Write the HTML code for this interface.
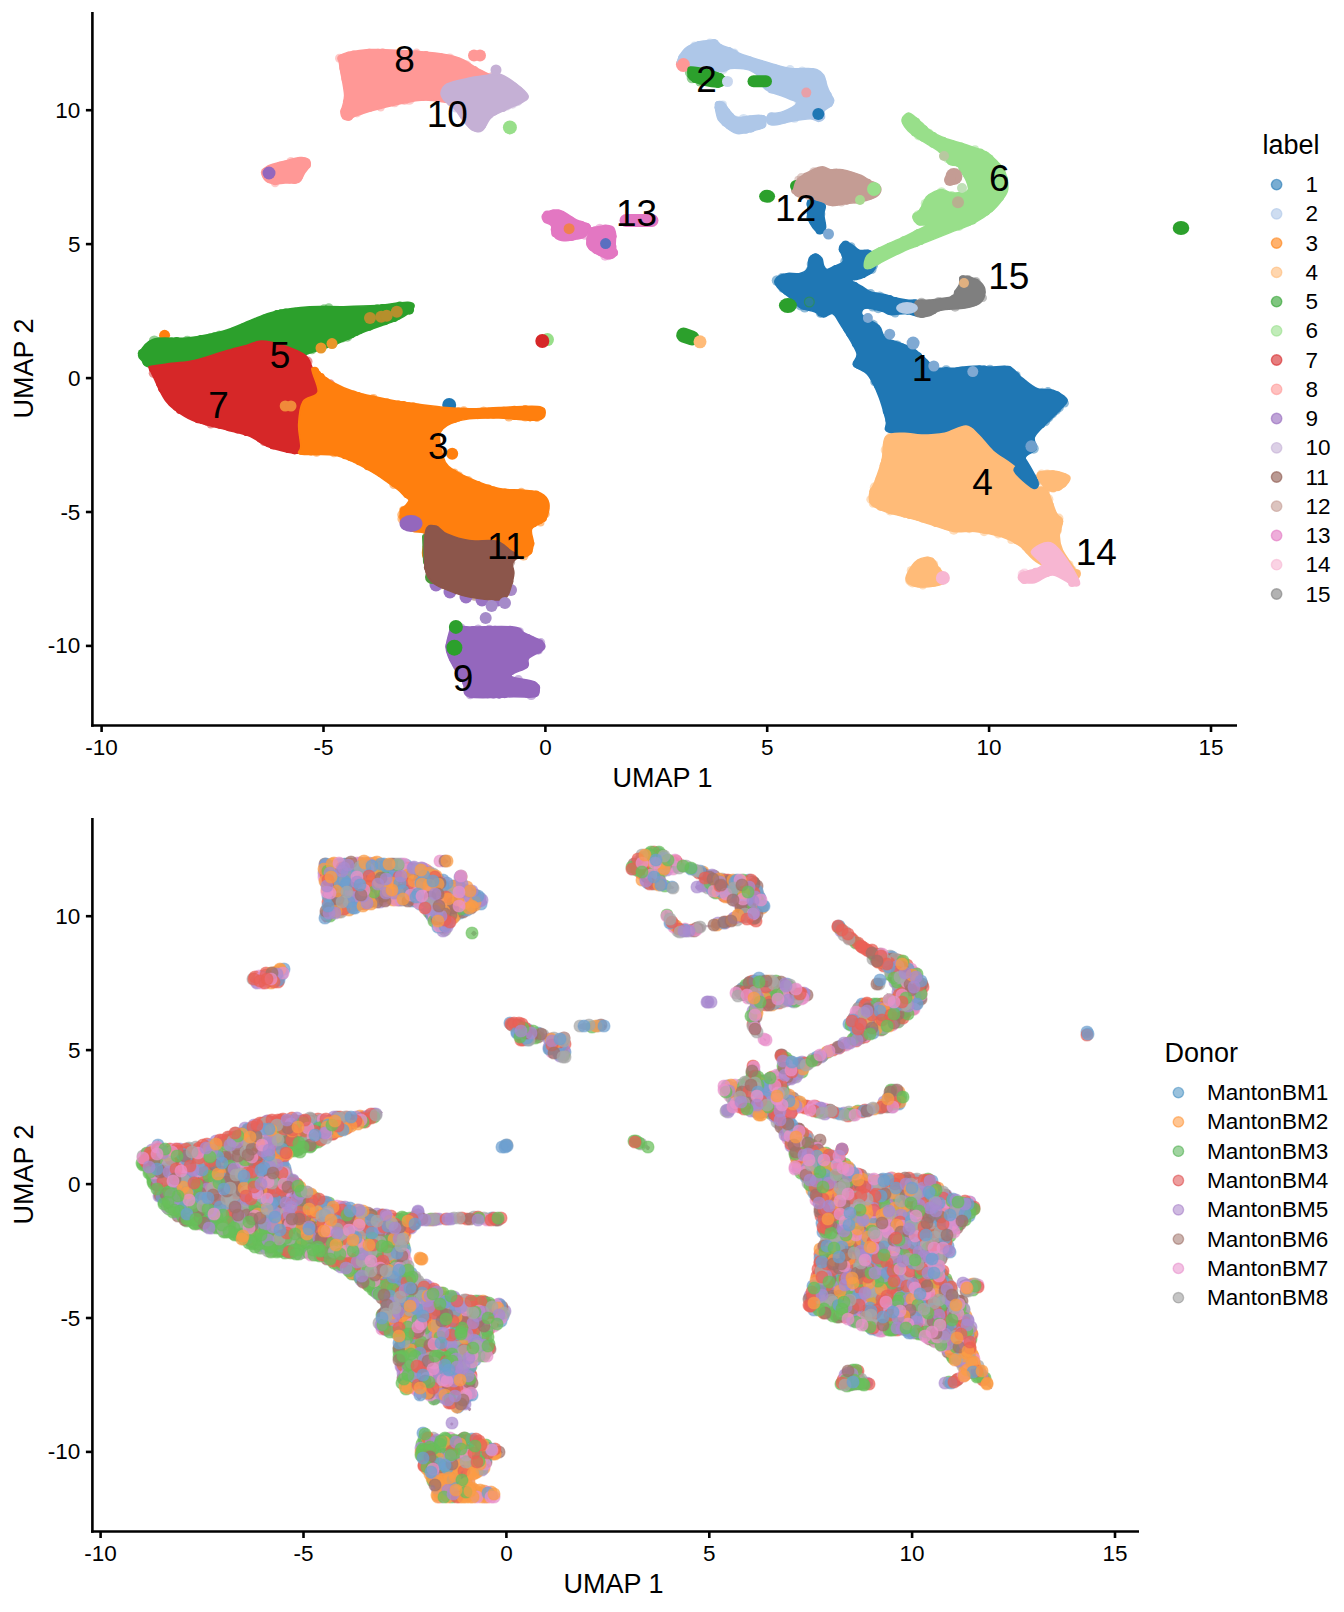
<!DOCTYPE html><html><head><meta charset="utf-8"><style>html,body{margin:0;padding:0;background:#fff;}svg{display:block;}text{font-family:"Liberation Sans", sans-serif;}</style></head><body>
<svg width="1344" height="1612" viewBox="0 0 1344 1612">
<rect width="1344" height="1612" fill="#fff"/>
<g>
<g fill="#2ca02c" fill-opacity=".5"><circle cx="154.3" cy="341.0" r="5.5"/><circle cx="161.7" cy="340.3" r="4.3"/><circle cx="187.3" cy="340.8" r="5.1"/><circle cx="219.3" cy="335.7" r="5.2"/><circle cx="324.0" cy="308.5" r="4.3"/><circle cx="328.8" cy="307.8" r="4.5"/><circle cx="347.3" cy="336.6" r="5.1"/><circle cx="342.8" cy="337.8" r="4.7"/><circle cx="312.1" cy="349.9" r="4.4"/><circle cx="297.8" cy="357.1" r="5.4"/><circle cx="245.4" cy="348.5" r="5.2"/><circle cx="241.2" cy="350.4" r="4.8"/><circle cx="226.6" cy="353.3" r="4.3"/><circle cx="200.0" cy="360.0" r="5.5"/><circle cx="190.9" cy="362.7" r="4.8"/><circle cx="166.3" cy="363.9" r="5.2"/></g>
<g fill="#2ca02c"><circle cx="142.1" cy="353.2" r="4.3"/><circle cx="144.4" cy="352.4" r="4.4"/><circle cx="150.4" cy="345.1" r="4.0"/><circle cx="161.7" cy="340.8" r="3.5"/><circle cx="166.3" cy="341.6" r="4.2"/><circle cx="171.4" cy="342.0" r="4.5"/><circle cx="176.7" cy="341.0" r="3.9"/><circle cx="187.3" cy="341.5" r="3.8"/><circle cx="200.9" cy="338.7" r="3.8"/><circle cx="210.2" cy="337.8" r="4.4"/><circle cx="214.6" cy="336.2" r="4.0"/><circle cx="219.4" cy="336.1" r="3.9"/><circle cx="228.9" cy="334.0" r="4.6"/><circle cx="233.6" cy="331.7" r="4.1"/><circle cx="243.2" cy="328.4" r="4.8"/><circle cx="251.7" cy="324.9" r="5.0"/><circle cx="260.1" cy="320.3" r="3.6"/><circle cx="264.4" cy="319.0" r="4.4"/><circle cx="276.9" cy="313.7" r="3.7"/><circle cx="281.0" cy="313.1" r="3.8"/><circle cx="285.7" cy="313.3" r="4.9"/><circle cx="290.4" cy="312.4" r="3.7"/><circle cx="295.3" cy="312.3" r="4.6"/><circle cx="305.2" cy="311.6" r="4.6"/><circle cx="324.0" cy="309.8" r="3.9"/><circle cx="343.2" cy="310.2" r="3.6"/><circle cx="352.9" cy="310.4" r="4.5"/><circle cx="357.8" cy="311.3" r="5.0"/><circle cx="377.0" cy="308.9" r="4.5"/><circle cx="382.7" cy="308.6" r="4.7"/><circle cx="399.9" cy="306.0" r="4.5"/><circle cx="409.3" cy="309.9" r="4.8"/><circle cx="409.0" cy="307.7" r="4.4"/><circle cx="397.6" cy="316.2" r="3.5"/><circle cx="394.2" cy="318.3" r="3.8"/><circle cx="389.3" cy="318.2" r="4.8"/><circle cx="385.0" cy="321.1" r="4.1"/><circle cx="369.4" cy="326.5" r="4.2"/><circle cx="360.0" cy="330.1" r="3.8"/><circle cx="355.6" cy="331.9" r="4.1"/><circle cx="351.2" cy="333.6" r="4.8"/><circle cx="347.3" cy="336.6" r="3.5"/><circle cx="342.2" cy="336.4" r="4.7"/><circle cx="334.8" cy="341.7" r="3.6"/><circle cx="316.2" cy="347.1" r="3.8"/><circle cx="297.2" cy="356.2" r="4.7"/><circle cx="293.0" cy="358.8" r="4.2"/><circle cx="290.6" cy="358.7" r="4.4"/><circle cx="267.0" cy="351.9" r="4.8"/><circle cx="261.6" cy="349.7" r="4.7"/><circle cx="250.3" cy="348.6" r="4.2"/><circle cx="245.4" cy="349.4" r="3.5"/><circle cx="240.9" cy="347.7" r="4.7"/><circle cx="222.3" cy="352.3" r="4.6"/><circle cx="213.9" cy="355.6" r="4.1"/><circle cx="209.2" cy="356.5" r="4.8"/><circle cx="199.8" cy="359.4" r="4.3"/><circle cx="195.0" cy="360.2" r="4.7"/><circle cx="181.6" cy="362.6" r="4.2"/><circle cx="171.4" cy="363.7" r="4.0"/><circle cx="161.5" cy="364.6" r="3.8"/><circle cx="157.1" cy="363.2" r="4.4"/><circle cx="153.3" cy="363.3" r="4.3"/><circle cx="150.9" cy="363.5" r="4.2"/><circle cx="146.1" cy="361.8" r="3.7"/></g>
<g fill="#d62728" fill-opacity=".5"><circle cx="176.4" cy="364.2" r="4.4"/><circle cx="185.0" cy="363.7" r="4.6"/><circle cx="194.8" cy="362.1" r="4.8"/><circle cx="199.7" cy="361.7" r="4.2"/><circle cx="210.0" cy="358.3" r="4.3"/><circle cx="219.8" cy="353.5" r="4.1"/><circle cx="229.7" cy="351.8" r="5.1"/><circle cx="239.0" cy="349.8" r="5.3"/><circle cx="283.0" cy="347.5" r="4.5"/><circle cx="307.6" cy="361.4" r="4.9"/><circle cx="330.1" cy="384.1" r="4.9"/><circle cx="323.7" cy="389.2" r="5.4"/><circle cx="310.3" cy="394.9" r="4.4"/><circle cx="301.4" cy="400.2" r="5.5"/><circle cx="296.1" cy="424.0" r="4.9"/><circle cx="297.0" cy="430.1" r="4.7"/><circle cx="264.3" cy="441.3" r="4.8"/><circle cx="210.8" cy="424.3" r="4.3"/><circle cx="153.5" cy="373.2" r="4.8"/></g>
<g fill="#d62728"><circle cx="172.6" cy="367.9" r="4.9"/><circle cx="180.7" cy="365.0" r="3.6"/><circle cx="189.9" cy="364.2" r="3.8"/><circle cx="200.2" cy="363.3" r="4.5"/><circle cx="225.4" cy="355.5" r="4.6"/><circle cx="230.1" cy="353.2" r="4.1"/><circle cx="234.8" cy="351.9" r="4.2"/><circle cx="239.2" cy="350.6" r="3.7"/><circle cx="261.6" cy="344.9" r="4.9"/><circle cx="287.3" cy="350.1" r="4.0"/><circle cx="291.8" cy="352.8" r="4.9"/><circle cx="301.0" cy="355.9" r="4.1"/><circle cx="307.5" cy="367.2" r="4.1"/><circle cx="311.5" cy="372.6" r="3.6"/><circle cx="326.8" cy="384.9" r="4.9"/><circle cx="323.5" cy="388.8" r="4.2"/><circle cx="318.2" cy="391.5" r="4.4"/><circle cx="310.0" cy="393.5" r="4.6"/><circle cx="304.6" cy="395.3" r="4.6"/><circle cx="297.2" cy="403.5" r="4.9"/><circle cx="295.3" cy="413.8" r="4.9"/><circle cx="295.9" cy="430.2" r="3.6"/><circle cx="296.5" cy="436.6" r="3.9"/><circle cx="294.7" cy="449.6" r="4.8"/><circle cx="288.6" cy="449.2" r="3.9"/><circle cx="273.6" cy="444.6" r="5.0"/><circle cx="268.5" cy="443.3" r="3.6"/><circle cx="260.7" cy="438.2" r="4.5"/><circle cx="256.5" cy="435.3" r="4.2"/><circle cx="246.7" cy="432.4" r="3.7"/><circle cx="237.6" cy="429.6" r="3.9"/><circle cx="229.0" cy="427.0" r="4.3"/><circle cx="224.4" cy="425.2" r="4.1"/><circle cx="219.7" cy="425.1" r="3.6"/><circle cx="206.7" cy="421.6" r="4.0"/><circle cx="202.3" cy="420.3" r="3.7"/><circle cx="197.9" cy="419.5" r="3.7"/><circle cx="180.0" cy="409.9" r="4.1"/><circle cx="176.8" cy="406.8" r="4.0"/><circle cx="172.1" cy="402.4" r="4.1"/><circle cx="162.6" cy="388.4" r="4.6"/><circle cx="160.4" cy="383.7" r="4.3"/><circle cx="152.3" cy="368.4" r="3.6"/></g>
<g fill="#ff7f0e" fill-opacity=".5"><circle cx="373.4" cy="398.2" r="4.1"/><circle cx="463.8" cy="411.0" r="4.7"/><circle cx="483.6" cy="411.6" r="5.2"/><circle cx="536.9" cy="417.8" r="4.2"/><circle cx="525.3" cy="417.0" r="4.6"/><circle cx="508.9" cy="416.9" r="4.6"/><circle cx="454.4" cy="472.7" r="4.3"/><circle cx="458.3" cy="476.0" r="4.8"/><circle cx="468.0" cy="481.1" r="5.0"/><circle cx="521.3" cy="491.9" r="4.2"/><circle cx="545.4" cy="514.0" r="4.4"/><circle cx="540.5" cy="522.4" r="4.0"/><circle cx="523.6" cy="555.6" r="5.0"/><circle cx="490.7" cy="557.5" r="4.9"/><circle cx="470.0" cy="558.3" r="4.7"/><circle cx="465.4" cy="558.1" r="4.8"/><circle cx="448.8" cy="557.9" r="5.2"/><circle cx="402.1" cy="518.9" r="4.7"/><circle cx="401.9" cy="514.8" r="4.7"/><circle cx="403.6" cy="510.3" r="4.6"/><circle cx="393.8" cy="484.6" r="4.5"/><circle cx="334.0" cy="452.8" r="4.5"/><circle cx="316.5" cy="452.3" r="4.5"/><circle cx="301.7" cy="441.7" r="4.0"/><circle cx="302.5" cy="410.1" r="4.6"/><circle cx="309.0" cy="399.9" r="4.5"/><circle cx="320.2" cy="392.9" r="4.6"/></g>
<g fill="#ff7f0e"><circle cx="314.8" cy="371.2" r="4.5"/><circle cx="315.6" cy="374.2" r="4.6"/><circle cx="320.8" cy="377.0" r="4.0"/><circle cx="325.4" cy="381.6" r="4.3"/><circle cx="353.3" cy="395.1" r="4.6"/><circle cx="358.0" cy="395.6" r="3.7"/><circle cx="362.7" cy="397.6" r="3.8"/><circle cx="367.5" cy="400.2" r="5.0"/><circle cx="373.0" cy="399.9" r="4.5"/><circle cx="382.9" cy="402.0" r="3.7"/><circle cx="387.2" cy="403.2" r="4.6"/><circle cx="393.3" cy="404.3" r="3.9"/><circle cx="398.4" cy="404.7" r="4.3"/><circle cx="403.3" cy="405.8" r="4.8"/><circle cx="409.2" cy="407.3" r="4.9"/><circle cx="413.4" cy="407.4" r="4.9"/><circle cx="418.0" cy="408.1" r="4.3"/><circle cx="427.8" cy="409.3" r="4.2"/><circle cx="437.7" cy="410.1" r="3.7"/><circle cx="453.2" cy="412.3" r="4.3"/><circle cx="458.5" cy="412.2" r="4.7"/><circle cx="463.8" cy="411.7" r="3.9"/><circle cx="488.6" cy="412.1" r="4.3"/><circle cx="493.7" cy="411.6" r="4.0"/><circle cx="499.2" cy="411.6" r="4.6"/><circle cx="503.8" cy="410.8" r="4.1"/><circle cx="514.4" cy="409.9" r="4.1"/><circle cx="525.2" cy="410.3" r="5.0"/><circle cx="534.2" cy="410.2" r="4.3"/><circle cx="536.6" cy="410.5" r="4.5"/><circle cx="530.1" cy="417.3" r="4.1"/><circle cx="525.3" cy="416.3" r="3.8"/><circle cx="514.5" cy="415.6" r="4.5"/><circle cx="509.0" cy="415.1" r="4.0"/><circle cx="493.4" cy="414.4" r="4.0"/><circle cx="488.0" cy="414.5" r="4.1"/><circle cx="477.8" cy="414.6" r="4.6"/><circle cx="473.2" cy="414.3" r="4.3"/><circle cx="458.0" cy="416.7" r="4.9"/><circle cx="454.0" cy="418.9" r="3.9"/><circle cx="449.6" cy="419.2" r="4.9"/><circle cx="443.4" cy="422.0" r="5.0"/><circle cx="439.4" cy="427.2" r="4.3"/><circle cx="436.1" cy="445.9" r="4.7"/><circle cx="438.2" cy="450.8" r="4.4"/><circle cx="439.1" cy="455.4" r="3.6"/><circle cx="453.6" cy="474.0" r="4.4"/><circle cx="458.1" cy="476.5" r="4.1"/><circle cx="477.6" cy="485.2" r="4.1"/><circle cx="488.1" cy="489.6" r="5.0"/><circle cx="493.4" cy="490.7" r="4.2"/><circle cx="498.3" cy="492.3" r="4.3"/><circle cx="504.9" cy="492.2" r="3.6"/><circle cx="526.3" cy="494.6" r="4.1"/><circle cx="531.5" cy="494.5" r="3.9"/><circle cx="536.2" cy="494.1" r="3.6"/><circle cx="542.8" cy="500.2" r="4.7"/><circle cx="544.4" cy="508.2" r="4.7"/><circle cx="543.3" cy="518.3" r="3.6"/><circle cx="539.2" cy="520.3" r="4.0"/><circle cx="533.9" cy="523.0" r="4.2"/><circle cx="528.8" cy="527.1" r="3.8"/><circle cx="530.7" cy="543.6" r="3.8"/><circle cx="528.6" cy="547.3" r="4.4"/><circle cx="528.9" cy="551.0" r="3.7"/><circle cx="519.3" cy="554.8" r="3.6"/><circle cx="509.8" cy="556.3" r="3.9"/><circle cx="504.7" cy="556.3" r="4.5"/><circle cx="499.8" cy="557.3" r="4.0"/><circle cx="495.2" cy="555.9" r="4.5"/><circle cx="490.7" cy="556.7" r="4.3"/><circle cx="486.1" cy="555.7" r="4.7"/><circle cx="475.9" cy="556.0" r="4.3"/><circle cx="465.3" cy="555.9" r="4.9"/><circle cx="460.1" cy="557.0" r="4.5"/><circle cx="454.5" cy="557.0" r="4.8"/><circle cx="438.0" cy="558.1" r="4.7"/><circle cx="433.4" cy="557.6" r="4.2"/><circle cx="429.7" cy="558.3" r="3.6"/><circle cx="426.5" cy="555.2" r="3.7"/><circle cx="426.5" cy="551.7" r="4.2"/><circle cx="427.6" cy="546.8" r="4.9"/><circle cx="429.0" cy="536.2" r="4.0"/><circle cx="418.6" cy="527.7" r="4.4"/><circle cx="413.2" cy="527.5" r="3.9"/><circle cx="405.0" cy="521.9" r="4.1"/><circle cx="403.8" cy="510.4" r="3.9"/><circle cx="408.7" cy="507.3" r="3.6"/><circle cx="407.2" cy="494.2" r="3.9"/><circle cx="405.0" cy="490.1" r="4.9"/><circle cx="394.8" cy="483.2" r="4.1"/><circle cx="381.1" cy="472.5" r="4.8"/><circle cx="375.7" cy="469.7" r="4.0"/><circle cx="371.9" cy="467.7" r="3.8"/><circle cx="367.6" cy="466.0" r="4.2"/><circle cx="359.0" cy="461.6" r="3.6"/><circle cx="355.1" cy="459.1" r="3.5"/><circle cx="350.4" cy="456.3" r="4.9"/><circle cx="345.0" cy="455.6" r="3.7"/><circle cx="328.6" cy="450.1" r="4.8"/><circle cx="322.5" cy="451.3" r="3.6"/><circle cx="316.5" cy="451.5" r="3.7"/><circle cx="311.1" cy="451.8" r="3.7"/><circle cx="301.4" cy="451.0" r="3.8"/><circle cx="303.7" cy="446.8" r="4.1"/><circle cx="304.1" cy="441.4" r="4.0"/><circle cx="302.5" cy="419.6" r="4.5"/><circle cx="304.8" cy="406.5" r="4.1"/><circle cx="305.4" cy="403.8" r="3.7"/><circle cx="309.9" cy="401.7" r="4.5"/><circle cx="315.9" cy="398.8" r="4.4"/><circle cx="321.7" cy="386.7" r="4.1"/><circle cx="317.2" cy="374.2" r="3.9"/></g>
<g fill="#8c564b" fill-opacity=".5"><circle cx="450.1" cy="537.1" r="4.2"/><circle cx="454.2" cy="539.2" r="4.3"/><circle cx="508.3" cy="552.5" r="4.8"/><circle cx="510.7" cy="562.3" r="4.4"/><circle cx="491.7" cy="597.2" r="5.0"/><circle cx="474.4" cy="596.4" r="4.4"/><circle cx="469.9" cy="594.2" r="4.5"/><circle cx="441.5" cy="584.9" r="4.3"/><circle cx="433.3" cy="579.0" r="4.8"/><circle cx="427.4" cy="534.1" r="4.0"/></g>
<g fill="#8c564b"><circle cx="429.6" cy="532.3" r="4.5"/><circle cx="435.2" cy="529.0" r="4.4"/><circle cx="440.1" cy="533.9" r="4.1"/><circle cx="454.0" cy="539.7" r="4.0"/><circle cx="463.6" cy="543.4" r="4.3"/><circle cx="468.8" cy="544.3" r="4.5"/><circle cx="486.2" cy="544.9" r="4.8"/><circle cx="499.9" cy="546.8" r="4.4"/><circle cx="504.4" cy="549.2" r="3.9"/><circle cx="508.0" cy="552.8" r="3.9"/><circle cx="513.1" cy="555.9" r="3.6"/><circle cx="514.9" cy="555.1" r="4.2"/><circle cx="509.0" cy="561.6" r="4.8"/><circle cx="508.8" cy="581.5" r="4.6"/><circle cx="501.8" cy="596.4" r="4.1"/><circle cx="495.9" cy="597.3" r="3.5"/><circle cx="474.8" cy="593.5" r="4.6"/><circle cx="464.5" cy="592.2" r="4.2"/><circle cx="455.5" cy="589.6" r="4.1"/><circle cx="433.4" cy="578.9" r="3.7"/><circle cx="429.6" cy="571.3" r="4.2"/><circle cx="427.5" cy="567.5" r="3.6"/><circle cx="427.7" cy="561.2" r="3.8"/><circle cx="428.6" cy="556.7" r="4.8"/><circle cx="428.0" cy="545.1" r="4.3"/><circle cx="428.5" cy="539.3" r="4.9"/><circle cx="429.0" cy="534.4" r="4.8"/></g>
<g fill="#9467bd" fill-opacity=".5"><circle cx="460.6" cy="628.0" r="4.8"/><circle cx="478.1" cy="630.0" r="5.4"/><circle cx="489.2" cy="629.6" r="4.9"/><circle cx="519.6" cy="631.4" r="4.2"/><circle cx="540.8" cy="642.5" r="4.4"/><circle cx="538.1" cy="649.7" r="5.0"/><circle cx="518.3" cy="679.7" r="4.7"/><circle cx="531.2" cy="694.8" r="5.3"/><circle cx="499.2" cy="694.4" r="4.5"/><circle cx="470.3" cy="694.7" r="4.5"/></g>
<g fill="#9467bd"><circle cx="453.4" cy="627.8" r="3.6"/><circle cx="454.8" cy="629.7" r="4.3"/><circle cx="473.3" cy="630.6" r="4.7"/><circle cx="495.0" cy="629.8" r="4.1"/><circle cx="500.6" cy="630.5" r="4.5"/><circle cx="510.2" cy="629.7" r="4.0"/><circle cx="521.9" cy="636.3" r="4.1"/><circle cx="527.3" cy="637.9" r="4.0"/><circle cx="532.0" cy="641.3" r="4.8"/><circle cx="536.6" cy="643.5" r="5.0"/><circle cx="539.4" cy="643.3" r="4.1"/><circle cx="538.1" cy="649.7" r="4.0"/><circle cx="523.9" cy="664.7" r="4.4"/><circle cx="510.9" cy="671.4" r="3.8"/><circle cx="508.4" cy="676.7" r="3.5"/><circle cx="532.1" cy="685.8" r="4.8"/><circle cx="536.3" cy="687.7" r="3.9"/><circle cx="527.0" cy="693.0" r="4.7"/><circle cx="513.9" cy="692.4" r="4.5"/><circle cx="504.7" cy="693.5" r="4.7"/><circle cx="499.2" cy="693.5" r="4.9"/><circle cx="493.5" cy="694.6" r="4.0"/><circle cx="487.7" cy="694.4" r="3.8"/><circle cx="477.3" cy="693.0" r="5.0"/><circle cx="471.0" cy="693.2" r="4.5"/><circle cx="465.9" cy="682.6" r="3.7"/><circle cx="463.0" cy="677.9" r="3.7"/><circle cx="460.2" cy="673.0" r="3.8"/><circle cx="456.3" cy="663.7" r="4.1"/><circle cx="454.0" cy="658.8" r="4.7"/><circle cx="452.7" cy="655.1" r="4.9"/><circle cx="450.7" cy="651.1" r="4.4"/><circle cx="450.1" cy="646.4" r="4.8"/><circle cx="452.9" cy="630.8" r="3.6"/></g>
<g fill="#ff9896" fill-opacity=".5"><circle cx="416.5" cy="52.8" r="4.3"/><circle cx="449.7" cy="58.2" r="4.8"/><circle cx="466.2" cy="65.5" r="5.3"/><circle cx="491.6" cy="76.7" r="4.5"/><circle cx="464.7" cy="102.4" r="4.9"/><circle cx="409.2" cy="99.4" r="5.4"/><circle cx="404.4" cy="99.9" r="5.1"/><circle cx="394.6" cy="102.1" r="5.2"/><circle cx="380.7" cy="107.3" r="4.2"/><circle cx="357.0" cy="112.8" r="4.6"/><circle cx="339.5" cy="58.3" r="4.5"/></g>
<g fill="#ff9896"><circle cx="343.7" cy="58.7" r="4.9"/><circle cx="348.8" cy="55.1" r="3.7"/><circle cx="353.6" cy="54.6" r="4.0"/><circle cx="364.3" cy="54.8" r="4.8"/><circle cx="369.3" cy="53.3" r="4.6"/><circle cx="378.0" cy="53.2" r="4.4"/><circle cx="382.7" cy="52.6" r="4.0"/><circle cx="406.6" cy="54.4" r="4.2"/><circle cx="411.4" cy="55.7" r="5.0"/><circle cx="416.4" cy="54.4" r="4.1"/><circle cx="425.9" cy="55.8" r="4.7"/><circle cx="430.3" cy="56.7" r="4.2"/><circle cx="440.0" cy="57.1" r="4.0"/><circle cx="444.8" cy="58.8" r="4.7"/><circle cx="449.4" cy="59.6" r="4.4"/><circle cx="457.8" cy="61.1" r="3.6"/><circle cx="474.4" cy="70.5" r="4.4"/><circle cx="480.0" cy="73.5" r="3.5"/><circle cx="490.4" cy="79.7" r="4.3"/><circle cx="500.8" cy="82.6" r="4.1"/><circle cx="500.6" cy="82.9" r="4.9"/><circle cx="495.2" cy="90.3" r="4.9"/><circle cx="488.4" cy="96.9" r="4.1"/><circle cx="484.7" cy="97.6" r="4.2"/><circle cx="480.2" cy="99.1" r="4.3"/><circle cx="475.2" cy="100.2" r="3.6"/><circle cx="469.9" cy="100.8" r="3.8"/><circle cx="464.7" cy="101.0" r="4.1"/><circle cx="460.0" cy="100.1" r="4.4"/><circle cx="450.7" cy="99.7" r="4.2"/><circle cx="446.2" cy="99.1" r="3.6"/><circle cx="432.7" cy="96.1" r="4.5"/><circle cx="423.5" cy="96.3" r="4.7"/><circle cx="417.5" cy="95.8" r="4.6"/><circle cx="385.0" cy="103.1" r="4.2"/><circle cx="369.8" cy="108.0" r="3.7"/><circle cx="360.6" cy="110.6" r="4.1"/><circle cx="356.3" cy="111.2" r="4.8"/><circle cx="348.8" cy="116.4" r="4.5"/><circle cx="344.8" cy="111.3" r="4.6"/><circle cx="345.1" cy="111.0" r="4.0"/><circle cx="347.3" cy="101.8" r="4.4"/><circle cx="346.0" cy="78.7" r="4.6"/><circle cx="345.3" cy="72.9" r="4.7"/><circle cx="343.8" cy="67.9" r="4.4"/><circle cx="341.1" cy="58.5" r="3.8"/></g>
<g fill="#c5b0d5" fill-opacity=".5"><circle cx="448.9" cy="86.7" r="5.2"/><circle cx="451.9" cy="84.7" r="5.1"/><circle cx="494.7" cy="75.9" r="5.3"/><circle cx="517.3" cy="100.8" r="5.4"/><circle cx="512.3" cy="103.2" r="5.5"/><circle cx="506.9" cy="105.5" r="5.0"/><circle cx="455.2" cy="107.6" r="4.8"/></g>
<g fill="#c5b0d5"><circle cx="444.8" cy="92.4" r="4.5"/><circle cx="444.6" cy="89.8" r="3.7"/><circle cx="452.3" cy="85.6" r="4.3"/><circle cx="473.7" cy="81.1" r="4.8"/><circle cx="478.8" cy="79.3" r="3.5"/><circle cx="484.3" cy="79.5" r="3.9"/><circle cx="489.8" cy="78.3" r="3.9"/><circle cx="513.7" cy="87.5" r="4.9"/><circle cx="518.8" cy="90.7" r="4.2"/><circle cx="519.7" cy="98.5" r="4.9"/><circle cx="502.9" cy="107.6" r="4.4"/><circle cx="494.1" cy="111.8" r="3.6"/><circle cx="489.5" cy="114.4" r="4.0"/><circle cx="482.6" cy="125.3" r="3.6"/><circle cx="477.2" cy="128.2" r="4.0"/><circle cx="463.7" cy="115.5" r="4.2"/><circle cx="450.5" cy="102.2" r="3.7"/><circle cx="446.4" cy="99.0" r="3.5"/></g>
<g fill="#ff9896" fill-opacity=".5"><circle cx="290.9" cy="161.4" r="4.4"/><circle cx="275.1" cy="183.0" r="4.3"/></g>
<g fill="#ff9896"><circle cx="265.3" cy="172.3" r="4.4"/><circle cx="265.6" cy="171.0" r="3.6"/><circle cx="274.1" cy="167.9" r="4.0"/><circle cx="280.0" cy="166.1" r="4.4"/><circle cx="291.6" cy="164.0" r="4.8"/><circle cx="299.7" cy="161.6" r="4.5"/><circle cx="305.3" cy="162.7" r="4.8"/><circle cx="307.0" cy="164.8" r="4.0"/><circle cx="300.3" cy="171.8" r="4.6"/><circle cx="298.2" cy="176.1" r="5.0"/><circle cx="294.6" cy="180.2" r="3.7"/><circle cx="289.6" cy="178.7" r="4.7"/><circle cx="279.2" cy="179.1" r="4.7"/><circle cx="275.2" cy="181.6" r="3.6"/><circle cx="269.7" cy="178.0" r="4.9"/></g>
<g fill="#aec7e8" fill-opacity=".5"><circle cx="694.5" cy="46.1" r="4.5"/><circle cx="709.9" cy="42.9" r="4.3"/><circle cx="733.9" cy="53.6" r="5.1"/><circle cx="790.0" cy="69.8" r="4.8"/><circle cx="802.1" cy="72.0" r="5.4"/><circle cx="794.5" cy="117.5" r="5.2"/><circle cx="773.0" cy="117.3" r="5.1"/><circle cx="799.7" cy="101.7" r="5.2"/><circle cx="723.1" cy="69.5" r="4.6"/><circle cx="700.1" cy="66.9" r="4.2"/></g>
<g fill="#aec7e8"><circle cx="682.5" cy="57.9" r="4.5"/><circle cx="690.0" cy="49.3" r="3.7"/><circle cx="694.8" cy="46.7" r="3.8"/><circle cx="699.3" cy="45.4" r="4.3"/><circle cx="714.1" cy="43.6" r="4.6"/><circle cx="719.2" cy="47.7" r="4.0"/><circle cx="728.9" cy="51.4" r="4.4"/><circle cx="733.5" cy="54.3" r="4.9"/><circle cx="738.8" cy="57.0" r="3.7"/><circle cx="743.7" cy="58.5" r="3.5"/><circle cx="749.3" cy="60.8" r="4.5"/><circle cx="753.5" cy="62.2" r="4.0"/><circle cx="763.8" cy="65.4" r="4.4"/><circle cx="774.1" cy="68.2" r="4.3"/><circle cx="796.2" cy="71.7" r="3.8"/><circle cx="806.8" cy="72.6" r="4.5"/><circle cx="812.0" cy="73.0" r="4.9"/><circle cx="815.1" cy="73.2" r="4.2"/><circle cx="822.1" cy="81.5" r="4.2"/><circle cx="828.1" cy="95.0" r="3.6"/><circle cx="828.3" cy="102.8" r="4.9"/><circle cx="820.7" cy="109.4" r="4.2"/><circle cx="821.0" cy="116.2" r="4.0"/><circle cx="789.2" cy="116.7" r="4.9"/><circle cx="784.0" cy="118.9" r="4.7"/><circle cx="777.0" cy="120.4" r="4.5"/><circle cx="771.4" cy="116.8" r="4.5"/><circle cx="800.4" cy="101.3" r="4.0"/><circle cx="781.3" cy="91.8" r="3.9"/><circle cx="771.9" cy="88.7" r="4.9"/><circle cx="760.7" cy="74.1" r="3.9"/><circle cx="756.9" cy="69.4" r="4.8"/><circle cx="746.3" cy="65.2" r="4.4"/><circle cx="740.6" cy="65.4" r="3.6"/><circle cx="729.3" cy="64.8" r="4.1"/><circle cx="706.2" cy="65.8" r="5.0"/><circle cx="695.2" cy="63.5" r="4.6"/></g>
<g fill="#aec7e8" fill-opacity=".5"><circle cx="722.8" cy="104.5" r="4.1"/><circle cx="736.2" cy="120.5" r="4.7"/><circle cx="743.6" cy="119.4" r="5.4"/></g>
<g fill="#aec7e8"><circle cx="718.4" cy="104.6" r="3.7"/><circle cx="726.3" cy="112.0" r="4.1"/><circle cx="730.1" cy="116.9" r="4.5"/><circle cx="735.8" cy="121.6" r="4.6"/><circle cx="743.7" cy="120.7" r="4.1"/><circle cx="750.5" cy="119.9" r="4.4"/><circle cx="755.7" cy="119.2" r="4.0"/><circle cx="759.4" cy="119.0" r="4.1"/><circle cx="762.3" cy="119.6" r="4.7"/><circle cx="762.3" cy="121.6" r="4.2"/><circle cx="758.4" cy="125.1" r="4.7"/><circle cx="750.8" cy="127.9" r="4.8"/><circle cx="745.8" cy="129.2" r="4.5"/><circle cx="734.0" cy="127.9" r="4.5"/><circle cx="730.1" cy="124.9" r="5.0"/><circle cx="725.4" cy="122.6" r="4.1"/><circle cx="721.4" cy="114.0" r="5.0"/><circle cx="718.8" cy="107.3" r="4.4"/></g>
<g fill="#2ca02c" fill-opacity=".5"><circle cx="706.8" cy="72.7" r="5.2"/><circle cx="723.1" cy="80.8" r="4.9"/><circle cx="700.0" cy="81.9" r="4.6"/><circle cx="691.9" cy="78.0" r="5.2"/><circle cx="690.1" cy="72.5" r="5.2"/></g>
<g fill="#2ca02c"><circle cx="692.2" cy="69.8" r="4.4"/><circle cx="700.6" cy="72.2" r="4.6"/><circle cx="716.8" cy="76.6" r="4.4"/><circle cx="719.8" cy="77.4" r="4.4"/><circle cx="721.5" cy="80.5" r="4.7"/><circle cx="718.1" cy="82.9" r="5.0"/><circle cx="715.9" cy="82.3" r="4.6"/><circle cx="700.5" cy="80.4" r="4.0"/><circle cx="695.2" cy="78.9" r="4.0"/><circle cx="693.1" cy="77.2" r="3.8"/><circle cx="691.4" cy="72.5" r="4.2"/></g>
<g fill="#e377c2" fill-opacity=".5"><circle cx="584.8" cy="235.3" r="4.5"/></g>
<g fill="#e377c2"><circle cx="547.2" cy="215.1" r="4.6"/><circle cx="553.5" cy="213.6" r="4.0"/><circle cx="565.5" cy="218.0" r="4.4"/><circle cx="570.4" cy="220.4" r="4.2"/><circle cx="580.9" cy="224.8" r="4.0"/><circle cx="586.4" cy="226.7" r="4.0"/><circle cx="585.1" cy="229.3" r="4.5"/><circle cx="582.6" cy="233.0" r="4.4"/><circle cx="575.8" cy="235.5" r="3.7"/><circle cx="571.3" cy="237.0" r="3.9"/><circle cx="566.2" cy="236.9" r="4.2"/><circle cx="562.6" cy="237.0" r="4.0"/><circle cx="558.1" cy="235.7" r="3.5"/><circle cx="555.0" cy="233.4" r="3.7"/><circle cx="554.7" cy="229.6" r="4.0"/></g>
<g fill="#e377c2" fill-opacity=".5"><circle cx="599.8" cy="229.0" r="5.2"/><circle cx="608.2" cy="254.7" r="5.5"/><circle cx="605.1" cy="255.9" r="4.8"/></g>
<g fill="#e377c2"><circle cx="592.5" cy="231.1" r="4.1"/><circle cx="594.6" cy="230.8" r="4.3"/><circle cx="599.9" cy="229.6" r="3.5"/><circle cx="605.2" cy="228.4" r="3.8"/><circle cx="612.4" cy="236.3" r="4.3"/><circle cx="612.6" cy="246.8" r="3.9"/><circle cx="614.1" cy="252.7" r="4.0"/><circle cx="605.7" cy="254.3" r="4.1"/><circle cx="600.7" cy="251.5" r="4.6"/><circle cx="596.0" cy="249.9" r="4.2"/><circle cx="592.1" cy="246.7" r="4.2"/><circle cx="590.1" cy="239.3" r="3.8"/><circle cx="592.6" cy="234.3" r="4.6"/></g>
<g fill="#c49c94" fill-opacity=".5"><circle cx="796.5" cy="189.8" r="5.0"/><circle cx="798.4" cy="179.9" r="4.1"/><circle cx="801.5" cy="177.8" r="4.7"/><circle cx="814.1" cy="172.0" r="4.8"/><circle cx="856.2" cy="200.0" r="4.1"/><circle cx="841.5" cy="202.3" r="4.2"/><circle cx="813.4" cy="197.1" r="4.6"/><circle cx="808.5" cy="195.7" r="4.4"/></g>
<g fill="#c49c94"><circle cx="803.0" cy="179.8" r="3.8"/><circle cx="806.4" cy="176.5" r="3.9"/><circle cx="829.6" cy="174.3" r="5.0"/><circle cx="841.1" cy="173.0" r="3.8"/><circle cx="863.6" cy="181.1" r="4.2"/><circle cx="868.0" cy="182.3" r="3.5"/><circle cx="873.0" cy="185.3" r="3.7"/><circle cx="875.9" cy="187.3" r="4.3"/><circle cx="873.0" cy="193.4" r="4.6"/><circle cx="870.7" cy="195.6" r="3.8"/><circle cx="855.9" cy="197.9" r="4.7"/><circle cx="846.6" cy="201.1" r="3.6"/><circle cx="836.5" cy="201.8" r="3.7"/><circle cx="832.6" cy="202.5" r="3.8"/><circle cx="828.3" cy="200.9" r="4.4"/><circle cx="823.8" cy="200.1" r="3.6"/><circle cx="819.0" cy="198.4" r="3.5"/><circle cx="813.8" cy="195.7" r="4.3"/><circle cx="808.6" cy="194.7" r="4.6"/><circle cx="795.2" cy="190.3" r="4.1"/></g>
<g fill="#1f77b4" fill-opacity=".5"><circle cx="820.2" cy="214.0" r="5.2"/><circle cx="811.2" cy="217.3" r="5.1"/></g>
<g fill="#1f77b4"><circle cx="811.3" cy="204.0" r="5.0"/><circle cx="813.3" cy="204.2" r="4.4"/><circle cx="820.3" cy="214.0" r="4.1"/><circle cx="821.2" cy="224.2" r="4.4"/><circle cx="819.5" cy="230.6" r="4.0"/><circle cx="813.2" cy="221.8" r="3.5"/><circle cx="812.2" cy="217.1" r="5.0"/><circle cx="811.3" cy="213.3" r="4.6"/><circle cx="811.4" cy="208.6" r="4.0"/></g>
<g fill="#1f77b4" fill-opacity=".5"><circle cx="776.9" cy="280.5" r="5.2"/><circle cx="781.9" cy="277.7" r="4.6"/><circle cx="810.5" cy="270.5" r="5.0"/><circle cx="811.5" cy="264.0" r="4.8"/><circle cx="845.1" cy="261.7" r="4.9"/><circle cx="845.6" cy="245.0" r="4.6"/><circle cx="851.2" cy="246.4" r="4.2"/><circle cx="872.8" cy="264.9" r="5.4"/><circle cx="871.6" cy="269.1" r="5.0"/><circle cx="870.4" cy="294.2" r="5.1"/><circle cx="879.7" cy="296.6" r="5.2"/><circle cx="895.2" cy="313.1" r="4.4"/><circle cx="878.2" cy="308.2" r="5.0"/><circle cx="872.8" cy="306.2" r="5.2"/><circle cx="872.6" cy="325.1" r="5.5"/><circle cx="882.7" cy="338.6" r="4.8"/><circle cx="896.9" cy="345.6" r="5.4"/><circle cx="929.3" cy="366.2" r="4.2"/><circle cx="946.2" cy="370.3" r="5.1"/><circle cx="989.9" cy="368.9" r="4.1"/><circle cx="1016.4" cy="375.4" r="4.3"/><circle cx="1042.5" cy="393.3" r="5.5"/><circle cx="1047.9" cy="391.6" r="4.5"/><circle cx="1064.5" cy="403.2" r="4.4"/><circle cx="1059.3" cy="407.6" r="4.6"/><circle cx="1055.8" cy="410.2" r="5.0"/><circle cx="1052.6" cy="414.0" r="4.4"/><circle cx="1048.3" cy="417.1" r="5.3"/><circle cx="1045.1" cy="421.1" r="5.2"/><circle cx="1033.7" cy="448.6" r="5.1"/><circle cx="1033.3" cy="479.4" r="5.4"/><circle cx="1035.7" cy="481.2" r="5.3"/><circle cx="1004.2" cy="458.8" r="4.4"/><circle cx="962.1" cy="428.0" r="5.1"/><circle cx="957.6" cy="429.2" r="4.1"/><circle cx="936.6" cy="431.6" r="5.4"/><circle cx="895.8" cy="431.9" r="5.0"/><circle cx="874.7" cy="381.7" r="4.5"/><circle cx="820.8" cy="312.8" r="5.1"/><circle cx="804.8" cy="307.8" r="4.8"/><circle cx="800.6" cy="305.4" r="5.1"/><circle cx="782.6" cy="288.5" r="4.2"/></g>
<g fill="#1f77b4"><circle cx="782.6" cy="279.0" r="4.4"/><circle cx="800.1" cy="277.0" r="3.6"/><circle cx="811.3" cy="270.9" r="4.8"/><circle cx="811.8" cy="264.1" r="3.5"/><circle cx="815.5" cy="257.0" r="3.7"/><circle cx="835.8" cy="269.8" r="4.7"/><circle cx="841.4" cy="267.6" r="4.2"/><circle cx="847.1" cy="262.5" r="4.3"/><circle cx="844.0" cy="250.6" r="4.2"/><circle cx="843.5" cy="249.3" r="4.9"/><circle cx="845.6" cy="244.8" r="4.0"/><circle cx="867.6" cy="253.6" r="3.9"/><circle cx="872.4" cy="254.9" r="3.5"/><circle cx="875.7" cy="257.2" r="3.7"/><circle cx="873.3" cy="259.4" r="4.5"/><circle cx="870.1" cy="267.9" r="4.7"/><circle cx="862.8" cy="274.4" r="3.6"/><circle cx="854.5" cy="275.2" r="4.9"/><circle cx="847.7" cy="280.8" r="4.9"/><circle cx="854.3" cy="286.3" r="4.6"/><circle cx="860.2" cy="290.2" r="4.3"/><circle cx="869.7" cy="295.9" r="4.3"/><circle cx="874.9" cy="296.4" r="4.1"/><circle cx="879.6" cy="297.4" r="3.7"/><circle cx="889.6" cy="298.7" r="3.8"/><circle cx="894.9" cy="301.6" r="4.6"/><circle cx="912.7" cy="304.3" r="4.5"/><circle cx="915.0" cy="303.8" r="4.5"/><circle cx="914.3" cy="311.0" r="4.5"/><circle cx="907.4" cy="310.0" r="4.7"/><circle cx="901.2" cy="310.3" r="3.7"/><circle cx="891.2" cy="310.4" r="4.8"/><circle cx="883.6" cy="308.1" r="3.9"/><circle cx="873.1" cy="305.1" r="3.8"/><circle cx="867.4" cy="304.5" r="4.2"/><circle cx="859.0" cy="308.6" r="4.1"/><circle cx="860.2" cy="318.8" r="4.9"/><circle cx="865.7" cy="323.7" r="4.7"/><circle cx="872.5" cy="325.3" r="3.6"/><circle cx="881.7" cy="339.5" r="4.7"/><circle cx="886.9" cy="342.6" r="4.6"/><circle cx="896.8" cy="346.0" r="3.7"/><circle cx="901.7" cy="347.5" r="4.2"/><circle cx="913.9" cy="354.1" r="4.3"/><circle cx="918.2" cy="356.1" r="3.9"/><circle cx="924.9" cy="362.9" r="3.8"/><circle cx="933.3" cy="371.2" r="4.4"/><circle cx="946.2" cy="371.8" r="4.7"/><circle cx="957.5" cy="371.2" r="3.7"/><circle cx="968.5" cy="370.4" r="4.0"/><circle cx="979.4" cy="369.6" r="4.2"/><circle cx="984.2" cy="370.1" r="4.5"/><circle cx="994.7" cy="370.3" r="3.5"/><circle cx="1004.8" cy="369.8" r="4.0"/><circle cx="1008.4" cy="370.1" r="4.4"/><circle cx="1011.8" cy="372.6" r="3.7"/><circle cx="1015.3" cy="376.3" r="4.6"/><circle cx="1023.4" cy="383.8" r="4.2"/><circle cx="1056.7" cy="396.1" r="4.8"/><circle cx="1061.7" cy="399.0" r="3.9"/><circle cx="1058.1" cy="406.4" r="3.8"/><circle cx="1055.0" cy="409.4" r="4.3"/><circle cx="1051.7" cy="413.0" r="4.1"/><circle cx="1048.4" cy="417.2" r="3.5"/><circle cx="1043.9" cy="419.9" r="4.3"/><circle cx="1041.2" cy="424.3" r="4.0"/><circle cx="1031.5" cy="443.8" r="4.4"/><circle cx="1025.0" cy="451.8" r="4.2"/><circle cx="1021.0" cy="458.0" r="4.3"/><circle cx="1022.6" cy="464.4" r="4.6"/><circle cx="1026.8" cy="469.2" r="3.8"/><circle cx="1032.7" cy="479.8" r="4.6"/><circle cx="1034.0" cy="480.7" r="4.2"/><circle cx="1031.0" cy="484.7" r="4.2"/><circle cx="1032.2" cy="483.3" r="4.0"/><circle cx="1028.5" cy="480.4" r="4.4"/><circle cx="1020.3" cy="472.2" r="3.9"/><circle cx="1008.6" cy="461.4" r="3.6"/><circle cx="996.7" cy="451.5" r="3.7"/><circle cx="985.5" cy="439.1" r="3.9"/><circle cx="982.6" cy="434.9" r="4.5"/><circle cx="977.8" cy="432.5" r="3.8"/><circle cx="952.2" cy="427.5" r="4.8"/><circle cx="926.6" cy="431.7" r="4.2"/><circle cx="921.6" cy="432.1" r="3.5"/><circle cx="916.3" cy="431.7" r="3.8"/><circle cx="905.6" cy="430.5" r="4.8"/><circle cx="896.0" cy="430.8" r="3.6"/><circle cx="888.9" cy="420.4" r="3.5"/><circle cx="886.2" cy="411.1" r="3.5"/><circle cx="878.2" cy="385.8" r="4.0"/><circle cx="875.4" cy="381.3" r="3.9"/><circle cx="873.7" cy="376.4" r="4.4"/><circle cx="871.2" cy="371.6" r="5.0"/><circle cx="864.3" cy="368.1" r="3.5"/><circle cx="858.9" cy="365.0" r="4.2"/><circle cx="856.5" cy="364.2" r="3.6"/><circle cx="855.5" cy="343.7" r="3.7"/><circle cx="850.6" cy="333.7" r="4.4"/><circle cx="848.3" cy="328.7" r="5.0"/><circle cx="843.6" cy="321.4" r="4.5"/><circle cx="839.0" cy="314.2" r="4.4"/><circle cx="823.7" cy="312.5" r="4.7"/><circle cx="820.7" cy="312.9" r="3.6"/><circle cx="816.6" cy="307.6" r="4.7"/><circle cx="805.1" cy="306.6" r="3.5"/><circle cx="798.5" cy="301.5" r="4.7"/><circle cx="795.3" cy="298.4" r="3.9"/><circle cx="792.4" cy="294.4" r="4.7"/><circle cx="787.3" cy="290.6" r="4.9"/></g>
<g fill="#7f7f7f" fill-opacity=".5"><circle cx="921.5" cy="302.4" r="4.7"/><circle cx="938.9" cy="302.1" r="5.1"/><circle cx="968.0" cy="279.9" r="4.8"/><circle cx="975.9" cy="281.9" r="4.8"/><circle cx="982.8" cy="297.9" r="4.2"/><circle cx="955.1" cy="306.8" r="4.9"/></g>
<g fill="#7f7f7f"><circle cx="921.6" cy="303.6" r="3.8"/><circle cx="929.4" cy="304.6" r="4.9"/><circle cx="933.9" cy="303.2" r="3.7"/><circle cx="954.2" cy="299.5" r="5.0"/><circle cx="957.6" cy="292.9" r="3.6"/><circle cx="963.0" cy="285.9" r="3.9"/><circle cx="962.6" cy="279.1" r="3.6"/><circle cx="967.9" cy="280.2" r="4.4"/><circle cx="970.8" cy="282.1" r="4.7"/><circle cx="975.5" cy="282.6" r="4.1"/><circle cx="981.2" cy="292.1" r="4.2"/><circle cx="979.9" cy="296.5" r="4.5"/><circle cx="973.9" cy="301.2" r="5.0"/><circle cx="964.5" cy="304.5" r="3.7"/><circle cx="955.0" cy="304.6" r="4.5"/><circle cx="944.2" cy="305.8" r="4.0"/><circle cx="939.1" cy="306.5" r="4.8"/><circle cx="932.4" cy="309.8" r="4.9"/><circle cx="922.0" cy="314.5" r="3.6"/><circle cx="918.0" cy="311.0" r="4.8"/></g>
<g fill="#98df8a" fill-opacity=".5"><circle cx="929.2" cy="132.9" r="4.2"/><circle cx="975.0" cy="149.2" r="4.0"/><circle cx="959.0" cy="226.2" r="4.8"/><circle cx="870.4" cy="264.8" r="5.3"/><circle cx="865.4" cy="266.2" r="4.8"/><circle cx="918.6" cy="215.3" r="5.2"/><circle cx="925.2" cy="203.5" r="4.5"/><circle cx="941.6" cy="192.7" r="5.4"/><circle cx="951.7" cy="195.5" r="4.4"/><circle cx="947.3" cy="158.9" r="4.2"/><circle cx="919.0" cy="135.4" r="5.1"/></g>
<g fill="#98df8a"><circle cx="906.0" cy="121.1" r="4.4"/><circle cx="912.2" cy="120.1" r="4.4"/><circle cx="916.0" cy="121.8" r="4.1"/><circle cx="924.2" cy="128.8" r="3.6"/><circle cx="928.8" cy="133.4" r="3.7"/><circle cx="933.3" cy="135.7" r="3.7"/><circle cx="943.1" cy="140.6" r="3.9"/><circle cx="952.2" cy="144.0" r="3.8"/><circle cx="961.2" cy="146.1" r="3.6"/><circle cx="970.1" cy="149.7" r="3.5"/><circle cx="980.3" cy="152.9" r="4.4"/><circle cx="984.9" cy="155.7" r="4.4"/><circle cx="989.0" cy="159.0" r="4.8"/><circle cx="993.0" cy="163.4" r="4.9"/><circle cx="1001.5" cy="170.7" r="3.6"/><circle cx="1001.3" cy="174.9" r="4.7"/><circle cx="1004.0" cy="179.0" r="4.0"/><circle cx="999.9" cy="197.3" r="4.1"/><circle cx="989.6" cy="208.6" r="4.1"/><circle cx="986.0" cy="211.4" r="4.3"/><circle cx="972.6" cy="220.4" r="4.2"/><circle cx="968.1" cy="221.8" r="4.4"/><circle cx="963.2" cy="222.8" r="4.7"/><circle cx="958.8" cy="225.6" r="3.8"/><circle cx="939.1" cy="232.4" r="4.5"/><circle cx="920.5" cy="241.0" r="4.1"/><circle cx="915.6" cy="242.4" r="4.9"/><circle cx="906.0" cy="246.3" r="3.6"/><circle cx="877.0" cy="260.5" r="4.5"/><circle cx="870.4" cy="264.5" r="4.3"/><circle cx="869.3" cy="263.0" r="4.8"/><circle cx="875.3" cy="253.8" r="4.0"/><circle cx="880.5" cy="251.4" r="4.3"/><circle cx="889.6" cy="247.7" r="4.9"/><circle cx="895.1" cy="245.9" r="4.8"/><circle cx="899.8" cy="242.8" r="3.9"/><circle cx="904.0" cy="240.4" r="4.1"/><circle cx="918.7" cy="234.1" r="5.0"/><circle cx="924.8" cy="231.1" r="4.6"/><circle cx="928.8" cy="221.8" r="4.8"/><circle cx="919.9" cy="221.5" r="4.1"/><circle cx="916.4" cy="216.6" r="4.3"/><circle cx="920.0" cy="216.5" r="5.0"/><circle cx="923.1" cy="210.6" r="3.8"/><circle cx="926.8" cy="204.3" r="3.7"/><circle cx="941.6" cy="193.2" r="4.1"/><circle cx="945.6" cy="194.4" r="4.2"/><circle cx="957.7" cy="197.1" r="4.5"/><circle cx="969.7" cy="179.4" r="3.8"/><circle cx="966.2" cy="173.4" r="3.6"/><circle cx="962.5" cy="168.5" r="3.9"/><circle cx="959.4" cy="163.1" r="4.5"/><circle cx="953.9" cy="161.8" r="4.3"/><circle cx="946.4" cy="152.6" r="4.3"/><circle cx="942.1" cy="149.3" r="4.7"/><circle cx="932.7" cy="143.9" r="3.7"/><circle cx="923.3" cy="137.7" r="4.0"/><circle cx="919.3" cy="135.1" r="4.2"/><circle cx="914.8" cy="132.5" r="3.9"/><circle cx="906.8" cy="122.4" r="4.2"/></g>
<g fill="#ffbb78" fill-opacity=".5"><circle cx="890.4" cy="437.4" r="4.9"/><circle cx="903.5" cy="436.7" r="5.1"/><circle cx="1005.1" cy="462.0" r="5.4"/><circle cx="1045.7" cy="491.0" r="4.4"/><circle cx="1048.0" cy="499.2" r="5.4"/><circle cx="1058.7" cy="518.4" r="4.8"/><circle cx="1057.0" cy="530.0" r="5.1"/><circle cx="1069.0" cy="564.7" r="4.5"/><circle cx="1071.5" cy="570.2" r="5.1"/><circle cx="1073.0" cy="576.2" r="4.5"/><circle cx="1069.0" cy="574.4" r="4.1"/><circle cx="1063.9" cy="573.3" r="4.0"/><circle cx="1058.6" cy="571.5" r="4.1"/><circle cx="1011.4" cy="539.9" r="4.1"/><circle cx="998.3" cy="533.8" r="4.7"/><circle cx="984.1" cy="531.5" r="4.7"/><circle cx="969.3" cy="528.5" r="4.7"/><circle cx="953.8" cy="529.8" r="5.0"/><circle cx="890.0" cy="511.3" r="4.1"/><circle cx="873.1" cy="503.4" r="4.3"/><circle cx="870.5" cy="499.4" r="4.2"/><circle cx="874.9" cy="487.3" r="5.1"/><circle cx="885.7" cy="450.1" r="5.0"/></g>
<g fill="#ffbb78"><circle cx="894.2" cy="437.1" r="3.7"/><circle cx="903.5" cy="436.9" r="4.6"/><circle cx="908.9" cy="437.2" r="4.7"/><circle cx="914.6" cy="438.4" r="4.7"/><circle cx="921.2" cy="438.4" r="3.6"/><circle cx="959.2" cy="430.6" r="3.7"/><circle cx="969.3" cy="430.2" r="4.0"/><circle cx="972.3" cy="433.3" r="4.0"/><circle cx="986.6" cy="449.3" r="4.2"/><circle cx="999.8" cy="460.0" r="3.5"/><circle cx="1011.5" cy="470.2" r="4.8"/><circle cx="1023.0" cy="478.5" r="4.3"/><circle cx="1025.6" cy="481.0" r="4.7"/><circle cx="1030.9" cy="485.8" r="3.9"/><circle cx="1041.0" cy="491.1" r="4.9"/><circle cx="1049.1" cy="505.0" r="4.6"/><circle cx="1053.1" cy="515.0" r="4.2"/><circle cx="1057.2" cy="519.6" r="3.9"/><circle cx="1058.4" cy="521.5" r="4.9"/><circle cx="1057.5" cy="524.3" r="4.8"/><circle cx="1056.3" cy="529.8" r="4.9"/><circle cx="1055.7" cy="535.8" r="4.1"/><circle cx="1055.5" cy="540.8" r="4.1"/><circle cx="1056.4" cy="545.6" r="4.6"/><circle cx="1074.3" cy="574.1" r="4.2"/><circle cx="1074.3" cy="576.8" r="4.5"/><circle cx="1075.1" cy="574.7" r="4.9"/><circle cx="1076.1" cy="573.8" r="4.9"/><circle cx="1073.4" cy="574.5" r="4.5"/><circle cx="1069.5" cy="573.0" r="4.5"/><circle cx="1064.6" cy="571.5" r="3.8"/><circle cx="1054.0" cy="567.4" r="3.7"/><circle cx="1044.9" cy="562.0" r="4.1"/><circle cx="1041.7" cy="559.7" r="4.7"/><circle cx="1036.4" cy="557.2" r="3.7"/><circle cx="1029.3" cy="549.8" r="4.6"/><circle cx="1025.8" cy="546.0" r="4.5"/><circle cx="1021.9" cy="542.7" r="3.9"/><circle cx="1016.8" cy="540.3" r="3.9"/><circle cx="1013.0" cy="536.8" r="4.1"/><circle cx="994.2" cy="530.6" r="4.5"/><circle cx="989.3" cy="529.9" r="4.2"/><circle cx="984.4" cy="529.8" r="3.9"/><circle cx="969.3" cy="528.1" r="4.1"/><circle cx="945.4" cy="525.3" r="4.1"/><circle cx="935.8" cy="522.6" r="4.4"/><circle cx="931.8" cy="519.8" r="4.9"/><circle cx="926.8" cy="519.6" r="3.7"/><circle cx="922.5" cy="519.0" r="3.6"/><circle cx="918.7" cy="516.1" r="4.9"/><circle cx="909.3" cy="514.3" r="4.6"/><circle cx="904.6" cy="513.1" r="4.6"/><circle cx="899.9" cy="511.2" r="4.6"/><circle cx="890.4" cy="510.0" r="4.0"/><circle cx="880.5" cy="507.2" r="3.6"/><circle cx="874.0" cy="491.6" r="4.8"/><circle cx="880.5" cy="479.2" r="5.0"/><circle cx="884.4" cy="465.6" r="4.8"/><circle cx="885.6" cy="460.7" r="4.4"/><circle cx="886.8" cy="445.1" r="3.9"/></g>
<g fill="#ffbb78" fill-opacity=".5"><circle cx="1041.5" cy="473.8" r="4.4"/><circle cx="1047.2" cy="474.1" r="4.7"/><circle cx="1053.1" cy="488.5" r="4.3"/><circle cx="1041.3" cy="481.6" r="4.2"/></g>
<g fill="#ffbb78"><circle cx="1040.9" cy="475.7" r="4.7"/><circle cx="1047.3" cy="475.5" r="4.7"/><circle cx="1052.7" cy="474.6" r="4.4"/><circle cx="1057.9" cy="475.5" r="4.3"/><circle cx="1063.5" cy="476.6" r="3.7"/><circle cx="1064.8" cy="480.4" r="4.4"/><circle cx="1062.5" cy="483.5" r="4.4"/><circle cx="1057.9" cy="486.3" r="4.9"/><circle cx="1053.1" cy="488.0" r="3.9"/><circle cx="1043.6" cy="480.1" r="4.0"/><circle cx="1040.2" cy="476.7" r="3.5"/></g>
<g fill="#ffbb78" fill-opacity=".5"><circle cx="911.4" cy="570.6" r="4.7"/><circle cx="933.9" cy="564.3" r="4.2"/><circle cx="936.7" cy="571.0" r="5.1"/><circle cx="922.8" cy="585.3" r="4.2"/><circle cx="912.4" cy="582.1" r="5.3"/><circle cx="910.3" cy="580.1" r="5.4"/></g>
<g fill="#ffbb78"><circle cx="917.0" cy="567.0" r="4.9"/><circle cx="919.9" cy="562.9" r="3.6"/><circle cx="927.7" cy="560.0" r="3.6"/><circle cx="937.2" cy="570.6" r="3.9"/><circle cx="941.5" cy="576.9" r="4.9"/><circle cx="943.9" cy="579.7" r="3.7"/><circle cx="934.0" cy="582.4" r="4.1"/><circle cx="922.8" cy="584.1" r="3.5"/><circle cx="918.5" cy="583.8" r="3.8"/><circle cx="910.0" cy="580.3" r="3.9"/></g>
<g fill="#f7b6d2" fill-opacity=".5"><circle cx="1074.0" cy="576.5" r="5.4"/><circle cx="1022.0" cy="574.0" r="4.3"/><circle cx="1024.5" cy="573.5" r="5.0"/><circle cx="1044.6" cy="565.7" r="4.3"/><circle cx="1035.8" cy="551.5" r="5.4"/><circle cx="1047.9" cy="544.6" r="4.9"/></g>
<g fill="#f7b6d2"><circle cx="1051.8" cy="546.7" r="3.6"/><circle cx="1053.7" cy="548.3" r="3.8"/><circle cx="1056.6" cy="551.2" r="3.8"/><circle cx="1059.4" cy="555.2" r="4.5"/><circle cx="1065.6" cy="564.3" r="4.4"/><circle cx="1071.1" cy="573.2" r="3.6"/><circle cx="1073.2" cy="576.9" r="4.8"/><circle cx="1074.3" cy="577.5" r="4.1"/><circle cx="1072.0" cy="583.1" r="3.9"/><circle cx="1072.8" cy="582.2" r="3.8"/><circle cx="1069.5" cy="578.3" r="4.7"/><circle cx="1053.2" cy="570.9" r="4.1"/><circle cx="1047.0" cy="572.7" r="4.2"/><circle cx="1024.7" cy="579.4" r="4.3"/><circle cx="1024.1" cy="579.7" r="4.3"/><circle cx="1025.2" cy="575.7" r="4.5"/><circle cx="1030.1" cy="574.1" r="4.4"/><circle cx="1035.6" cy="572.0" r="4.3"/><circle cx="1041.3" cy="571.0" r="4.7"/><circle cx="1036.1" cy="554.0" r="4.2"/><circle cx="1043.4" cy="546.3" r="4.0"/></g>
<circle cx="164.6" cy="335.3" r="5.5" fill="#ff7f0e"/>
<path d="M139.0,353.6 C140.9,350.0 145.5,341.7 153.5,339.1 C161.5,336.5 175.5,339.3 187.0,338.0 C198.5,336.7 211.5,334.5 222.7,331.3 C233.8,328.1 245.0,322.4 253.9,319.0 C262.8,315.6 267.0,313.2 276.3,311.2 C285.6,309.1 298.6,307.4 309.7,306.7 C320.8,305.9 332.0,306.9 343.2,306.7 C354.4,306.5 365.9,306.3 376.7,305.6 C387.5,304.9 401.9,301.9 408.0,302.3 C414.1,302.7 415.0,305.1 413.5,307.9 C412.0,310.7 407.0,315.1 399.0,319.0 C391.0,322.9 376.7,326.8 365.5,331.3 C354.3,335.8 342.0,341.9 332.0,345.8 C322.0,349.7 311.6,352.0 305.3,354.7 C299.0,357.4 298.9,361.4 294.0,362.0 C289.1,362.6 283.3,359.7 276.0,358.0 C268.7,356.3 258.2,352.5 250.0,352.0 C241.8,351.5 237.5,352.7 227.0,355.0 C216.5,357.3 199.9,364.0 187.0,366.0 C174.1,368.0 157.2,367.8 149.8,367.0 C142.4,366.2 144.1,363.2 142.3,361.0 C140.5,358.8 137.1,357.2 139.0,353.6Z" fill="#2ca02c" stroke="#2ca02c" stroke-width="1.5" stroke-linejoin="round"/>
<circle cx="370.0" cy="317.9" r="6.0" fill="#b58f2c"/>
<circle cx="381.2" cy="316.8" r="6.0" fill="#b58f2c"/>
<circle cx="386.7" cy="315.7" r="6.0" fill="#b58f2c"/>
<circle cx="396.8" cy="311.7" r="6.0" fill="#b58f2c"/>
<circle cx="321.0" cy="348.0" r="5.5" fill="#e8962a"/>
<circle cx="332.0" cy="343.6" r="5.5" fill="#e8962a"/>
<path d="M151.3,366.3 C155.0,365.4 164.8,364.3 172.0,363.3 C179.2,362.3 185.7,362.4 194.4,360.4 C203.1,358.4 215.5,353.9 224.2,351.4 C232.9,348.9 240.3,347.2 246.5,345.5 C252.7,343.8 255.2,341.0 261.4,341.0 C267.6,341.0 276.3,343.0 283.7,345.5 C291.1,348.0 300.9,351.8 306.0,355.9 C311.1,360.0 309.7,365.8 314.0,370.4 C318.3,375.0 331.0,379.7 332.0,383.8 C333.0,387.9 324.8,392.0 320.0,395.0 C315.2,398.0 306.6,396.8 303.0,401.6 C299.4,406.4 299.0,416.6 298.6,424.0 C298.2,431.4 300.8,441.5 300.8,446.3 C300.8,451.1 300.7,452.0 298.6,453.0 C296.5,454.0 293.2,453.3 288.0,452.2 C282.8,451.1 273.5,448.9 267.2,446.3 C260.9,443.7 256.5,439.1 250.0,436.4 C243.5,433.7 234.8,432.0 228.2,430.2 C221.6,428.4 216.3,427.3 210.4,425.7 C204.5,424.1 198.5,423.1 192.5,420.4 C186.5,417.7 179.1,412.9 174.6,409.6 C170.1,406.3 168.2,404.0 165.7,400.7 C163.2,397.4 161.3,393.4 159.5,390.0 C157.7,386.6 156.7,383.8 155.0,380.2 C153.3,376.6 150.2,370.9 149.6,368.6 C149.0,366.3 147.6,367.2 151.3,366.3Z" fill="#d62728" stroke="#d62728" stroke-width="1.5" stroke-linejoin="round"/>
<circle cx="449.2" cy="405.0" r="7.0" fill="#1f77b4"/>
<path d="M312.0,368.0 C314.3,366.3 324.9,378.1 332.0,382.0 C339.1,385.9 345.1,388.8 354.4,391.7 C363.7,394.6 378.7,397.6 387.9,399.5 C397.1,401.4 400.7,401.7 409.8,403.0 C418.9,404.3 432.6,406.3 442.5,407.3 C452.4,408.3 459.9,408.8 469.3,408.8 C478.7,408.8 487.6,407.9 499.0,407.5 C510.4,407.1 530.0,405.7 537.7,406.5 C545.4,407.3 545.2,410.2 545.2,412.5 C545.2,414.8 545.4,419.3 537.7,420.2 C530.0,421.1 510.4,418.2 499.0,418.0 C487.6,417.8 477.2,417.8 469.3,418.7 C461.4,419.6 455.9,421.5 451.4,423.2 C446.9,424.9 444.5,426.9 442.5,429.1 C440.5,431.3 439.5,432.3 439.5,436.5 C439.5,440.7 441.0,449.4 442.5,454.4 C444.0,459.4 444.0,462.3 448.5,466.3 C453.0,470.3 460.9,474.5 469.3,478.2 C477.7,481.9 490.3,486.6 499.0,488.6 C507.7,490.6 514.4,489.4 521.4,490.1 C528.4,490.9 536.1,490.9 540.7,493.1 C545.3,495.3 548.1,499.1 548.9,503.5 C549.6,507.9 548.1,515.6 545.2,519.8 C542.4,524.0 533.8,524.7 531.8,528.7 C529.8,532.7 534.0,539.1 533.3,543.6 C532.5,548.1 532.8,553.3 527.3,556.0 C521.8,558.7 509.6,559.3 500.0,560.0 C490.4,560.7 482.3,560.0 470.0,560.0 C457.7,560.0 433.5,563.8 426.0,560.0 C418.5,556.2 425.7,541.6 425.2,537.0 C424.7,532.4 425.2,533.5 423.0,532.5 C420.8,531.5 415.5,532.4 412.0,531.0 C408.5,529.6 404.0,526.7 402.0,524.0 C400.0,521.3 400.3,517.1 400.2,514.6 C400.1,512.1 400.5,510.6 401.5,509.0 C402.5,507.4 404.8,506.5 406.0,505.0 C407.2,503.5 409.2,501.4 409.0,500.0 C408.8,498.6 406.9,498.2 405.0,496.5 C403.1,494.8 400.9,492.0 397.9,489.6 C394.9,487.2 391.1,484.7 387.1,481.9 C383.1,479.1 379.3,476.2 373.7,472.9 C368.1,469.6 360.4,465.1 353.7,462.1 C347.0,459.1 341.4,456.3 333.6,455.0 C325.8,453.7 312.6,454.8 306.8,454.5 C301.0,454.2 299.6,454.4 298.6,453.0 C297.6,451.6 300.8,451.1 300.8,446.3 C300.8,441.5 298.2,431.4 298.6,424.0 C299.0,416.6 299.8,406.9 303.0,401.6 C306.2,396.3 316.5,397.6 318.0,392.0 C319.5,386.4 309.7,369.7 312.0,368.0Z" fill="#ff7f0e" stroke="#ff7f0e" stroke-width="1.5" stroke-linejoin="round"/>
<circle cx="452.2" cy="453.7" r="6.0" fill="#ff7f0e"/>
<circle cx="285.2" cy="406.0" r="5.5" fill="#f08a3a"/>
<circle cx="291.0" cy="406.0" r="5.5" fill="#f08a3a"/>
<ellipse cx="411.0" cy="523.5" rx="11.5" ry="8.5" fill="#9467bd"/>
<circle cx="436.0" cy="585.0" r="6.5" fill="#9a74c4"/>
<circle cx="450.0" cy="592.0" r="6.5" fill="#9a74c4"/>
<circle cx="466.0" cy="597.0" r="6.5" fill="#9a74c4"/>
<circle cx="482.0" cy="600.0" r="6.5" fill="#9a74c4"/>
<circle cx="498.0" cy="600.0" r="6.5" fill="#9a74c4"/>
<circle cx="511.0" cy="590.0" r="6.0" fill="#a88ac8"/>
<line x1="425.0" y1="537.0" x2="426.0" y2="562.0" stroke="#4a9a3a" stroke-width="6.0" stroke-linecap="round"/>
<circle cx="432.0" cy="577.0" r="7.0" fill="#4a9a3a"/>
<path d="M426.0,530.0 C427.9,524.1 432.5,525.3 436.0,526.0 C439.5,526.7 441.4,531.6 447.0,534.0 C452.6,536.4 461.1,539.4 469.3,540.6 C477.5,541.8 489.2,539.4 496.0,541.0 C502.8,542.6 506.3,547.5 510.0,550.0 C513.7,552.5 517.6,553.8 518.0,556.0 C518.4,558.2 513.1,560.1 512.4,563.0 C511.7,565.9 514.1,569.3 513.9,573.3 C513.7,577.2 512.2,582.7 511.0,586.7 C509.8,590.7 509.0,594.9 506.5,597.1 C504.0,599.3 502.2,600.1 496.0,600.1 C489.8,600.1 476.2,598.3 469.3,597.1 C462.4,595.9 459.9,594.7 454.4,592.7 C448.9,590.7 441.0,587.9 436.5,585.2 C432.0,582.5 429.6,580.3 427.6,576.3 C425.6,572.3 424.9,569.1 424.6,561.4 C424.3,553.7 424.1,535.9 426.0,530.0Z" fill="#8c564b" stroke="#8c564b" stroke-width="1.5" stroke-linejoin="round"/>
<circle cx="491.6" cy="606.0" r="6.0" fill="#a58bc9"/>
<circle cx="505.0" cy="603.1" r="6.0" fill="#a58bc9"/>
<circle cx="485.7" cy="618.0" r="6.0" fill="#a58bc9"/>
<path d="M451.4,625.4 C454.6,624.9 458.9,626.6 469.3,626.9 C479.7,627.1 504.7,625.9 513.9,626.9 C523.1,627.9 519.6,630.4 524.3,632.9 C529.0,635.4 539.0,639.1 542.2,641.8 C545.4,644.5 545.9,646.5 543.7,649.2 C541.5,651.9 531.5,655.2 528.8,658.2 C526.1,661.2 530.3,664.1 527.3,667.1 C524.3,670.1 509.8,673.5 511.0,676.0 C512.2,678.5 530.1,679.5 534.8,682.0 C539.5,684.5 539.2,688.4 539.2,690.9 C539.2,693.4 539.0,695.8 534.8,696.8 C530.6,697.8 524.8,696.8 513.9,696.8 C503.0,696.8 477.7,699.0 469.3,696.8 C460.9,694.6 466.0,688.7 463.3,683.5 C460.6,678.3 455.4,670.1 452.9,665.6 C450.4,661.1 449.6,659.9 448.5,656.7 C447.4,653.5 445.9,650.8 446.2,646.3 C446.4,641.8 449.1,633.4 450.0,629.9 C450.9,626.4 448.2,625.9 451.4,625.4Z" fill="#9467bd" stroke="#9467bd" stroke-width="1.5" stroke-linejoin="round"/>
<circle cx="455.9" cy="626.9" r="7.0" fill="#2ca02c"/>
<circle cx="454.4" cy="647.7" r="8.0" fill="#2ca02c"/>
<path d="M341.0,55.0 C345.9,52.5 358.8,50.4 369.0,49.6 C379.2,48.9 391.0,49.9 402.0,50.5 C413.0,51.1 425.5,51.8 435.0,53.0 C444.5,54.2 452.2,55.6 459.0,58.0 C465.8,60.4 470.5,64.6 476.0,67.6 C481.5,70.6 487.2,73.4 492.0,75.8 C496.8,78.2 505.3,78.0 505.0,82.0 C504.7,86.0 497.5,96.3 490.0,100.0 C482.5,103.7 468.8,103.8 460.0,104.0 C451.2,104.2 444.0,101.6 437.0,101.0 C430.0,100.4 426.5,99.4 418.0,100.4 C409.5,101.4 396.0,104.6 386.0,107.0 C376.0,109.4 364.5,112.8 358.0,115.0 C351.5,117.2 349.8,120.2 347.0,120.0 C344.2,119.8 341.4,117.6 341.0,113.5 C340.6,109.4 344.8,103.7 344.6,95.5 C344.4,87.3 340.2,71.2 339.6,64.4 C339.0,57.7 336.1,57.5 341.0,55.0Z" fill="#ff9896" stroke="#ff9896" stroke-width="1.5" stroke-linejoin="round"/>
<path d="M441.0,93.0 C441.4,90.3 442.6,86.4 447.0,84.0 C451.4,81.6 461.2,79.9 467.3,78.5 C473.4,77.1 478.2,76.5 483.7,75.8 C489.1,75.1 494.6,72.8 500.0,74.2 C505.4,75.6 511.7,80.5 516.4,84.0 C521.1,87.5 526.9,92.5 528.0,95.5 C529.1,98.5 526.3,99.8 523.0,102.0 C519.7,104.2 513.4,106.1 508.2,108.6 C503.0,111.1 496.3,113.1 491.9,116.8 C487.5,120.5 485.3,128.5 482.0,130.7 C478.7,132.9 475.2,131.5 472.2,130.0 C469.2,128.5 467.0,125.3 464.0,121.7 C461.0,118.1 457.5,112.1 454.2,108.6 C450.9,105.0 446.6,103.0 444.4,100.4 C442.2,97.8 440.6,95.7 441.0,93.0Z" fill="#c5b0d5" stroke="#c5b0d5" stroke-width="1.5" stroke-linejoin="round"/>
<circle cx="509.9" cy="127.4" r="7.0" fill="#98df8a"/>
<circle cx="474.0" cy="55.4" r="6.0" fill="#ff9896"/>
<circle cx="480.0" cy="55.4" r="6.0" fill="#ff9896"/>
<circle cx="496.0" cy="70.0" r="5.5" fill="#c5b0d5"/>
<path d="M262.0,173.0 C262.3,170.5 264.2,168.0 268.0,166.0 C271.8,164.0 279.7,162.4 285.0,161.0 C290.3,159.6 296.2,157.8 300.0,157.5 C303.8,157.2 306.3,157.8 308.0,159.0 C309.7,160.2 310.7,162.5 310.0,165.0 C309.3,167.5 305.8,171.2 304.0,174.0 C302.2,176.8 302.2,180.5 299.0,182.0 C295.8,183.5 289.0,182.7 285.0,183.0 C281.0,183.3 278.2,184.3 275.0,184.0 C271.8,183.7 268.2,182.8 266.0,181.0 C263.8,179.2 261.7,175.5 262.0,173.0Z" fill="#ff9896" stroke="#ff9896" stroke-width="1.5" stroke-linejoin="round"/>
<circle cx="269.0" cy="173.0" r="6.5" fill="#9467bd"/>
<circle cx="683.4" cy="64.5" r="7.5" fill="#ff9896"/>
<path d="M677.4,62.0 C677.6,59.4 680.7,53.4 683.4,50.4 C686.1,47.4 690.0,45.3 693.4,43.7 C696.8,42.1 699.8,41.5 703.5,41.0 C707.2,40.5 712.6,39.7 715.5,40.4 C718.4,41.1 718.4,43.7 720.9,45.0 C723.4,46.3 727.1,46.9 730.3,48.4 C733.5,49.9 736.9,52.3 740.3,53.8 C743.6,55.2 745.4,55.5 750.4,57.1 C755.4,58.7 763.5,61.2 770.1,63.1 C776.7,65.0 784.1,67.6 790.2,68.5 C796.3,69.4 802.4,68.3 806.9,68.5 C811.4,68.7 814.2,68.7 817.0,69.8 C819.8,70.9 822.0,72.5 823.7,75.2 C825.4,77.9 825.9,82.8 827.0,85.9 C828.1,89.0 829.3,91.6 830.4,93.9 C831.5,96.2 833.5,98.1 833.7,100.0 C833.9,101.9 833.3,103.5 831.7,105.3 C830.1,107.1 825.5,108.6 824.3,110.7 C823.1,112.8 825.3,116.2 824.3,118.0 C823.3,119.8 820.6,121.3 818.3,121.4 C816.0,121.5 815.0,118.7 810.3,118.7 C805.6,118.7 795.8,120.4 790.2,121.4 C784.6,122.4 780.5,124.5 776.8,124.8 C773.1,125.1 769.5,125.0 768.1,123.4 C766.7,121.8 765.5,117.4 768.1,115.4 C770.7,113.4 778.7,113.4 783.5,111.4 C788.3,109.4 795.8,105.3 796.9,103.3 C798.0,101.3 793.0,100.6 790.2,99.3 C787.4,98.0 783.5,96.5 780.1,95.3 C776.8,94.1 772.9,93.2 770.1,91.9 C767.3,90.6 765.4,89.9 763.4,87.2 C761.4,84.5 760.2,78.8 758.0,76.0 C755.8,73.2 753.4,71.8 750.4,70.5 C747.4,69.2 743.6,68.8 740.3,68.5 C736.9,68.2 733.1,68.0 730.3,68.5 C727.5,69.0 727.0,70.8 723.6,71.2 C720.2,71.6 715.6,71.9 710.0,71.0 C704.4,70.1 694.7,66.8 690.0,66.0 C685.3,65.2 684.1,66.7 682.0,66.0 C679.9,65.3 677.2,64.6 677.4,62.0Z" fill="#aec7e8" stroke="#aec7e8" stroke-width="1.5" stroke-linejoin="round"/>
<path d="M716.9,102.0 C718.2,101.2 721.6,101.3 723.6,102.6 C725.6,103.9 726.8,107.5 729.0,110.0 C731.2,112.5 733.5,116.4 737.0,117.4 C740.5,118.4 746.2,116.3 750.0,116.0 C753.8,115.7 757.5,115.2 760.0,115.4 C762.5,115.6 764.1,115.2 765.0,117.0 C765.9,118.8 766.2,124.0 765.4,126.0 C764.6,128.0 764.7,127.6 760.0,128.8 C755.3,130.1 743.6,134.6 737.0,133.5 C730.4,132.4 723.6,125.0 720.2,122.0 C716.9,119.0 717.7,117.9 716.9,115.4 C716.1,113.0 715.5,109.5 715.5,107.3 C715.5,105.1 715.5,102.8 716.9,102.0Z" fill="#aec7e8" stroke="#aec7e8" stroke-width="1.5" stroke-linejoin="round"/>
<circle cx="683.4" cy="64.5" r="6.5" fill="#ff9896"/>
<path d="M690.1,67.1 C693.3,66.6 702.1,68.4 707.5,69.8 C712.9,71.2 719.2,73.3 722.2,75.2 C725.2,77.1 725.9,79.3 725.6,81.2 C725.3,83.1 723.7,85.9 720.2,86.6 C716.7,87.3 709.8,86.4 704.8,85.2 C699.8,84.0 692.9,81.3 690.1,79.2 C687.3,77.1 688.1,74.5 688.1,72.5 C688.1,70.5 686.9,67.5 690.1,67.1Z" fill="#2ca02c" stroke="#2ca02c" stroke-width="1.5" stroke-linejoin="round"/>
<circle cx="727.5" cy="81.5" r="5.5" fill="#c9d7ee"/>
<line x1="753.5" y1="81.2" x2="766.0" y2="81.2" stroke="#2ca02c" stroke-width="12.0" stroke-linecap="round"/>
<circle cx="806.3" cy="92.6" r="5.0" fill="#e8a0a8"/>
<circle cx="818.3" cy="114.0" r="6.0" fill="#1f77b4"/>
<path d="M543.8,213.8 C546.3,211.9 553.2,209.1 558.7,210.1 C564.2,211.1 571.3,217.2 576.5,219.8 C581.7,222.4 588.5,223.0 590.0,225.7 C591.5,228.4 587.8,233.9 585.5,236.1 C583.2,238.3 580.5,238.3 576.5,239.1 C572.5,239.8 565.7,241.3 561.7,240.6 C557.7,239.8 554.4,237.1 552.7,234.6 C551.0,232.1 552.8,227.9 551.3,225.7 C549.8,223.5 545.0,223.3 543.8,221.3 C542.5,219.3 541.3,215.7 543.8,213.8Z" fill="#e377c2" stroke="#e377c2" stroke-width="1.5" stroke-linejoin="round"/>
<path d="M590.0,228.7 C593.5,227.4 605.1,225.2 609.3,225.7 C613.5,226.2 614.2,228.2 615.2,231.7 C616.2,235.2 615.0,242.8 615.2,246.5 C615.5,250.2 617.7,252.0 616.7,254.0 C615.7,256.0 613.0,258.8 609.3,258.5 C605.6,258.2 598.1,254.8 594.4,252.5 C590.7,250.2 588.0,248.2 587.0,245.0 C586.0,241.8 588.0,235.9 588.5,233.2 C589.0,230.5 586.5,229.9 590.0,228.7Z" fill="#e377c2" stroke="#e377c2" stroke-width="1.5" stroke-linejoin="round"/>
<line x1="626.0" y1="220.5" x2="652.0" y2="220.5" stroke="#e377c2" stroke-width="13.0" stroke-linecap="round"/>
<circle cx="605.6" cy="243.6" r="5.5" fill="#5b6fc0"/>
<circle cx="569.1" cy="228.7" r="5.5" fill="#f08050"/>
<circle cx="547.5" cy="339.6" r="6.5" fill="#98df8a"/>
<circle cx="542.3" cy="341.0" r="7.0" fill="#d62728"/>
<line x1="683.7" y1="335.1" x2="692.0" y2="338.0" stroke="#2ca02c" stroke-width="15.0" stroke-linecap="round"/>
<circle cx="700.0" cy="341.8" r="6.5" fill="#ffbb78"/>
<circle cx="796.0" cy="186.0" r="6.0" fill="#2ca02c"/>
<path d="M793.7,189.0 C794.5,186.9 794.4,182.5 797.6,179.3 C800.8,176.1 808.8,171.8 813.0,169.7 C817.2,167.6 819.8,166.8 822.7,166.8 C825.6,166.8 828.0,169.3 830.4,169.7 C832.8,170.1 834.5,169.0 837.2,169.2 C840.0,169.3 842.9,169.5 846.9,170.6 C850.9,171.7 857.7,173.9 861.4,175.5 C865.1,177.1 866.2,178.7 869.1,180.3 C872.0,181.9 876.9,183.3 878.8,185.1 C880.7,186.9 881.2,189.1 880.7,191.0 C880.2,192.9 879.1,195.0 875.9,196.8 C872.7,198.6 866.2,200.5 861.4,201.6 C856.6,202.7 851.7,202.8 846.9,203.5 C842.1,204.2 836.4,205.7 832.4,205.5 C828.4,205.3 825.9,203.7 822.7,202.6 C819.5,201.5 817.0,199.7 813.0,198.7 C809.0,197.7 801.9,197.9 798.5,196.8 C795.1,195.7 793.5,193.2 792.7,191.9 C791.9,190.6 792.9,191.1 793.7,189.0Z" fill="#c49c94" stroke="#c49c94" stroke-width="1.5" stroke-linejoin="round"/>
<circle cx="874.0" cy="189.0" r="7.0" fill="#98df8a"/>
<circle cx="860.0" cy="200.0" r="5.0" fill="#a8d890"/>
<path d="M809.2,200.6 C811.9,200.6 822.2,202.2 824.6,204.5 C827.0,206.8 823.5,210.3 823.7,214.2 C823.9,218.1 826.1,224.5 825.6,227.7 C825.1,230.9 822.9,233.5 820.8,233.5 C818.7,233.5 815.1,230.3 813.0,227.7 C810.9,225.1 809.0,221.9 808.2,218.0 C807.4,214.1 808.0,207.4 808.2,204.5 C808.4,201.6 806.5,200.6 809.2,200.6Z" fill="#1f77b4" stroke="#1f77b4" stroke-width="1.5" stroke-linejoin="round"/>
<circle cx="828.5" cy="234.0" r="5.5" fill="#7fa9d3"/>
<ellipse cx="767.1" cy="196.3" rx="8.0" ry="6.5" fill="#2ca02c"/>
<path d="M775.4,279.6 C776.3,278.1 778.6,276.2 780.7,275.2 C782.8,274.2 784.8,273.7 787.9,273.4 C791.0,273.1 796.2,274.1 799.5,273.4 C802.8,272.6 805.9,271.4 807.5,268.9 C809.1,266.4 808.0,260.6 809.3,258.2 C810.6,255.8 813.4,254.2 815.5,254.2 C817.6,254.2 820.4,256.3 821.8,258.2 C823.1,260.1 822.7,263.5 823.6,265.4 C824.5,267.3 825.3,269.2 827.1,269.4 C828.9,269.5 831.6,267.7 834.3,266.3 C837.0,264.9 842.3,264.0 843.2,260.9 C844.1,257.8 839.3,250.6 839.6,247.5 C839.9,244.4 842.9,242.5 845.0,242.1 C847.1,241.7 849.7,243.5 852.1,244.8 C854.5,246.2 856.6,249.3 859.3,250.2 C862.0,251.1 865.8,249.8 868.2,250.2 C870.6,250.6 872.0,251.9 873.6,252.9 C875.2,253.9 878.0,253.0 878.0,256.0 C878.0,259.0 876.0,267.2 873.6,270.7 C871.2,274.2 866.8,275.5 863.8,277.0 C860.8,278.5 857.8,279.0 855.7,279.6 C853.6,280.2 850.2,279.3 851.3,280.5 C852.4,281.7 859.0,284.7 862.3,286.7 C865.6,288.7 867.5,291.0 871.2,292.3 C874.9,293.6 880.5,293.7 884.6,294.6 C888.7,295.5 892.1,297.0 895.8,297.9 C899.5,298.8 903.3,299.5 907.0,300.1 C910.7,300.7 915.9,299.8 918.1,301.3 C920.3,302.8 920.0,306.6 920.0,309.0 C920.0,311.4 920.3,315.1 918.1,315.8 C915.9,316.6 911.6,313.7 907.0,313.5 C902.4,313.3 894.3,315.0 890.2,314.6 C886.1,314.2 886.1,312.4 882.4,311.3 C878.7,310.2 871.2,308.1 867.9,307.9 C864.5,307.7 863.0,308.7 862.3,310.2 C861.5,311.7 860.6,314.3 863.4,316.9 C866.2,319.5 875.5,322.4 879.0,325.8 C882.5,329.2 881.4,334.2 884.6,337.0 C887.8,339.8 893.4,340.6 898.0,342.5 C902.6,344.4 908.2,345.7 912.5,348.1 C916.8,350.5 920.0,353.9 923.7,357.1 C927.4,360.3 930.2,365.2 934.9,367.1 C939.5,369.0 947.0,368.2 951.6,368.2 C956.2,368.2 958.1,367.5 962.8,367.1 C967.4,366.7 975.0,366.0 979.5,366.0 C984.0,366.0 985.0,366.9 990.0,367.1 C995.0,367.3 1004.3,365.2 1009.6,367.0 C1014.9,368.8 1017.3,374.3 1022.0,377.9 C1026.7,381.5 1032.4,386.7 1037.6,388.8 C1042.8,390.9 1048.1,388.5 1053.0,390.3 C1057.9,392.1 1065.7,396.5 1067.0,399.6 C1068.3,402.7 1064.1,405.1 1060.8,409.0 C1057.5,412.9 1051.3,418.2 1046.9,422.9 C1042.5,427.5 1036.3,432.5 1034.5,436.9 C1032.7,441.3 1037.6,445.7 1036.0,449.3 C1034.4,452.9 1024.8,453.2 1025.1,458.6 C1025.4,464.0 1036.3,476.9 1037.6,481.8 C1038.9,486.7 1036.8,489.8 1032.9,488.0 C1029.0,486.2 1020.0,476.2 1014.3,471.0 C1008.6,465.8 1004.0,461.9 998.8,457.0 C993.6,452.1 988.8,446.0 983.3,441.5 C977.8,437.0 975.4,431.1 966.0,430.0 C956.6,428.9 939.6,434.7 926.7,435.0 C913.8,435.3 895.4,434.4 888.6,432.0 C881.9,429.6 887.8,426.4 886.2,420.5 C884.6,414.6 882.0,404.3 879.0,396.7 C876.0,389.1 872.2,380.2 867.9,374.9 C863.6,369.6 855.3,368.6 853.4,364.9 C851.5,361.2 858.9,359.5 856.7,352.6 C854.5,345.7 844.0,330.1 840.0,323.6 C836.0,317.1 835.2,314.7 832.5,313.6 C829.8,312.5 826.6,317.4 823.6,317.1 C820.6,316.8 818.6,313.4 814.6,311.8 C810.6,310.2 803.7,309.7 799.5,307.3 C795.3,304.9 792.7,300.3 789.6,297.5 C786.5,294.7 783.1,292.6 780.7,290.4 C778.3,288.2 776.3,285.9 775.4,284.1 C774.5,282.3 774.5,281.1 775.4,279.6Z" fill="#1f77b4" stroke="#1f77b4" stroke-width="1.5" stroke-linejoin="round"/>
<circle cx="867.9" cy="318.0" r="5.0" fill="#7fa9d3"/>
<circle cx="889.7" cy="334.2" r="5.5" fill="#7fa9d3"/>
<circle cx="913.1" cy="343.1" r="6.5" fill="#7fa9d3"/>
<circle cx="933.8" cy="366.0" r="5.5" fill="#7fa9d3"/>
<circle cx="972.8" cy="371.6" r="5.5" fill="#7fa9d3"/>
<ellipse cx="787.9" cy="305.5" rx="9.0" ry="7.5" fill="#2ca02c"/>
<circle cx="809.3" cy="302.0" r="5.5" fill="#2a8a6a"/>
<circle cx="809.3" cy="302.0" r="4.3" fill="#2a7fa0"/>
<circle cx="1031.4" cy="446.2" r="6.0" fill="#6f9fcc"/>
<path d="M916.0,301.3 C918.2,298.7 923.4,300.9 929.3,300.1 C935.2,299.4 947.3,298.3 951.6,296.8 C955.9,295.3 953.7,293.2 955.0,291.2 C956.3,289.1 958.5,286.9 959.4,284.5 C960.3,282.1 959.0,278.0 960.5,276.7 C962.0,275.4 964.9,275.8 968.3,276.7 C971.6,277.6 977.8,279.7 980.6,282.3 C983.4,284.9 985.3,288.8 985.1,292.3 C984.9,295.8 982.9,300.9 979.5,303.5 C976.1,306.1 971.5,306.9 965.0,308.0 C958.5,309.1 946.4,308.9 940.4,310.2 C934.4,311.5 933.4,314.9 929.3,315.8 C925.2,316.7 918.2,318.2 916.0,315.8 C913.8,313.4 913.8,303.9 916.0,301.3Z" fill="#7f7f7f" stroke="#7f7f7f" stroke-width="1.5" stroke-linejoin="round"/>
<ellipse cx="907.0" cy="308.0" rx="11.0" ry="6.0" fill="#b4cbe6"/>
<circle cx="964.0" cy="283.0" r="5.0" fill="#e0b080"/>
<path d="M902.1,119.3 C902.4,116.6 906.3,113.5 908.4,113.0 C910.5,112.5 912.4,114.9 914.6,116.6 C916.8,118.2 919.1,120.5 921.8,122.9 C924.5,125.3 927.0,128.4 930.7,130.9 C934.4,133.4 938.9,135.9 944.1,138.0 C949.3,140.1 956.8,141.8 962.0,143.4 C967.2,145.1 971.2,146.4 975.4,147.9 C979.6,149.4 983.6,150.2 987.0,152.3 C990.4,154.4 993.1,157.6 995.9,160.4 C998.7,163.2 1002.0,165.6 1003.9,169.3 C1005.8,173.0 1006.9,179.1 1007.5,182.7 C1008.1,186.3 1008.2,188.2 1007.4,191.0 C1006.6,193.8 1005.2,195.9 1002.6,199.3 C1000.0,202.7 996.7,207.2 991.9,211.2 C987.1,215.2 981.0,219.5 974.0,223.1 C967.0,226.7 958.1,229.4 950.2,232.6 C942.3,235.8 934.3,238.9 926.4,242.1 C918.5,245.3 910.5,248.1 902.6,251.7 C894.7,255.3 884.1,260.8 878.8,263.6 C873.4,266.4 872.9,267.7 870.5,268.3 C868.1,268.9 865.1,269.2 864.5,267.1 C863.9,265.1 864.5,259.2 866.9,256.0 C869.3,252.8 872.8,251.2 878.8,248.1 C884.8,245.0 896.2,240.4 902.6,237.4 C909.0,234.4 912.9,232.2 916.9,230.2 C920.9,228.2 926.2,226.5 926.4,225.5 C926.6,224.5 920.3,225.7 918.1,224.3 C915.9,222.9 912.9,219.7 913.3,217.1 C913.7,214.5 918.3,212.2 920.5,208.8 C922.7,205.4 924.1,199.7 926.4,196.9 C928.6,194.1 931.5,193.2 934.0,192.0 C936.5,190.8 938.4,189.6 941.4,189.8 C944.4,190.0 948.6,192.6 952.0,193.0 C955.4,193.4 959.3,192.5 962.0,192.0 C964.7,191.5 967.5,191.7 968.2,189.8 C968.9,188.0 967.8,184.2 966.4,180.9 C965.0,177.6 961.5,172.5 960.0,170.0 C958.5,167.5 959.4,166.7 957.5,165.7 C955.6,164.7 951.0,165.7 948.6,163.9 C946.2,162.1 945.4,157.5 943.2,155.0 C941.0,152.5 939.5,151.6 935.2,148.8 C930.9,146.0 922.1,141.3 917.3,138.0 C912.5,134.7 909.1,132.2 906.6,129.1 C904.1,126.0 901.8,122.0 902.1,119.3Z" fill="#98df8a" stroke="#98df8a" stroke-width="1.5" stroke-linejoin="round"/>
<circle cx="953.9" cy="176.4" r="8.5" fill="#c49c94"/>
<circle cx="950.0" cy="180.0" r="6.0" fill="#c49c94"/>
<circle cx="958.0" cy="202.3" r="6.0" fill="#b8b090"/>
<circle cx="944.0" cy="156.0" r="5.0" fill="#b8c8a0"/>
<circle cx="962.0" cy="188.0" r="5.0" fill="#c0e0b8"/>
<path d="M885.7,436.8 C889.3,432.3 897.7,433.5 903.6,433.2 C909.5,432.9 914.6,435.0 921.4,435.0 C928.2,435.0 937.2,434.7 944.6,433.2 C952.0,431.7 960.3,425.7 966.0,426.0 C971.7,426.3 974.1,430.8 978.6,435.0 C983.1,439.2 987.5,446.2 992.9,451.0 C998.2,455.8 1004.8,459.1 1010.7,463.6 C1016.7,468.1 1024.1,474.0 1028.6,477.9 C1033.1,481.8 1034.5,484.9 1037.5,486.8 C1040.5,488.8 1043.8,485.2 1046.9,489.6 C1050.0,494.0 1053.6,507.7 1056.2,512.9 C1058.8,518.1 1061.9,516.7 1062.4,520.6 C1062.9,524.5 1059.3,531.2 1059.3,536.1 C1059.3,541.0 1059.3,543.1 1062.4,550.1 C1065.5,557.1 1081.8,575.8 1077.9,578.0 C1074.1,580.2 1049.0,569.0 1039.3,563.6 C1029.6,558.2 1025.8,550.2 1019.6,545.7 C1013.4,541.2 1009.2,539.2 1001.8,536.8 C994.4,534.4 983.0,532.3 975.0,531.4 C967.0,530.5 961.0,532.6 953.6,531.4 C946.2,530.2 937.2,526.4 930.4,524.3 C923.5,522.2 920.0,521.0 912.5,518.9 C905.0,516.8 892.6,514.2 885.7,511.8 C878.9,509.4 874.1,507.6 871.4,504.6 C868.7,501.6 869.0,497.8 869.6,493.9 C870.2,490.0 872.9,487.0 875.0,481.4 C877.1,475.8 880.3,467.4 882.1,460.0 C883.9,452.6 882.1,441.3 885.7,436.8Z" fill="#ffbb78" stroke="#ffbb78" stroke-width="1.5" stroke-linejoin="round"/>
<path d="M1025.1,458.6 C1027.7,461.9 1036.3,476.9 1037.6,481.8 C1038.9,486.7 1036.8,489.8 1032.9,488.0 C1029.0,486.2 1016.1,475.3 1014.3,471.0 C1012.5,466.7 1020.2,464.1 1022.0,462.0 C1023.8,459.9 1022.5,455.3 1025.1,458.6Z" fill="#1f77b4" stroke="#1f77b4" stroke-width="1.5" stroke-linejoin="round"/>
<path d="M1037.6,474.1 C1038.6,471.0 1047.8,470.8 1053.0,471.0 C1058.2,471.2 1066.0,473.8 1068.6,475.6 C1071.2,477.4 1070.1,479.5 1068.6,481.8 C1067.0,484.1 1062.9,488.3 1059.3,489.6 C1055.7,490.9 1050.5,492.2 1046.9,489.6 C1043.3,487.0 1036.6,477.2 1037.6,474.1Z" fill="#ffbb78" stroke="#ffbb78" stroke-width="1.5" stroke-linejoin="round"/>
<path d="M907.1,574.3 C908.9,570.7 913.7,562.7 917.9,560.0 C922.1,557.3 928.5,556.7 932.1,558.2 C935.7,559.7 936.6,565.6 939.3,568.9 C942.0,572.2 948.2,575.2 948.2,577.9 C948.2,580.6 944.3,583.5 939.3,585.0 C934.2,586.5 923.3,587.4 917.9,586.8 C912.5,586.2 908.9,583.5 907.1,581.4 C905.3,579.3 905.3,577.9 907.1,574.3Z" fill="#ffbb78" stroke="#ffbb78" stroke-width="1.5" stroke-linejoin="round"/>
<circle cx="942.9" cy="577.9" r="7.0" fill="#f7b6d2"/>
<path d="M1053.0,543.9 C1060.8,548.3 1074.3,571.0 1077.9,578.0 C1081.5,585.0 1079.0,586.3 1074.8,585.8 C1070.6,585.3 1059.7,575.4 1053.0,574.9 C1046.3,574.4 1039.9,581.7 1034.5,582.7 C1029.1,583.7 1022.8,582.7 1020.5,581.1 C1018.2,579.5 1016.9,576.0 1020.5,573.4 C1024.1,570.8 1040.4,569.2 1042.2,565.6 C1044.0,562.0 1029.6,555.2 1031.4,551.6 C1033.2,548.0 1045.2,539.5 1053.0,543.9Z" fill="#f7b6d2" stroke="#f7b6d2" stroke-width="1.5" stroke-linejoin="round"/>
<ellipse cx="1181.0" cy="228.0" rx="8.3" ry="7.0" fill="#2ca02c"/>
</g>
<text x="394.3" y="71.5" font-size="37" fill="#000">8</text>
<text x="426.7" y="127.2" font-size="37" fill="#000">10</text>
<text x="696.2" y="92.4" font-size="37" fill="#000">2</text>
<text x="616.0" y="225.6" font-size="37" fill="#000">13</text>
<text x="269.7" y="367.6" font-size="37" fill="#000">5</text>
<text x="208.3" y="417.8" font-size="37" fill="#000">7</text>
<text x="428.1" y="458.6" font-size="37" fill="#000">3</text>
<text x="487.1" y="559.1" font-size="37" fill="#000">11</text>
<text x="452.7" y="690.8" font-size="37" fill="#000">9</text>
<text x="775.1" y="220.8" font-size="37" fill="#000">12</text>
<text x="989.0" y="191.1" font-size="37" fill="#000">6</text>
<text x="988.2" y="288.7" font-size="37" fill="#000">15</text>
<text x="911.8" y="380.6" font-size="37" fill="#000">1</text>
<text x="972.2" y="494.5" font-size="37" fill="#000">4</text>
<text x="1075.7" y="565.4" font-size="37" fill="#000">14</text>
<defs><filter id="er" x="0" y="0" width="1" height="1"><feMorphology operator="erode" radius="2.5"/></filter><mask id="bm" maskUnits="userSpaceOnUse" x="0" y="800" width="1344" height="812"><rect x="0" y="800" width="1344" height="812" fill="#000"/><g filter="url(#er)">
<circle cx="158.2" cy="1141.3" r="5.2" fill="#fff"/>
<path d="M134.8,1159.6 C136.5,1155.9 140.7,1147.7 148.1,1145.1 C155.4,1142.5 168.1,1145.3 178.7,1144.0 C189.2,1142.7 201.1,1140.5 211.3,1137.3 C221.5,1134.1 231.7,1128.3 239.9,1125.0 C248.0,1121.7 251.8,1119.2 260.3,1117.2 C268.8,1115.2 280.7,1113.5 290.9,1112.7 C301.1,1112.0 311.3,1112.9 321.5,1112.7 C331.7,1112.5 342.3,1112.3 352.1,1111.6 C362.0,1110.9 375.2,1107.9 380.8,1108.3 C386.4,1108.7 387.2,1111.1 385.8,1113.9 C384.4,1116.7 379.9,1121.1 372.5,1125.0 C365.2,1128.9 352.1,1132.8 341.9,1137.3 C331.7,1141.8 320.4,1147.9 311.3,1151.8 C302.1,1155.7 292.7,1158.0 286.9,1160.7 C281.1,1163.4 281.0,1167.5 276.5,1168.0 C272.1,1168.5 266.8,1165.7 260.1,1164.0 C253.4,1162.3 243.8,1158.5 236.3,1158.0 C228.8,1157.5 224.9,1158.7 215.3,1161.0 C205.7,1163.3 190.5,1170.0 178.7,1172.0 C166.9,1174.0 151.5,1173.8 144.7,1173.0 C137.9,1172.2 139.5,1169.2 137.8,1167.0 C136.2,1164.8 133.1,1163.2 134.8,1159.6Z" fill="#fff" stroke="#fff" stroke-width="1.5" stroke-linejoin="round"/>
<circle cx="346.0" cy="1123.9" r="5.7" fill="#fff"/>
<circle cx="356.3" cy="1122.8" r="5.7" fill="#fff"/>
<circle cx="361.3" cy="1121.7" r="5.7" fill="#fff"/>
<circle cx="370.5" cy="1117.7" r="5.7" fill="#fff"/>
<circle cx="301.2" cy="1154.0" r="5.2" fill="#fff"/>
<circle cx="311.3" cy="1149.6" r="5.2" fill="#fff"/>
<path d="M146.0,1172.3 C149.5,1171.4 158.4,1170.3 165.0,1169.3 C171.5,1168.3 177.5,1168.4 185.5,1166.4 C193.4,1164.4 204.8,1159.9 212.7,1157.4 C220.6,1154.9 227.4,1153.2 233.1,1151.5 C238.8,1149.8 241.1,1147.0 246.7,1147.0 C252.4,1147.0 260.3,1149.0 267.1,1151.5 C273.9,1154.0 282.9,1157.8 287.5,1161.9 C292.1,1166.1 290.9,1171.8 294.8,1176.4 C298.8,1181.1 310.4,1185.7 311.3,1189.8 C312.2,1193.9 304.7,1198.0 300.3,1201.0 C295.9,1204.0 288.0,1202.8 284.8,1207.6 C281.5,1212.4 281.1,1222.5 280.7,1230.0 C280.4,1237.5 282.7,1247.5 282.7,1252.3 C282.7,1257.1 282.7,1258.0 280.7,1259.0 C278.8,1260.0 275.8,1259.3 271.0,1258.2 C266.3,1257.1 257.8,1254.9 252.0,1252.3 C246.2,1249.7 242.2,1245.1 236.3,1242.4 C230.4,1239.7 222.4,1238.0 216.4,1236.2 C210.3,1234.4 205.5,1233.3 200.1,1231.7 C194.6,1230.1 189.2,1229.1 183.7,1226.4 C178.3,1223.7 171.4,1218.9 167.4,1215.6 C163.3,1212.3 161.5,1210.0 159.2,1206.7 C156.9,1203.4 155.2,1199.4 153.5,1196.0 C151.9,1192.6 150.9,1189.8 149.4,1186.2 C147.9,1182.6 145.1,1176.9 144.5,1174.6 C143.9,1172.3 142.6,1173.2 146.0,1172.3Z" fill="#fff" stroke="#fff" stroke-width="1.5" stroke-linejoin="round"/>
<circle cx="418.4" cy="1211.0" r="6.6" fill="#fff"/>
<path d="M293.0,1174.0 C295.1,1172.3 304.8,1184.0 311.3,1188.0 C317.7,1192.0 323.2,1194.8 331.8,1197.7 C340.3,1200.6 353.9,1203.6 362.4,1205.5 C370.8,1207.4 374.1,1207.7 382.4,1209.0 C390.7,1210.3 403.2,1212.3 412.3,1213.3 C421.4,1214.3 428.2,1214.8 436.8,1214.8 C445.4,1214.8 453.5,1213.9 464.0,1213.5 C474.4,1213.1 492.3,1211.7 499.4,1212.5 C506.4,1213.3 506.2,1216.2 506.2,1218.5 C506.2,1220.8 506.4,1225.3 499.4,1226.2 C492.3,1227.1 474.4,1224.2 464.0,1224.0 C453.5,1223.8 444.1,1223.8 436.8,1224.7 C429.6,1225.6 424.5,1227.5 420.4,1229.2 C416.4,1230.9 414.1,1232.9 412.3,1235.1 C410.5,1237.3 409.6,1238.3 409.6,1242.5 C409.6,1246.7 410.9,1255.4 412.3,1260.4 C413.7,1265.4 413.7,1268.3 417.8,1272.3 C421.9,1276.3 429.1,1280.5 436.8,1284.2 C444.5,1287.9 456.0,1292.6 464.0,1294.6 C471.9,1296.6 478.1,1295.3 484.5,1296.1 C490.8,1296.8 497.9,1296.9 502.1,1299.1 C506.3,1301.3 508.9,1305.0 509.6,1309.5 C510.3,1314.0 508.8,1321.6 506.2,1325.8 C503.6,1330.0 495.8,1330.7 494.0,1334.7 C492.2,1338.7 496.0,1345.0 495.3,1349.6 C494.7,1354.1 494.9,1359.3 489.8,1362.0 C484.8,1364.7 473.6,1365.3 464.9,1366.0 C456.2,1366.7 448.7,1366.0 437.5,1366.0 C426.2,1366.0 404.1,1369.8 397.2,1366.0 C390.4,1362.2 397.0,1347.6 396.5,1343.0 C396.0,1338.4 396.5,1339.5 394.5,1338.5 C392.5,1337.5 387.6,1338.4 384.4,1337.0 C381.2,1335.6 377.1,1332.7 375.3,1330.0 C373.5,1327.3 373.7,1323.1 373.6,1320.6 C373.6,1318.1 373.9,1316.6 374.8,1315.0 C375.7,1313.4 377.8,1312.5 378.9,1311.0 C380.1,1309.5 381.8,1307.4 381.7,1306.0 C381.5,1304.6 379.7,1304.2 378.0,1302.5 C376.3,1300.8 374.3,1298.0 371.5,1295.6 C368.8,1293.2 365.3,1290.7 361.7,1287.9 C358.0,1285.1 354.5,1282.2 349.4,1278.9 C344.3,1275.6 337.2,1271.1 331.1,1268.1 C325.0,1265.1 319.9,1262.3 312.7,1261.0 C305.6,1259.7 293.6,1260.8 288.2,1260.5 C282.9,1260.2 281.6,1260.4 280.7,1259.0 C279.8,1257.6 282.7,1257.1 282.7,1252.3 C282.7,1247.5 280.4,1237.5 280.7,1230.0 C281.1,1222.5 281.8,1212.9 284.8,1207.6 C287.7,1202.3 297.1,1203.6 298.5,1198.0 C299.8,1192.4 290.9,1175.7 293.0,1174.0Z" fill="#fff" stroke="#fff" stroke-width="1.5" stroke-linejoin="round"/>
<circle cx="421.2" cy="1259.7" r="5.7" fill="#fff"/>
<circle cx="268.5" cy="1212.0" r="5.2" fill="#fff"/>
<circle cx="273.8" cy="1212.0" r="5.2" fill="#fff"/>
<ellipse cx="383.5" cy="1329.5" rx="10.9" ry="8.1" fill="#fff"/>
<circle cx="406.4" cy="1391.0" r="6.2" fill="#fff"/>
<circle cx="419.2" cy="1398.0" r="6.2" fill="#fff"/>
<circle cx="433.8" cy="1403.0" r="6.2" fill="#fff"/>
<circle cx="448.4" cy="1406.0" r="6.2" fill="#fff"/>
<circle cx="463.1" cy="1406.0" r="6.2" fill="#fff"/>
<circle cx="474.9" cy="1396.0" r="5.7" fill="#fff"/>
<line x1="396.3" y1="1343.0" x2="397.2" y2="1368.0" stroke="#fff" stroke-width="5.7" stroke-linecap="round"/>
<circle cx="402.7" cy="1383.0" r="6.6" fill="#fff"/>
<path d="M397.2,1336.0 C399.0,1330.1 403.2,1331.3 406.4,1332.0 C409.6,1332.7 411.4,1337.6 416.4,1340.0 C421.5,1342.4 429.3,1345.4 436.8,1346.6 C444.3,1347.8 455.0,1345.4 461.2,1347.0 C467.4,1348.6 470.7,1353.5 474.0,1356.0 C477.4,1358.5 481.0,1359.8 481.3,1362.0 C481.7,1364.2 476.9,1366.1 476.2,1369.0 C475.6,1371.9 477.8,1375.3 477.6,1379.3 C477.4,1383.2 476.1,1388.7 474.9,1392.7 C473.8,1396.7 473.1,1400.9 470.8,1403.1 C468.5,1405.3 466.9,1406.1 461.2,1406.1 C455.6,1406.1 443.2,1404.3 436.8,1403.1 C430.5,1401.9 428.2,1400.7 423.2,1398.7 C418.2,1396.7 410.9,1393.9 406.8,1391.2 C402.7,1388.5 400.5,1386.3 398.7,1382.3 C396.9,1378.3 396.2,1375.1 395.9,1367.4 C395.7,1359.7 395.5,1341.9 397.2,1336.0Z" fill="#fff" stroke="#fff" stroke-width="1.5" stroke-linejoin="round"/>
<circle cx="457.2" cy="1412.0" r="5.7" fill="#fff"/>
<circle cx="469.5" cy="1409.1" r="5.7" fill="#fff"/>
<circle cx="451.8" cy="1424.0" r="5.7" fill="#fff"/>
<path d="M420.4,1431.4 C423.4,1430.9 427.3,1432.7 436.8,1432.9 C446.3,1433.2 469.2,1431.9 477.6,1432.9 C486.0,1433.9 482.8,1436.4 487.1,1438.9 C491.4,1441.4 500.5,1445.1 503.5,1447.8 C506.4,1450.5 506.9,1452.5 504.8,1455.2 C502.8,1457.9 493.7,1461.2 491.2,1464.2 C488.7,1467.2 492.6,1470.1 489.8,1473.1 C487.1,1476.1 473.8,1479.5 474.9,1482.0 C476.1,1484.5 492.4,1485.5 496.7,1488.0 C501.0,1490.5 500.7,1494.4 500.7,1496.9 C500.7,1499.4 500.6,1501.8 496.7,1502.8 C492.9,1503.8 487.6,1502.8 477.6,1502.8 C467.6,1502.8 444.5,1505.0 436.8,1502.8 C429.1,1500.6 433.8,1494.7 431.3,1489.5 C428.8,1484.3 424.1,1476.1 421.8,1471.6 C419.6,1467.1 418.8,1465.9 417.8,1462.7 C416.8,1459.5 415.5,1456.8 415.7,1452.3 C415.9,1447.8 418.4,1439.4 419.2,1435.9 C420.0,1432.4 417.5,1431.9 420.4,1431.4Z" fill="#fff" stroke="#fff" stroke-width="1.5" stroke-linejoin="round"/>
<circle cx="424.6" cy="1432.9" r="6.6" fill="#fff"/>
<circle cx="423.2" cy="1453.7" r="7.6" fill="#fff"/>
<path d="M319.5,861.0 C324.0,858.5 335.8,856.4 345.1,855.6 C354.4,854.9 365.2,855.9 375.3,856.5 C385.3,857.1 396.8,857.8 405.5,859.0 C414.1,860.2 421.2,861.6 427.4,864.0 C433.6,866.4 437.9,870.6 442.9,873.6 C448.0,876.6 453.2,879.4 457.6,881.8 C462.0,884.2 469.8,884.0 469.5,888.0 C469.2,892.0 462.6,902.3 455.7,906.0 C448.9,909.7 436.4,909.8 428.3,910.0 C420.2,910.2 413.7,907.6 407.3,907.0 C400.9,906.4 397.7,905.4 389.9,906.4 C382.1,907.4 369.8,910.6 360.6,913.0 C351.5,915.4 341.0,918.8 335.0,921.0 C329.1,923.2 327.6,926.2 325.0,926.0 C322.4,925.8 319.9,923.6 319.5,919.5 C319.1,915.4 323.0,909.7 322.8,901.5 C322.6,893.3 318.8,877.1 318.2,870.4 C317.7,863.6 315.0,863.5 319.5,861.0Z" fill="#fff" stroke="#fff" stroke-width="1.5" stroke-linejoin="round"/>
<path d="M410.9,899.0 C411.3,896.3 412.4,892.4 416.4,890.0 C420.4,887.6 429.4,885.9 435.0,884.5 C440.6,883.1 445.0,882.5 450.0,881.8 C455.0,881.1 459.9,878.8 464.9,880.2 C469.9,881.6 475.6,886.5 479.9,890.0 C484.2,893.5 489.5,898.5 490.5,901.5 C491.5,904.5 488.9,905.8 485.9,908.0 C482.9,910.2 477.1,912.1 472.4,914.6 C467.6,917.1 461.5,919.1 457.5,922.8 C453.5,926.5 451.4,934.5 448.4,936.7 C445.4,938.9 442.2,937.5 439.5,936.0 C436.7,934.5 434.7,931.3 432.0,927.7 C429.2,924.1 426.0,918.2 423.0,914.6 C420.0,911.0 416.1,909.0 414.0,906.4 C412.0,903.8 410.5,901.7 410.9,899.0Z" fill="#fff" stroke="#fff" stroke-width="1.5" stroke-linejoin="round"/>
<circle cx="473.9" cy="933.4" r="6.6" fill="#fff"/>
<circle cx="441.1" cy="861.4" r="5.7" fill="#fff"/>
<circle cx="446.6" cy="861.4" r="5.7" fill="#fff"/>
<circle cx="461.2" cy="876.0" r="5.2" fill="#fff"/>
<path d="M247.3,979.0 C247.6,976.5 249.2,974.0 252.8,972.0 C256.3,970.0 263.4,968.4 268.3,967.0 C273.2,965.6 278.5,963.8 282.0,963.5 C285.5,963.2 287.8,963.8 289.3,965.0 C290.9,966.2 291.8,968.5 291.2,971.0 C290.5,973.5 287.3,977.2 285.7,980.0 C284.0,982.8 284.0,986.5 281.1,988.0 C278.2,989.5 272.0,988.7 268.3,989.0 C264.6,989.3 262.1,990.3 259.2,990.0 C256.3,989.7 252.9,988.8 250.9,987.0 C248.9,985.2 247.0,981.5 247.3,979.0Z" fill="#fff" stroke="#fff" stroke-width="1.5" stroke-linejoin="round"/>
<circle cx="253.7" cy="979.0" r="6.2" fill="#fff"/>
<circle cx="632.6" cy="870.5" r="7.1" fill="#fff"/>
<path d="M627.1,868.0 C627.3,865.4 630.1,859.4 632.6,856.4 C635.0,853.4 638.7,851.3 641.7,849.7 C644.8,848.1 647.6,847.5 651.0,847.0 C654.3,846.5 659.3,845.7 661.9,846.4 C664.6,847.1 664.6,849.7 666.9,851.0 C669.1,852.3 672.5,852.9 675.5,854.4 C678.4,855.9 681.5,858.3 684.6,859.8 C687.7,861.2 689.3,861.5 693.8,863.1 C698.4,864.7 705.8,867.2 711.9,869.1 C717.9,871.0 724.6,873.6 730.2,874.5 C735.8,875.4 741.4,874.3 745.5,874.5 C749.6,874.7 752.2,874.7 754.7,875.8 C757.3,876.9 759.3,878.5 760.9,881.2 C762.4,883.9 762.9,888.8 763.9,891.9 C764.9,895.0 766.0,897.5 767.0,899.9 C768.0,902.2 769.8,904.1 770.0,906.0 C770.2,907.9 769.6,909.5 768.2,911.3 C766.8,913.1 762.5,914.6 761.4,916.7 C760.3,918.8 762.3,922.2 761.4,924.0 C760.5,925.8 758.1,927.3 755.9,927.4 C753.8,927.5 752.9,924.7 748.6,924.7 C744.3,924.7 735.3,926.4 730.2,927.4 C725.1,928.4 721.4,930.5 718.0,930.8 C714.6,931.1 711.4,931.0 710.0,929.4 C708.7,927.8 707.7,923.4 710.0,921.4 C712.4,919.4 719.7,919.4 724.1,917.4 C728.5,915.4 735.3,911.3 736.4,909.3 C737.4,907.3 732.8,906.6 730.2,905.3 C727.7,904.0 724.1,902.5 721.0,901.3 C717.9,900.1 714.4,899.2 711.9,897.9 C709.3,896.5 707.6,895.9 705.7,893.2 C703.9,890.6 702.8,884.8 700.8,882.0 C698.8,879.2 696.5,877.8 693.8,876.5 C691.1,875.2 687.7,874.8 684.6,874.5 C681.5,874.2 678.0,874.0 675.5,874.5 C672.9,875.0 672.4,876.8 669.3,877.2 C666.2,877.6 662.0,877.9 656.9,877.0 C651.8,876.1 642.9,872.8 638.6,872.0 C634.4,871.2 633.2,872.7 631.3,872.0 C629.4,871.3 626.9,870.6 627.1,868.0Z" fill="#fff" stroke="#fff" stroke-width="1.5" stroke-linejoin="round"/>
<path d="M663.2,908.0 C664.4,907.2 667.5,907.3 669.3,908.6 C671.2,909.9 672.2,913.5 674.3,916.0 C676.3,918.5 678.4,922.4 681.6,923.4 C684.8,924.4 690.0,922.3 693.5,922.0 C697.0,921.7 700.3,921.2 702.6,921.4 C704.9,921.6 706.4,921.2 707.2,923.0 C708.0,924.8 708.3,930.0 707.6,932.0 C706.8,934.0 707.0,933.5 702.6,934.8 C698.3,936.0 687.7,940.6 681.6,939.5 C675.5,938.4 669.3,931.0 666.2,928.0 C663.2,925.0 663.9,923.9 663.2,921.4 C662.5,918.9 661.9,915.5 661.9,913.3 C661.9,911.1 662.0,908.8 663.2,908.0Z" fill="#fff" stroke="#fff" stroke-width="1.5" stroke-linejoin="round"/>
<circle cx="632.6" cy="870.5" r="6.2" fill="#fff"/>
<path d="M638.7,873.1 C641.7,872.6 649.7,874.4 654.6,875.8 C659.5,877.1 665.3,879.3 668.1,881.2 C670.8,883.1 671.5,885.3 671.2,887.2 C670.9,889.1 669.4,891.9 666.2,892.6 C663.1,893.3 656.7,892.4 652.2,891.2 C647.6,890.0 641.3,887.3 638.7,885.2 C636.2,883.1 636.9,880.5 636.9,878.5 C636.9,876.5 635.8,873.6 638.7,873.1Z" fill="#fff" stroke="#fff" stroke-width="1.5" stroke-linejoin="round"/>
<circle cx="672.9" cy="887.5" r="5.2" fill="#fff"/>
<line x1="696.7" y1="887.2" x2="708.1" y2="887.2" stroke="#fff" stroke-width="11.4" stroke-linecap="round"/>
<circle cx="745.0" cy="898.6" r="4.8" fill="#fff"/>
<circle cx="755.9" cy="920.0" r="5.7" fill="#fff"/>
<path d="M504.9,1019.8 C507.2,1017.9 513.6,1015.1 518.6,1016.1 C523.5,1017.1 530.1,1023.2 534.8,1025.8 C539.6,1028.4 545.8,1029.0 547.2,1031.7 C548.6,1034.4 545.1,1039.9 543.1,1042.1 C541.0,1044.3 538.5,1044.3 534.8,1045.1 C531.2,1045.8 524.9,1047.3 521.3,1046.6 C517.7,1045.8 514.7,1043.1 513.1,1040.6 C511.5,1038.1 513.2,1033.9 511.8,1031.7 C510.4,1029.5 506.1,1029.3 504.9,1027.3 C503.8,1025.3 502.7,1021.7 504.9,1019.8Z" fill="#fff" stroke="#fff" stroke-width="1.5" stroke-linejoin="round"/>
<path d="M547.2,1034.7 C550.4,1033.5 561.0,1031.2 564.8,1031.7 C568.7,1032.2 569.3,1034.2 570.2,1037.7 C571.1,1041.2 570.0,1048.8 570.2,1052.5 C570.5,1056.2 572.5,1058.0 571.6,1060.0 C570.7,1062.0 568.2,1064.8 564.8,1064.5 C561.4,1064.2 554.6,1060.8 551.2,1058.5 C547.8,1056.2 545.3,1054.2 544.4,1051.0 C543.5,1047.8 545.4,1041.9 545.8,1039.2 C546.3,1036.5 544.0,1036.0 547.2,1034.7Z" fill="#fff" stroke="#fff" stroke-width="1.5" stroke-linejoin="round"/>
<line x1="580.1" y1="1026.5" x2="603.9" y2="1026.5" stroke="#fff" stroke-width="12.3" stroke-linecap="round"/>
<circle cx="561.4" cy="1049.6" r="5.2" fill="#fff"/>
<circle cx="528.1" cy="1034.7" r="5.2" fill="#fff"/>
<circle cx="508.3" cy="1145.6" r="6.2" fill="#fff"/>
<circle cx="503.6" cy="1147.0" r="6.6" fill="#fff"/>
<line x1="632.9" y1="1141.1" x2="640.4" y2="1144.0" stroke="#fff" stroke-width="14.2" stroke-linecap="round"/>
<circle cx="647.8" cy="1147.8" r="6.2" fill="#fff"/>
<circle cx="735.5" cy="992.0" r="5.7" fill="#fff"/>
<path d="M733.4,995.0 C734.2,992.9 734.1,988.5 737.0,985.3 C739.9,982.1 747.3,977.8 751.1,975.7 C754.9,973.6 757.3,972.8 760.0,972.8 C762.6,972.8 764.8,975.3 767.0,975.7 C769.2,976.1 770.7,975.1 773.2,975.2 C775.7,975.4 778.4,975.6 782.1,976.6 C785.8,977.6 792.0,979.9 795.3,981.5 C798.7,983.1 799.7,984.7 802.4,986.3 C805.0,987.9 809.5,989.3 811.3,991.1 C813.0,992.9 813.4,995.0 813.0,997.0 C812.5,999.0 811.5,1001.0 808.6,1002.8 C805.7,1004.6 799.8,1006.5 795.3,1007.6 C790.9,1008.7 786.5,1008.9 782.1,1009.5 C777.7,1010.1 772.5,1011.6 768.8,1011.5 C765.1,1011.4 762.9,1009.7 760.0,1008.6 C757.0,1007.5 754.8,1005.7 751.1,1004.7 C747.4,1003.7 740.9,1003.9 737.8,1002.8 C734.7,1001.7 733.3,999.2 732.5,997.9 C731.8,996.6 732.7,997.1 733.4,995.0Z" fill="#fff" stroke="#fff" stroke-width="1.5" stroke-linejoin="round"/>
<circle cx="806.9" cy="995.0" r="6.6" fill="#fff"/>
<circle cx="794.1" cy="1006.0" r="4.8" fill="#fff"/>
<path d="M747.6,1006.6 C750.1,1006.6 759.5,1008.2 761.7,1010.5 C763.9,1012.8 760.7,1016.3 760.9,1020.2 C761.0,1024.1 763.0,1030.5 762.6,1033.7 C762.2,1036.9 760.1,1039.5 758.2,1039.5 C756.3,1039.5 753.0,1036.3 751.1,1033.7 C749.2,1031.1 747.4,1027.9 746.7,1024.0 C746.0,1020.1 746.5,1013.4 746.7,1010.5 C746.8,1007.6 745.1,1006.6 747.6,1006.6Z" fill="#fff" stroke="#fff" stroke-width="1.5" stroke-linejoin="round"/>
<circle cx="765.3" cy="1040.0" r="5.2" fill="#fff"/>
<ellipse cx="709.1" cy="1002.3" rx="7.6" ry="6.2" fill="#fff"/>
<path d="M716.7,1085.6 C717.5,1084.1 719.6,1082.2 721.6,1081.2 C723.5,1080.2 725.3,1079.7 728.1,1079.4 C731.0,1079.1 735.8,1080.2 738.7,1079.4 C741.7,1078.7 744.6,1077.4 746.1,1074.9 C747.5,1072.4 746.5,1066.7 747.7,1064.2 C748.9,1061.8 751.5,1060.2 753.4,1060.2 C755.3,1060.2 757.9,1062.3 759.1,1064.2 C760.4,1066.1 760.0,1069.5 760.8,1071.4 C761.6,1073.3 762.3,1075.2 764.0,1075.4 C765.6,1075.6 768.1,1073.7 770.6,1072.3 C773.0,1070.9 777.9,1070.0 778.7,1066.9 C779.5,1063.8 775.1,1056.6 775.4,1053.5 C775.7,1050.4 778.4,1048.5 780.3,1048.1 C782.2,1047.6 784.7,1049.4 786.8,1050.8 C789.0,1052.2 791.0,1055.3 793.4,1056.2 C795.9,1057.1 799.4,1055.8 801.6,1056.2 C803.7,1056.7 805.0,1057.9 806.5,1058.9 C808.0,1059.9 810.5,1059.0 810.5,1062.0 C810.5,1065.0 808.7,1073.2 806.5,1076.7 C804.3,1080.2 800.3,1081.5 797.5,1083.0 C794.8,1084.5 792.0,1085.0 790.1,1085.6 C788.2,1086.2 785.1,1085.3 786.1,1086.5 C787.1,1087.7 793.1,1090.7 796.2,1092.7 C799.2,1094.7 800.9,1097.0 804.3,1098.3 C807.7,1099.6 812.8,1099.7 816.6,1100.6 C820.3,1101.5 823.4,1103.0 826.8,1103.9 C830.2,1104.8 833.6,1105.5 837.0,1106.1 C840.4,1106.7 845.2,1105.8 847.2,1107.3 C849.2,1108.8 848.9,1112.6 848.9,1115.0 C848.9,1117.4 849.2,1121.0 847.2,1121.8 C845.2,1122.5 841.3,1119.7 837.0,1119.5 C832.8,1119.3 825.4,1121.0 821.7,1120.6 C817.9,1120.2 817.9,1118.4 814.5,1117.3 C811.1,1116.2 804.3,1114.1 801.3,1113.9 C798.2,1113.7 796.8,1114.7 796.2,1116.2 C795.5,1117.7 794.6,1120.3 797.2,1122.9 C799.7,1125.5 808.2,1128.5 811.4,1131.8 C814.7,1135.1 813.7,1140.2 816.6,1143.0 C819.4,1145.8 824.6,1146.7 828.8,1148.5 C833.1,1150.3 838.1,1151.7 842.1,1154.1 C846.0,1156.5 848.9,1159.9 852.3,1163.1 C855.7,1166.3 858.3,1171.2 862.5,1173.1 C866.8,1174.9 873.6,1174.2 877.8,1174.2 C882.1,1174.2 883.8,1173.5 888.1,1173.1 C892.3,1172.7 899.2,1172.0 903.3,1172.0 C907.5,1172.0 908.3,1172.9 912.9,1173.1 C917.5,1173.3 926.0,1171.2 930.8,1173.0 C935.7,1174.8 937.9,1180.3 942.2,1183.9 C946.5,1187.5 951.7,1192.7 956.5,1194.8 C961.2,1196.9 966.1,1194.5 970.5,1196.3 C975.0,1198.1 982.1,1202.5 983.3,1205.6 C984.5,1208.7 980.7,1211.1 977.7,1215.0 C974.6,1218.9 969.0,1224.2 965.0,1228.9 C960.9,1233.6 955.3,1238.5 953.6,1242.9 C952.0,1247.3 956.4,1251.7 955.0,1255.3 C953.6,1258.9 944.8,1259.2 945.0,1264.6 C945.3,1270.0 955.3,1282.9 956.5,1287.8 C957.6,1292.7 955.7,1295.8 952.2,1294.0 C948.6,1292.2 940.3,1282.2 935.1,1277.0 C930.0,1271.8 925.7,1267.9 921.0,1263.0 C916.3,1258.1 911.8,1252.0 906.8,1247.5 C901.8,1243.0 899.6,1237.1 891.0,1236.0 C882.4,1234.9 866.8,1240.7 855.0,1241.0 C843.3,1241.3 826.4,1240.4 820.2,1238.0 C814.0,1235.6 819.5,1232.4 818.0,1226.5 C816.6,1220.6 814.2,1210.3 811.4,1202.7 C808.6,1195.1 805.2,1186.2 801.3,1180.9 C797.4,1175.6 789.7,1174.6 788.0,1170.9 C786.3,1167.2 793.1,1165.5 791.0,1158.6 C789.0,1151.7 779.5,1136.1 775.8,1129.6 C772.1,1123.1 771.4,1120.7 768.9,1119.6 C766.4,1118.5 763.5,1123.4 760.8,1123.1 C758.0,1122.8 756.2,1119.4 752.5,1117.8 C748.9,1116.2 742.6,1115.7 738.7,1113.3 C734.9,1110.9 732.6,1106.3 729.7,1103.5 C726.8,1100.7 723.7,1098.6 721.6,1096.4 C719.4,1094.2 717.5,1091.9 716.7,1090.1 C715.9,1088.3 715.9,1087.1 716.7,1085.6Z" fill="#fff" stroke="#fff" stroke-width="1.5" stroke-linejoin="round"/>
<circle cx="801.3" cy="1124.0" r="4.8" fill="#fff"/>
<circle cx="821.2" cy="1140.2" r="5.2" fill="#fff"/>
<circle cx="842.6" cy="1149.1" r="6.2" fill="#fff"/>
<circle cx="861.5" cy="1172.0" r="5.2" fill="#fff"/>
<circle cx="897.2" cy="1177.6" r="5.2" fill="#fff"/>
<ellipse cx="728.1" cy="1111.5" rx="8.5" ry="7.1" fill="#fff"/>
<circle cx="747.7" cy="1108.0" r="5.2" fill="#fff"/>
<circle cx="747.7" cy="1108.0" r="4.1" fill="#fff"/>
<circle cx="950.8" cy="1252.2" r="5.7" fill="#fff"/>
<path d="M845.3,1107.3 C847.3,1104.7 852.0,1106.8 857.4,1106.1 C862.9,1105.3 873.9,1104.3 877.8,1102.8 C881.7,1101.3 879.7,1099.2 880.9,1097.2 C882.1,1095.2 884.1,1092.9 884.9,1090.5 C885.8,1088.1 884.6,1084.0 886.0,1082.7 C887.3,1081.4 890.0,1081.8 893.1,1082.7 C896.1,1083.6 901.8,1085.7 904.3,1088.3 C906.9,1090.9 908.6,1094.8 908.4,1098.3 C908.3,1101.8 906.4,1106.9 903.3,1109.5 C900.3,1112.1 896.0,1112.9 890.1,1114.0 C884.1,1115.1 873.0,1114.9 867.6,1116.2 C862.1,1117.5 861.1,1120.9 857.4,1121.8 C853.7,1122.7 847.3,1124.2 845.3,1121.8 C843.2,1119.4 843.2,1109.9 845.3,1107.3Z" fill="#fff" stroke="#fff" stroke-width="1.5" stroke-linejoin="round"/>
<ellipse cx="837.0" cy="1114.0" rx="10.4" ry="5.7" fill="#fff"/>
<circle cx="889.2" cy="1089.0" r="4.8" fill="#fff"/>
<path d="M832.6,925.3 C832.8,922.6 836.4,919.5 838.3,919.0 C840.2,918.5 841.9,921.0 844.0,922.6 C846.0,924.2 848.1,926.5 850.6,928.9 C853.0,931.3 855.3,934.4 858.7,936.9 C862.1,939.4 866.2,941.9 871.0,944.0 C875.7,946.1 882.6,947.8 887.3,949.4 C892.1,951.0 895.8,952.4 899.6,953.9 C903.4,955.4 907.1,956.2 910.2,958.3 C913.3,960.4 915.7,963.6 918.3,966.4 C920.9,969.2 923.9,971.6 925.6,975.3 C927.4,979.0 928.4,985.1 928.9,988.7 C929.5,992.3 929.6,994.2 928.8,997.0 C928.1,999.8 926.8,1001.9 924.4,1005.3 C922.1,1008.7 919.0,1013.2 914.7,1017.2 C910.3,1021.2 904.7,1025.5 898.3,1029.1 C891.9,1032.7 883.8,1035.4 876.5,1038.6 C869.3,1041.8 862.0,1044.9 854.8,1048.1 C847.5,1051.3 840.3,1054.1 833.0,1057.7 C825.8,1061.3 816.1,1066.8 811.3,1069.6 C806.4,1072.4 805.8,1073.7 803.7,1074.3 C801.5,1074.9 798.7,1075.1 798.2,1073.1 C797.6,1071.0 798.2,1065.2 800.4,1062.0 C802.5,1058.8 805.8,1057.2 811.3,1054.1 C816.7,1051.0 827.2,1046.4 833.0,1043.4 C838.8,1040.4 842.5,1038.2 846.1,1036.2 C849.7,1034.2 854.6,1032.5 854.8,1031.5 C855.0,1030.5 849.2,1031.7 847.2,1030.3 C845.2,1028.9 842.4,1025.7 842.8,1023.1 C843.2,1020.5 847.4,1018.2 849.4,1014.8 C851.4,1011.4 852.7,1005.7 854.8,1002.9 C856.8,1000.1 859.4,999.2 861.7,998.0 C864.0,996.8 865.7,995.6 868.5,995.8 C871.2,996.0 875.0,998.6 878.2,999.0 C881.3,999.4 884.9,998.5 887.3,998.0 C889.8,997.5 892.3,997.6 893.0,995.8 C893.7,993.9 892.6,990.2 891.3,986.9 C890.1,983.6 886.9,978.5 885.5,976.0 C884.1,973.5 884.9,972.7 883.2,971.7 C881.5,970.7 877.3,971.7 875.1,969.9 C872.9,968.1 872.2,963.5 870.1,961.0 C868.1,958.5 866.8,957.6 862.8,954.8 C858.9,952.0 850.8,947.3 846.5,944.0 C842.1,940.7 839.0,938.2 836.7,935.1 C834.4,932.0 832.3,928.0 832.6,925.3Z" fill="#fff" stroke="#fff" stroke-width="1.5" stroke-linejoin="round"/>
<circle cx="879.9" cy="982.4" r="8.1" fill="#fff"/>
<circle cx="876.4" cy="986.0" r="5.7" fill="#fff"/>
<circle cx="883.7" cy="1008.3" r="5.7" fill="#fff"/>
<circle cx="870.9" cy="962.0" r="4.8" fill="#fff"/>
<circle cx="887.3" cy="994.0" r="4.8" fill="#fff"/>
<path d="M817.6,1242.8 C820.8,1238.3 828.5,1239.5 833.9,1239.2 C839.4,1238.9 844.0,1241.0 850.2,1241.0 C856.5,1241.0 864.6,1240.7 871.4,1239.2 C878.2,1237.7 885.8,1231.7 891.0,1232.0 C896.2,1232.3 898.4,1236.8 902.5,1241.0 C906.6,1245.2 910.7,1252.2 915.6,1257.0 C920.5,1261.8 926.4,1265.1 931.9,1269.6 C937.3,1274.1 944.1,1280.0 948.2,1283.9 C952.3,1287.8 953.6,1290.8 956.4,1292.8 C959.1,1294.8 962.1,1291.2 965.0,1295.6 C967.8,1299.9 971.1,1313.7 973.5,1318.9 C975.8,1324.1 978.7,1322.7 979.1,1326.6 C979.6,1330.5 976.3,1337.2 976.3,1342.1 C976.3,1347.0 976.3,1349.1 979.1,1356.1 C982.0,1363.1 996.8,1381.8 993.3,1384.0 C989.8,1386.2 966.9,1375.0 958.0,1369.6 C949.1,1364.2 945.7,1356.2 940.0,1351.7 C934.3,1347.2 930.5,1345.2 923.7,1342.8 C916.9,1340.4 906.6,1338.3 899.2,1337.4 C891.9,1336.5 886.4,1338.6 879.6,1337.4 C872.8,1336.2 864.7,1332.4 858.4,1330.3 C852.2,1328.2 848.9,1327.0 842.1,1324.9 C835.3,1322.8 823.8,1320.2 817.6,1317.8 C811.3,1315.4 806.9,1313.6 804.5,1310.6 C802.0,1307.6 802.3,1303.8 802.8,1299.9 C803.4,1296.0 805.9,1293.1 807.8,1287.4 C809.7,1281.8 812.6,1273.4 814.3,1266.0 C815.9,1258.6 814.3,1247.3 817.6,1242.8Z" fill="#fff" stroke="#fff" stroke-width="1.5" stroke-linejoin="round"/>
<path d="M945.0,1264.6 C947.4,1267.9 955.3,1282.9 956.5,1287.8 C957.6,1292.7 955.7,1295.8 952.2,1294.0 C948.6,1292.2 936.8,1281.3 935.1,1277.0 C933.5,1272.7 940.5,1270.1 942.2,1268.0 C943.8,1265.9 942.6,1261.3 945.0,1264.6Z" fill="#fff" stroke="#fff" stroke-width="1.5" stroke-linejoin="round"/>
<path d="M956.5,1280.1 C957.4,1277.0 965.8,1276.8 970.5,1277.0 C975.3,1277.2 982.4,1279.8 984.8,1281.6 C987.2,1283.4 986.2,1285.5 984.8,1287.8 C983.4,1290.1 979.6,1294.3 976.3,1295.6 C973.0,1296.9 968.3,1298.2 965.0,1295.6 C961.6,1293.0 955.5,1283.2 956.5,1280.1Z" fill="#fff" stroke="#fff" stroke-width="1.5" stroke-linejoin="round"/>
<path d="M837.1,1380.3 C838.8,1376.7 843.2,1368.7 847.0,1366.0 C850.8,1363.3 856.7,1362.7 860.0,1364.2 C863.2,1365.7 864.1,1371.6 866.6,1374.9 C869.0,1378.2 874.7,1381.2 874.7,1383.9 C874.7,1386.6 871.2,1389.5 866.6,1391.0 C862.0,1392.5 851.9,1393.4 847.0,1392.8 C842.1,1392.2 838.8,1389.5 837.1,1387.4 C835.5,1385.3 835.5,1383.9 837.1,1380.3Z" fill="#fff" stroke="#fff" stroke-width="1.5" stroke-linejoin="round"/>
<circle cx="869.9" cy="1383.9" r="6.6" fill="#fff"/>
<path d="M970.5,1349.9 C977.6,1354.3 990.0,1377.0 993.3,1384.0 C996.6,1391.0 994.3,1392.3 990.5,1391.8 C986.7,1391.3 976.7,1381.4 970.5,1380.9 C964.4,1380.4 958.6,1387.7 953.6,1388.7 C948.7,1389.7 942.9,1388.6 940.8,1387.1 C938.7,1385.5 937.5,1382.0 940.8,1379.4 C944.1,1376.8 959.0,1375.2 960.7,1371.6 C962.3,1368.0 949.1,1361.2 950.8,1357.6 C952.4,1354.0 963.4,1345.5 970.5,1349.9Z" fill="#fff" stroke="#fff" stroke-width="1.5" stroke-linejoin="round"/>
<ellipse cx="1087.6" cy="1034.0" rx="7.9" ry="6.6" fill="#fff"/>
</g></mask></defs>
<rect x="0" y="800" width="1344" height="812" fill="#b590a8" mask="url(#bm)"/>
<g fill="#a8a8a8" fill-opacity=".72" stroke="#a8a8a8" stroke-opacity=".5" stroke-width="1.2"><circle cx="410" cy="1322" r="6"/><circle cx="915" cy="1204" r="6"/><circle cx="794" cy="1002" r="6"/><circle cx="952" cy="1290" r="6"/><circle cx="220" cy="1211" r="6"/><circle cx="378" cy="1283" r="6"/><circle cx="890" cy="956" r="6"/><circle cx="293" cy="1199" r="6"/><circle cx="813" cy="1159" r="6"/><circle cx="960" cy="1310" r="6"/><circle cx="411" cy="1329" r="6"/><circle cx="380" cy="1234" r="6"/><circle cx="441" cy="1397" r="6"/><circle cx="894" cy="1090" r="6"/><circle cx="313" cy="1219" r="6"/><circle cx="951" cy="1232" r="6"/><circle cx="192" cy="1160" r="6"/><circle cx="857" cy="1316" r="6"/><circle cx="455" cy="916" r="6"/><circle cx="861" cy="1006" r="6"/><circle cx="797" cy="1155" r="6"/><circle cx="714" cy="892" r="6"/><circle cx="439" cy="924" r="6"/><circle cx="931" cy="1232" r="6"/><circle cx="953" cy="1350" r="6"/><circle cx="733" cy="892" r="6"/><circle cx="742" cy="994" r="6"/><circle cx="900" cy="1302" r="6"/><circle cx="439" cy="1459" r="6"/><circle cx="420" cy="893" r="6"/><circle cx="249" cy="1232" r="6"/><circle cx="507" cy="1145" r="6"/><circle cx="368" cy="1258" r="6"/><circle cx="828" cy="1229" r="6"/><circle cx="252" cy="1145" r="6"/><circle cx="845" cy="1246" r="6"/><circle cx="979" cy="1372" r="6"/><circle cx="403" cy="1327" r="6"/><circle cx="187" cy="1206" r="6"/><circle cx="916" cy="1239" r="6"/><circle cx="296" cy="1195" r="6"/><circle cx="300" cy="1202" r="6"/><circle cx="754" cy="1072" r="6"/><circle cx="435" cy="1351" r="6"/></g>
<g fill="#fb9c45" fill-opacity=".72" stroke="#fb9c45" stroke-opacity=".5" stroke-width="1.2"><circle cx="209" cy="1166" r="6"/><circle cx="282" cy="1164" r="6"/><circle cx="913" cy="1219" r="6"/><circle cx="899" cy="1092" r="6"/><circle cx="758" cy="990" r="6"/><circle cx="966" cy="1316" r="6"/><circle cx="864" cy="1179" r="6"/><circle cx="773" cy="996" r="6"/><circle cx="329" cy="898" r="6"/><circle cx="280" cy="1138" r="6"/><circle cx="457" cy="1477" r="6"/><circle cx="399" cy="873" r="6"/><circle cx="276" cy="972" r="6"/><circle cx="483" cy="1493" r="6"/><circle cx="370" cy="890" r="6"/><circle cx="399" cy="1251" r="6"/><circle cx="281" cy="1130" r="6"/><circle cx="334" cy="892" r="6"/><circle cx="819" cy="1293" r="6"/><circle cx="243" cy="1143" r="6"/><circle cx="753" cy="884" r="6"/><circle cx="562" cy="1041" r="6"/><circle cx="414" cy="1284" r="6"/><circle cx="356" cy="1239" r="6"/><circle cx="734" cy="1100" r="6"/><circle cx="459" cy="1483" r="6"/><circle cx="271" cy="1180" r="6"/><circle cx="459" cy="1323" r="6"/><circle cx="285" cy="1195" r="6"/><circle cx="839" cy="1278" r="6"/><circle cx="196" cy="1178" r="6"/><circle cx="772" cy="1005" r="6"/><circle cx="892" cy="1178" r="6"/><circle cx="897" cy="1093" r="6"/><circle cx="179" cy="1163" r="6"/><circle cx="402" cy="894" r="6"/><circle cx="345" cy="875" r="6"/><circle cx="439" cy="1457" r="6"/><circle cx="807" cy="1108" r="6"/><circle cx="475" cy="1473" r="6"/></g>
<g fill="#68bf5a" fill-opacity=".72" stroke="#68bf5a" stroke-opacity=".5" stroke-width="1.2"><circle cx="245" cy="1228" r="6"/><circle cx="898" cy="999" r="6"/><circle cx="466" cy="1323" r="6"/><circle cx="952" cy="1356" r="6"/><circle cx="391" cy="1289" r="6"/><circle cx="338" cy="1265" r="6"/><circle cx="665" cy="886" r="6"/><circle cx="486" cy="1445" r="6"/><circle cx="943" cy="1335" r="6"/><circle cx="340" cy="1217" r="6"/><circle cx="153" cy="1180" r="6"/><circle cx="902" cy="1286" r="6"/><circle cx="189" cy="1149" r="6"/><circle cx="904" cy="968" r="6"/><circle cx="335" cy="1224" r="6"/><circle cx="235" cy="1188" r="6"/><circle cx="885" cy="1190" r="6"/><circle cx="843" cy="1314" r="6"/><circle cx="345" cy="1266" r="6"/><circle cx="202" cy="1224" r="6"/><circle cx="865" cy="1325" r="6"/><circle cx="898" cy="986" r="6"/><circle cx="852" cy="1194" r="6"/><circle cx="294" cy="1145" r="6"/><circle cx="890" cy="1234" r="6"/><circle cx="350" cy="1229" r="6"/><circle cx="822" cy="1192" r="6"/><circle cx="405" cy="1231" r="6"/><circle cx="425" cy="1442" r="6"/><circle cx="788" cy="991" r="6"/><circle cx="299" cy="1254" r="6"/><circle cx="375" cy="1219" r="6"/><circle cx="285" cy="1253" r="6"/><circle cx="280" cy="1181" r="6"/><circle cx="291" cy="1192" r="6"/><circle cx="826" cy="1259" r="6"/><circle cx="456" cy="1351" r="6"/><circle cx="261" cy="1244" r="6"/><circle cx="836" cy="1304" r="6"/><circle cx="296" cy="1235" r="6"/><circle cx="219" cy="1224" r="6"/><circle cx="949" cy="1382" r="6"/><circle cx="333" cy="867" r="6"/><circle cx="280" cy="1251" r="6"/><circle cx="251" cy="1193" r="6"/><circle cx="895" cy="1214" r="6"/><circle cx="412" cy="1338" r="6"/><circle cx="376" cy="1270" r="6"/><circle cx="407" cy="1345" r="6"/><circle cx="917" cy="1304" r="6"/><circle cx="422" cy="1444" r="6"/><circle cx="412" cy="1374" r="6"/><circle cx="867" cy="1031" r="6"/><circle cx="902" cy="1249" r="6"/><circle cx="329" cy="1203" r="6"/><circle cx="169" cy="1209" r="6"/><circle cx="857" cy="1214" r="6"/><circle cx="951" cy="1311" r="6"/><circle cx="973" cy="1290" r="6"/><circle cx="260" cy="1248" r="6"/><circle cx="901" cy="990" r="6"/></g>
<g fill="#e992cc" fill-opacity=".72" stroke="#e992cc" stroke-opacity=".5" stroke-width="1.2"><circle cx="978" cy="1285" r="6"/><circle cx="792" cy="989" r="6"/><circle cx="942" cy="1314" r="6"/><circle cx="865" cy="1190" r="6"/><circle cx="730" cy="1096" r="6"/><circle cx="887" cy="1275" r="6"/><circle cx="874" cy="1281" r="6"/><circle cx="363" cy="885" r="6"/><circle cx="401" cy="1336" r="6"/><circle cx="485" cy="1497" r="6"/><circle cx="259" cy="1175" r="6"/><circle cx="858" cy="1301" r="6"/><circle cx="229" cy="1191" r="6"/><circle cx="454" cy="1479" r="6"/><circle cx="205" cy="1174" r="6"/><circle cx="321" cy="1122" r="6"/><circle cx="421" cy="868" r="6"/><circle cx="443" cy="1330" r="6"/><circle cx="439" cy="1352" r="6"/><circle cx="364" cy="1252" r="6"/><circle cx="353" cy="872" r="6"/><circle cx="314" cy="1239" r="6"/><circle cx="863" cy="1267" r="6"/><circle cx="919" cy="1268" r="6"/><circle cx="885" cy="1266" r="6"/><circle cx="970" cy="1349" r="6"/><circle cx="243" cy="1133" r="6"/><circle cx="461" cy="1490" r="6"/><circle cx="440" cy="1298" r="6"/><circle cx="744" cy="1085" r="6"/><circle cx="212" cy="1198" r="6"/><circle cx="307" cy="1192" r="6"/><circle cx="764" cy="1039" r="6"/><circle cx="378" cy="897" r="6"/><circle cx="953" cy="1330" r="6"/></g>
<g fill="#a0706a" fill-opacity=".72" stroke="#a0706a" stroke-opacity=".5" stroke-width="1.2"><circle cx="859" cy="1209" r="6"/><circle cx="867" cy="1208" r="6"/><circle cx="325" cy="864" r="6"/><circle cx="915" cy="1292" r="6"/><circle cx="843" cy="1235" r="6"/><circle cx="929" cy="1335" r="6"/><circle cx="222" cy="1193" r="6"/><circle cx="901" cy="1208" r="6"/><circle cx="909" cy="1253" r="6"/><circle cx="461" cy="1449" r="6"/><circle cx="912" cy="1250" r="6"/><circle cx="460" cy="1494" r="6"/><circle cx="447" cy="1395" r="6"/><circle cx="451" cy="1359" r="6"/><circle cx="177" cy="1190" r="6"/><circle cx="284" cy="1130" r="6"/><circle cx="416" cy="901" r="6"/><circle cx="758" cy="908" r="6"/><circle cx="365" cy="1225" r="6"/><circle cx="241" cy="1166" r="6"/><circle cx="825" cy="1157" r="6"/><circle cx="255" cy="1175" r="6"/><circle cx="233" cy="1166" r="6"/><circle cx="165" cy="1183" r="6"/><circle cx="793" cy="1098" r="6"/><circle cx="417" cy="1293" r="6"/><circle cx="901" cy="1272" r="6"/><circle cx="498" cy="1220" r="6"/><circle cx="870" cy="1183" r="6"/><circle cx="864" cy="1254" r="6"/><circle cx="941" cy="1343" r="6"/><circle cx="846" cy="1377" r="6"/><circle cx="859" cy="1008" r="6"/><circle cx="359" cy="1232" r="6"/><circle cx="920" cy="1189" r="6"/><circle cx="857" cy="1373" r="6"/><circle cx="941" cy="1214" r="6"/><circle cx="464" cy="1385" r="6"/><circle cx="429" cy="1350" r="6"/><circle cx="874" cy="1257" r="6"/><circle cx="413" cy="1325" r="6"/><circle cx="857" cy="1195" r="6"/><circle cx="448" cy="1321" r="6"/><circle cx="907" cy="1265" r="6"/><circle cx="479" cy="1348" r="6"/><circle cx="773" cy="993" r="6"/><circle cx="761" cy="1112" r="6"/><circle cx="861" cy="1235" r="6"/><circle cx="714" cy="880" r="6"/><circle cx="957" cy="1228" r="6"/></g>
<g fill="#6e9fd0" fill-opacity=".72" stroke="#6e9fd0" stroke-opacity=".5" stroke-width="1.2"><circle cx="151" cy="1157" r="6"/><circle cx="783" cy="1097" r="6"/><circle cx="434" cy="890" r="6"/><circle cx="658" cy="853" r="6"/><circle cx="903" cy="1302" r="6"/><circle cx="479" cy="1337" r="6"/><circle cx="330" cy="887" r="6"/><circle cx="915" cy="1251" r="6"/><circle cx="933" cy="1284" r="6"/><circle cx="921" cy="1283" r="6"/><circle cx="317" cy="1227" r="6"/><circle cx="787" cy="984" r="6"/><circle cx="460" cy="913" r="6"/><circle cx="283" cy="1164" r="6"/><circle cx="839" cy="1271" r="6"/><circle cx="858" cy="1034" r="6"/><circle cx="786" cy="1106" r="6"/><circle cx="226" cy="1209" r="6"/><circle cx="862" cy="1004" r="6"/><circle cx="850" cy="1169" r="6"/><circle cx="482" cy="1307" r="6"/><circle cx="824" cy="1204" r="6"/><circle cx="284" cy="969" r="6"/><circle cx="908" cy="1331" r="6"/><circle cx="838" cy="1232" r="6"/><circle cx="469" cy="1384" r="6"/><circle cx="890" cy="1185" r="6"/><circle cx="229" cy="1221" r="6"/><circle cx="872" cy="1329" r="6"/><circle cx="889" cy="1301" r="6"/><circle cx="469" cy="1328" r="6"/><circle cx="867" cy="1233" r="6"/><circle cx="892" cy="957" r="6"/><circle cx="345" cy="864" r="6"/><circle cx="846" cy="1220" r="6"/><circle cx="893" cy="1098" r="6"/><circle cx="245" cy="1194" r="6"/><circle cx="944" cy="1322" r="6"/><circle cx="293" cy="1226" r="6"/><circle cx="702" cy="873" r="6"/><circle cx="937" cy="1221" r="6"/><circle cx="302" cy="1139" r="6"/><circle cx="205" cy="1156" r="6"/><circle cx="470" cy="1347" r="6"/><circle cx="848" cy="1212" r="6"/><circle cx="751" cy="890" r="6"/><circle cx="174" cy="1162" r="6"/><circle cx="927" cy="1301" r="6"/><circle cx="336" cy="905" r="6"/><circle cx="935" cy="1308" r="6"/></g>
<g fill="#ea5f56" fill-opacity=".72" stroke="#ea5f56" stroke-opacity=".5" stroke-width="1.2"><circle cx="771" cy="989" r="6"/><circle cx="874" cy="1235" r="6"/><circle cx="160" cy="1161" r="6"/><circle cx="491" cy="1322" r="6"/><circle cx="783" cy="1114" r="6"/><circle cx="397" cy="1273" r="6"/><circle cx="305" cy="1228" r="6"/><circle cx="318" cy="1119" r="6"/><circle cx="850" cy="1220" r="6"/><circle cx="852" cy="1252" r="6"/><circle cx="250" cy="1149" r="6"/><circle cx="257" cy="1237" r="6"/><circle cx="692" cy="930" r="6"/><circle cx="749" cy="898" r="6"/><circle cx="817" cy="1276" r="6"/><circle cx="443" cy="1349" r="6"/><circle cx="947" cy="1282" r="6"/><circle cx="363" cy="1117" r="6"/><circle cx="761" cy="989" r="6"/><circle cx="274" cy="1162" r="6"/><circle cx="792" cy="1111" r="6"/><circle cx="371" cy="881" r="6"/><circle cx="276" cy="1156" r="6"/><circle cx="821" cy="1216" r="6"/><circle cx="957" cy="1344" r="6"/><circle cx="820" cy="1272" r="6"/><circle cx="869" cy="1305" r="6"/><circle cx="352" cy="1212" r="6"/><circle cx="418" cy="1374" r="6"/><circle cx="901" cy="1235" r="6"/><circle cx="457" cy="1363" r="6"/><circle cx="268" cy="1121" r="6"/><circle cx="911" cy="1002" r="6"/><circle cx="175" cy="1152" r="6"/><circle cx="753" cy="1066" r="6"/><circle cx="824" cy="1266" r="6"/><circle cx="765" cy="1108" r="6"/><circle cx="921" cy="993" r="6"/><circle cx="909" cy="994" r="6"/><circle cx="279" cy="1185" r="6"/><circle cx="876" cy="1288" r="6"/><circle cx="851" cy="938" r="6"/><circle cx="347" cy="1128" r="6"/><circle cx="214" cy="1189" r="6"/><circle cx="464" cy="1347" r="6"/><circle cx="418" cy="1301" r="6"/><circle cx="364" cy="1273" r="6"/><circle cx="747" cy="890" r="6"/><circle cx="779" cy="1003" r="6"/><circle cx="269" cy="1186" r="6"/><circle cx="727" cy="1089" r="6"/><circle cx="912" cy="1206" r="6"/><circle cx="451" cy="1468" r="6"/><circle cx="309" cy="1240" r="6"/><circle cx="648" cy="867" r="6"/><circle cx="365" cy="904" r="6"/><circle cx="211" cy="1172" r="6"/><circle cx="226" cy="1146" r="6"/><circle cx="883" cy="1269" r="6"/><circle cx="916" cy="1250" r="6"/><circle cx="207" cy="1144" r="6"/><circle cx="833" cy="1050" r="6"/></g>
<g fill="#a98bd0" fill-opacity=".72" stroke="#a98bd0" stroke-opacity=".5" stroke-width="1.2"><circle cx="240" cy="1206" r="6"/><circle cx="810" cy="1296" r="6"/><circle cx="436" cy="1367" r="6"/><circle cx="207" cy="1217" r="6"/><circle cx="194" cy="1168" r="6"/><circle cx="944" cy="1312" r="6"/><circle cx="440" cy="1309" r="6"/><circle cx="738" cy="899" r="6"/><circle cx="853" cy="1190" r="6"/><circle cx="754" cy="1024" r="6"/><circle cx="374" cy="1114" r="6"/><circle cx="844" cy="1175" r="6"/><circle cx="321" cy="1137" r="6"/><circle cx="936" cy="1291" r="6"/><circle cx="654" cy="881" r="6"/><circle cx="399" cy="897" r="6"/><circle cx="863" cy="1225" r="6"/><circle cx="283" cy="1158" r="6"/><circle cx="201" cy="1181" r="6"/><circle cx="272" cy="1159" r="6"/><circle cx="870" cy="1011" r="6"/><circle cx="877" cy="1186" r="6"/><circle cx="716" cy="885" r="6"/><circle cx="363" cy="877" r="6"/><circle cx="326" cy="882" r="6"/><circle cx="424" cy="1299" r="6"/><circle cx="889" cy="1199" r="6"/><circle cx="828" cy="1289" r="6"/><circle cx="441" cy="897" r="6"/><circle cx="433" cy="897" r="6"/><circle cx="845" cy="1216" r="6"/><circle cx="829" cy="1256" r="6"/><circle cx="647" cy="876" r="6"/><circle cx="820" cy="1188" r="6"/><circle cx="414" cy="1223" r="6"/><circle cx="745" cy="1101" r="6"/><circle cx="365" cy="1120" r="6"/><circle cx="272" cy="1149" r="6"/><circle cx="748" cy="914" r="6"/><circle cx="287" cy="1204" r="6"/><circle cx="234" cy="1226" r="6"/><circle cx="342" cy="1215" r="6"/><circle cx="903" cy="1308" r="6"/><circle cx="847" cy="1191" r="6"/><circle cx="898" cy="1103" r="6"/><circle cx="868" cy="1217" r="6"/><circle cx="400" cy="898" r="6"/><circle cx="252" cy="1212" r="6"/><circle cx="950" cy="1300" r="6"/><circle cx="266" cy="1151" r="6"/><circle cx="158" cy="1159" r="6"/><circle cx="854" cy="1249" r="6"/><circle cx="895" cy="982" r="6"/></g>
<g fill="#ea5f56" fill-opacity=".72" stroke="#ea5f56" stroke-opacity=".5" stroke-width="1.2"><circle cx="919" cy="1274" r="6"/><circle cx="331" cy="904" r="6"/><circle cx="436" cy="1304" r="6"/><circle cx="872" cy="1274" r="6"/><circle cx="333" cy="905" r="6"/><circle cx="237" cy="1186" r="6"/><circle cx="472" cy="1448" r="6"/><circle cx="170" cy="1149" r="6"/><circle cx="473" cy="901" r="6"/><circle cx="825" cy="1196" r="6"/><circle cx="529" cy="1031" r="6"/><circle cx="901" cy="987" r="6"/><circle cx="338" cy="1216" r="6"/><circle cx="186" cy="1202" r="6"/><circle cx="912" cy="988" r="6"/><circle cx="706" cy="881" r="6"/><circle cx="812" cy="1298" r="6"/><circle cx="664" cy="869" r="6"/><circle cx="815" cy="1106" r="6"/><circle cx="240" cy="1195" r="6"/><circle cx="403" cy="880" r="6"/><circle cx="862" cy="1203" r="6"/><circle cx="787" cy="994" r="6"/><circle cx="853" cy="1296" r="6"/><circle cx="838" cy="1224" r="6"/><circle cx="800" cy="1107" r="6"/><circle cx="327" cy="916" r="6"/><circle cx="897" cy="1294" r="6"/><circle cx="364" cy="1221" r="6"/><circle cx="807" cy="1106" r="6"/><circle cx="242" cy="1139" r="6"/><circle cx="754" cy="997" r="6"/><circle cx="414" cy="1302" r="6"/><circle cx="160" cy="1183" r="6"/><circle cx="807" cy="1136" r="6"/><circle cx="355" cy="1274" r="6"/><circle cx="312" cy="1132" r="6"/><circle cx="728" cy="880" r="6"/><circle cx="259" cy="1205" r="6"/><circle cx="262" cy="1140" r="6"/><circle cx="385" cy="1223" r="6"/><circle cx="935" cy="1316" r="6"/><circle cx="654" cy="852" r="6"/><circle cx="804" cy="1148" r="6"/><circle cx="468" cy="1313" r="6"/><circle cx="764" cy="1081" r="6"/><circle cx="730" cy="884" r="6"/><circle cx="772" cy="1077" r="6"/><circle cx="466" cy="1300" r="6"/><circle cx="865" cy="1271" r="6"/><circle cx="946" cy="1248" r="6"/><circle cx="214" cy="1164" r="6"/><circle cx="838" cy="1203" r="6"/><circle cx="872" cy="1199" r="6"/></g>
<g fill="#e992cc" fill-opacity=".72" stroke="#e992cc" stroke-opacity=".5" stroke-width="1.2"><circle cx="854" cy="1275" r="6"/><circle cx="179" cy="1168" r="6"/><circle cx="735" cy="918" r="6"/><circle cx="887" cy="1269" r="6"/><circle cx="938" cy="1196" r="6"/><circle cx="924" cy="1279" r="6"/><circle cx="402" cy="1368" r="6"/><circle cx="896" cy="1276" r="6"/><circle cx="853" cy="1185" r="6"/><circle cx="957" cy="1308" r="6"/><circle cx="455" cy="1338" r="6"/><circle cx="440" cy="884" r="6"/><circle cx="247" cy="1145" r="6"/><circle cx="353" cy="882" r="6"/><circle cx="840" cy="1296" r="6"/><circle cx="892" cy="1220" r="6"/><circle cx="198" cy="1213" r="6"/><circle cx="240" cy="1154" r="6"/><circle cx="874" cy="1298" r="6"/><circle cx="374" cy="1222" r="6"/><circle cx="945" cy="1295" r="6"/><circle cx="449" cy="889" r="6"/><circle cx="448" cy="887" r="6"/><circle cx="450" cy="1393" r="6"/><circle cx="930" cy="1185" r="6"/><circle cx="290" cy="1193" r="6"/><circle cx="891" cy="1305" r="6"/><circle cx="391" cy="1241" r="6"/><circle cx="207" cy="1201" r="6"/><circle cx="890" cy="1226" r="6"/><circle cx="763" cy="1096" r="6"/><circle cx="153" cy="1164" r="6"/><circle cx="469" cy="1448" r="6"/><circle cx="706" cy="886" r="6"/><circle cx="269" cy="1227" r="6"/><circle cx="920" cy="1220" r="6"/><circle cx="436" cy="1395" r="6"/><circle cx="483" cy="1322" r="6"/><circle cx="355" cy="1246" r="6"/><circle cx="235" cy="1192" r="6"/><circle cx="833" cy="1202" r="6"/><circle cx="242" cy="1179" r="6"/><circle cx="883" cy="1312" r="6"/></g>
<g fill="#6e9fd0" fill-opacity=".72" stroke="#6e9fd0" stroke-opacity=".5" stroke-width="1.2"><circle cx="898" cy="1251" r="6"/><circle cx="906" cy="1285" r="6"/><circle cx="293" cy="1187" r="6"/><circle cx="473" cy="1455" r="6"/><circle cx="460" cy="910" r="6"/><circle cx="860" cy="1201" r="6"/><circle cx="472" cy="899" r="6"/><circle cx="406" cy="1306" r="6"/><circle cx="221" cy="1152" r="6"/><circle cx="897" cy="964" r="6"/><circle cx="468" cy="1468" r="6"/><circle cx="842" cy="1296" r="6"/><circle cx="296" cy="1233" r="6"/><circle cx="538" cy="1033" r="6"/><circle cx="837" cy="1272" r="6"/><circle cx="962" cy="1346" r="6"/><circle cx="173" cy="1159" r="6"/><circle cx="218" cy="1148" r="6"/><circle cx="276" cy="1234" r="6"/><circle cx="943" cy="1253" r="6"/><circle cx="899" cy="1104" r="6"/><circle cx="433" cy="1453" r="6"/><circle cx="279" cy="980" r="6"/><circle cx="775" cy="1003" r="6"/><circle cx="472" cy="1466" r="6"/><circle cx="836" cy="1291" r="6"/><circle cx="460" cy="1350" r="6"/><circle cx="792" cy="1001" r="6"/><circle cx="823" cy="1232" r="6"/><circle cx="412" cy="901" r="6"/><circle cx="406" cy="865" r="6"/><circle cx="728" cy="1086" r="6"/><circle cx="461" cy="1443" r="6"/><circle cx="379" cy="873" r="6"/><circle cx="292" cy="1147" r="6"/><circle cx="633" cy="869" r="6"/><circle cx="435" cy="878" r="6"/><circle cx="877" cy="1285" r="6"/><circle cx="465" cy="1399" r="6"/><circle cx="742" cy="1087" r="6"/><circle cx="898" cy="1255" r="6"/><circle cx="165" cy="1158" r="6"/><circle cx="950" cy="1328" r="6"/><circle cx="915" cy="1180" r="6"/><circle cx="229" cy="1194" r="6"/></g>
<g fill="#a98bd0" fill-opacity=".72" stroke="#a98bd0" stroke-opacity=".5" stroke-width="1.2"><circle cx="898" cy="992" r="6"/><circle cx="796" cy="1077" r="6"/><circle cx="152" cy="1150" r="6"/><circle cx="469" cy="1310" r="6"/><circle cx="159" cy="1196" r="6"/><circle cx="826" cy="1156" r="6"/><circle cx="955" cy="1219" r="6"/><circle cx="256" cy="1145" r="6"/><circle cx="460" cy="1379" r="6"/><circle cx="860" cy="1190" r="6"/><circle cx="840" cy="1261" r="6"/><circle cx="667" cy="870" r="6"/><circle cx="865" cy="1239" r="6"/><circle cx="854" cy="1373" r="6"/><circle cx="890" cy="1005" r="6"/><circle cx="352" cy="1226" r="6"/><circle cx="221" cy="1146" r="6"/><circle cx="868" cy="1025" r="6"/><circle cx="273" cy="1122" r="6"/><circle cx="925" cy="1212" r="6"/><circle cx="376" cy="1114" r="6"/><circle cx="956" cy="1225" r="6"/><circle cx="923" cy="1203" r="6"/><circle cx="849" cy="1254" r="6"/><circle cx="877" cy="1013" r="6"/><circle cx="427" cy="882" r="6"/><circle cx="272" cy="1231" r="6"/><circle cx="678" cy="929" r="6"/><circle cx="929" cy="1242" r="6"/><circle cx="388" cy="886" r="6"/><circle cx="430" cy="1292" r="6"/><circle cx="844" cy="1113" r="6"/><circle cx="441" cy="1387" r="6"/><circle cx="458" cy="1314" r="6"/><circle cx="368" cy="1116" r="6"/><circle cx="840" cy="1277" r="6"/><circle cx="236" cy="1196" r="6"/><circle cx="180" cy="1149" r="6"/><circle cx="359" cy="1253" r="6"/><circle cx="916" cy="1227" r="6"/><circle cx="438" cy="888" r="6"/><circle cx="824" cy="1270" r="6"/><circle cx="447" cy="1386" r="6"/><circle cx="868" cy="1257" r="6"/><circle cx="452" cy="1375" r="6"/><circle cx="357" cy="1215" r="6"/><circle cx="738" cy="895" r="6"/><circle cx="877" cy="1023" r="6"/><circle cx="433" cy="1349" r="6"/><circle cx="462" cy="1337" r="6"/><circle cx="963" cy="1325" r="6"/><circle cx="410" cy="1300" r="6"/><circle cx="287" cy="1152" r="6"/><circle cx="926" cy="1261" r="6"/><circle cx="419" cy="1304" r="6"/><circle cx="325" cy="866" r="6"/><circle cx="389" cy="1263" r="6"/><circle cx="261" cy="1194" r="6"/><circle cx="390" cy="1258" r="6"/><circle cx="890" cy="1019" r="6"/><circle cx="920" cy="993" r="6"/></g>
<g fill="#a0706a" fill-opacity=".72" stroke="#a0706a" stroke-opacity=".5" stroke-width="1.2"><circle cx="469" cy="1393" r="6"/><circle cx="383" cy="895" r="6"/><circle cx="755" cy="1080" r="6"/><circle cx="834" cy="1205" r="6"/><circle cx="773" cy="1082" r="6"/><circle cx="927" cy="1211" r="6"/><circle cx="929" cy="1237" r="6"/><circle cx="351" cy="900" r="6"/><circle cx="927" cy="1310" r="6"/><circle cx="864" cy="1383" r="6"/><circle cx="747" cy="1083" r="6"/><circle cx="968" cy="1367" r="6"/><circle cx="898" cy="960" r="6"/><circle cx="415" cy="1279" r="6"/><circle cx="296" cy="1127" r="6"/><circle cx="453" cy="886" r="6"/><circle cx="798" cy="1129" r="6"/><circle cx="181" cy="1196" r="6"/><circle cx="407" cy="1350" r="6"/><circle cx="713" cy="883" r="6"/><circle cx="499" cy="1452" r="6"/><circle cx="881" cy="1030" r="6"/><circle cx="399" cy="900" r="6"/><circle cx="781" cy="994" r="6"/><circle cx="382" cy="889" r="6"/><circle cx="776" cy="1078" r="6"/><circle cx="694" cy="931" r="6"/><circle cx="380" cy="1264" r="6"/><circle cx="860" cy="1312" r="6"/><circle cx="327" cy="1221" r="6"/><circle cx="649" cy="864" r="6"/><circle cx="386" cy="869" r="6"/><circle cx="370" cy="902" r="6"/><circle cx="403" cy="1378" r="6"/><circle cx="900" cy="1198" r="6"/><circle cx="836" cy="1254" r="6"/><circle cx="795" cy="1152" r="6"/><circle cx="477" cy="1452" r="6"/><circle cx="841" cy="1207" r="6"/></g>
<g fill="#a8a8a8" fill-opacity=".72" stroke="#a8a8a8" stroke-opacity=".5" stroke-width="1.2"><circle cx="429" cy="1441" r="6"/><circle cx="286" cy="1222" r="6"/><circle cx="950" cy="1218" r="6"/><circle cx="896" cy="974" r="6"/><circle cx="228" cy="1174" r="6"/><circle cx="454" cy="1218" r="6"/><circle cx="412" cy="1299" r="6"/><circle cx="783" cy="986" r="6"/><circle cx="917" cy="1278" r="6"/><circle cx="326" cy="1210" r="6"/><circle cx="441" cy="1317" r="6"/><circle cx="866" cy="1284" r="6"/><circle cx="196" cy="1147" r="6"/><circle cx="745" cy="917" r="6"/><circle cx="298" cy="1135" r="6"/><circle cx="852" cy="1237" r="6"/><circle cx="722" cy="879" r="6"/><circle cx="461" cy="1461" r="6"/><circle cx="483" cy="1343" r="6"/><circle cx="944" cy="1211" r="6"/><circle cx="358" cy="1255" r="6"/><circle cx="212" cy="1169" r="6"/><circle cx="937" cy="1332" r="6"/><circle cx="392" cy="1248" r="6"/><circle cx="247" cy="1209" r="6"/><circle cx="421" cy="1285" r="6"/><circle cx="878" cy="1027" r="6"/><circle cx="391" cy="894" r="6"/><circle cx="829" cy="1196" r="6"/><circle cx="825" cy="1288" r="6"/><circle cx="446" cy="905" r="6"/><circle cx="871" cy="1191" r="6"/><circle cx="365" cy="1248" r="6"/><circle cx="908" cy="1220" r="6"/><circle cx="839" cy="1245" r="6"/><circle cx="873" cy="959" r="6"/><circle cx="847" cy="1316" r="6"/><circle cx="907" cy="1224" r="6"/><circle cx="743" cy="883" r="6"/><circle cx="294" cy="1120" r="6"/><circle cx="947" cy="1218" r="6"/><circle cx="881" cy="1233" r="6"/><circle cx="878" cy="1210" r="6"/><circle cx="222" cy="1219" r="6"/><circle cx="866" cy="1287" r="6"/></g>
<g fill="#fb9c45" fill-opacity=".72" stroke="#fb9c45" stroke-opacity=".5" stroke-width="1.2"><circle cx="340" cy="1231" r="6"/><circle cx="965" cy="1362" r="6"/><circle cx="392" cy="898" r="6"/><circle cx="413" cy="884" r="6"/><circle cx="444" cy="1472" r="6"/><circle cx="389" cy="1317" r="6"/><circle cx="404" cy="871" r="6"/><circle cx="439" cy="1476" r="6"/><circle cx="380" cy="1216" r="6"/><circle cx="314" cy="1243" r="6"/><circle cx="377" cy="873" r="6"/><circle cx="389" cy="1229" r="6"/><circle cx="362" cy="881" r="6"/><circle cx="339" cy="912" r="6"/><circle cx="920" cy="1195" r="6"/><circle cx="466" cy="898" r="6"/><circle cx="461" cy="1465" r="6"/><circle cx="354" cy="1227" r="6"/><circle cx="925" cy="1292" r="6"/><circle cx="258" cy="1229" r="6"/><circle cx="467" cy="1486" r="6"/><circle cx="842" cy="1150" r="6"/><circle cx="457" cy="901" r="6"/><circle cx="426" cy="870" r="6"/><circle cx="281" cy="1224" r="6"/><circle cx="425" cy="1371" r="6"/><circle cx="821" cy="1205" r="6"/><circle cx="741" cy="906" r="6"/><circle cx="484" cy="1468" r="6"/><circle cx="482" cy="1497" r="6"/><circle cx="356" cy="1270" r="6"/><circle cx="360" cy="1116" r="6"/><circle cx="192" cy="1172" r="6"/><circle cx="255" cy="1170" r="6"/><circle cx="367" cy="887" r="6"/><circle cx="837" cy="1260" r="6"/><circle cx="395" cy="1219" r="6"/><circle cx="868" cy="1014" r="6"/><circle cx="446" cy="905" r="6"/><circle cx="415" cy="1375" r="6"/><circle cx="334" cy="1237" r="6"/><circle cx="280" cy="970" r="6"/><circle cx="249" cy="1187" r="6"/><circle cx="327" cy="890" r="6"/><circle cx="491" cy="1492" r="6"/><circle cx="837" cy="1196" r="6"/><circle cx="395" cy="899" r="6"/><circle cx="455" cy="915" r="6"/><circle cx="348" cy="1247" r="6"/></g>
<g fill="#68bf5a" fill-opacity=".72" stroke="#68bf5a" stroke-opacity=".5" stroke-width="1.2"><circle cx="416" cy="1353" r="6"/><circle cx="275" cy="1246" r="6"/><circle cx="945" cy="1228" r="6"/><circle cx="842" cy="1234" r="6"/><circle cx="825" cy="1213" r="6"/><circle cx="924" cy="1288" r="6"/><circle cx="906" cy="1248" r="6"/><circle cx="401" cy="1342" r="6"/><circle cx="849" cy="1289" r="6"/><circle cx="240" cy="1212" r="6"/><circle cx="378" cy="1244" r="6"/><circle cx="827" cy="1310" r="6"/><circle cx="489" cy="1344" r="6"/><circle cx="330" cy="916" r="6"/><circle cx="833" cy="1301" r="6"/><circle cx="231" cy="1211" r="6"/><circle cx="865" cy="1024" r="6"/><circle cx="402" cy="1355" r="6"/><circle cx="800" cy="1140" r="6"/><circle cx="404" cy="1246" r="6"/><circle cx="369" cy="1254" r="6"/><circle cx="747" cy="1082" r="6"/><circle cx="852" cy="1271" r="6"/><circle cx="292" cy="1248" r="6"/><circle cx="166" cy="1174" r="6"/><circle cx="369" cy="1118" r="6"/><circle cx="240" cy="1230" r="6"/><circle cx="395" cy="875" r="6"/><circle cx="784" cy="1117" r="6"/><circle cx="318" cy="1142" r="6"/><circle cx="311" cy="1139" r="6"/><circle cx="847" cy="1265" r="6"/><circle cx="913" cy="1330" r="6"/><circle cx="234" cy="1234" r="6"/><circle cx="826" cy="1153" r="6"/><circle cx="255" cy="1241" r="6"/><circle cx="255" cy="1129" r="6"/><circle cx="219" cy="1168" r="6"/><circle cx="309" cy="1243" r="6"/><circle cx="872" cy="1280" r="6"/><circle cx="790" cy="992" r="6"/><circle cx="858" cy="1320" r="6"/><circle cx="258" cy="1224" r="6"/><circle cx="196" cy="1154" r="6"/><circle cx="343" cy="1221" r="6"/><circle cx="289" cy="1145" r="6"/><circle cx="399" cy="1349" r="6"/><circle cx="708" cy="884" r="6"/><circle cx="831" cy="1275" r="6"/><circle cx="741" cy="1085" r="6"/><circle cx="550" cy="1049" r="6"/><circle cx="451" cy="1329" r="6"/><circle cx="430" cy="1339" r="6"/><circle cx="177" cy="1195" r="6"/><circle cx="380" cy="1251" r="6"/><circle cx="874" cy="1004" r="6"/><circle cx="770" cy="1091" r="6"/><circle cx="934" cy="1341" r="6"/><circle cx="296" cy="1242" r="6"/></g>
<g fill="#fb9c45" fill-opacity=".72" stroke="#fb9c45" stroke-opacity=".5" stroke-width="1.2"><circle cx="236" cy="1143" r="6"/><circle cx="878" cy="1195" r="6"/><circle cx="461" cy="877" r="6"/><circle cx="945" cy="1326" r="6"/><circle cx="299" cy="1246" r="6"/><circle cx="413" cy="1341" r="6"/><circle cx="331" cy="1228" r="6"/><circle cx="369" cy="1240" r="6"/><circle cx="472" cy="1488" r="6"/><circle cx="422" cy="1259" r="6"/><circle cx="308" cy="1200" r="6"/><circle cx="466" cy="1493" r="6"/><circle cx="484" cy="1491" r="6"/><circle cx="318" cy="1201" r="6"/><circle cx="852" cy="1186" r="6"/><circle cx="415" cy="1388" r="6"/><circle cx="448" cy="1354" r="6"/><circle cx="456" cy="1496" r="6"/><circle cx="337" cy="867" r="6"/><circle cx="810" cy="1172" r="6"/><circle cx="386" cy="1234" r="6"/><circle cx="980" cy="1371" r="6"/><circle cx="464" cy="1496" r="6"/><circle cx="452" cy="1313" r="6"/><circle cx="393" cy="1321" r="6"/><circle cx="185" cy="1160" r="6"/><circle cx="470" cy="1351" r="6"/><circle cx="453" cy="1492" r="6"/><circle cx="458" cy="1485" r="6"/><circle cx="825" cy="1203" r="6"/><circle cx="154" cy="1151" r="6"/><circle cx="181" cy="1158" r="6"/><circle cx="376" cy="888" r="6"/><circle cx="867" cy="1004" r="6"/><circle cx="703" cy="872" r="6"/><circle cx="451" cy="1474" r="6"/><circle cx="368" cy="878" r="6"/><circle cx="332" cy="1218" r="6"/><circle cx="421" cy="1259" r="6"/><circle cx="350" cy="864" r="6"/><circle cx="436" cy="1348" r="6"/></g>
<g fill="#a98bd0" fill-opacity=".72" stroke="#a98bd0" stroke-opacity=".5" stroke-width="1.2"><circle cx="323" cy="1208" r="6"/><circle cx="855" cy="1037" r="6"/><circle cx="823" cy="1055" r="6"/><circle cx="894" cy="967" r="6"/><circle cx="214" cy="1165" r="6"/><circle cx="897" cy="1221" r="6"/><circle cx="248" cy="1218" r="6"/><circle cx="431" cy="1367" r="6"/><circle cx="771" cy="1108" r="6"/><circle cx="450" cy="1308" r="6"/><circle cx="330" cy="868" r="6"/><circle cx="267" cy="1121" r="6"/><circle cx="899" cy="1229" r="6"/><circle cx="862" cy="1249" r="6"/><circle cx="381" cy="1278" r="6"/><circle cx="970" cy="1202" r="6"/><circle cx="388" cy="896" r="6"/><circle cx="470" cy="1306" r="6"/><circle cx="841" cy="931" r="6"/><circle cx="418" cy="1211" r="6"/><circle cx="390" cy="1269" r="6"/><circle cx="418" cy="1212" r="6"/><circle cx="401" cy="1366" r="6"/><circle cx="788" cy="1068" r="6"/><circle cx="661" cy="883" r="6"/><circle cx="760" cy="1005" r="6"/><circle cx="499" cy="1304" r="6"/><circle cx="201" cy="1192" r="6"/><circle cx="447" cy="893" r="6"/><circle cx="274" cy="1198" r="6"/><circle cx="450" cy="1300" r="6"/><circle cx="341" cy="1267" r="6"/><circle cx="798" cy="1064" r="6"/><circle cx="388" cy="1298" r="6"/><circle cx="499" cy="1317" r="6"/><circle cx="833" cy="1238" r="6"/><circle cx="249" cy="1168" r="6"/><circle cx="199" cy="1180" r="6"/><circle cx="867" cy="1383" r="6"/><circle cx="471" cy="892" r="6"/><circle cx="857" cy="1242" r="6"/><circle cx="786" cy="1121" r="6"/><circle cx="858" cy="1277" r="6"/></g>
<g fill="#68bf5a" fill-opacity=".72" stroke="#68bf5a" stroke-opacity=".5" stroke-width="1.2"><circle cx="770" cy="1113" r="6"/><circle cx="870" cy="1251" r="6"/><circle cx="338" cy="1239" r="6"/><circle cx="971" cy="1339" r="6"/><circle cx="209" cy="1227" r="6"/><circle cx="918" cy="1308" r="6"/><circle cx="184" cy="1215" r="6"/><circle cx="462" cy="1341" r="6"/><circle cx="468" cy="1329" r="6"/><circle cx="790" cy="1108" r="6"/><circle cx="374" cy="1284" r="6"/><circle cx="405" cy="1351" r="6"/><circle cx="860" cy="1025" r="6"/><circle cx="853" cy="1319" r="6"/><circle cx="449" cy="1445" r="6"/><circle cx="183" cy="1216" r="6"/><circle cx="460" cy="1459" r="6"/><circle cx="887" cy="1326" r="6"/><circle cx="827" cy="1302" r="6"/><circle cx="261" cy="1223" r="6"/><circle cx="882" cy="1242" r="6"/><circle cx="296" cy="1138" r="6"/><circle cx="894" cy="973" r="6"/><circle cx="228" cy="1151" r="6"/><circle cx="834" cy="1253" r="6"/><circle cx="390" cy="1278" r="6"/><circle cx="318" cy="1222" r="6"/><circle cx="859" cy="1379" r="6"/><circle cx="221" cy="1195" r="6"/><circle cx="919" cy="1334" r="6"/><circle cx="218" cy="1227" r="6"/><circle cx="386" cy="1302" r="6"/><circle cx="312" cy="1253" r="6"/><circle cx="338" cy="1253" r="6"/><circle cx="252" cy="1244" r="6"/><circle cx="465" cy="1475" r="6"/><circle cx="399" cy="1318" r="6"/><circle cx="221" cy="1203" r="6"/><circle cx="397" cy="1315" r="6"/><circle cx="877" cy="1216" r="6"/><circle cx="261" cy="1234" r="6"/><circle cx="315" cy="1140" r="6"/><circle cx="850" cy="1385" r="6"/><circle cx="375" cy="1234" r="6"/><circle cx="480" cy="1468" r="6"/><circle cx="399" cy="1279" r="6"/><circle cx="913" cy="1328" r="6"/><circle cx="373" cy="1290" r="6"/><circle cx="891" cy="975" r="6"/><circle cx="427" cy="1364" r="6"/><circle cx="781" cy="1074" r="6"/><circle cx="424" cy="1439" r="6"/><circle cx="357" cy="1273" r="6"/><circle cx="270" cy="1202" r="6"/><circle cx="762" cy="1081" r="6"/><circle cx="192" cy="1216" r="6"/><circle cx="429" cy="912" r="6"/><circle cx="390" cy="1243" r="6"/><circle cx="920" cy="1257" r="6"/><circle cx="847" cy="1217" r="6"/><circle cx="459" cy="1399" r="6"/><circle cx="261" cy="1162" r="6"/><circle cx="904" cy="1202" r="6"/><circle cx="876" cy="1224" r="6"/><circle cx="222" cy="1171" r="6"/></g>
<g fill="#a0706a" fill-opacity=".72" stroke="#a0706a" stroke-opacity=".5" stroke-width="1.2"><circle cx="938" cy="1270" r="6"/><circle cx="713" cy="885" r="6"/><circle cx="233" cy="1156" r="6"/><circle cx="405" cy="875" r="6"/><circle cx="270" cy="1137" r="6"/><circle cx="912" cy="1267" r="6"/><circle cx="786" cy="1080" r="6"/><circle cx="404" cy="1278" r="6"/><circle cx="777" cy="985" r="6"/><circle cx="439" cy="1297" r="6"/><circle cx="405" cy="1296" r="6"/><circle cx="939" cy="1334" r="6"/><circle cx="443" cy="1344" r="6"/><circle cx="833" cy="1285" r="6"/><circle cx="957" cy="1380" r="6"/><circle cx="459" cy="1356" r="6"/><circle cx="807" cy="995" r="6"/><circle cx="475" cy="895" r="6"/><circle cx="942" cy="1274" r="6"/><circle cx="887" cy="1200" r="6"/><circle cx="909" cy="1302" r="6"/><circle cx="381" cy="1223" r="6"/><circle cx="948" cy="1352" r="6"/><circle cx="861" cy="1038" r="6"/><circle cx="232" cy="1174" r="6"/><circle cx="435" cy="1303" r="6"/><circle cx="857" cy="1247" r="6"/><circle cx="884" cy="964" r="6"/><circle cx="410" cy="1277" r="6"/><circle cx="894" cy="1292" r="6"/><circle cx="922" cy="1217" r="6"/><circle cx="439" cy="1360" r="6"/><circle cx="161" cy="1168" r="6"/><circle cx="948" cy="1204" r="6"/><circle cx="178" cy="1216" r="6"/><circle cx="895" cy="977" r="6"/><circle cx="884" cy="1237" r="6"/><circle cx="880" cy="1108" r="6"/><circle cx="472" cy="1350" r="6"/><circle cx="200" cy="1201" r="6"/><circle cx="949" cy="1315" r="6"/><circle cx="754" cy="883" r="6"/><circle cx="176" cy="1180" r="6"/><circle cx="490" cy="1349" r="6"/><circle cx="845" cy="1196" r="6"/><circle cx="784" cy="991" r="6"/></g>
<g fill="#e992cc" fill-opacity=".72" stroke="#e992cc" stroke-opacity=".5" stroke-width="1.2"><circle cx="257" cy="982" r="6"/><circle cx="337" cy="895" r="6"/><circle cx="816" cy="1108" r="6"/><circle cx="421" cy="1308" r="6"/><circle cx="278" cy="1191" r="6"/><circle cx="830" cy="1294" r="6"/><circle cx="428" cy="1385" r="6"/><circle cx="837" cy="1257" r="6"/><circle cx="788" cy="1116" r="6"/><circle cx="429" cy="1287" r="6"/><circle cx="834" cy="1187" r="6"/><circle cx="864" cy="1314" r="6"/><circle cx="418" cy="1286" r="6"/><circle cx="440" cy="1497" r="6"/><circle cx="467" cy="1360" r="6"/><circle cx="379" cy="884" r="6"/><circle cx="403" cy="1253" r="6"/><circle cx="464" cy="1468" r="6"/><circle cx="871" cy="1321" r="6"/><circle cx="330" cy="889" r="6"/><circle cx="211" cy="1201" r="6"/><circle cx="719" cy="890" r="6"/><circle cx="725" cy="923" r="6"/><circle cx="885" cy="1292" r="6"/><circle cx="941" cy="1194" r="6"/><circle cx="402" cy="1316" r="6"/><circle cx="465" cy="1390" r="6"/><circle cx="167" cy="1169" r="6"/><circle cx="786" cy="1001" r="6"/><circle cx="261" cy="1180" r="6"/><circle cx="317" cy="1200" r="6"/><circle cx="175" cy="1170" r="6"/><circle cx="965" cy="1217" r="6"/><circle cx="466" cy="1308" r="6"/><circle cx="855" cy="1181" r="6"/><circle cx="889" cy="1276" r="6"/><circle cx="969" cy="1202" r="6"/><circle cx="222" cy="1149" r="6"/><circle cx="861" cy="1031" r="6"/><circle cx="765" cy="1089" r="6"/><circle cx="741" cy="898" r="6"/><circle cx="259" cy="976" r="6"/><circle cx="441" cy="912" r="6"/></g>
<g fill="#6e9fd0" fill-opacity=".72" stroke="#6e9fd0" stroke-opacity=".5" stroke-width="1.2"><circle cx="287" cy="1196" r="6"/><circle cx="796" cy="1147" r="6"/><circle cx="492" cy="1218" r="6"/><circle cx="453" cy="1364" r="6"/><circle cx="926" cy="1249" r="6"/><circle cx="292" cy="1228" r="6"/><circle cx="411" cy="1306" r="6"/><circle cx="749" cy="880" r="6"/><circle cx="856" cy="1273" r="6"/><circle cx="841" cy="1046" r="6"/><circle cx="725" cy="882" r="6"/><circle cx="278" cy="1163" r="6"/><circle cx="510" cy="1023" r="6"/><circle cx="905" cy="1228" r="6"/><circle cx="295" cy="1211" r="6"/><circle cx="834" cy="1281" r="6"/><circle cx="420" cy="904" r="6"/><circle cx="332" cy="873" r="6"/><circle cx="426" cy="1332" r="6"/><circle cx="284" cy="1228" r="6"/><circle cx="221" cy="1205" r="6"/><circle cx="750" cy="1101" r="6"/><circle cx="790" cy="1000" r="6"/><circle cx="741" cy="1105" r="6"/><circle cx="450" cy="1349" r="6"/><circle cx="282" cy="974" r="6"/><circle cx="769" cy="992" r="6"/><circle cx="938" cy="1229" r="6"/><circle cx="908" cy="1269" r="6"/><circle cx="284" cy="1232" r="6"/><circle cx="911" cy="1244" r="6"/><circle cx="817" cy="1161" r="6"/><circle cx="798" cy="1169" r="6"/><circle cx="353" cy="888" r="6"/><circle cx="522" cy="1037" r="6"/><circle cx="356" cy="891" r="6"/><circle cx="155" cy="1166" r="6"/><circle cx="439" cy="880" r="6"/><circle cx="906" cy="1251" r="6"/><circle cx="788" cy="1097" r="6"/><circle cx="854" cy="1289" r="6"/><circle cx="885" cy="1316" r="6"/><circle cx="837" cy="1282" r="6"/><circle cx="471" cy="1467" r="6"/><circle cx="565" cy="1052" r="6"/><circle cx="877" cy="1025" r="6"/><circle cx="230" cy="1205" r="6"/><circle cx="709" cy="876" r="6"/></g>
<g fill="#a8a8a8" fill-opacity=".72" stroke="#a8a8a8" stroke-opacity=".5" stroke-width="1.2"><circle cx="423" cy="905" r="6"/><circle cx="769" cy="984" r="6"/><circle cx="267" cy="1143" r="6"/><circle cx="943" cy="1284" r="6"/><circle cx="846" cy="1272" r="6"/><circle cx="474" cy="1217" r="6"/><circle cx="286" cy="1138" r="6"/><circle cx="359" cy="904" r="6"/><circle cx="808" cy="1064" r="6"/><circle cx="889" cy="1320" r="6"/><circle cx="924" cy="1211" r="6"/><circle cx="904" cy="1293" r="6"/><circle cx="780" cy="1117" r="6"/><circle cx="902" cy="999" r="6"/><circle cx="492" cy="1319" r="6"/><circle cx="357" cy="1257" r="6"/><circle cx="236" cy="1133" r="6"/><circle cx="363" cy="1270" r="6"/><circle cx="829" cy="1172" r="6"/><circle cx="778" cy="1119" r="6"/><circle cx="355" cy="1122" r="6"/><circle cx="789" cy="1118" r="6"/><circle cx="650" cy="856" r="6"/><circle cx="872" cy="1181" r="6"/><circle cx="929" cy="1254" r="6"/><circle cx="344" cy="894" r="6"/><circle cx="856" cy="1278" r="6"/><circle cx="278" cy="1231" r="6"/><circle cx="277" cy="1200" r="6"/><circle cx="863" cy="1317" r="6"/><circle cx="844" cy="935" r="6"/><circle cx="453" cy="1338" r="6"/><circle cx="863" cy="1214" r="6"/><circle cx="294" cy="1137" r="6"/><circle cx="343" cy="1247" r="6"/><circle cx="316" cy="1242" r="6"/><circle cx="926" cy="1228" r="6"/><circle cx="179" cy="1203" r="6"/><circle cx="209" cy="1180" r="6"/><circle cx="196" cy="1212" r="6"/><circle cx="879" cy="1219" r="6"/><circle cx="746" cy="886" r="6"/><circle cx="871" cy="1245" r="6"/><circle cx="686" cy="866" r="6"/><circle cx="743" cy="988" r="6"/><circle cx="256" cy="1221" r="6"/><circle cx="433" cy="1438" r="6"/><circle cx="879" cy="984" r="6"/><circle cx="473" cy="1495" r="6"/></g>
<g fill="#ea5f56" fill-opacity=".72" stroke="#ea5f56" stroke-opacity=".5" stroke-width="1.2"><circle cx="281" cy="1194" r="6"/><circle cx="888" cy="1320" r="6"/><circle cx="489" cy="1329" r="6"/><circle cx="462" cy="1218" r="6"/><circle cx="965" cy="1201" r="6"/><circle cx="848" cy="1116" r="6"/><circle cx="838" cy="927" r="6"/><circle cx="845" cy="1273" r="6"/><circle cx="170" cy="1182" r="6"/><circle cx="812" cy="1186" r="6"/><circle cx="824" cy="1313" r="6"/><circle cx="328" cy="902" r="6"/><circle cx="869" cy="1223" r="6"/><circle cx="467" cy="1369" r="6"/><circle cx="376" cy="1236" r="6"/><circle cx="253" cy="1186" r="6"/><circle cx="367" cy="1284" r="6"/><circle cx="238" cy="1168" r="6"/><circle cx="952" cy="1206" r="6"/><circle cx="820" cy="1263" r="6"/><circle cx="838" cy="1289" r="6"/><circle cx="823" cy="1212" r="6"/><circle cx="331" cy="1242" r="6"/><circle cx="735" cy="887" r="6"/><circle cx="818" cy="1280" r="6"/><circle cx="345" cy="1243" r="6"/><circle cx="897" cy="1009" r="6"/><circle cx="897" cy="1313" r="6"/><circle cx="163" cy="1175" r="6"/><circle cx="833" cy="1274" r="6"/><circle cx="367" cy="1260" r="6"/><circle cx="851" cy="1244" r="6"/><circle cx="762" cy="1109" r="6"/><circle cx="872" cy="1252" r="6"/><circle cx="523" cy="1040" r="6"/><circle cx="394" cy="1248" r="6"/><circle cx="886" cy="1248" r="6"/><circle cx="259" cy="1138" r="6"/><circle cx="724" cy="896" r="6"/><circle cx="418" cy="1342" r="6"/><circle cx="266" cy="973" r="6"/><circle cx="278" cy="982" r="6"/><circle cx="819" cy="1275" r="6"/><circle cx="940" cy="1238" r="6"/><circle cx="859" cy="1024" r="6"/><circle cx="460" cy="1450" r="6"/><circle cx="845" cy="1317" r="6"/><circle cx="474" cy="1462" r="6"/><circle cx="651" cy="871" r="6"/><circle cx="861" cy="1010" r="6"/><circle cx="428" cy="1345" r="6"/><circle cx="269" cy="1184" r="6"/><circle cx="489" cy="1316" r="6"/><circle cx="238" cy="1138" r="6"/><circle cx="896" cy="1301" r="6"/><circle cx="931" cy="1230" r="6"/><circle cx="445" cy="1355" r="6"/><circle cx="884" cy="966" r="6"/><circle cx="254" cy="1156" r="6"/><circle cx="494" cy="1317" r="6"/></g>
<g fill="#a98bd0" fill-opacity=".72" stroke="#a98bd0" stroke-opacity=".5" stroke-width="1.2"><circle cx="734" cy="1088" r="6"/><circle cx="901" cy="1324" r="6"/><circle cx="729" cy="1089" r="6"/><circle cx="278" cy="1211" r="6"/><circle cx="395" cy="1220" r="6"/><circle cx="460" cy="1375" r="6"/><circle cx="360" cy="863" r="6"/><circle cx="426" cy="1285" r="6"/><circle cx="380" cy="902" r="6"/><circle cx="451" cy="1385" r="6"/><circle cx="435" cy="1398" r="6"/><circle cx="890" cy="1229" r="6"/><circle cx="324" cy="873" r="6"/><circle cx="270" cy="1219" r="6"/><circle cx="527" cy="1029" r="6"/><circle cx="737" cy="1089" r="6"/><circle cx="940" cy="1332" r="6"/><circle cx="401" cy="864" r="6"/><circle cx="256" cy="1181" r="6"/><circle cx="804" cy="993" r="6"/><circle cx="236" cy="1150" r="6"/><circle cx="450" cy="1297" r="6"/><circle cx="463" cy="1376" r="6"/><circle cx="804" cy="994" r="6"/><circle cx="399" cy="1323" r="6"/><circle cx="232" cy="1218" r="6"/><circle cx="945" cy="1383" r="6"/><circle cx="718" cy="923" r="6"/><circle cx="839" cy="1283" r="6"/><circle cx="831" cy="1291" r="6"/><circle cx="289" cy="1193" r="6"/><circle cx="853" cy="1189" r="6"/><circle cx="918" cy="1217" r="6"/><circle cx="372" cy="876" r="6"/><circle cx="374" cy="890" r="6"/><circle cx="946" cy="1195" r="6"/><circle cx="802" cy="1164" r="6"/><circle cx="859" cy="1198" r="6"/><circle cx="754" cy="1071" r="6"/><circle cx="300" cy="1230" r="6"/><circle cx="728" cy="1112" r="6"/><circle cx="480" cy="1449" r="6"/><circle cx="895" cy="1207" r="6"/><circle cx="912" cy="972" r="6"/><circle cx="482" cy="1470" r="6"/><circle cx="328" cy="1219" r="6"/><circle cx="335" cy="880" r="6"/><circle cx="830" cy="1202" r="6"/><circle cx="331" cy="903" r="6"/><circle cx="907" cy="1307" r="6"/><circle cx="312" cy="1232" r="6"/><circle cx="366" cy="1117" r="6"/><circle cx="430" cy="1329" r="6"/></g>
<g fill="#ea5f56" fill-opacity=".72" stroke="#ea5f56" stroke-opacity=".5" stroke-width="1.2"><circle cx="243" cy="1182" r="6"/><circle cx="362" cy="1257" r="6"/><circle cx="942" cy="1234" r="6"/><circle cx="645" cy="866" r="6"/><circle cx="897" cy="1330" r="6"/><circle cx="344" cy="1257" r="6"/><circle cx="972" cy="1334" r="6"/><circle cx="901" cy="979" r="6"/><circle cx="440" cy="1383" r="6"/><circle cx="465" cy="1314" r="6"/><circle cx="442" cy="1489" r="6"/><circle cx="856" cy="1041" r="6"/><circle cx="753" cy="919" r="6"/><circle cx="934" cy="1214" r="6"/><circle cx="382" cy="872" r="6"/><circle cx="227" cy="1207" r="6"/><circle cx="391" cy="1307" r="6"/><circle cx="848" cy="1043" r="6"/><circle cx="408" cy="868" r="6"/><circle cx="402" cy="1272" r="6"/><circle cx="214" cy="1154" r="6"/><circle cx="794" cy="1066" r="6"/><circle cx="927" cy="1327" r="6"/><circle cx="330" cy="1129" r="6"/><circle cx="957" cy="1324" r="6"/><circle cx="341" cy="1207" r="6"/><circle cx="435" cy="1376" r="6"/><circle cx="182" cy="1187" r="6"/><circle cx="733" cy="896" r="6"/><circle cx="162" cy="1156" r="6"/><circle cx="726" cy="922" r="6"/><circle cx="398" cy="1289" r="6"/><circle cx="792" cy="1069" r="6"/><circle cx="178" cy="1184" r="6"/><circle cx="958" cy="1379" r="6"/><circle cx="444" cy="1461" r="6"/><circle cx="424" cy="1465" r="6"/><circle cx="436" cy="1219" r="6"/><circle cx="230" cy="1159" r="6"/><circle cx="445" cy="1450" r="6"/><circle cx="311" cy="1126" r="6"/><circle cx="521" cy="1040" r="6"/><circle cx="244" cy="1133" r="6"/><circle cx="869" cy="1315" r="6"/><circle cx="814" cy="1159" r="6"/><circle cx="333" cy="1134" r="6"/><circle cx="314" cy="1230" r="6"/><circle cx="843" cy="1380" r="6"/><circle cx="359" cy="1231" r="6"/><circle cx="363" cy="903" r="6"/><circle cx="881" cy="959" r="6"/><circle cx="870" cy="1260" r="6"/><circle cx="881" cy="1180" r="6"/><circle cx="450" cy="1306" r="6"/><circle cx="403" cy="1240" r="6"/><circle cx="933" cy="1294" r="6"/><circle cx="433" cy="1467" r="6"/><circle cx="449" cy="1403" r="6"/></g>
<g fill="#68bf5a" fill-opacity=".72" stroke="#68bf5a" stroke-opacity=".5" stroke-width="1.2"><circle cx="206" cy="1211" r="6"/><circle cx="963" cy="1203" r="6"/><circle cx="260" cy="1131" r="6"/><circle cx="481" cy="1314" r="6"/><circle cx="224" cy="1232" r="6"/><circle cx="905" cy="1329" r="6"/><circle cx="302" cy="1145" r="6"/><circle cx="187" cy="1221" r="6"/><circle cx="268" cy="1230" r="6"/><circle cx="443" cy="1297" r="6"/><circle cx="338" cy="887" r="6"/><circle cx="277" cy="1252" r="6"/><circle cx="273" cy="1251" r="6"/><circle cx="213" cy="1219" r="6"/><circle cx="300" cy="1152" r="6"/><circle cx="377" cy="871" r="6"/><circle cx="277" cy="1250" r="6"/><circle cx="410" cy="1385" r="6"/><circle cx="348" cy="1264" r="6"/><circle cx="903" cy="989" r="6"/><circle cx="463" cy="1451" r="6"/><circle cx="880" cy="1274" r="6"/><circle cx="159" cy="1179" r="6"/><circle cx="845" cy="1164" r="6"/><circle cx="213" cy="1174" r="6"/><circle cx="186" cy="1168" r="6"/><circle cx="424" cy="1351" r="6"/><circle cx="397" cy="1332" r="6"/><circle cx="432" cy="1368" r="6"/><circle cx="479" cy="1453" r="6"/><circle cx="324" cy="1250" r="6"/><circle cx="284" cy="1122" r="6"/><circle cx="318" cy="1251" r="6"/><circle cx="722" cy="881" r="6"/><circle cx="931" cy="1281" r="6"/><circle cx="790" cy="987" r="6"/><circle cx="652" cy="877" r="6"/><circle cx="970" cy="1369" r="6"/><circle cx="258" cy="1234" r="6"/><circle cx="249" cy="1243" r="6"/><circle cx="865" cy="1214" r="6"/><circle cx="244" cy="1234" r="6"/><circle cx="380" cy="1290" r="6"/><circle cx="401" cy="1287" r="6"/><circle cx="383" cy="1324" r="6"/><circle cx="488" cy="1322" r="6"/><circle cx="752" cy="1073" r="6"/><circle cx="452" cy="1497" r="6"/><circle cx="284" cy="1204" r="6"/><circle cx="265" cy="1241" r="6"/><circle cx="922" cy="1334" r="6"/><circle cx="253" cy="1233" r="6"/><circle cx="592" cy="1027" r="6"/><circle cx="933" cy="1229" r="6"/><circle cx="305" cy="1139" r="6"/><circle cx="405" cy="1362" r="6"/><circle cx="401" cy="1349" r="6"/><circle cx="241" cy="1197" r="6"/><circle cx="414" cy="1346" r="6"/></g>
<g fill="#a8a8a8" fill-opacity=".72" stroke="#a8a8a8" stroke-opacity=".5" stroke-width="1.2"><circle cx="889" cy="1106" r="6"/><circle cx="904" cy="1271" r="6"/><circle cx="333" cy="909" r="6"/><circle cx="253" cy="1168" r="6"/><circle cx="797" cy="1101" r="6"/><circle cx="925" cy="1216" r="6"/><circle cx="708" cy="888" r="6"/><circle cx="260" cy="1153" r="6"/><circle cx="223" cy="1211" r="6"/><circle cx="890" cy="971" r="6"/><circle cx="900" cy="1218" r="6"/><circle cx="262" cy="1248" r="6"/><circle cx="943" cy="1255" r="6"/><circle cx="819" cy="1181" r="6"/><circle cx="376" cy="1227" r="6"/><circle cx="283" cy="1225" r="6"/><circle cx="871" cy="1205" r="6"/><circle cx="924" cy="1275" r="6"/><circle cx="216" cy="1162" r="6"/><circle cx="900" cy="985" r="6"/><circle cx="390" cy="1318" r="6"/><circle cx="395" cy="864" r="6"/><circle cx="809" cy="1139" r="6"/><circle cx="379" cy="1275" r="6"/><circle cx="272" cy="1233" r="6"/><circle cx="645" cy="864" r="6"/><circle cx="143" cy="1156" r="6"/><circle cx="382" cy="1229" r="6"/><circle cx="356" cy="904" r="6"/><circle cx="844" cy="1045" r="6"/><circle cx="902" cy="1256" r="6"/><circle cx="750" cy="894" r="6"/><circle cx="794" cy="1129" r="6"/><circle cx="901" cy="1014" r="6"/><circle cx="321" cy="1210" r="6"/><circle cx="423" cy="883" r="6"/><circle cx="896" cy="1212" r="6"/><circle cx="825" cy="1269" r="6"/><circle cx="395" cy="883" r="6"/><circle cx="826" cy="1235" r="6"/><circle cx="966" cy="1211" r="6"/><circle cx="885" cy="958" r="6"/><circle cx="253" cy="979" r="6"/><circle cx="978" cy="1366" r="6"/><circle cx="394" cy="1285" r="6"/><circle cx="851" cy="1286" r="6"/><circle cx="408" cy="1272" r="6"/><circle cx="362" cy="1239" r="6"/><circle cx="837" cy="1277" r="6"/><circle cx="887" cy="1021" r="6"/></g>
<g fill="#a0706a" fill-opacity=".72" stroke="#a0706a" stroke-opacity=".5" stroke-width="1.2"><circle cx="428" cy="1357" r="6"/><circle cx="858" cy="1236" r="6"/><circle cx="185" cy="1199" r="6"/><circle cx="944" cy="1288" r="6"/><circle cx="423" cy="1302" r="6"/><circle cx="966" cy="1291" r="6"/><circle cx="273" cy="1193" r="6"/><circle cx="871" cy="1019" r="6"/><circle cx="925" cy="1307" r="6"/><circle cx="405" cy="881" r="6"/><circle cx="941" cy="1293" r="6"/><circle cx="854" cy="1018" r="6"/><circle cx="940" cy="1286" r="6"/><circle cx="538" cy="1037" r="6"/><circle cx="938" cy="1301" r="6"/><circle cx="869" cy="1229" r="6"/><circle cx="187" cy="1169" r="6"/><circle cx="328" cy="1242" r="6"/><circle cx="194" cy="1173" r="6"/><circle cx="260" cy="1159" r="6"/><circle cx="959" cy="1214" r="6"/><circle cx="382" cy="1215" r="6"/><circle cx="274" cy="1210" r="6"/><circle cx="394" cy="868" r="6"/><circle cx="844" cy="1291" r="6"/><circle cx="896" cy="1287" r="6"/><circle cx="337" cy="1117" r="6"/><circle cx="658" cy="870" r="6"/><circle cx="960" cy="1224" r="6"/><circle cx="804" cy="1164" r="6"/><circle cx="299" cy="1221" r="6"/><circle cx="697" cy="928" r="6"/><circle cx="856" cy="1283" r="6"/><circle cx="899" cy="1181" r="6"/><circle cx="754" cy="1095" r="6"/><circle cx="938" cy="1288" r="6"/><circle cx="280" cy="1221" r="6"/><circle cx="211" cy="1183" r="6"/></g>
<g fill="#e992cc" fill-opacity=".72" stroke="#e992cc" stroke-opacity=".5" stroke-width="1.2"><circle cx="881" cy="1284" r="6"/><circle cx="652" cy="863" r="6"/><circle cx="461" cy="1358" r="6"/><circle cx="744" cy="1098" r="6"/><circle cx="398" cy="1308" r="6"/><circle cx="898" cy="1018" r="6"/><circle cx="904" cy="1220" r="6"/><circle cx="884" cy="1296" r="6"/><circle cx="382" cy="1329" r="6"/><circle cx="203" cy="1186" r="6"/><circle cx="749" cy="1096" r="6"/><circle cx="860" cy="1288" r="6"/><circle cx="264" cy="1213" r="6"/><circle cx="343" cy="1240" r="6"/><circle cx="754" cy="1103" r="6"/><circle cx="331" cy="882" r="6"/><circle cx="439" cy="1371" r="6"/><circle cx="219" cy="1219" r="6"/><circle cx="685" cy="929" r="6"/><circle cx="831" cy="1242" r="6"/><circle cx="146" cy="1154" r="6"/><circle cx="198" cy="1176" r="6"/><circle cx="450" cy="1438" r="6"/><circle cx="420" cy="873" r="6"/><circle cx="386" cy="900" r="6"/><circle cx="945" cy="1245" r="6"/><circle cx="925" cy="1206" r="6"/><circle cx="301" cy="1133" r="6"/><circle cx="340" cy="1224" r="6"/><circle cx="961" cy="1354" r="6"/><circle cx="301" cy="1222" r="6"/><circle cx="969" cy="1339" r="6"/><circle cx="444" cy="893" r="6"/><circle cx="469" cy="1478" r="6"/><circle cx="833" cy="1199" r="6"/><circle cx="650" cy="866" r="6"/><circle cx="317" cy="1245" r="6"/><circle cx="433" cy="1387" r="6"/><circle cx="825" cy="1109" r="6"/><circle cx="841" cy="1240" r="6"/><circle cx="345" cy="1125" r="6"/><circle cx="890" cy="1235" r="6"/><circle cx="254" cy="1210" r="6"/><circle cx="272" cy="1143" r="6"/><circle cx="766" cy="1040" r="6"/><circle cx="285" cy="1177" r="6"/></g>
<g fill="#6e9fd0" fill-opacity=".72" stroke="#6e9fd0" stroke-opacity=".5" stroke-width="1.2"><circle cx="316" cy="1217" r="6"/><circle cx="839" cy="1157" r="6"/><circle cx="887" cy="1282" r="6"/><circle cx="481" cy="904" r="6"/><circle cx="418" cy="1363" r="6"/><circle cx="712" cy="889" r="6"/><circle cx="878" cy="1207" r="6"/><circle cx="857" cy="1253" r="6"/><circle cx="380" cy="871" r="6"/><circle cx="889" cy="1312" r="6"/><circle cx="401" cy="866" r="6"/><circle cx="252" cy="1228" r="6"/><circle cx="438" cy="1308" r="6"/><circle cx="235" cy="1201" r="6"/><circle cx="828" cy="1263" r="6"/><circle cx="648" cy="883" r="6"/><circle cx="806" cy="1177" r="6"/><circle cx="864" cy="1250" r="6"/><circle cx="276" cy="1217" r="6"/><circle cx="829" cy="1161" r="6"/><circle cx="469" cy="1390" r="6"/><circle cx="950" cy="1341" r="6"/><circle cx="387" cy="1290" r="6"/><circle cx="185" cy="1173" r="6"/><circle cx="871" cy="1319" r="6"/><circle cx="398" cy="1283" r="6"/><circle cx="478" cy="1334" r="6"/><circle cx="831" cy="1180" r="6"/><circle cx="230" cy="1181" r="6"/><circle cx="384" cy="864" r="6"/><circle cx="966" cy="1334" r="6"/><circle cx="201" cy="1180" r="6"/><circle cx="880" cy="1298" r="6"/><circle cx="862" cy="1262" r="6"/><circle cx="463" cy="890" r="6"/><circle cx="269" cy="1157" r="6"/><circle cx="247" cy="1216" r="6"/><circle cx="878" cy="1304" r="6"/><circle cx="411" cy="1273" r="6"/><circle cx="793" cy="1074" r="6"/><circle cx="800" cy="1150" r="6"/><circle cx="279" cy="1126" r="6"/><circle cx="428" cy="1293" r="6"/><circle cx="889" cy="1007" r="6"/><circle cx="191" cy="1191" r="6"/><circle cx="426" cy="899" r="6"/></g>
<g fill="#fb9c45" fill-opacity=".72" stroke="#fb9c45" stroke-opacity=".5" stroke-width="1.2"><circle cx="455" cy="1389" r="6"/><circle cx="430" cy="1474" r="6"/><circle cx="483" cy="1454" r="6"/><circle cx="427" cy="1437" r="6"/><circle cx="228" cy="1194" r="6"/><circle cx="958" cy="1353" r="6"/><circle cx="970" cy="1285" r="6"/><circle cx="457" cy="1484" r="6"/><circle cx="325" cy="1226" r="6"/><circle cx="427" cy="1446" r="6"/><circle cx="467" cy="887" r="6"/><circle cx="419" cy="884" r="6"/><circle cx="474" cy="1491" r="6"/><circle cx="495" cy="1453" r="6"/><circle cx="874" cy="1109" r="6"/><circle cx="365" cy="867" r="6"/><circle cx="899" cy="1097" r="6"/><circle cx="409" cy="893" r="6"/><circle cx="355" cy="867" r="6"/><circle cx="371" cy="893" r="6"/><circle cx="305" cy="1235" r="6"/><circle cx="908" cy="1275" r="6"/><circle cx="477" cy="1472" r="6"/><circle cx="347" cy="872" r="6"/><circle cx="346" cy="903" r="6"/><circle cx="803" cy="1172" r="6"/><circle cx="975" cy="1366" r="6"/><circle cx="895" cy="1000" r="6"/><circle cx="444" cy="1488" r="6"/><circle cx="430" cy="1299" r="6"/><circle cx="464" cy="1483" r="6"/><circle cx="446" cy="1481" r="6"/><circle cx="306" cy="1227" r="6"/><circle cx="348" cy="904" r="6"/><circle cx="342" cy="894" r="6"/><circle cx="730" cy="889" r="6"/><circle cx="466" cy="1451" r="6"/><circle cx="470" cy="1471" r="6"/><circle cx="489" cy="1494" r="6"/><circle cx="895" cy="1244" r="6"/><circle cx="238" cy="1160" r="6"/><circle cx="451" cy="1460" r="6"/><circle cx="345" cy="1238" r="6"/><circle cx="405" cy="1235" r="6"/><circle cx="477" cy="1350" r="6"/></g>
<g fill="#a0706a" fill-opacity=".72" stroke="#a0706a" stroke-opacity=".5" stroke-width="1.2"><circle cx="909" cy="971" r="6"/><circle cx="831" cy="1306" r="6"/><circle cx="830" cy="1110" r="6"/><circle cx="255" cy="1132" r="6"/><circle cx="959" cy="1301" r="6"/><circle cx="885" cy="1210" r="6"/><circle cx="486" cy="1462" r="6"/><circle cx="924" cy="1293" r="6"/><circle cx="345" cy="1227" r="6"/><circle cx="253" cy="1164" r="6"/><circle cx="463" cy="912" r="6"/><circle cx="411" cy="1295" r="6"/><circle cx="395" cy="1301" r="6"/><circle cx="861" cy="1224" r="6"/><circle cx="311" cy="1119" r="6"/><circle cx="455" cy="1321" r="6"/><circle cx="293" cy="1204" r="6"/><circle cx="415" cy="1289" r="6"/><circle cx="899" cy="1284" r="6"/><circle cx="750" cy="982" r="6"/><circle cx="236" cy="1181" r="6"/><circle cx="876" cy="1018" r="6"/><circle cx="867" cy="1294" r="6"/><circle cx="522" cy="1036" r="6"/><circle cx="941" cy="1259" r="6"/><circle cx="404" cy="1255" r="6"/><circle cx="190" cy="1195" r="6"/><circle cx="430" cy="1372" r="6"/><circle cx="861" cy="1175" r="6"/><circle cx="421" cy="897" r="6"/><circle cx="895" cy="1221" r="6"/><circle cx="242" cy="1200" r="6"/><circle cx="601" cy="1025" r="6"/></g>
<g fill="#e992cc" fill-opacity=".72" stroke="#e992cc" stroke-opacity=".5" stroke-width="1.2"><circle cx="406" cy="1261" r="6"/><circle cx="360" cy="1270" r="6"/><circle cx="198" cy="1224" r="6"/><circle cx="384" cy="1218" r="6"/><circle cx="886" cy="1225" r="6"/><circle cx="915" cy="973" r="6"/><circle cx="552" cy="1052" r="6"/><circle cx="182" cy="1151" r="6"/><circle cx="152" cy="1167" r="6"/><circle cx="850" cy="1227" r="6"/><circle cx="414" cy="1388" r="6"/><circle cx="266" cy="1202" r="6"/><circle cx="928" cy="1276" r="6"/><circle cx="442" cy="1390" r="6"/><circle cx="175" cy="1149" r="6"/><circle cx="278" cy="1199" r="6"/><circle cx="424" cy="869" r="6"/><circle cx="861" cy="1304" r="6"/><circle cx="458" cy="1368" r="6"/><circle cx="498" cy="1310" r="6"/><circle cx="305" cy="1194" r="6"/><circle cx="269" cy="1147" r="6"/><circle cx="846" cy="1045" r="6"/><circle cx="769" cy="1099" r="6"/><circle cx="281" cy="1233" r="6"/><circle cx="828" cy="1252" r="6"/><circle cx="912" cy="981" r="6"/><circle cx="865" cy="1302" r="6"/><circle cx="186" cy="1156" r="6"/><circle cx="922" cy="1223" r="6"/><circle cx="870" cy="1032" r="6"/><circle cx="485" cy="1350" r="6"/><circle cx="954" cy="1229" r="6"/><circle cx="830" cy="1314" r="6"/><circle cx="494" cy="1326" r="6"/><circle cx="466" cy="1477" r="6"/><circle cx="411" cy="1386" r="6"/><circle cx="820" cy="1175" r="6"/><circle cx="399" cy="1227" r="6"/><circle cx="279" cy="1160" r="6"/><circle cx="881" cy="1321" r="6"/><circle cx="891" cy="1178" r="6"/><circle cx="324" cy="877" r="6"/><circle cx="958" cy="1325" r="6"/><circle cx="853" cy="1292" r="6"/><circle cx="787" cy="1113" r="6"/><circle cx="844" cy="1227" r="6"/></g>
<g fill="#fb9c45" fill-opacity=".72" stroke="#fb9c45" stroke-opacity=".5" stroke-width="1.2"><circle cx="973" cy="1356" r="6"/><circle cx="717" cy="925" r="6"/><circle cx="353" cy="865" r="6"/><circle cx="459" cy="890" r="6"/><circle cx="833" cy="1310" r="6"/><circle cx="333" cy="1215" r="6"/><circle cx="236" cy="1200" r="6"/><circle cx="238" cy="1170" r="6"/><circle cx="886" cy="1254" r="6"/><circle cx="944" cy="1215" r="6"/><circle cx="365" cy="1230" r="6"/><circle cx="918" cy="1201" r="6"/><circle cx="285" cy="1223" r="6"/><circle cx="367" cy="882" r="6"/><circle cx="901" cy="961" r="6"/><circle cx="432" cy="1478" r="6"/><circle cx="211" cy="1213" r="6"/><circle cx="916" cy="1272" r="6"/><circle cx="318" cy="1228" r="6"/><circle cx="483" cy="1316" r="6"/><circle cx="877" cy="1213" r="6"/><circle cx="468" cy="906" r="6"/><circle cx="970" cy="1210" r="6"/><circle cx="203" cy="1159" r="6"/><circle cx="837" cy="1310" r="6"/><circle cx="377" cy="862" r="6"/><circle cx="321" cy="1227" r="6"/><circle cx="298" cy="1206" r="6"/><circle cx="406" cy="1370" r="6"/><circle cx="348" cy="1237" r="6"/><circle cx="269" cy="976" r="6"/><circle cx="470" cy="1363" r="6"/><circle cx="438" cy="1491" r="6"/><circle cx="439" cy="1474" r="6"/><circle cx="473" cy="1470" r="6"/><circle cx="335" cy="1234" r="6"/><circle cx="422" cy="893" r="6"/><circle cx="375" cy="1258" r="6"/><circle cx="404" cy="1334" r="6"/><circle cx="850" cy="1241" r="6"/><circle cx="391" cy="1264" r="6"/><circle cx="423" cy="1342" r="6"/><circle cx="280" cy="969" r="6"/><circle cx="967" cy="1359" r="6"/></g>
<g fill="#a98bd0" fill-opacity=".72" stroke="#a98bd0" stroke-opacity=".5" stroke-width="1.2"><circle cx="753" cy="1087" r="6"/><circle cx="825" cy="1114" r="6"/><circle cx="939" cy="1303" r="6"/><circle cx="441" cy="1311" r="6"/><circle cx="747" cy="992" r="6"/><circle cx="906" cy="1310" r="6"/><circle cx="864" cy="1275" r="6"/><circle cx="892" cy="1107" r="6"/><circle cx="934" cy="1336" r="6"/><circle cx="358" cy="890" r="6"/><circle cx="934" cy="1237" r="6"/><circle cx="791" cy="1146" r="6"/><circle cx="920" cy="1182" r="6"/><circle cx="361" cy="1280" r="6"/><circle cx="391" cy="872" r="6"/><circle cx="337" cy="1125" r="6"/><circle cx="729" cy="1110" r="6"/><circle cx="759" cy="897" r="6"/><circle cx="912" cy="1180" r="6"/><circle cx="735" cy="1101" r="6"/><circle cx="458" cy="1346" r="6"/><circle cx="823" cy="1203" r="6"/><circle cx="301" cy="1198" r="6"/><circle cx="421" cy="1448" r="6"/><circle cx="832" cy="1172" r="6"/><circle cx="230" cy="1198" r="6"/><circle cx="795" cy="1141" r="6"/><circle cx="505" cy="1311" r="6"/><circle cx="845" cy="1277" r="6"/><circle cx="408" cy="1228" r="6"/><circle cx="864" cy="1231" r="6"/><circle cx="449" cy="1392" r="6"/><circle cx="465" cy="1459" r="6"/><circle cx="913" cy="1209" r="6"/><circle cx="790" cy="996" r="6"/><circle cx="773" cy="1103" r="6"/><circle cx="876" cy="1296" r="6"/><circle cx="396" cy="888" r="6"/><circle cx="265" cy="1175" r="6"/></g>
<g fill="#6e9fd0" fill-opacity=".72" stroke="#6e9fd0" stroke-opacity=".5" stroke-width="1.2"><circle cx="928" cy="1233" r="6"/><circle cx="872" cy="1180" r="6"/><circle cx="878" cy="1023" r="6"/><circle cx="873" cy="1268" r="6"/><circle cx="415" cy="1381" r="6"/><circle cx="387" cy="1330" r="6"/><circle cx="816" cy="1297" r="6"/><circle cx="795" cy="1132" r="6"/><circle cx="272" cy="1171" r="6"/><circle cx="461" cy="1343" r="6"/><circle cx="423" cy="1433" r="6"/><circle cx="867" cy="1286" r="6"/><circle cx="219" cy="1197" r="6"/><circle cx="435" cy="902" r="6"/><circle cx="877" cy="1323" r="6"/><circle cx="251" cy="1135" r="6"/><circle cx="924" cy="1324" r="6"/><circle cx="503" cy="1316" r="6"/><circle cx="266" cy="1247" r="6"/><circle cx="742" cy="989" r="6"/><circle cx="266" cy="1185" r="6"/><circle cx="948" cy="1246" r="6"/><circle cx="898" cy="1208" r="6"/><circle cx="788" cy="1127" r="6"/><circle cx="443" cy="880" r="6"/><circle cx="561" cy="1051" r="6"/><circle cx="875" cy="1005" r="6"/><circle cx="849" cy="1290" r="6"/><circle cx="849" cy="1024" r="6"/><circle cx="226" cy="1188" r="6"/><circle cx="866" cy="1207" r="6"/><circle cx="904" cy="1210" r="6"/><circle cx="969" cy="1216" r="6"/><circle cx="265" cy="1195" r="6"/><circle cx="846" cy="1248" r="6"/><circle cx="880" cy="1235" r="6"/><circle cx="858" cy="1290" r="6"/><circle cx="903" cy="975" r="6"/><circle cx="824" cy="1252" r="6"/></g>
<g fill="#68bf5a" fill-opacity=".72" stroke="#68bf5a" stroke-opacity=".5" stroke-width="1.2"><circle cx="259" cy="1211" r="6"/><circle cx="898" cy="1247" r="6"/><circle cx="851" cy="1025" r="6"/><circle cx="768" cy="1090" r="6"/><circle cx="308" cy="1135" r="6"/><circle cx="818" cy="1305" r="6"/><circle cx="147" cy="1153" r="6"/><circle cx="762" cy="981" r="6"/><circle cx="440" cy="1449" r="6"/><circle cx="447" cy="1350" r="6"/><circle cx="919" cy="1312" r="6"/><circle cx="433" cy="1481" r="6"/><circle cx="895" cy="1104" r="6"/><circle cx="941" cy="1205" r="6"/><circle cx="344" cy="1248" r="6"/><circle cx="909" cy="989" r="6"/><circle cx="206" cy="1226" r="6"/><circle cx="234" cy="1215" r="6"/><circle cx="818" cy="1112" r="6"/><circle cx="908" cy="1188" r="6"/><circle cx="965" cy="1220" r="6"/><circle cx="274" cy="1136" r="6"/><circle cx="937" cy="1302" r="6"/><circle cx="295" cy="1244" r="6"/><circle cx="564" cy="1055" r="6"/><circle cx="232" cy="1229" r="6"/><circle cx="301" cy="1250" r="6"/><circle cx="210" cy="1200" r="6"/><circle cx="382" cy="1315" r="6"/><circle cx="452" cy="1444" r="6"/><circle cx="442" cy="1351" r="6"/><circle cx="454" cy="1440" r="6"/><circle cx="254" cy="1243" r="6"/><circle cx="348" cy="1256" r="6"/><circle cx="805" cy="1165" r="6"/><circle cx="840" cy="928" r="6"/><circle cx="212" cy="1220" r="6"/><circle cx="404" cy="1268" r="6"/><circle cx="277" cy="1176" r="6"/><circle cx="402" cy="870" r="6"/><circle cx="825" cy="1272" r="6"/><circle cx="757" cy="1002" r="6"/><circle cx="231" cy="1148" r="6"/><circle cx="812" cy="1145" r="6"/><circle cx="878" cy="1302" r="6"/><circle cx="858" cy="1111" r="6"/><circle cx="475" cy="1304" r="6"/><circle cx="862" cy="1321" r="6"/><circle cx="483" cy="1451" r="6"/><circle cx="533" cy="1031" r="6"/><circle cx="868" cy="1204" r="6"/><circle cx="394" cy="1310" r="6"/><circle cx="448" cy="917" r="6"/><circle cx="352" cy="1274" r="6"/><circle cx="227" cy="1224" r="6"/><circle cx="433" cy="1443" r="6"/><circle cx="260" cy="1169" r="6"/><circle cx="386" cy="1259" r="6"/><circle cx="435" cy="1442" r="6"/><circle cx="472" cy="1459" r="6"/><circle cx="431" cy="1335" r="6"/><circle cx="276" cy="1131" r="6"/><circle cx="403" cy="1363" r="6"/><circle cx="163" cy="1191" r="6"/><circle cx="305" cy="1252" r="6"/><circle cx="374" cy="1117" r="6"/></g>
<g fill="#ea5f56" fill-opacity=".72" stroke="#ea5f56" stroke-opacity=".5" stroke-width="1.2"><circle cx="457" cy="1361" r="6"/><circle cx="752" cy="1107" r="6"/><circle cx="376" cy="1250" r="6"/><circle cx="812" cy="1182" r="6"/><circle cx="824" cy="1229" r="6"/><circle cx="429" cy="1310" r="6"/><circle cx="285" cy="1199" r="6"/><circle cx="483" cy="1337" r="6"/><circle cx="897" cy="1286" r="6"/><circle cx="844" cy="1251" r="6"/><circle cx="926" cy="1274" r="6"/><circle cx="440" cy="1479" r="6"/><circle cx="181" cy="1189" r="6"/><circle cx="342" cy="1241" r="6"/><circle cx="174" cy="1168" r="6"/><circle cx="942" cy="1221" r="6"/><circle cx="862" cy="1315" r="6"/><circle cx="226" cy="1169" r="6"/><circle cx="435" cy="1318" r="6"/><circle cx="942" cy="1250" r="6"/><circle cx="853" cy="940" r="6"/><circle cx="768" cy="998" r="6"/><circle cx="729" cy="897" r="6"/><circle cx="313" cy="1223" r="6"/><circle cx="935" cy="1244" r="6"/><circle cx="306" cy="1246" r="6"/><circle cx="913" cy="1009" r="6"/><circle cx="470" cy="1324" r="6"/><circle cx="787" cy="1136" r="6"/><circle cx="753" cy="1024" r="6"/><circle cx="405" cy="887" r="6"/><circle cx="362" cy="1118" r="6"/><circle cx="428" cy="1438" r="6"/><circle cx="845" cy="1242" r="6"/><circle cx="641" cy="873" r="6"/><circle cx="371" cy="1118" r="6"/><circle cx="740" cy="903" r="6"/><circle cx="865" cy="1037" r="6"/><circle cx="363" cy="1233" r="6"/><circle cx="799" cy="1167" r="6"/><circle cx="886" cy="959" r="6"/><circle cx="839" cy="1048" r="6"/><circle cx="250" cy="1239" r="6"/><circle cx="876" cy="1190" r="6"/><circle cx="871" cy="1304" r="6"/><circle cx="224" cy="1198" r="6"/><circle cx="880" cy="1189" r="6"/><circle cx="311" cy="1222" r="6"/><circle cx="395" cy="1262" r="6"/><circle cx="438" cy="881" r="6"/><circle cx="840" cy="1211" r="6"/><circle cx="923" cy="987" r="6"/><circle cx="825" cy="1170" r="6"/><circle cx="845" cy="1308" r="6"/><circle cx="405" cy="1266" r="6"/><circle cx="912" cy="1290" r="6"/><circle cx="838" cy="1189" r="6"/><circle cx="394" cy="1238" r="6"/><circle cx="257" cy="1194" r="6"/><circle cx="946" cy="1234" r="6"/><circle cx="477" cy="1444" r="6"/></g>
<g fill="#a8a8a8" fill-opacity=".72" stroke="#a8a8a8" stroke-opacity=".5" stroke-width="1.2"><circle cx="641" cy="1144" r="6"/><circle cx="878" cy="1242" r="6"/><circle cx="960" cy="1319" r="6"/><circle cx="405" cy="1225" r="6"/><circle cx="450" cy="1328" r="6"/><circle cx="456" cy="890" r="6"/><circle cx="484" cy="1218" r="6"/><circle cx="905" cy="1192" r="6"/><circle cx="897" cy="1101" r="6"/><circle cx="891" cy="1242" r="6"/><circle cx="278" cy="1180" r="6"/><circle cx="371" cy="899" r="6"/><circle cx="872" cy="1283" r="6"/><circle cx="860" cy="1383" r="6"/><circle cx="455" cy="1463" r="6"/><circle cx="922" cy="1265" r="6"/><circle cx="387" cy="1312" r="6"/><circle cx="856" cy="1232" r="6"/><circle cx="836" cy="1113" r="6"/><circle cx="820" cy="1282" r="6"/><circle cx="727" cy="1086" r="6"/><circle cx="425" cy="1365" r="6"/><circle cx="882" cy="1324" r="6"/><circle cx="912" cy="1277" r="6"/><circle cx="843" cy="1267" r="6"/><circle cx="890" cy="1281" r="6"/><circle cx="726" cy="1111" r="6"/><circle cx="770" cy="1095" r="6"/><circle cx="891" cy="1201" r="6"/><circle cx="330" cy="1238" r="6"/><circle cx="289" cy="1236" r="6"/><circle cx="876" cy="1307" r="6"/><circle cx="256" cy="1141" r="6"/><circle cx="458" cy="1304" r="6"/><circle cx="911" cy="1229" r="6"/><circle cx="445" cy="930" r="6"/><circle cx="774" cy="1090" r="6"/><circle cx="486" cy="1352" r="6"/><circle cx="937" cy="1323" r="6"/><circle cx="206" cy="1165" r="6"/><circle cx="651" cy="881" r="6"/><circle cx="885" cy="1259" r="6"/><circle cx="464" cy="1300" r="6"/><circle cx="843" cy="1191" r="6"/><circle cx="404" cy="1286" r="6"/><circle cx="470" cy="1301" r="6"/><circle cx="415" cy="1277" r="6"/><circle cx="236" cy="1177" r="6"/><circle cx="910" cy="1311" r="6"/><circle cx="425" cy="1318" r="6"/><circle cx="341" cy="1232" r="6"/><circle cx="294" cy="1236" r="6"/><circle cx="270" cy="1197" r="6"/><circle cx="280" cy="1200" r="6"/><circle cx="891" cy="1309" r="6"/><circle cx="955" cy="1342" r="6"/><circle cx="396" cy="878" r="6"/><circle cx="888" cy="966" r="6"/><circle cx="917" cy="1246" r="6"/><circle cx="935" cy="1279" r="6"/><circle cx="737" cy="920" r="6"/><circle cx="275" cy="1220" r="6"/><circle cx="543" cy="1035" r="6"/><circle cx="309" cy="1122" r="6"/><circle cx="762" cy="993" r="6"/><circle cx="794" cy="1077" r="6"/></g>
<g fill="#e992cc" fill-opacity=".72" stroke="#e992cc" stroke-opacity=".5" stroke-width="1.2"><circle cx="872" cy="1222" r="6"/><circle cx="272" cy="1187" r="6"/><circle cx="340" cy="891" r="6"/><circle cx="838" cy="1187" r="6"/><circle cx="429" cy="1386" r="6"/><circle cx="277" cy="1188" r="6"/><circle cx="440" cy="861" r="6"/><circle cx="181" cy="1203" r="6"/><circle cx="478" cy="1328" r="6"/><circle cx="426" cy="1458" r="6"/><circle cx="907" cy="1009" r="6"/><circle cx="286" cy="1216" r="6"/><circle cx="679" cy="864" r="6"/><circle cx="816" cy="1283" r="6"/><circle cx="350" cy="1238" r="6"/><circle cx="328" cy="1135" r="6"/><circle cx="434" cy="1346" r="6"/><circle cx="780" cy="1098" r="6"/><circle cx="844" cy="1172" r="6"/><circle cx="949" cy="1336" r="6"/><circle cx="415" cy="876" r="6"/><circle cx="357" cy="1234" r="6"/><circle cx="290" cy="1180" r="6"/><circle cx="935" cy="1193" r="6"/><circle cx="357" cy="863" r="6"/><circle cx="467" cy="1469" r="6"/><circle cx="289" cy="1203" r="6"/><circle cx="446" cy="1373" r="6"/><circle cx="282" cy="1205" r="6"/><circle cx="856" cy="1291" r="6"/><circle cx="553" cy="1045" r="6"/><circle cx="372" cy="1274" r="6"/><circle cx="953" cy="1352" r="6"/><circle cx="421" cy="1385" r="6"/><circle cx="300" cy="1212" r="6"/><circle cx="837" cy="1231" r="6"/><circle cx="748" cy="998" r="6"/><circle cx="912" cy="1304" r="6"/><circle cx="839" cy="1287" r="6"/><circle cx="744" cy="889" r="6"/></g>
<g fill="#a98bd0" fill-opacity=".72" stroke="#a98bd0" stroke-opacity=".5" stroke-width="1.2"><circle cx="375" cy="1247" r="6"/><circle cx="385" cy="1250" r="6"/><circle cx="431" cy="889" r="6"/><circle cx="394" cy="1278" r="6"/><circle cx="411" cy="1228" r="6"/><circle cx="884" cy="1102" r="6"/><circle cx="661" cy="867" r="6"/><circle cx="878" cy="1221" r="6"/><circle cx="933" cy="1281" r="6"/><circle cx="927" cy="1226" r="6"/><circle cx="257" cy="983" r="6"/><circle cx="378" cy="881" r="6"/><circle cx="914" cy="1006" r="6"/><circle cx="863" cy="1293" r="6"/><circle cx="802" cy="1062" r="6"/><circle cx="311" cy="1213" r="6"/><circle cx="452" cy="1423" r="6"/><circle cx="334" cy="902" r="6"/><circle cx="702" cy="886" r="6"/><circle cx="489" cy="1312" r="6"/><circle cx="932" cy="1311" r="6"/><circle cx="853" cy="1022" r="6"/><circle cx="332" cy="871" r="6"/><circle cx="470" cy="1338" r="6"/><circle cx="338" cy="872" r="6"/><circle cx="905" cy="997" r="6"/><circle cx="412" cy="1278" r="6"/><circle cx="948" cy="1350" r="6"/><circle cx="747" cy="986" r="6"/><circle cx="353" cy="1248" r="6"/><circle cx="185" cy="1190" r="6"/><circle cx="219" cy="1185" r="6"/><circle cx="891" cy="1294" r="6"/><circle cx="345" cy="1215" r="6"/><circle cx="387" cy="1243" r="6"/><circle cx="907" cy="990" r="6"/><circle cx="944" cy="1203" r="6"/><circle cx="443" cy="890" r="6"/><circle cx="377" cy="1214" r="6"/><circle cx="229" cy="1150" r="6"/><circle cx="461" cy="906" r="6"/><circle cx="560" cy="1047" r="6"/><circle cx="780" cy="1124" r="6"/><circle cx="444" cy="1390" r="6"/><circle cx="549" cy="1047" r="6"/><circle cx="192" cy="1207" r="6"/><circle cx="448" cy="909" r="6"/><circle cx="892" cy="1265" r="6"/><circle cx="403" cy="886" r="6"/><circle cx="434" cy="1291" r="6"/><circle cx="896" cy="1245" r="6"/><circle cx="167" cy="1207" r="6"/><circle cx="906" cy="1207" r="6"/><circle cx="361" cy="1244" r="6"/><circle cx="444" cy="1492" r="6"/><circle cx="403" cy="1373" r="6"/><circle cx="904" cy="1301" r="6"/><circle cx="755" cy="986" r="6"/><circle cx="303" cy="1129" r="6"/><circle cx="925" cy="1269" r="6"/><circle cx="903" cy="1265" r="6"/><circle cx="417" cy="1363" r="6"/></g>
<g fill="#fb9c45" fill-opacity=".72" stroke="#fb9c45" stroke-opacity=".5" stroke-width="1.2"><circle cx="962" cy="1363" r="6"/><circle cx="739" cy="915" r="6"/><circle cx="760" cy="1087" r="6"/><circle cx="466" cy="1374" r="6"/><circle cx="455" cy="1342" r="6"/><circle cx="861" cy="1193" r="6"/><circle cx="781" cy="1109" r="6"/><circle cx="476" cy="1467" r="6"/><circle cx="422" cy="1378" r="6"/><circle cx="384" cy="882" r="6"/><circle cx="387" cy="1321" r="6"/><circle cx="894" cy="1020" r="6"/><circle cx="452" cy="890" r="6"/><circle cx="167" cy="1186" r="6"/><circle cx="372" cy="871" r="6"/><circle cx="824" cy="1255" r="6"/><circle cx="316" cy="1213" r="6"/><circle cx="191" cy="1178" r="6"/><circle cx="366" cy="877" r="6"/><circle cx="950" cy="1348" r="6"/><circle cx="973" cy="1284" r="6"/><circle cx="460" cy="1471" r="6"/><circle cx="276" cy="1148" r="6"/><circle cx="968" cy="1372" r="6"/><circle cx="475" cy="905" r="6"/><circle cx="875" cy="1181" r="6"/><circle cx="448" cy="1469" r="6"/><circle cx="352" cy="1273" r="6"/><circle cx="311" cy="1195" r="6"/><circle cx="966" cy="1364" r="6"/><circle cx="785" cy="1129" r="6"/><circle cx="444" cy="1473" r="6"/><circle cx="469" cy="1482" r="6"/><circle cx="465" cy="907" r="6"/><circle cx="480" cy="1320" r="6"/><circle cx="292" cy="1186" r="6"/><circle cx="984" cy="1379" r="6"/><circle cx="304" cy="1221" r="6"/><circle cx="931" cy="1312" r="6"/><circle cx="852" cy="1376" r="6"/></g>
<g fill="#68bf5a" fill-opacity=".72" stroke="#68bf5a" stroke-opacity=".5" stroke-width="1.2"><circle cx="372" cy="1216" r="6"/><circle cx="437" cy="1353" r="6"/><circle cx="951" cy="1338" r="6"/><circle cx="183" cy="1217" r="6"/><circle cx="853" cy="1370" r="6"/><circle cx="283" cy="1134" r="6"/><circle cx="902" cy="1260" r="6"/><circle cx="957" cy="1225" r="6"/><circle cx="451" cy="1483" r="6"/><circle cx="898" cy="1022" r="6"/><circle cx="475" cy="1458" r="6"/><circle cx="896" cy="1231" r="6"/><circle cx="950" cy="1236" r="6"/><circle cx="240" cy="1149" r="6"/><circle cx="246" cy="1207" r="6"/><circle cx="940" cy="1221" r="6"/><circle cx="953" cy="1358" r="6"/><circle cx="985" cy="1378" r="6"/><circle cx="201" cy="1154" r="6"/><circle cx="828" cy="1052" r="6"/><circle cx="411" cy="880" r="6"/><circle cx="238" cy="1229" r="6"/><circle cx="838" cy="1233" r="6"/><circle cx="802" cy="1072" r="6"/><circle cx="434" cy="1301" r="6"/><circle cx="277" cy="1206" r="6"/><circle cx="658" cy="859" r="6"/><circle cx="716" cy="893" r="6"/><circle cx="153" cy="1182" r="6"/><circle cx="853" cy="1297" r="6"/><circle cx="410" cy="1353" r="6"/><circle cx="165" cy="1152" r="6"/><circle cx="251" cy="1220" r="6"/><circle cx="859" cy="1267" r="6"/><circle cx="402" cy="1383" r="6"/><circle cx="925" cy="1185" r="6"/><circle cx="965" cy="1346" r="6"/><circle cx="901" cy="1205" r="6"/><circle cx="901" cy="1097" r="6"/><circle cx="739" cy="891" r="6"/><circle cx="467" cy="1352" r="6"/><circle cx="916" cy="1333" r="6"/><circle cx="827" cy="1257" r="6"/><circle cx="226" cy="1232" r="6"/><circle cx="154" cy="1184" r="6"/><circle cx="163" cy="1188" r="6"/><circle cx="255" cy="1234" r="6"/><circle cx="360" cy="1278" r="6"/><circle cx="461" cy="1440" r="6"/><circle cx="801" cy="1173" r="6"/><circle cx="758" cy="904" r="6"/><circle cx="355" cy="1220" r="6"/><circle cx="881" cy="1215" r="6"/><circle cx="822" cy="1056" r="6"/><circle cx="447" cy="1348" r="6"/><circle cx="796" cy="1001" r="6"/><circle cx="275" cy="1181" r="6"/><circle cx="315" cy="1198" r="6"/><circle cx="160" cy="1155" r="6"/><circle cx="905" cy="1279" r="6"/><circle cx="364" cy="1238" r="6"/></g>
<g fill="#a0706a" fill-opacity=".72" stroke="#a0706a" stroke-opacity=".5" stroke-width="1.2"><circle cx="914" cy="1280" r="6"/><circle cx="260" cy="1164" r="6"/><circle cx="293" cy="1200" r="6"/><circle cx="463" cy="1380" r="6"/><circle cx="454" cy="908" r="6"/><circle cx="392" cy="1259" r="6"/><circle cx="893" cy="1231" r="6"/><circle cx="160" cy="1195" r="6"/><circle cx="893" cy="1234" r="6"/><circle cx="502" cy="1307" r="6"/><circle cx="445" cy="861" r="6"/><circle cx="296" cy="1192" r="6"/><circle cx="402" cy="1307" r="6"/><circle cx="431" cy="914" r="6"/><circle cx="752" cy="986" r="6"/><circle cx="399" cy="1263" r="6"/><circle cx="899" cy="1307" r="6"/><circle cx="874" cy="1193" r="6"/><circle cx="470" cy="1352" r="6"/><circle cx="790" cy="1078" r="6"/><circle cx="279" cy="1145" r="6"/><circle cx="896" cy="1304" r="6"/><circle cx="235" cy="1177" r="6"/><circle cx="734" cy="1092" r="6"/><circle cx="829" cy="1180" r="6"/><circle cx="820" cy="1193" r="6"/><circle cx="434" cy="1329" r="6"/><circle cx="755" cy="903" r="6"/><circle cx="753" cy="882" r="6"/><circle cx="419" cy="1382" r="6"/><circle cx="857" cy="1201" r="6"/><circle cx="147" cy="1159" r="6"/><circle cx="442" cy="927" r="6"/><circle cx="168" cy="1166" r="6"/><circle cx="318" cy="1124" r="6"/><circle cx="204" cy="1179" r="6"/><circle cx="757" cy="886" r="6"/></g>
<g fill="#a8a8a8" fill-opacity=".72" stroke="#a8a8a8" stroke-opacity=".5" stroke-width="1.2"><circle cx="251" cy="1203" r="6"/><circle cx="851" cy="1265" r="6"/><circle cx="326" cy="914" r="6"/><circle cx="225" cy="1203" r="6"/><circle cx="300" cy="1253" r="6"/><circle cx="415" cy="1301" r="6"/><circle cx="396" cy="1333" r="6"/><circle cx="421" cy="1310" r="6"/><circle cx="198" cy="1207" r="6"/><circle cx="937" cy="1262" r="6"/><circle cx="385" cy="880" r="6"/><circle cx="519" cy="1029" r="6"/><circle cx="957" cy="1350" r="6"/><circle cx="936" cy="1294" r="6"/><circle cx="443" cy="1457" r="6"/><circle cx="777" cy="1122" r="6"/><circle cx="233" cy="1163" r="6"/><circle cx="789" cy="1130" r="6"/><circle cx="870" cy="1263" r="6"/><circle cx="882" cy="1244" r="6"/><circle cx="324" cy="1242" r="6"/><circle cx="763" cy="994" r="6"/><circle cx="801" cy="1104" r="6"/><circle cx="805" cy="1150" r="6"/><circle cx="413" cy="1310" r="6"/><circle cx="894" cy="1308" r="6"/><circle cx="917" cy="1003" r="6"/><circle cx="885" cy="1023" r="6"/><circle cx="230" cy="1137" r="6"/><circle cx="163" cy="1162" r="6"/><circle cx="185" cy="1205" r="6"/><circle cx="270" cy="1232" r="6"/><circle cx="225" cy="1185" r="6"/><circle cx="881" cy="1004" r="6"/><circle cx="756" cy="891" r="6"/><circle cx="486" cy="1336" r="6"/><circle cx="876" cy="1201" r="6"/><circle cx="889" cy="1251" r="6"/><circle cx="887" cy="1015" r="6"/><circle cx="218" cy="1156" r="6"/><circle cx="196" cy="1151" r="6"/><circle cx="365" cy="1266" r="6"/><circle cx="944" cy="1242" r="6"/><circle cx="907" cy="1319" r="6"/><circle cx="963" cy="1366" r="6"/><circle cx="479" cy="1301" r="6"/><circle cx="954" cy="1330" r="6"/><circle cx="880" cy="1313" r="6"/><circle cx="785" cy="999" r="6"/><circle cx="909" cy="1211" r="6"/><circle cx="414" cy="1314" r="6"/><circle cx="266" cy="1237" r="6"/><circle cx="471" cy="1356" r="6"/><circle cx="917" cy="1179" r="6"/><circle cx="471" cy="1336" r="6"/><circle cx="812" cy="1305" r="6"/><circle cx="896" cy="1009" r="6"/></g>
<g fill="#6e9fd0" fill-opacity=".72" stroke="#6e9fd0" stroke-opacity=".5" stroke-width="1.2"><circle cx="426" cy="1354" r="6"/><circle cx="277" cy="1194" r="6"/><circle cx="483" cy="1309" r="6"/><circle cx="216" cy="1172" r="6"/><circle cx="864" cy="1264" r="6"/><circle cx="734" cy="881" r="6"/><circle cx="465" cy="1317" r="6"/><circle cx="755" cy="1111" r="6"/><circle cx="304" cy="1203" r="6"/><circle cx="672" cy="887" r="6"/><circle cx="340" cy="875" r="6"/><circle cx="357" cy="876" r="6"/><circle cx="394" cy="1243" r="6"/><circle cx="248" cy="1238" r="6"/><circle cx="961" cy="1312" r="6"/><circle cx="250" cy="1201" r="6"/><circle cx="253" cy="1132" r="6"/><circle cx="454" cy="1386" r="6"/><circle cx="363" cy="1229" r="6"/><circle cx="916" cy="1000" r="6"/><circle cx="893" cy="1258" r="6"/><circle cx="376" cy="879" r="6"/><circle cx="374" cy="900" r="6"/><circle cx="234" cy="1199" r="6"/><circle cx="218" cy="1195" r="6"/><circle cx="233" cy="1208" r="6"/><circle cx="501" cy="1321" r="6"/><circle cx="916" cy="982" r="6"/><circle cx="920" cy="998" r="6"/><circle cx="875" cy="1253" r="6"/><circle cx="426" cy="1289" r="6"/><circle cx="939" cy="1251" r="6"/><circle cx="401" cy="1283" r="6"/><circle cx="386" cy="873" r="6"/><circle cx="745" cy="908" r="6"/><circle cx="475" cy="1360" r="6"/><circle cx="841" cy="1220" r="6"/><circle cx="399" cy="886" r="6"/><circle cx="455" cy="1326" r="6"/><circle cx="197" cy="1168" r="6"/></g>
<g fill="#ea5f56" fill-opacity=".72" stroke="#ea5f56" stroke-opacity=".5" stroke-width="1.2"><circle cx="399" cy="1219" r="6"/><circle cx="901" cy="1187" r="6"/><circle cx="909" cy="1178" r="6"/><circle cx="456" cy="1393" r="6"/><circle cx="882" cy="1004" r="6"/><circle cx="292" cy="1134" r="6"/><circle cx="328" cy="1226" r="6"/><circle cx="737" cy="886" r="6"/><circle cx="927" cy="1321" r="6"/><circle cx="383" cy="1285" r="6"/><circle cx="465" cy="1383" r="6"/><circle cx="257" cy="1149" r="6"/><circle cx="837" cy="1300" r="6"/><circle cx="837" cy="1195" r="6"/><circle cx="295" cy="1229" r="6"/><circle cx="945" cy="1341" r="6"/><circle cx="756" cy="1007" r="6"/><circle cx="876" cy="1223" r="6"/><circle cx="805" cy="1108" r="6"/><circle cx="947" cy="1231" r="6"/><circle cx="820" cy="1254" r="6"/><circle cx="330" cy="1121" r="6"/><circle cx="445" cy="1387" r="6"/><circle cx="280" cy="1144" r="6"/><circle cx="522" cy="1024" r="6"/><circle cx="340" cy="1117" r="6"/><circle cx="170" cy="1155" r="6"/><circle cx="778" cy="1080" r="6"/><circle cx="393" cy="1328" r="6"/><circle cx="364" cy="888" r="6"/><circle cx="983" cy="1380" r="6"/><circle cx="178" cy="1151" r="6"/><circle cx="756" cy="921" r="6"/><circle cx="377" cy="1228" r="6"/><circle cx="404" cy="1233" r="6"/><circle cx="428" cy="1312" r="6"/><circle cx="830" cy="1261" r="6"/><circle cx="725" cy="880" r="6"/><circle cx="861" cy="1228" r="6"/><circle cx="907" cy="965" r="6"/><circle cx="467" cy="1219" r="6"/><circle cx="970" cy="1367" r="6"/><circle cx="883" cy="1203" r="6"/><circle cx="206" cy="1158" r="6"/><circle cx="324" cy="1202" r="6"/><circle cx="398" cy="1257" r="6"/><circle cx="847" cy="1198" r="6"/><circle cx="273" cy="976" r="6"/><circle cx="912" cy="1315" r="6"/><circle cx="851" cy="1310" r="6"/><circle cx="280" cy="1212" r="6"/><circle cx="904" cy="1227" r="6"/><circle cx="840" cy="1161" r="6"/><circle cx="907" cy="1218" r="6"/><circle cx="817" cy="1190" r="6"/><circle cx="478" cy="1217" r="6"/><circle cx="267" cy="1177" r="6"/><circle cx="210" cy="1193" r="6"/></g>
<g fill="#68bf5a" fill-opacity=".72" stroke="#68bf5a" stroke-opacity=".5" stroke-width="1.2"><circle cx="856" cy="943" r="6"/><circle cx="405" cy="1339" r="6"/><circle cx="408" cy="1345" r="6"/><circle cx="314" cy="1143" r="6"/><circle cx="898" cy="1277" r="6"/><circle cx="469" cy="1367" r="6"/><circle cx="837" cy="1317" r="6"/><circle cx="455" cy="1355" r="6"/><circle cx="268" cy="1236" r="6"/><circle cx="821" cy="1168" r="6"/><circle cx="256" cy="1226" r="6"/><circle cx="307" cy="1247" r="6"/><circle cx="447" cy="1341" r="6"/><circle cx="639" cy="1143" r="6"/><circle cx="425" cy="1354" r="6"/><circle cx="838" cy="1281" r="6"/><circle cx="327" cy="1256" r="6"/><circle cx="743" cy="880" r="6"/><circle cx="169" cy="1197" r="6"/><circle cx="249" cy="1225" r="6"/><circle cx="464" cy="1456" r="6"/><circle cx="311" cy="1146" r="6"/><circle cx="860" cy="1284" r="6"/><circle cx="190" cy="1188" r="6"/><circle cx="435" cy="1321" r="6"/><circle cx="422" cy="1456" r="6"/><circle cx="315" cy="1221" r="6"/><circle cx="961" cy="1305" r="6"/><circle cx="914" cy="1285" r="6"/><circle cx="294" cy="1147" r="6"/><circle cx="255" cy="1247" r="6"/><circle cx="921" cy="1204" r="6"/><circle cx="903" cy="982" r="6"/><circle cx="819" cy="1307" r="6"/><circle cx="406" cy="1299" r="6"/><circle cx="826" cy="1296" r="6"/><circle cx="262" cy="1185" r="6"/><circle cx="887" cy="1308" r="6"/><circle cx="361" cy="1263" r="6"/><circle cx="897" cy="1305" r="6"/><circle cx="879" cy="1328" r="6"/><circle cx="221" cy="1220" r="6"/><circle cx="437" cy="1447" r="6"/><circle cx="331" cy="1247" r="6"/><circle cx="285" cy="1243" r="6"/><circle cx="757" cy="1089" r="6"/><circle cx="359" cy="1259" r="6"/><circle cx="641" cy="866" r="6"/><circle cx="192" cy="1213" r="6"/><circle cx="273" cy="1242" r="6"/><circle cx="854" cy="1384" r="6"/><circle cx="876" cy="1247" r="6"/><circle cx="472" cy="1312" r="6"/><circle cx="479" cy="1351" r="6"/><circle cx="535" cy="1038" r="6"/></g>
<g fill="#a8a8a8" fill-opacity=".72" stroke="#a8a8a8" stroke-opacity=".5" stroke-width="1.2"><circle cx="934" cy="1265" r="6"/><circle cx="875" cy="1229" r="6"/><circle cx="185" cy="1193" r="6"/><circle cx="882" cy="1186" r="6"/><circle cx="424" cy="1347" r="6"/><circle cx="778" cy="993" r="6"/><circle cx="758" cy="894" r="6"/><circle cx="441" cy="890" r="6"/><circle cx="887" cy="1105" r="6"/><circle cx="488" cy="1219" r="6"/><circle cx="914" cy="1315" r="6"/><circle cx="755" cy="911" r="6"/><circle cx="423" cy="1390" r="6"/><circle cx="397" cy="869" r="6"/><circle cx="778" cy="1076" r="6"/><circle cx="255" cy="1146" r="6"/><circle cx="867" cy="1179" r="6"/><circle cx="231" cy="1202" r="6"/><circle cx="435" cy="1295" r="6"/><circle cx="554" cy="1038" r="6"/><circle cx="278" cy="1222" r="6"/><circle cx="908" cy="1199" r="6"/><circle cx="345" cy="899" r="6"/><circle cx="204" cy="1173" r="6"/><circle cx="349" cy="1125" r="6"/><circle cx="270" cy="1171" r="6"/><circle cx="849" cy="1112" r="6"/><circle cx="478" cy="1339" r="6"/><circle cx="915" cy="1277" r="6"/><circle cx="338" cy="1249" r="6"/><circle cx="802" cy="1069" r="6"/><circle cx="401" cy="1312" r="6"/><circle cx="426" cy="906" r="6"/><circle cx="171" cy="1187" r="6"/><circle cx="284" cy="1209" r="6"/><circle cx="219" cy="1190" r="6"/><circle cx="354" cy="898" r="6"/><circle cx="923" cy="1262" r="6"/></g>
<g fill="#a0706a" fill-opacity=".72" stroke="#a0706a" stroke-opacity=".5" stroke-width="1.2"><circle cx="293" cy="1181" r="6"/><circle cx="219" cy="1157" r="6"/><circle cx="454" cy="1458" r="6"/><circle cx="406" cy="1381" r="6"/><circle cx="891" cy="1101" r="6"/><circle cx="893" cy="1218" r="6"/><circle cx="189" cy="1176" r="6"/><circle cx="880" cy="954" r="6"/><circle cx="427" cy="1341" r="6"/><circle cx="868" cy="1242" r="6"/><circle cx="382" cy="1298" r="6"/><circle cx="893" cy="1296" r="6"/><circle cx="828" cy="1194" r="6"/><circle cx="830" cy="1293" r="6"/><circle cx="915" cy="1199" r="6"/><circle cx="862" cy="1246" r="6"/><circle cx="286" cy="1181" r="6"/><circle cx="482" cy="1329" r="6"/><circle cx="250" cy="1182" r="6"/><circle cx="921" cy="999" r="6"/><circle cx="221" cy="1175" r="6"/><circle cx="775" cy="990" r="6"/><circle cx="877" cy="984" r="6"/><circle cx="924" cy="1247" r="6"/><circle cx="329" cy="908" r="6"/><circle cx="858" cy="1255" r="6"/><circle cx="301" cy="1136" r="6"/><circle cx="930" cy="1300" r="6"/><circle cx="448" cy="1336" r="6"/><circle cx="903" cy="1193" r="6"/><circle cx="469" cy="893" r="6"/><circle cx="264" cy="1130" r="6"/><circle cx="909" cy="1184" r="6"/><circle cx="341" cy="909" r="6"/><circle cx="913" cy="995" r="6"/><circle cx="318" cy="1206" r="6"/><circle cx="518" cy="1025" r="6"/><circle cx="781" cy="1055" r="6"/><circle cx="756" cy="1017" r="6"/><circle cx="935" cy="1233" r="6"/><circle cx="287" cy="1250" r="6"/><circle cx="471" cy="908" r="6"/><circle cx="820" cy="1140" r="6"/><circle cx="648" cy="869" r="6"/><circle cx="399" cy="1276" r="6"/></g>
<g fill="#a98bd0" fill-opacity=".72" stroke="#a98bd0" stroke-opacity=".5" stroke-width="1.2"><circle cx="672" cy="865" r="6"/><circle cx="895" cy="1260" r="6"/><circle cx="458" cy="1391" r="6"/><circle cx="556" cy="1050" r="6"/><circle cx="909" cy="1237" r="6"/><circle cx="407" cy="1310" r="6"/><circle cx="159" cy="1190" r="6"/><circle cx="410" cy="1329" r="6"/><circle cx="435" cy="1384" r="6"/><circle cx="954" cy="1222" r="6"/><circle cx="349" cy="890" r="6"/><circle cx="814" cy="1150" r="6"/><circle cx="437" cy="1440" r="6"/><circle cx="439" cy="899" r="6"/><circle cx="786" cy="1074" r="6"/><circle cx="326" cy="866" r="6"/><circle cx="764" cy="1002" r="6"/><circle cx="441" cy="901" r="6"/><circle cx="783" cy="1107" r="6"/><circle cx="461" cy="1403" r="6"/><circle cx="422" cy="868" r="6"/><circle cx="915" cy="1202" r="6"/><circle cx="439" cy="1335" r="6"/><circle cx="890" cy="1191" r="6"/><circle cx="461" cy="1315" r="6"/><circle cx="655" cy="875" r="6"/><circle cx="912" cy="1192" r="6"/><circle cx="270" cy="1207" r="6"/><circle cx="369" cy="863" r="6"/><circle cx="982" cy="1375" r="6"/><circle cx="196" cy="1159" r="6"/><circle cx="752" cy="1106" r="6"/><circle cx="829" cy="1305" r="6"/><circle cx="452" cy="1380" r="6"/><circle cx="913" cy="998" r="6"/><circle cx="436" cy="1391" r="6"/><circle cx="952" cy="1228" r="6"/><circle cx="281" cy="1166" r="6"/><circle cx="697" cy="887" r="6"/><circle cx="911" cy="1005" r="6"/><circle cx="287" cy="1192" r="6"/><circle cx="241" cy="1164" r="6"/><circle cx="187" cy="1185" r="6"/><circle cx="845" cy="1375" r="6"/><circle cx="262" cy="1159" r="6"/></g>
<g fill="#fb9c45" fill-opacity=".72" stroke="#fb9c45" stroke-opacity=".5" stroke-width="1.2"><circle cx="299" cy="1130" r="6"/><circle cx="273" cy="1129" r="6"/><circle cx="461" cy="1304" r="6"/><circle cx="201" cy="1166" r="6"/><circle cx="493" cy="1454" r="6"/><circle cx="224" cy="1220" r="6"/><circle cx="919" cy="1317" r="6"/><circle cx="938" cy="1242" r="6"/><circle cx="862" cy="1282" r="6"/><circle cx="435" cy="1379" r="6"/><circle cx="932" cy="1223" r="6"/><circle cx="822" cy="1153" r="6"/><circle cx="853" cy="1234" r="6"/><circle cx="856" cy="1112" r="6"/><circle cx="870" cy="1194" r="6"/><circle cx="261" cy="1135" r="6"/><circle cx="433" cy="1456" r="6"/><circle cx="827" cy="1052" r="6"/><circle cx="393" cy="900" r="6"/><circle cx="484" cy="1317" r="6"/><circle cx="271" cy="983" r="6"/><circle cx="972" cy="1354" r="6"/><circle cx="407" cy="883" r="6"/><circle cx="457" cy="1457" r="6"/><circle cx="883" cy="1105" r="6"/><circle cx="965" cy="1371" r="6"/><circle cx="466" cy="1367" r="6"/><circle cx="404" cy="1276" r="6"/><circle cx="487" cy="1497" r="6"/><circle cx="414" cy="1333" r="6"/><circle cx="394" cy="1232" r="6"/><circle cx="726" cy="897" r="6"/><circle cx="949" cy="1211" r="6"/><circle cx="441" cy="1293" r="6"/><circle cx="654" cy="865" r="6"/><circle cx="226" cy="1166" r="6"/><circle cx="253" cy="1139" r="6"/><circle cx="380" cy="897" r="6"/><circle cx="451" cy="906" r="6"/><circle cx="387" cy="1237" r="6"/><circle cx="886" cy="1186" r="6"/><circle cx="483" cy="1301" r="6"/><circle cx="930" cy="1308" r="6"/><circle cx="280" cy="1172" r="6"/><circle cx="356" cy="1218" r="6"/><circle cx="825" cy="1227" r="6"/><circle cx="293" cy="1223" r="6"/><circle cx="198" cy="1203" r="6"/><circle cx="465" cy="890" r="6"/><circle cx="465" cy="895" r="6"/><circle cx="478" cy="1306" r="6"/><circle cx="872" cy="1263" r="6"/><circle cx="892" cy="1204" r="6"/><circle cx="334" cy="863" r="6"/><circle cx="911" cy="1294" r="6"/><circle cx="271" cy="973" r="6"/></g>
<g fill="#6e9fd0" fill-opacity=".72" stroke="#6e9fd0" stroke-opacity=".5" stroke-width="1.2"><circle cx="148" cy="1164" r="6"/><circle cx="469" cy="1395" r="6"/><circle cx="502" cy="1147" r="6"/><circle cx="904" cy="978" r="6"/><circle cx="879" cy="1290" r="6"/><circle cx="734" cy="1103" r="6"/><circle cx="820" cy="1258" r="6"/><circle cx="384" cy="1244" r="6"/><circle cx="262" cy="1154" r="6"/><circle cx="158" cy="1145" r="6"/><circle cx="439" cy="1331" r="6"/><circle cx="912" cy="1236" r="6"/><circle cx="902" cy="1293" r="6"/><circle cx="468" cy="900" r="6"/><circle cx="407" cy="1325" r="6"/><circle cx="901" cy="1007" r="6"/><circle cx="878" cy="1252" r="6"/><circle cx="268" cy="1191" r="6"/><circle cx="951" cy="1383" r="6"/><circle cx="432" cy="916" r="6"/><circle cx="932" cy="1217" r="6"/><circle cx="326" cy="864" r="6"/><circle cx="878" cy="1203" r="6"/><circle cx="887" cy="1009" r="6"/><circle cx="441" cy="1375" r="6"/><circle cx="223" cy="1167" r="6"/><circle cx="942" cy="1231" r="6"/><circle cx="775" cy="1090" r="6"/><circle cx="487" cy="1315" r="6"/><circle cx="936" cy="1226" r="6"/><circle cx="892" cy="1182" r="6"/><circle cx="232" cy="1225" r="6"/><circle cx="263" cy="1211" r="6"/><circle cx="378" cy="893" r="6"/><circle cx="856" cy="1261" r="6"/><circle cx="493" cy="1306" r="6"/><circle cx="859" cy="1294" r="6"/><circle cx="923" cy="1239" r="6"/><circle cx="423" cy="1332" r="6"/><circle cx="898" cy="1219" r="6"/><circle cx="398" cy="1259" r="6"/><circle cx="950" cy="1252" r="6"/><circle cx="475" cy="1454" r="6"/><circle cx="316" cy="1128" r="6"/><circle cx="937" cy="1254" r="6"/><circle cx="827" cy="1205" r="6"/><circle cx="457" cy="1308" r="6"/><circle cx="392" cy="1282" r="6"/><circle cx="339" cy="1258" r="6"/><circle cx="861" cy="1187" r="6"/></g>
<g fill="#ea5f56" fill-opacity=".72" stroke="#ea5f56" stroke-opacity=".5" stroke-width="1.2"><circle cx="161" cy="1193" r="6"/><circle cx="386" cy="1300" r="6"/><circle cx="369" cy="1224" r="6"/><circle cx="172" cy="1199" r="6"/><circle cx="875" cy="954" r="6"/><circle cx="297" cy="1184" r="6"/><circle cx="387" cy="1278" r="6"/><circle cx="476" cy="1324" r="6"/><circle cx="915" cy="1294" r="6"/><circle cx="388" cy="1327" r="6"/><circle cx="751" cy="1081" r="6"/><circle cx="426" cy="1370" r="6"/><circle cx="907" cy="1295" r="6"/><circle cx="951" cy="1349" r="6"/><circle cx="259" cy="1127" r="6"/><circle cx="946" cy="1292" r="6"/><circle cx="974" cy="1209" r="6"/><circle cx="886" cy="1244" r="6"/><circle cx="415" cy="1217" r="6"/><circle cx="200" cy="1193" r="6"/><circle cx="434" cy="904" r="6"/><circle cx="857" cy="1039" r="6"/><circle cx="831" cy="1165" r="6"/><circle cx="258" cy="1202" r="6"/><circle cx="181" cy="1193" r="6"/><circle cx="286" cy="1250" r="6"/><circle cx="201" cy="1151" r="6"/><circle cx="893" cy="1201" r="6"/><circle cx="954" cy="1209" r="6"/><circle cx="565" cy="1044" r="6"/><circle cx="277" cy="1158" r="6"/><circle cx="265" cy="1159" r="6"/><circle cx="229" cy="1140" r="6"/><circle cx="367" cy="892" r="6"/><circle cx="951" cy="1307" r="6"/><circle cx="197" cy="1198" r="6"/><circle cx="290" cy="1238" r="6"/><circle cx="339" cy="1131" r="6"/><circle cx="365" cy="1122" r="6"/><circle cx="864" cy="1298" r="6"/><circle cx="250" cy="1172" r="6"/><circle cx="659" cy="873" r="6"/><circle cx="873" cy="1021" r="6"/><circle cx="262" cy="1148" r="6"/><circle cx="962" cy="1313" r="6"/><circle cx="921" cy="1250" r="6"/><circle cx="853" cy="1219" r="6"/><circle cx="801" cy="1133" r="6"/><circle cx="434" cy="1289" r="6"/><circle cx="452" cy="1311" r="6"/><circle cx="199" cy="1192" r="6"/><circle cx="911" cy="1324" r="6"/><circle cx="222" cy="1155" r="6"/><circle cx="739" cy="892" r="6"/><circle cx="831" cy="1214" r="6"/><circle cx="394" cy="1328" r="6"/><circle cx="347" cy="1117" r="6"/><circle cx="409" cy="1313" r="6"/><circle cx="805" cy="1106" r="6"/><circle cx="920" cy="987" r="6"/><circle cx="949" cy="1199" r="6"/></g>
<g fill="#e992cc" fill-opacity=".72" stroke="#e992cc" stroke-opacity=".5" stroke-width="1.2"><circle cx="234" cy="1159" r="6"/><circle cx="754" cy="985" r="6"/><circle cx="974" cy="1359" r="6"/><circle cx="487" cy="1220" r="6"/><circle cx="920" cy="1227" r="6"/><circle cx="169" cy="1174" r="6"/><circle cx="784" cy="1081" r="6"/><circle cx="239" cy="1150" r="6"/><circle cx="968" cy="1363" r="6"/><circle cx="376" cy="1262" r="6"/><circle cx="434" cy="919" r="6"/><circle cx="760" cy="1101" r="6"/><circle cx="420" cy="1220" r="6"/><circle cx="829" cy="1210" r="6"/><circle cx="251" cy="1211" r="6"/><circle cx="419" cy="1316" r="6"/><circle cx="350" cy="1252" r="6"/><circle cx="415" cy="1347" r="6"/><circle cx="557" cy="1050" r="6"/><circle cx="421" cy="1351" r="6"/><circle cx="933" cy="1290" r="6"/><circle cx="237" cy="1211" r="6"/><circle cx="946" cy="1222" r="6"/><circle cx="914" cy="1187" r="6"/><circle cx="293" cy="1192" r="6"/><circle cx="227" cy="1156" r="6"/><circle cx="831" cy="1306" r="6"/><circle cx="422" cy="1307" r="6"/><circle cx="882" cy="1331" r="6"/><circle cx="785" cy="1104" r="6"/><circle cx="735" cy="1085" r="6"/><circle cx="909" cy="1240" r="6"/><circle cx="464" cy="1390" r="6"/><circle cx="439" cy="1469" r="6"/><circle cx="788" cy="1139" r="6"/><circle cx="804" cy="1135" r="6"/><circle cx="202" cy="1162" r="6"/><circle cx="471" cy="1443" r="6"/><circle cx="417" cy="1379" r="6"/><circle cx="795" cy="1107" r="6"/><circle cx="911" cy="969" r="6"/><circle cx="658" cy="861" r="6"/><circle cx="917" cy="978" r="6"/><circle cx="798" cy="1107" r="6"/><circle cx="856" cy="1015" r="6"/></g>
<g fill="#68bf5a" fill-opacity=".72" stroke="#68bf5a" stroke-opacity=".5" stroke-width="1.2"><circle cx="776" cy="981" r="6"/><circle cx="448" cy="1452" r="6"/><circle cx="220" cy="1156" r="6"/><circle cx="434" cy="1399" r="6"/><circle cx="438" cy="1455" r="6"/><circle cx="254" cy="1190" r="6"/><circle cx="260" cy="1235" r="6"/><circle cx="293" cy="1242" r="6"/><circle cx="209" cy="1204" r="6"/><circle cx="142" cy="1163" r="6"/><circle cx="854" cy="1312" r="6"/><circle cx="235" cy="1235" r="6"/><circle cx="158" cy="1176" r="6"/><circle cx="743" cy="1087" r="6"/><circle cx="152" cy="1176" r="6"/><circle cx="453" cy="1395" r="6"/><circle cx="883" cy="1029" r="6"/><circle cx="352" cy="876" r="6"/><circle cx="949" cy="1214" r="6"/><circle cx="757" cy="1079" r="6"/><circle cx="195" cy="1195" r="6"/><circle cx="928" cy="1179" r="6"/><circle cx="459" cy="1318" r="6"/><circle cx="946" cy="1279" r="6"/><circle cx="454" cy="895" r="6"/><circle cx="746" cy="985" r="6"/><circle cx="145" cy="1165" r="6"/><circle cx="309" cy="1130" r="6"/><circle cx="226" cy="1230" r="6"/><circle cx="289" cy="1137" r="6"/><circle cx="463" cy="1374" r="6"/><circle cx="408" cy="1378" r="6"/><circle cx="891" cy="1299" r="6"/><circle cx="240" cy="1235" r="6"/><circle cx="336" cy="1210" r="6"/><circle cx="195" cy="1224" r="6"/><circle cx="810" cy="1152" r="6"/><circle cx="404" cy="1354" r="6"/><circle cx="454" cy="1447" r="6"/><circle cx="871" cy="1203" r="6"/><circle cx="710" cy="883" r="6"/><circle cx="411" cy="1293" r="6"/><circle cx="291" cy="1151" r="6"/><circle cx="924" cy="1192" r="6"/><circle cx="978" cy="1376" r="6"/><circle cx="471" cy="1455" r="6"/><circle cx="450" cy="1358" r="6"/><circle cx="298" cy="1225" r="6"/><circle cx="445" cy="1358" r="6"/><circle cx="246" cy="1180" r="6"/><circle cx="288" cy="1245" r="6"/><circle cx="893" cy="1330" r="6"/><circle cx="443" cy="1293" r="6"/><circle cx="896" cy="1205" r="6"/><circle cx="431" cy="1219" r="6"/><circle cx="932" cy="1186" r="6"/><circle cx="921" cy="1199" r="6"/><circle cx="804" cy="1159" r="6"/><circle cx="667" cy="915" r="6"/><circle cx="453" cy="1389" r="6"/><circle cx="638" cy="868" r="6"/><circle cx="348" cy="1221" r="6"/></g>
<g fill="#fb9c45" fill-opacity=".72" stroke="#fb9c45" stroke-opacity=".5" stroke-width="1.2"><circle cx="374" cy="863" r="6"/><circle cx="850" cy="1268" r="6"/><circle cx="445" cy="900" r="6"/><circle cx="381" cy="1236" r="6"/><circle cx="394" cy="1258" r="6"/><circle cx="448" cy="1497" r="6"/><circle cx="372" cy="884" r="6"/><circle cx="891" cy="1218" r="6"/><circle cx="309" cy="1219" r="6"/><circle cx="417" cy="888" r="6"/><circle cx="366" cy="899" r="6"/><circle cx="336" cy="877" r="6"/><circle cx="461" cy="1310" r="6"/><circle cx="900" cy="1102" r="6"/><circle cx="455" cy="898" r="6"/><circle cx="731" cy="1085" r="6"/><circle cx="460" cy="1497" r="6"/><circle cx="395" cy="1321" r="6"/><circle cx="965" cy="1375" r="6"/><circle cx="320" cy="1228" r="6"/><circle cx="752" cy="1098" r="6"/><circle cx="293" cy="1218" r="6"/><circle cx="358" cy="895" r="6"/><circle cx="411" cy="891" r="6"/><circle cx="769" cy="981" r="6"/><circle cx="403" cy="1230" r="6"/><circle cx="841" cy="1254" r="6"/><circle cx="529" cy="1038" r="6"/><circle cx="971" cy="1332" r="6"/><circle cx="265" cy="1147" r="6"/><circle cx="882" cy="1234" r="6"/><circle cx="860" cy="1182" r="6"/><circle cx="446" cy="1482" r="6"/><circle cx="359" cy="875" r="6"/><circle cx="470" cy="1374" r="6"/><circle cx="899" cy="1194" r="6"/><circle cx="950" cy="1322" r="6"/><circle cx="470" cy="1450" r="6"/><circle cx="356" cy="1229" r="6"/><circle cx="219" cy="1162" r="6"/><circle cx="175" cy="1189" r="6"/><circle cx="443" cy="1477" r="6"/></g>
<g fill="#a8a8a8" fill-opacity=".72" stroke="#a8a8a8" stroke-opacity=".5" stroke-width="1.2"><circle cx="334" cy="1241" r="6"/><circle cx="861" cy="1294" r="6"/><circle cx="441" cy="1346" r="6"/><circle cx="264" cy="1219" r="6"/><circle cx="469" cy="1344" r="6"/><circle cx="899" cy="1021" r="6"/><circle cx="780" cy="1101" r="6"/><circle cx="836" cy="1212" r="6"/><circle cx="835" cy="1239" r="6"/><circle cx="773" cy="1097" r="6"/><circle cx="888" cy="1098" r="6"/><circle cx="867" cy="1023" r="6"/><circle cx="288" cy="1240" r="6"/><circle cx="289" cy="1228" r="6"/><circle cx="678" cy="931" r="6"/><circle cx="441" cy="1331" r="6"/><circle cx="923" cy="1213" r="6"/><circle cx="856" cy="1309" r="6"/><circle cx="926" cy="1263" r="6"/><circle cx="321" cy="1120" r="6"/><circle cx="860" cy="1264" r="6"/><circle cx="434" cy="1464" r="6"/><circle cx="758" cy="1113" r="6"/><circle cx="185" cy="1208" r="6"/><circle cx="856" cy="1379" r="6"/><circle cx="877" cy="956" r="6"/><circle cx="261" cy="1174" r="6"/><circle cx="268" cy="1251" r="6"/><circle cx="254" cy="1159" r="6"/><circle cx="945" cy="1294" r="6"/><circle cx="949" cy="1285" r="6"/><circle cx="772" cy="1004" r="6"/><circle cx="163" cy="1180" r="6"/><circle cx="495" cy="1316" r="6"/><circle cx="917" cy="1308" r="6"/><circle cx="853" cy="1115" r="6"/><circle cx="348" cy="1262" r="6"/><circle cx="394" cy="1291" r="6"/><circle cx="460" cy="1330" r="6"/><circle cx="890" cy="1291" r="6"/><circle cx="934" cy="1276" r="6"/><circle cx="478" cy="1356" r="6"/><circle cx="325" cy="1125" r="6"/><circle cx="855" cy="1258" r="6"/><circle cx="361" cy="1236" r="6"/><circle cx="501" cy="1312" r="6"/><circle cx="661" cy="873" r="6"/><circle cx="447" cy="1301" r="6"/><circle cx="888" cy="1287" r="6"/><circle cx="827" cy="1269" r="6"/></g>
<g fill="#ea5f56" fill-opacity=".72" stroke="#ea5f56" stroke-opacity=".5" stroke-width="1.2"><circle cx="793" cy="993" r="6"/><circle cx="344" cy="1209" r="6"/><circle cx="443" cy="1317" r="6"/><circle cx="869" cy="951" r="6"/><circle cx="351" cy="1120" r="6"/><circle cx="458" cy="1386" r="6"/><circle cx="945" cy="1330" r="6"/><circle cx="956" cy="1321" r="6"/><circle cx="255" cy="977" r="6"/><circle cx="451" cy="1302" r="6"/><circle cx="292" cy="1118" r="6"/><circle cx="858" cy="943" r="6"/><circle cx="924" cy="1328" r="6"/><circle cx="265" cy="1165" r="6"/><circle cx="501" cy="1218" r="6"/><circle cx="943" cy="1271" r="6"/><circle cx="825" cy="1216" r="6"/><circle cx="673" cy="862" r="6"/><circle cx="405" cy="1303" r="6"/><circle cx="215" cy="1204" r="6"/><circle cx="858" cy="1213" r="6"/><circle cx="303" cy="1208" r="6"/><circle cx="449" cy="1389" r="6"/><circle cx="856" cy="1193" r="6"/><circle cx="896" cy="1184" r="6"/><circle cx="875" cy="1269" r="6"/><circle cx="830" cy="1244" r="6"/><circle cx="699" cy="873" r="6"/><circle cx="204" cy="1182" r="6"/><circle cx="894" cy="1236" r="6"/><circle cx="245" cy="1148" r="6"/><circle cx="879" cy="1205" r="6"/><circle cx="862" cy="1112" r="6"/><circle cx="203" cy="1149" r="6"/><circle cx="903" cy="992" r="6"/><circle cx="946" cy="1242" r="6"/><circle cx="867" cy="1273" r="6"/><circle cx="745" cy="1091" r="6"/><circle cx="895" cy="1313" r="6"/><circle cx="430" cy="1354" r="6"/><circle cx="916" cy="1183" r="6"/><circle cx="194" cy="1202" r="6"/><circle cx="417" cy="886" r="6"/><circle cx="391" cy="1216" r="6"/><circle cx="896" cy="1283" r="6"/><circle cx="281" cy="1120" r="6"/><circle cx="259" cy="1183" r="6"/><circle cx="974" cy="1207" r="6"/><circle cx="676" cy="861" r="6"/><circle cx="264" cy="1204" r="6"/><circle cx="445" cy="1345" r="6"/><circle cx="466" cy="1447" r="6"/><circle cx="450" cy="1448" r="6"/><circle cx="906" cy="1244" r="6"/><circle cx="564" cy="1038" r="6"/><circle cx="909" cy="1313" r="6"/><circle cx="897" cy="1200" r="6"/><circle cx="888" cy="1230" r="6"/><circle cx="794" cy="1102" r="6"/><circle cx="865" cy="1184" r="6"/><circle cx="371" cy="1114" r="6"/><circle cx="408" cy="1343" r="6"/><circle cx="897" cy="1293" r="6"/><circle cx="424" cy="1324" r="6"/><circle cx="920" cy="1240" r="6"/><circle cx="643" cy="870" r="6"/><circle cx="968" cy="1343" r="6"/><circle cx="468" cy="1356" r="6"/><circle cx="827" cy="1301" r="6"/><circle cx="751" cy="906" r="6"/><circle cx="929" cy="1302" r="6"/><circle cx="961" cy="1340" r="6"/><circle cx="383" cy="1215" r="6"/></g>
<g fill="#6e9fd0" fill-opacity=".72" stroke="#6e9fd0" stroke-opacity=".5" stroke-width="1.2"><circle cx="867" cy="1027" r="6"/><circle cx="757" cy="891" r="6"/><circle cx="724" cy="923" r="6"/><circle cx="797" cy="1068" r="6"/><circle cx="374" cy="1256" r="6"/><circle cx="891" cy="1327" r="6"/><circle cx="819" cy="1297" r="6"/><circle cx="425" cy="1337" r="6"/><circle cx="851" cy="1274" r="6"/><circle cx="826" cy="1247" r="6"/><circle cx="883" cy="1179" r="6"/><circle cx="371" cy="1236" r="6"/><circle cx="330" cy="1208" r="6"/><circle cx="901" cy="1190" r="6"/><circle cx="834" cy="1221" r="6"/><circle cx="480" cy="898" r="6"/><circle cx="456" cy="1401" r="6"/><circle cx="390" cy="1229" r="6"/><circle cx="962" cy="1213" r="6"/><circle cx="448" cy="1332" r="6"/><circle cx="877" cy="1330" r="6"/><circle cx="416" cy="1340" r="6"/><circle cx="486" cy="1458" r="6"/><circle cx="880" cy="980" r="6"/><circle cx="458" cy="1407" r="6"/><circle cx="340" cy="864" r="6"/><circle cx="821" cy="1194" r="6"/><circle cx="817" cy="1293" r="6"/><circle cx="928" cy="1243" r="6"/><circle cx="895" cy="1324" r="6"/><circle cx="463" cy="1354" r="6"/><circle cx="813" cy="1286" r="6"/><circle cx="957" cy="1204" r="6"/><circle cx="760" cy="898" r="6"/><circle cx="870" cy="1188" r="6"/><circle cx="278" cy="980" r="6"/><circle cx="835" cy="1158" r="6"/><circle cx="369" cy="1232" r="6"/><circle cx="806" cy="1139" r="6"/><circle cx="811" cy="1163" r="6"/><circle cx="850" cy="1313" r="6"/><circle cx="392" cy="875" r="6"/><circle cx="275" cy="1133" r="6"/><circle cx="371" cy="1263" r="6"/><circle cx="959" cy="1217" r="6"/><circle cx="920" cy="1332" r="6"/></g>
<g fill="#e992cc" fill-opacity=".72" stroke="#e992cc" stroke-opacity=".5" stroke-width="1.2"><circle cx="949" cy="1347" r="6"/><circle cx="348" cy="878" r="6"/><circle cx="337" cy="1206" r="6"/><circle cx="416" cy="1283" r="6"/><circle cx="671" cy="922" r="6"/><circle cx="836" cy="1221" r="6"/><circle cx="399" cy="881" r="6"/><circle cx="445" cy="883" r="6"/><circle cx="881" cy="1226" r="6"/><circle cx="283" cy="973" r="6"/><circle cx="802" cy="1142" r="6"/><circle cx="456" cy="1378" r="6"/><circle cx="863" cy="1018" r="6"/><circle cx="241" cy="1151" r="6"/><circle cx="754" cy="1067" r="6"/><circle cx="895" cy="1269" r="6"/><circle cx="280" cy="1219" r="6"/><circle cx="270" cy="1208" r="6"/><circle cx="431" cy="1317" r="6"/><circle cx="387" cy="1217" r="6"/><circle cx="346" cy="1221" r="6"/><circle cx="888" cy="1193" r="6"/><circle cx="452" cy="1343" r="6"/><circle cx="949" cy="1306" r="6"/><circle cx="362" cy="872" r="6"/><circle cx="838" cy="1241" r="6"/><circle cx="348" cy="1227" r="6"/><circle cx="218" cy="1192" r="6"/><circle cx="267" cy="1215" r="6"/><circle cx="288" cy="1124" r="6"/><circle cx="323" cy="1244" r="6"/><circle cx="921" cy="995" r="6"/><circle cx="888" cy="1207" r="6"/><circle cx="435" cy="1393" r="6"/><circle cx="749" cy="883" r="6"/><circle cx="262" cy="983" r="6"/><circle cx="880" cy="1306" r="6"/></g>
<g fill="#a98bd0" fill-opacity=".72" stroke="#a98bd0" stroke-opacity=".5" stroke-width="1.2"><circle cx="564" cy="1050" r="6"/><circle cx="791" cy="1079" r="6"/><circle cx="470" cy="1304" r="6"/><circle cx="408" cy="880" r="6"/><circle cx="380" cy="1247" r="6"/><circle cx="206" cy="1187" r="6"/><circle cx="425" cy="901" r="6"/><circle cx="195" cy="1163" r="6"/><circle cx="266" cy="1172" r="6"/><circle cx="886" cy="1196" r="6"/><circle cx="290" cy="1199" r="6"/><circle cx="855" cy="1230" r="6"/><circle cx="247" cy="1139" r="6"/><circle cx="956" cy="1339" r="6"/><circle cx="774" cy="1116" r="6"/><circle cx="342" cy="885" r="6"/><circle cx="345" cy="1207" r="6"/><circle cx="786" cy="1094" r="6"/><circle cx="429" cy="877" r="6"/><circle cx="419" cy="1377" r="6"/><circle cx="161" cy="1149" r="6"/><circle cx="859" cy="1224" r="6"/><circle cx="450" cy="897" r="6"/><circle cx="456" cy="1371" r="6"/><circle cx="457" cy="1404" r="6"/><circle cx="926" cy="1195" r="6"/><circle cx="205" cy="1223" r="6"/><circle cx="173" cy="1173" r="6"/><circle cx="245" cy="1128" r="6"/><circle cx="945" cy="1317" r="6"/><circle cx="286" cy="1172" r="6"/><circle cx="340" cy="1122" r="6"/><circle cx="451" cy="1370" r="6"/><circle cx="277" cy="974" r="6"/><circle cx="437" cy="1372" r="6"/><circle cx="477" cy="1317" r="6"/><circle cx="360" cy="871" r="6"/><circle cx="814" cy="1149" r="6"/><circle cx="287" cy="1176" r="6"/><circle cx="377" cy="1266" r="6"/><circle cx="310" cy="1250" r="6"/><circle cx="218" cy="1178" r="6"/><circle cx="468" cy="1445" r="6"/><circle cx="445" cy="919" r="6"/><circle cx="264" cy="1206" r="6"/><circle cx="484" cy="1449" r="6"/><circle cx="401" cy="900" r="6"/><circle cx="198" cy="1154" r="6"/><circle cx="838" cy="1048" r="6"/><circle cx="753" cy="898" r="6"/><circle cx="194" cy="1198" r="6"/><circle cx="915" cy="1233" r="6"/><circle cx="769" cy="1079" r="6"/></g>
<g fill="#a0706a" fill-opacity=".72" stroke="#a0706a" stroke-opacity=".5" stroke-width="1.2"><circle cx="384" cy="1255" r="6"/><circle cx="532" cy="1035" r="6"/><circle cx="376" cy="1281" r="6"/><circle cx="703" cy="874" r="6"/><circle cx="461" cy="1391" r="6"/><circle cx="443" cy="1393" r="6"/><circle cx="414" cy="1224" r="6"/><circle cx="866" cy="1306" r="6"/><circle cx="445" cy="1337" r="6"/><circle cx="962" cy="1301" r="6"/><circle cx="177" cy="1160" r="6"/><circle cx="520" cy="1034" r="6"/><circle cx="905" cy="1178" r="6"/><circle cx="892" cy="959" r="6"/><circle cx="930" cy="1339" r="6"/><circle cx="293" cy="1128" r="6"/><circle cx="285" cy="1242" r="6"/><circle cx="945" cy="1195" r="6"/><circle cx="674" cy="925" r="6"/><circle cx="255" cy="1166" r="6"/><circle cx="714" cy="876" r="6"/><circle cx="826" cy="1281" r="6"/><circle cx="485" cy="1352" r="6"/><circle cx="460" cy="1326" r="6"/><circle cx="218" cy="1186" r="6"/><circle cx="339" cy="1121" r="6"/><circle cx="427" cy="1336" r="6"/><circle cx="264" cy="1220" r="6"/><circle cx="383" cy="1314" r="6"/><circle cx="208" cy="1185" r="6"/><circle cx="830" cy="1235" r="6"/><circle cx="234" cy="1223" r="6"/></g>
<g fill="#a98bd0" fill-opacity=".72" stroke="#a98bd0" stroke-opacity=".5" stroke-width="1.2"><circle cx="765" cy="1102" r="6"/><circle cx="408" cy="1359" r="6"/><circle cx="356" cy="1117" r="6"/><circle cx="212" cy="1228" r="6"/><circle cx="893" cy="1188" r="6"/><circle cx="848" cy="1373" r="6"/><circle cx="433" cy="1306" r="6"/><circle cx="736" cy="901" r="6"/><circle cx="416" cy="877" r="6"/><circle cx="915" cy="997" r="6"/><circle cx="927" cy="1278" r="6"/><circle cx="419" cy="1369" r="6"/><circle cx="549" cy="1039" r="6"/><circle cx="177" cy="1213" r="6"/><circle cx="820" cy="1108" r="6"/><circle cx="325" cy="1244" r="6"/><circle cx="273" cy="1141" r="6"/><circle cx="877" cy="1261" r="6"/><circle cx="210" cy="1145" r="6"/><circle cx="437" cy="1292" r="6"/><circle cx="265" cy="1129" r="6"/><circle cx="870" cy="1297" r="6"/><circle cx="938" cy="1276" r="6"/><circle cx="479" cy="1326" r="6"/><circle cx="465" cy="1404" r="6"/><circle cx="668" cy="866" r="6"/><circle cx="459" cy="886" r="6"/><circle cx="383" cy="1265" r="6"/><circle cx="456" cy="1373" r="6"/><circle cx="938" cy="1271" r="6"/><circle cx="882" cy="1316" r="6"/><circle cx="825" cy="1291" r="6"/><circle cx="360" cy="1218" r="6"/><circle cx="844" cy="1289" r="6"/><circle cx="402" cy="1260" r="6"/><circle cx="360" cy="896" r="6"/><circle cx="964" cy="1309" r="6"/><circle cx="182" cy="1174" r="6"/><circle cx="838" cy="1248" r="6"/><circle cx="442" cy="1450" r="6"/><circle cx="392" cy="866" r="6"/><circle cx="457" cy="1456" r="6"/><circle cx="884" cy="1231" r="6"/><circle cx="912" cy="1261" r="6"/><circle cx="940" cy="1310" r="6"/><circle cx="753" cy="1017" r="6"/></g>
<g fill="#ea5f56" fill-opacity=".72" stroke="#ea5f56" stroke-opacity=".5" stroke-width="1.2"><circle cx="185" cy="1171" r="6"/><circle cx="949" cy="1332" r="6"/><circle cx="226" cy="1218" r="6"/><circle cx="775" cy="986" r="6"/><circle cx="872" cy="1008" r="6"/><circle cx="493" cy="1322" r="6"/><circle cx="430" cy="1344" r="6"/><circle cx="346" cy="1119" r="6"/><circle cx="867" cy="1003" r="6"/><circle cx="256" cy="1203" r="6"/><circle cx="766" cy="1005" r="6"/><circle cx="951" cy="1211" r="6"/><circle cx="899" cy="995" r="6"/><circle cx="469" cy="1317" r="6"/><circle cx="911" cy="1198" r="6"/><circle cx="266" cy="1141" r="6"/><circle cx="341" cy="879" r="6"/><circle cx="365" cy="873" r="6"/><circle cx="387" cy="1275" r="6"/><circle cx="227" cy="1179" r="6"/><circle cx="287" cy="1149" r="6"/><circle cx="213" cy="1149" r="6"/><circle cx="930" cy="1297" r="6"/><circle cx="801" cy="993" r="6"/><circle cx="894" cy="963" r="6"/><circle cx="383" cy="1242" r="6"/><circle cx="848" cy="1211" r="6"/><circle cx="399" cy="1236" r="6"/><circle cx="248" cy="1130" r="6"/><circle cx="174" cy="1155" r="6"/><circle cx="383" cy="1274" r="6"/><circle cx="842" cy="1149" r="6"/><circle cx="348" cy="896" r="6"/><circle cx="901" cy="1313" r="6"/><circle cx="826" cy="1190" r="6"/><circle cx="219" cy="1144" r="6"/><circle cx="489" cy="1348" r="6"/><circle cx="326" cy="874" r="6"/><circle cx="181" cy="1167" r="6"/><circle cx="403" cy="1365" r="6"/><circle cx="281" cy="1123" r="6"/><circle cx="284" cy="1156" r="6"/><circle cx="947" cy="1340" r="6"/><circle cx="250" cy="1164" r="6"/><circle cx="939" cy="1211" r="6"/><circle cx="471" cy="1375" r="6"/><circle cx="436" cy="1481" r="6"/><circle cx="483" cy="1336" r="6"/><circle cx="292" cy="1203" r="6"/><circle cx="898" cy="1189" r="6"/><circle cx="436" cy="1338" r="6"/><circle cx="807" cy="1146" r="6"/><circle cx="361" cy="1238" r="6"/><circle cx="869" cy="1384" r="6"/><circle cx="437" cy="907" r="6"/><circle cx="905" cy="1014" r="6"/><circle cx="391" cy="1277" r="6"/><circle cx="865" cy="1110" r="6"/></g>
<g fill="#fb9c45" fill-opacity=".72" stroke="#fb9c45" stroke-opacity=".5" stroke-width="1.2"><circle cx="241" cy="1170" r="6"/><circle cx="328" cy="1252" r="6"/><circle cx="789" cy="1095" r="6"/><circle cx="887" cy="1321" r="6"/><circle cx="938" cy="1188" r="6"/><circle cx="215" cy="1183" r="6"/><circle cx="470" cy="1497" r="6"/><circle cx="760" cy="1083" r="6"/><circle cx="392" cy="1272" r="6"/><circle cx="324" cy="869" r="6"/><circle cx="902" cy="1294" r="6"/><circle cx="642" cy="880" r="6"/><circle cx="879" cy="962" r="6"/><circle cx="334" cy="885" r="6"/><circle cx="717" cy="883" r="6"/><circle cx="456" cy="886" r="6"/><circle cx="428" cy="878" r="6"/><circle cx="187" cy="1184" r="6"/><circle cx="855" cy="1240" r="6"/><circle cx="431" cy="1220" r="6"/><circle cx="987" cy="1383" r="6"/><circle cx="430" cy="892" r="6"/><circle cx="214" cy="1158" r="6"/><circle cx="466" cy="1497" r="6"/><circle cx="475" cy="1490" r="6"/><circle cx="464" cy="1474" r="6"/><circle cx="442" cy="1494" r="6"/><circle cx="916" cy="1270" r="6"/><circle cx="436" cy="1468" r="6"/><circle cx="458" cy="899" r="6"/><circle cx="914" cy="1324" r="6"/><circle cx="891" cy="1324" r="6"/><circle cx="191" cy="1155" r="6"/><circle cx="438" cy="1497" r="6"/><circle cx="826" cy="1179" r="6"/><circle cx="426" cy="884" r="6"/><circle cx="478" cy="1330" r="6"/><circle cx="184" cy="1164" r="6"/><circle cx="305" cy="1215" r="6"/><circle cx="812" cy="1190" r="6"/><circle cx="261" cy="1201" r="6"/><circle cx="970" cy="1352" r="6"/><circle cx="466" cy="1483" r="6"/><circle cx="951" cy="1352" r="6"/><circle cx="452" cy="1472" r="6"/><circle cx="767" cy="987" r="6"/><circle cx="904" cy="964" r="6"/><circle cx="367" cy="1219" r="6"/><circle cx="449" cy="1462" r="6"/><circle cx="302" cy="1239" r="6"/><circle cx="421" cy="880" r="6"/><circle cx="421" cy="1452" r="6"/><circle cx="364" cy="861" r="6"/><circle cx="427" cy="1314" r="6"/><circle cx="860" cy="1259" r="6"/><circle cx="718" cy="892" r="6"/><circle cx="839" cy="1172" r="6"/><circle cx="889" cy="1181" r="6"/></g>
<g fill="#6e9fd0" fill-opacity=".72" stroke="#6e9fd0" stroke-opacity=".5" stroke-width="1.2"><circle cx="849" cy="1302" r="6"/><circle cx="782" cy="1086" r="6"/><circle cx="465" cy="1341" r="6"/><circle cx="908" cy="1279" r="6"/><circle cx="454" cy="1347" r="6"/><circle cx="175" cy="1186" r="6"/><circle cx="487" cy="1328" r="6"/><circle cx="823" cy="1293" r="6"/><circle cx="845" cy="1255" r="6"/><circle cx="329" cy="1205" r="6"/><circle cx="822" cy="1223" r="6"/><circle cx="467" cy="910" r="6"/><circle cx="255" cy="1152" r="6"/><circle cx="561" cy="1045" r="6"/><circle cx="431" cy="1389" r="6"/><circle cx="404" cy="891" r="6"/><circle cx="476" cy="1496" r="6"/><circle cx="281" cy="1246" r="6"/><circle cx="285" cy="1168" r="6"/><circle cx="700" cy="871" r="6"/><circle cx="268" cy="1164" r="6"/><circle cx="932" cy="1242" r="6"/><circle cx="452" cy="1319" r="6"/><circle cx="1087" cy="1032" r="6"/><circle cx="460" cy="1397" r="6"/><circle cx="848" cy="1283" r="6"/><circle cx="908" cy="969" r="6"/><circle cx="528" cy="1040" r="6"/><circle cx="287" cy="1210" r="6"/><circle cx="517" cy="1032" r="6"/><circle cx="866" cy="1203" r="6"/><circle cx="244" cy="1166" r="6"/><circle cx="394" cy="871" r="6"/><circle cx="722" cy="892" r="6"/><circle cx="382" cy="867" r="6"/><circle cx="845" cy="1310" r="6"/><circle cx="905" cy="1235" r="6"/><circle cx="866" cy="1234" r="6"/></g>
<g fill="#68bf5a" fill-opacity=".72" stroke="#68bf5a" stroke-opacity=".5" stroke-width="1.2"><circle cx="836" cy="1177" r="6"/><circle cx="659" cy="852" r="6"/><circle cx="446" cy="1304" r="6"/><circle cx="900" cy="1018" r="6"/><circle cx="475" cy="1352" r="6"/><circle cx="356" cy="1250" r="6"/><circle cx="178" cy="1209" r="6"/><circle cx="291" cy="1245" r="6"/><circle cx="445" cy="1447" r="6"/><circle cx="872" cy="1294" r="6"/><circle cx="891" cy="1260" r="6"/><circle cx="384" cy="1293" r="6"/><circle cx="366" cy="1277" r="6"/><circle cx="857" cy="1206" r="6"/><circle cx="422" cy="1335" r="6"/><circle cx="956" cy="1347" r="6"/><circle cx="934" cy="1212" r="6"/><circle cx="780" cy="989" r="6"/><circle cx="209" cy="1218" r="6"/><circle cx="935" cy="1282" r="6"/><circle cx="654" cy="872" r="6"/><circle cx="789" cy="1061" r="6"/><circle cx="891" cy="1011" r="6"/><circle cx="758" cy="901" r="6"/><circle cx="396" cy="886" r="6"/><circle cx="802" cy="1134" r="6"/><circle cx="342" cy="906" r="6"/><circle cx="190" cy="1182" r="6"/><circle cx="874" cy="1300" r="6"/><circle cx="182" cy="1184" r="6"/><circle cx="869" cy="1322" r="6"/><circle cx="879" cy="1268" r="6"/><circle cx="182" cy="1215" r="6"/><circle cx="874" cy="955" r="6"/><circle cx="866" cy="1322" r="6"/><circle cx="396" cy="1266" r="6"/><circle cx="486" cy="1456" r="6"/><circle cx="151" cy="1156" r="6"/><circle cx="402" cy="1346" r="6"/><circle cx="841" cy="1166" r="6"/><circle cx="791" cy="1141" r="6"/><circle cx="636" cy="1141" r="6"/><circle cx="479" cy="1218" r="6"/><circle cx="288" cy="1179" r="6"/><circle cx="376" cy="1289" r="6"/><circle cx="228" cy="1141" r="6"/><circle cx="909" cy="979" r="6"/><circle cx="164" cy="1202" r="6"/><circle cx="440" cy="1327" r="6"/><circle cx="279" cy="1243" r="6"/><circle cx="977" cy="1372" r="6"/><circle cx="217" cy="1228" r="6"/><circle cx="292" cy="1232" r="6"/><circle cx="415" cy="1349" r="6"/><circle cx="194" cy="1211" r="6"/><circle cx="752" cy="1077" r="6"/><circle cx="465" cy="1347" r="6"/><circle cx="933" cy="1227" r="6"/><circle cx="471" cy="1366" r="6"/><circle cx="857" cy="1265" r="6"/></g>
<g fill="#e992cc" fill-opacity=".72" stroke="#e992cc" stroke-opacity=".5" stroke-width="1.2"><circle cx="947" cy="1202" r="6"/><circle cx="942" cy="1346" r="6"/><circle cx="418" cy="1391" r="6"/><circle cx="845" cy="1215" r="6"/><circle cx="900" cy="1009" r="6"/><circle cx="724" cy="1086" r="6"/><circle cx="813" cy="1106" r="6"/><circle cx="285" cy="1146" r="6"/><circle cx="406" cy="1375" r="6"/><circle cx="876" cy="1326" r="6"/><circle cx="928" cy="1338" r="6"/><circle cx="930" cy="1323" r="6"/><circle cx="675" cy="867" r="6"/><circle cx="904" cy="1217" r="6"/><circle cx="433" cy="887" r="6"/><circle cx="920" cy="1290" r="6"/><circle cx="898" cy="1193" r="6"/><circle cx="158" cy="1185" r="6"/><circle cx="249" cy="1215" r="6"/><circle cx="929" cy="1224" r="6"/><circle cx="872" cy="1188" r="6"/><circle cx="954" cy="1232" r="6"/><circle cx="443" cy="1375" r="6"/><circle cx="398" cy="1233" r="6"/><circle cx="290" cy="1210" r="6"/><circle cx="920" cy="1185" r="6"/><circle cx="817" cy="1148" r="6"/><circle cx="322" cy="1136" r="6"/><circle cx="897" cy="1322" r="6"/><circle cx="239" cy="1161" r="6"/><circle cx="445" cy="1496" r="6"/><circle cx="831" cy="1228" r="6"/><circle cx="284" cy="1192" r="6"/><circle cx="199" cy="1171" r="6"/><circle cx="903" cy="1004" r="6"/><circle cx="396" cy="900" r="6"/><circle cx="491" cy="1325" r="6"/><circle cx="323" cy="1120" r="6"/><circle cx="458" cy="1467" r="6"/></g>
<g fill="#a8a8a8" fill-opacity=".72" stroke="#a8a8a8" stroke-opacity=".5" stroke-width="1.2"><circle cx="881" cy="1016" r="6"/><circle cx="842" cy="1179" r="6"/><circle cx="860" cy="1383" r="6"/><circle cx="813" cy="1059" r="6"/><circle cx="810" cy="1149" r="6"/><circle cx="836" cy="1246" r="6"/><circle cx="815" cy="1169" r="6"/><circle cx="401" cy="1321" r="6"/><circle cx="686" cy="931" r="6"/><circle cx="918" cy="1299" r="6"/><circle cx="903" cy="1286" r="6"/><circle cx="858" cy="1009" r="6"/><circle cx="451" cy="892" r="6"/><circle cx="732" cy="1098" r="6"/><circle cx="227" cy="1215" r="6"/><circle cx="371" cy="1271" r="6"/><circle cx="174" cy="1204" r="6"/><circle cx="849" cy="1244" r="6"/><circle cx="433" cy="1337" r="6"/><circle cx="381" cy="1282" r="6"/><circle cx="280" cy="1137" r="6"/><circle cx="877" cy="1291" r="6"/><circle cx="436" cy="1317" r="6"/><circle cx="460" cy="1339" r="6"/><circle cx="751" cy="998" r="6"/><circle cx="881" cy="1228" r="6"/><circle cx="814" cy="1306" r="6"/><circle cx="405" cy="1282" r="6"/><circle cx="433" cy="1355" r="6"/><circle cx="383" cy="1236" r="6"/><circle cx="422" cy="1285" r="6"/><circle cx="838" cy="1237" r="6"/><circle cx="393" cy="1312" r="6"/><circle cx="859" cy="1015" r="6"/><circle cx="223" cy="1143" r="6"/><circle cx="967" cy="1339" r="6"/><circle cx="828" cy="1273" r="6"/><circle cx="359" cy="903" r="6"/><circle cx="322" cy="1138" r="6"/><circle cx="440" cy="922" r="6"/><circle cx="247" cy="1163" r="6"/><circle cx="927" cy="1316" r="6"/><circle cx="831" cy="1176" r="6"/><circle cx="728" cy="888" r="6"/><circle cx="938" cy="1326" r="6"/><circle cx="529" cy="1040" r="6"/><circle cx="940" cy="1239" r="6"/><circle cx="923" cy="1183" r="6"/><circle cx="433" cy="1365" r="6"/><circle cx="934" cy="1199" r="6"/><circle cx="884" cy="1028" r="6"/></g>
<g fill="#a0706a" fill-opacity=".72" stroke="#a0706a" stroke-opacity=".5" stroke-width="1.2"><circle cx="795" cy="995" r="6"/><circle cx="883" cy="957" r="6"/><circle cx="754" cy="884" r="6"/><circle cx="754" cy="904" r="6"/><circle cx="362" cy="873" r="6"/><circle cx="399" cy="1249" r="6"/><circle cx="291" cy="1220" r="6"/><circle cx="911" cy="1279" r="6"/><circle cx="776" cy="1110" r="6"/><circle cx="851" cy="1249" r="6"/><circle cx="951" cy="1314" r="6"/><circle cx="384" cy="1234" r="6"/><circle cx="414" cy="1318" r="6"/><circle cx="838" cy="1296" r="6"/><circle cx="746" cy="1101" r="6"/><circle cx="864" cy="1029" r="6"/><circle cx="392" cy="864" r="6"/><circle cx="781" cy="982" r="6"/><circle cx="464" cy="1438" r="6"/><circle cx="796" cy="1157" r="6"/><circle cx="961" cy="1217" r="6"/><circle cx="349" cy="1120" r="6"/><circle cx="254" cy="1150" r="6"/><circle cx="333" cy="890" r="6"/><circle cx="182" cy="1162" r="6"/><circle cx="935" cy="1266" r="6"/><circle cx="400" cy="1266" r="6"/><circle cx="787" cy="1077" r="6"/><circle cx="911" cy="1256" r="6"/><circle cx="257" cy="1156" r="6"/><circle cx="241" cy="1220" r="6"/><circle cx="809" cy="1299" r="6"/><circle cx="371" cy="1268" r="6"/><circle cx="334" cy="881" r="6"/><circle cx="838" cy="1047" r="6"/><circle cx="281" cy="1209" r="6"/><circle cx="276" cy="1171" r="6"/><circle cx="799" cy="1129" r="6"/><circle cx="774" cy="1114" r="6"/><circle cx="305" cy="1217" r="6"/><circle cx="401" cy="1277" r="6"/><circle cx="414" cy="1314" r="6"/><circle cx="818" cy="1150" r="6"/><circle cx="922" cy="984" r="6"/><circle cx="920" cy="1233" r="6"/></g>
<g fill="#ea5f56" fill-opacity=".72" stroke="#ea5f56" stroke-opacity=".5" stroke-width="1.2"><circle cx="821" cy="1184" r="6"/><circle cx="861" cy="1182" r="6"/><circle cx="904" cy="1232" r="6"/><circle cx="921" cy="1316" r="6"/><circle cx="852" cy="1184" r="6"/><circle cx="382" cy="1278" r="6"/><circle cx="558" cy="1043" r="6"/><circle cx="891" cy="1001" r="6"/><circle cx="204" cy="1161" r="6"/><circle cx="321" cy="1140" r="6"/><circle cx="861" cy="1310" r="6"/><circle cx="400" cy="1247" r="6"/><circle cx="751" cy="880" r="6"/><circle cx="468" cy="1440" r="6"/><circle cx="428" cy="1463" r="6"/><circle cx="197" cy="1184" r="6"/><circle cx="158" cy="1149" r="6"/><circle cx="189" cy="1161" r="6"/><circle cx="828" cy="1226" r="6"/><circle cx="270" cy="1122" r="6"/><circle cx="883" cy="1190" r="6"/><circle cx="740" cy="916" r="6"/><circle cx="749" cy="910" r="6"/><circle cx="874" cy="1308" r="6"/><circle cx="362" cy="1222" r="6"/><circle cx="820" cy="1162" r="6"/><circle cx="399" cy="1298" r="6"/><circle cx="413" cy="899" r="6"/><circle cx="427" cy="1372" r="6"/><circle cx="861" cy="1289" r="6"/><circle cx="653" cy="856" r="6"/><circle cx="332" cy="1134" r="6"/><circle cx="862" cy="947" r="6"/><circle cx="824" cy="1177" r="6"/><circle cx="902" cy="1266" r="6"/><circle cx="474" cy="1318" r="6"/><circle cx="184" cy="1153" r="6"/><circle cx="236" cy="1193" r="6"/><circle cx="858" cy="1371" r="6"/><circle cx="753" cy="981" r="6"/><circle cx="755" cy="1076" r="6"/><circle cx="179" cy="1173" r="6"/><circle cx="786" cy="1110" r="6"/><circle cx="493" cy="1312" r="6"/><circle cx="868" cy="1278" r="6"/><circle cx="879" cy="1271" r="6"/><circle cx="858" cy="1174" r="6"/><circle cx="940" cy="1337" r="6"/><circle cx="406" cy="1319" r="6"/><circle cx="931" cy="1260" r="6"/><circle cx="905" cy="1188" r="6"/><circle cx="260" cy="1123" r="6"/><circle cx="899" cy="1277" r="6"/><circle cx="489" cy="1305" r="6"/><circle cx="925" cy="1255" r="6"/><circle cx="850" cy="1260" r="6"/><circle cx="920" cy="1285" r="6"/><circle cx="232" cy="1217" r="6"/><circle cx="402" cy="1223" r="6"/><circle cx="809" cy="1305" r="6"/><circle cx="403" cy="1318" r="6"/><circle cx="847" cy="1232" r="6"/><circle cx="392" cy="1300" r="6"/><circle cx="754" cy="893" r="6"/><circle cx="727" cy="886" r="6"/><circle cx="304" cy="1123" r="6"/><circle cx="885" cy="1220" r="6"/><circle cx="283" cy="1119" r="6"/><circle cx="909" cy="975" r="6"/><circle cx="740" cy="1107" r="6"/><circle cx="205" cy="1171" r="6"/><circle cx="867" cy="950" r="6"/><circle cx="857" cy="1232" r="6"/><circle cx="851" cy="1258" r="6"/><circle cx="284" cy="1187" r="6"/></g>
<g fill="#e992cc" fill-opacity=".72" stroke="#e992cc" stroke-opacity=".5" stroke-width="1.2"><circle cx="385" cy="1252" r="6"/><circle cx="430" cy="1395" r="6"/><circle cx="660" cy="868" r="6"/><circle cx="471" cy="1378" r="6"/><circle cx="856" cy="1316" r="6"/><circle cx="434" cy="915" r="6"/><circle cx="673" cy="869" r="6"/><circle cx="674" cy="927" r="6"/><circle cx="865" cy="1036" r="6"/><circle cx="925" cy="1253" r="6"/><circle cx="224" cy="1150" r="6"/><circle cx="897" cy="1234" r="6"/><circle cx="963" cy="1376" r="6"/><circle cx="893" cy="1266" r="6"/><circle cx="901" cy="1320" r="6"/><circle cx="400" cy="878" r="6"/><circle cx="872" cy="1286" r="6"/><circle cx="297" cy="1211" r="6"/><circle cx="762" cy="983" r="6"/><circle cx="246" cy="1170" r="6"/><circle cx="880" cy="1331" r="6"/><circle cx="448" cy="1488" r="6"/><circle cx="430" cy="909" r="6"/><circle cx="352" cy="877" r="6"/><circle cx="444" cy="1312" r="6"/><circle cx="247" cy="1155" r="6"/><circle cx="423" cy="879" r="6"/><circle cx="487" cy="1492" r="6"/><circle cx="637" cy="862" r="6"/><circle cx="789" cy="1115" r="6"/></g>
<g fill="#a98bd0" fill-opacity=".72" stroke="#a98bd0" stroke-opacity=".5" stroke-width="1.2"><circle cx="370" cy="865" r="6"/><circle cx="894" cy="1198" r="6"/><circle cx="879" cy="1311" r="6"/><circle cx="317" cy="1233" r="6"/><circle cx="911" cy="1212" r="6"/><circle cx="900" cy="1297" r="6"/><circle cx="327" cy="1237" r="6"/><circle cx="254" cy="1125" r="6"/><circle cx="799" cy="1165" r="6"/><circle cx="331" cy="1218" r="6"/><circle cx="417" cy="1297" r="6"/><circle cx="434" cy="1220" r="6"/><circle cx="915" cy="1325" r="6"/><circle cx="948" cy="1344" r="6"/><circle cx="893" cy="1226" r="6"/><circle cx="429" cy="872" r="6"/><circle cx="395" cy="1330" r="6"/><circle cx="191" cy="1174" r="6"/><circle cx="449" cy="1458" r="6"/><circle cx="439" cy="1219" r="6"/><circle cx="263" cy="977" r="6"/><circle cx="319" cy="1216" r="6"/><circle cx="884" cy="1289" r="6"/><circle cx="707" cy="1002" r="6"/><circle cx="915" cy="991" r="6"/><circle cx="868" cy="1189" r="6"/><circle cx="751" cy="1111" r="6"/><circle cx="821" cy="1174" r="6"/><circle cx="958" cy="1221" r="6"/><circle cx="391" cy="1233" r="6"/><circle cx="906" cy="1198" r="6"/><circle cx="887" cy="1208" r="6"/><circle cx="869" cy="1110" r="6"/><circle cx="419" cy="1216" r="6"/><circle cx="884" cy="1217" r="6"/><circle cx="749" cy="887" r="6"/><circle cx="430" cy="1328" r="6"/><circle cx="790" cy="1101" r="6"/><circle cx="885" cy="1236" r="6"/><circle cx="755" cy="897" r="6"/><circle cx="894" cy="1328" r="6"/><circle cx="959" cy="1361" r="6"/><circle cx="753" cy="1011" r="6"/><circle cx="443" cy="931" r="6"/><circle cx="216" cy="1141" r="6"/><circle cx="757" cy="988" r="6"/><circle cx="227" cy="1161" r="6"/><circle cx="322" cy="1234" r="6"/><circle cx="304" cy="1210" r="6"/><circle cx="431" cy="1443" r="6"/><circle cx="754" cy="1093" r="6"/><circle cx="823" cy="1248" r="6"/><circle cx="408" cy="1368" r="6"/><circle cx="394" cy="1317" r="6"/><circle cx="832" cy="1286" r="6"/><circle cx="267" cy="1154" r="6"/><circle cx="712" cy="875" r="6"/></g>
<g fill="#a8a8a8" fill-opacity=".72" stroke="#a8a8a8" stroke-opacity=".5" stroke-width="1.2"><circle cx="418" cy="1281" r="6"/><circle cx="486" cy="1351" r="6"/><circle cx="333" cy="869" r="6"/><circle cx="262" cy="1231" r="6"/><circle cx="365" cy="1233" r="6"/><circle cx="333" cy="897" r="6"/><circle cx="771" cy="1086" r="6"/><circle cx="362" cy="866" r="6"/><circle cx="373" cy="1242" r="6"/><circle cx="975" cy="1284" r="6"/><circle cx="959" cy="1329" r="6"/><circle cx="366" cy="1242" r="6"/><circle cx="771" cy="1091" r="6"/><circle cx="398" cy="1222" r="6"/><circle cx="266" cy="1134" r="6"/><circle cx="868" cy="1227" r="6"/><circle cx="930" cy="1204" r="6"/><circle cx="159" cy="1167" r="6"/><circle cx="832" cy="1160" r="6"/><circle cx="869" cy="1017" r="6"/><circle cx="312" cy="1197" r="6"/><circle cx="914" cy="1266" r="6"/><circle cx="455" cy="1486" r="6"/><circle cx="964" cy="1310" r="6"/><circle cx="861" cy="1379" r="6"/><circle cx="883" cy="1292" r="6"/><circle cx="462" cy="1310" r="6"/><circle cx="824" cy="1170" r="6"/><circle cx="479" cy="1332" r="6"/><circle cx="396" cy="1268" r="6"/><circle cx="931" cy="1267" r="6"/><circle cx="189" cy="1148" r="6"/><circle cx="826" cy="1242" r="6"/><circle cx="970" cy="1359" r="6"/><circle cx="294" cy="1212" r="6"/><circle cx="231" cy="1175" r="6"/><circle cx="434" cy="1219" r="6"/><circle cx="262" cy="1197" r="6"/><circle cx="337" cy="1213" r="6"/><circle cx="424" cy="1359" r="6"/><circle cx="341" cy="912" r="6"/><circle cx="467" cy="1326" r="6"/><circle cx="258" cy="1135" r="6"/><circle cx="864" cy="1244" r="6"/><circle cx="745" cy="1082" r="6"/><circle cx="813" cy="1175" r="6"/></g>
<g fill="#68bf5a" fill-opacity=".72" stroke="#68bf5a" stroke-opacity=".5" stroke-width="1.2"><circle cx="857" cy="1245" r="6"/><circle cx="399" cy="1352" r="6"/><circle cx="836" cy="1315" r="6"/><circle cx="198" cy="1223" r="6"/><circle cx="471" cy="1303" r="6"/><circle cx="280" cy="1248" r="6"/><circle cx="920" cy="1314" r="6"/><circle cx="921" cy="994" r="6"/><circle cx="824" cy="1288" r="6"/><circle cx="307" cy="1137" r="6"/><circle cx="251" cy="1179" r="6"/><circle cx="859" cy="1384" r="6"/><circle cx="434" cy="921" r="6"/><circle cx="828" cy="1221" r="6"/><circle cx="468" cy="1445" r="6"/><circle cx="399" cy="1245" r="6"/><circle cx="306" cy="1129" r="6"/><circle cx="250" cy="1152" r="6"/><circle cx="472" cy="933" r="6"/><circle cx="833" cy="1233" r="6"/><circle cx="736" cy="889" r="6"/><circle cx="413" cy="1366" r="6"/><circle cx="309" cy="1140" r="6"/><circle cx="942" cy="1306" r="6"/><circle cx="637" cy="870" r="6"/><circle cx="257" cy="1212" r="6"/><circle cx="217" cy="1223" r="6"/><circle cx="318" cy="1238" r="6"/><circle cx="295" cy="1151" r="6"/><circle cx="926" cy="1240" r="6"/><circle cx="854" cy="1218" r="6"/><circle cx="406" cy="1389" r="6"/><circle cx="435" cy="1452" r="6"/><circle cx="271" cy="1245" r="6"/><circle cx="461" cy="909" r="6"/><circle cx="884" cy="1198" r="6"/><circle cx="948" cy="1304" r="6"/><circle cx="847" cy="1386" r="6"/><circle cx="897" cy="982" r="6"/><circle cx="894" cy="1251" r="6"/><circle cx="383" cy="874" r="6"/><circle cx="422" cy="1451" r="6"/><circle cx="838" cy="1198" r="6"/><circle cx="634" cy="1141" r="6"/><circle cx="446" cy="1439" r="6"/><circle cx="322" cy="1250" r="6"/><circle cx="206" cy="1213" r="6"/><circle cx="899" cy="1198" r="6"/><circle cx="484" cy="1356" r="6"/><circle cx="470" cy="1461" r="6"/><circle cx="243" cy="1134" r="6"/><circle cx="291" cy="1253" r="6"/><circle cx="783" cy="1090" r="6"/><circle cx="648" cy="1147" r="6"/><circle cx="449" cy="1447" r="6"/><circle cx="319" cy="1243" r="6"/></g>
<g fill="#6e9fd0" fill-opacity=".72" stroke="#6e9fd0" stroke-opacity=".5" stroke-width="1.2"><circle cx="312" cy="1125" r="6"/><circle cx="470" cy="1368" r="6"/><circle cx="410" cy="896" r="6"/><circle cx="840" cy="1114" r="6"/><circle cx="869" cy="1007" r="6"/><circle cx="447" cy="914" r="6"/><circle cx="890" cy="1247" r="6"/><circle cx="968" cy="1334" r="6"/><circle cx="325" cy="918" r="6"/><circle cx="885" cy="1278" r="6"/><circle cx="823" cy="1301" r="6"/><circle cx="948" cy="1322" r="6"/><circle cx="814" cy="1173" r="6"/><circle cx="885" cy="1258" r="6"/><circle cx="878" cy="1265" r="6"/><circle cx="378" cy="1224" r="6"/><circle cx="527" cy="1038" r="6"/><circle cx="549" cy="1049" r="6"/><circle cx="943" cy="1281" r="6"/><circle cx="415" cy="1371" r="6"/><circle cx="320" cy="1239" r="6"/><circle cx="506" cy="1145" r="6"/><circle cx="832" cy="1273" r="6"/><circle cx="350" cy="1208" r="6"/><circle cx="505" cy="1147" r="6"/><circle cx="464" cy="897" r="6"/><circle cx="962" cy="1351" r="6"/><circle cx="832" cy="1208" r="6"/><circle cx="211" cy="1223" r="6"/><circle cx="934" cy="1269" r="6"/><circle cx="229" cy="1163" r="6"/><circle cx="864" cy="1111" r="6"/><circle cx="790" cy="1067" r="6"/><circle cx="355" cy="869" r="6"/><circle cx="447" cy="883" r="6"/><circle cx="491" cy="1310" r="6"/><circle cx="911" cy="1234" r="6"/><circle cx="386" cy="1296" r="6"/><circle cx="946" cy="1227" r="6"/><circle cx="937" cy="1247" r="6"/><circle cx="814" cy="1310" r="6"/></g>
<g fill="#fb9c45" fill-opacity=".72" stroke="#fb9c45" stroke-opacity=".5" stroke-width="1.2"><circle cx="334" cy="1132" r="6"/><circle cx="330" cy="1233" r="6"/><circle cx="870" cy="1301" r="6"/><circle cx="403" cy="1232" r="6"/><circle cx="406" cy="894" r="6"/><circle cx="974" cy="1362" r="6"/><circle cx="258" cy="1187" r="6"/><circle cx="391" cy="1290" r="6"/><circle cx="772" cy="1000" r="6"/><circle cx="291" cy="1215" r="6"/><circle cx="741" cy="881" r="6"/><circle cx="449" cy="1367" r="6"/><circle cx="480" cy="1490" r="6"/><circle cx="551" cy="1039" r="6"/><circle cx="308" cy="1234" r="6"/><circle cx="377" cy="868" r="6"/><circle cx="272" cy="980" r="6"/><circle cx="967" cy="1370" r="6"/><circle cx="762" cy="908" r="6"/><circle cx="867" cy="1319" r="6"/><circle cx="268" cy="1214" r="6"/><circle cx="451" cy="1486" r="6"/><circle cx="906" cy="1268" r="6"/><circle cx="555" cy="1043" r="6"/><circle cx="311" cy="1194" r="6"/><circle cx="224" cy="1159" r="6"/><circle cx="676" cy="926" r="6"/><circle cx="453" cy="918" r="6"/><circle cx="449" cy="1475" r="6"/><circle cx="871" cy="1225" r="6"/><circle cx="357" cy="1210" r="6"/><circle cx="436" cy="1472" r="6"/><circle cx="495" cy="1454" r="6"/><circle cx="465" cy="1394" r="6"/><circle cx="862" cy="1179" r="6"/><circle cx="429" cy="873" r="6"/><circle cx="431" cy="1324" r="6"/><circle cx="904" cy="1214" r="6"/><circle cx="820" cy="1249" r="6"/><circle cx="437" cy="1480" r="6"/><circle cx="247" cy="1159" r="6"/><circle cx="339" cy="881" r="6"/><circle cx="454" cy="907" r="6"/></g>
<g fill="#a0706a" fill-opacity=".72" stroke="#a0706a" stroke-opacity=".5" stroke-width="1.2"><circle cx="230" cy="1156" r="6"/><circle cx="724" cy="922" r="6"/><circle cx="832" cy="1296" r="6"/><circle cx="947" cy="1311" r="6"/><circle cx="277" cy="1239" r="6"/><circle cx="887" cy="1107" r="6"/><circle cx="337" cy="901" r="6"/><circle cx="851" cy="1305" r="6"/><circle cx="485" cy="1302" r="6"/><circle cx="842" cy="1192" r="6"/><circle cx="399" cy="1295" r="6"/><circle cx="425" cy="1324" r="6"/><circle cx="541" cy="1034" r="6"/><circle cx="298" cy="1194" r="6"/><circle cx="368" cy="1213" r="6"/><circle cx="867" cy="1111" r="6"/><circle cx="948" cy="1328" r="6"/><circle cx="303" cy="1227" r="6"/><circle cx="219" cy="1202" r="6"/><circle cx="377" cy="902" r="6"/><circle cx="846" cy="1230" r="6"/><circle cx="459" cy="1473" r="6"/><circle cx="966" cy="1351" r="6"/><circle cx="353" cy="884" r="6"/><circle cx="940" cy="1244" r="6"/><circle cx="863" cy="1233" r="6"/><circle cx="971" cy="1207" r="6"/><circle cx="361" cy="1224" r="6"/><circle cx="745" cy="994" r="6"/><circle cx="512" cy="1025" r="6"/><circle cx="157" cy="1185" r="6"/><circle cx="766" cy="997" r="6"/><circle cx="642" cy="858" r="6"/><circle cx="190" cy="1164" r="6"/><circle cx="364" cy="1246" r="6"/><circle cx="874" cy="1241" r="6"/><circle cx="783" cy="1101" r="6"/><circle cx="755" cy="918" r="6"/><circle cx="923" cy="1329" r="6"/><circle cx="344" cy="1216" r="6"/><circle cx="422" cy="1384" r="6"/><circle cx="457" cy="1364" r="6"/><circle cx="748" cy="906" r="6"/><circle cx="853" cy="1177" r="6"/><circle cx="644" cy="857" r="6"/><circle cx="247" cy="1209" r="6"/><circle cx="252" cy="1207" r="6"/></g>
<g fill="#6e9fd0" fill-opacity=".72" stroke="#6e9fd0" stroke-opacity=".5" stroke-width="1.2"><circle cx="172" cy="1179" r="6"/><circle cx="904" cy="1325" r="6"/><circle cx="854" cy="1025" r="6"/><circle cx="908" cy="1284" r="6"/><circle cx="928" cy="1303" r="6"/><circle cx="913" cy="1252" r="6"/><circle cx="500" cy="1305" r="6"/><circle cx="764" cy="906" r="6"/><circle cx="831" cy="1216" r="6"/><circle cx="953" cy="1327" r="6"/><circle cx="261" cy="1225" r="6"/><circle cx="340" cy="883" r="6"/><circle cx="768" cy="1086" r="6"/><circle cx="422" cy="1310" r="6"/><circle cx="438" cy="1322" r="6"/><circle cx="340" cy="896" r="6"/><circle cx="336" cy="876" r="6"/><circle cx="507" cy="1146" r="6"/><circle cx="405" cy="1250" r="6"/><circle cx="901" cy="1254" r="6"/><circle cx="685" cy="930" r="6"/><circle cx="909" cy="1215" r="6"/><circle cx="406" cy="1329" r="6"/><circle cx="755" cy="981" r="6"/><circle cx="933" cy="1206" r="6"/><circle cx="381" cy="864" r="6"/><circle cx="928" cy="1200" r="6"/><circle cx="282" cy="1235" r="6"/><circle cx="293" cy="1125" r="6"/><circle cx="289" cy="1130" r="6"/><circle cx="453" cy="1480" r="6"/><circle cx="907" cy="1293" r="6"/><circle cx="863" cy="1277" r="6"/><circle cx="438" cy="927" r="6"/><circle cx="856" cy="1225" r="6"/><circle cx="852" cy="1319" r="6"/><circle cx="455" cy="1299" r="6"/><circle cx="390" cy="879" r="6"/><circle cx="248" cy="1129" r="6"/><circle cx="964" cy="1209" r="6"/><circle cx="922" cy="1302" r="6"/><circle cx="884" cy="1309" r="6"/><circle cx="893" cy="1192" r="6"/></g>
<g fill="#e992cc" fill-opacity=".72" stroke="#e992cc" stroke-opacity=".5" stroke-width="1.2"><circle cx="908" cy="1257" r="6"/><circle cx="907" cy="982" r="6"/><circle cx="407" cy="870" r="6"/><circle cx="794" cy="1147" r="6"/><circle cx="886" cy="1218" r="6"/><circle cx="936" cy="1342" r="6"/><circle cx="911" cy="1242" r="6"/><circle cx="862" cy="1306" r="6"/><circle cx="792" cy="999" r="6"/><circle cx="646" cy="880" r="6"/><circle cx="924" cy="1320" r="6"/><circle cx="933" cy="1201" r="6"/><circle cx="184" cy="1167" r="6"/><circle cx="908" cy="1273" r="6"/><circle cx="291" cy="1124" r="6"/><circle cx="803" cy="998" r="6"/><circle cx="421" cy="1338" r="6"/><circle cx="783" cy="994" r="6"/><circle cx="650" cy="857" r="6"/><circle cx="924" cy="1198" r="6"/><circle cx="853" cy="1202" r="6"/><circle cx="384" cy="1289" r="6"/><circle cx="796" cy="990" r="6"/><circle cx="890" cy="1021" r="6"/><circle cx="261" cy="978" r="6"/><circle cx="829" cy="1051" r="6"/><circle cx="898" cy="1279" r="6"/><circle cx="889" cy="1311" r="6"/><circle cx="801" cy="999" r="6"/><circle cx="833" cy="1191" r="6"/><circle cx="450" cy="900" r="6"/><circle cx="868" cy="1201" r="6"/><circle cx="837" cy="1182" r="6"/><circle cx="205" cy="1153" r="6"/><circle cx="439" cy="926" r="6"/><circle cx="924" cy="1244" r="6"/><circle cx="217" cy="1182" r="6"/><circle cx="496" cy="1305" r="6"/></g>
<g fill="#a8a8a8" fill-opacity=".72" stroke="#a8a8a8" stroke-opacity=".5" stroke-width="1.2"><circle cx="695" cy="870" r="6"/><circle cx="878" cy="1277" r="6"/><circle cx="428" cy="1338" r="6"/><circle cx="427" cy="1305" r="6"/><circle cx="890" cy="1193" r="6"/><circle cx="784" cy="1130" r="6"/><circle cx="238" cy="1221" r="6"/><circle cx="301" cy="1235" r="6"/><circle cx="305" cy="1142" r="6"/><circle cx="880" cy="1319" r="6"/><circle cx="480" cy="1336" r="6"/><circle cx="266" cy="1218" r="6"/><circle cx="924" cy="1251" r="6"/><circle cx="670" cy="862" r="6"/><circle cx="757" cy="1009" r="6"/><circle cx="459" cy="1490" r="6"/><circle cx="886" cy="1241" r="6"/><circle cx="836" cy="1238" r="6"/><circle cx="819" cy="1298" r="6"/><circle cx="461" cy="1397" r="6"/><circle cx="910" cy="1287" r="6"/><circle cx="422" cy="1326" r="6"/><circle cx="449" cy="1338" r="6"/><circle cx="353" cy="1256" r="6"/><circle cx="855" cy="1269" r="6"/><circle cx="379" cy="1323" r="6"/><circle cx="218" cy="1206" r="6"/><circle cx="938" cy="1191" r="6"/><circle cx="943" cy="1192" r="6"/><circle cx="679" cy="868" r="6"/><circle cx="290" cy="1239" r="6"/><circle cx="873" cy="1291" r="6"/><circle cx="697" cy="871" r="6"/><circle cx="748" cy="1088" r="6"/><circle cx="905" cy="1277" r="6"/><circle cx="782" cy="1002" r="6"/><circle cx="934" cy="1316" r="6"/><circle cx="849" cy="1203" r="6"/><circle cx="236" cy="1149" r="6"/><circle cx="875" cy="1010" r="6"/><circle cx="285" cy="1172" r="6"/></g>
<g fill="#a0706a" fill-opacity=".72" stroke="#a0706a" stroke-opacity=".5" stroke-width="1.2"><circle cx="739" cy="1097" r="6"/><circle cx="889" cy="1273" r="6"/><circle cx="303" cy="1233" r="6"/><circle cx="194" cy="1185" r="6"/><circle cx="399" cy="1348" r="6"/><circle cx="237" cy="1191" r="6"/><circle cx="729" cy="881" r="6"/><circle cx="757" cy="914" r="6"/><circle cx="654" cy="884" r="6"/><circle cx="453" cy="903" r="6"/><circle cx="409" cy="891" r="6"/><circle cx="861" cy="1016" r="6"/><circle cx="254" cy="1163" r="6"/><circle cx="496" cy="1220" r="6"/><circle cx="833" cy="1256" r="6"/><circle cx="440" cy="1467" r="6"/><circle cx="830" cy="1279" r="6"/><circle cx="385" cy="901" r="6"/><circle cx="866" cy="1311" r="6"/><circle cx="453" cy="908" r="6"/><circle cx="839" cy="1228" r="6"/><circle cx="920" cy="1271" r="6"/><circle cx="898" cy="1285" r="6"/><circle cx="816" cy="1179" r="6"/><circle cx="280" cy="1197" r="6"/><circle cx="447" cy="922" r="6"/><circle cx="430" cy="883" r="6"/><circle cx="820" cy="1212" r="6"/><circle cx="860" cy="1020" r="6"/><circle cx="781" cy="1127" r="6"/><circle cx="243" cy="1186" r="6"/><circle cx="185" cy="1220" r="6"/><circle cx="432" cy="1378" r="6"/><circle cx="634" cy="864" r="6"/><circle cx="267" cy="1192" r="6"/><circle cx="796" cy="994" r="6"/><circle cx="824" cy="1246" r="6"/><circle cx="470" cy="1219" r="6"/><circle cx="902" cy="1327" r="6"/></g>
<g fill="#68bf5a" fill-opacity=".72" stroke="#68bf5a" stroke-opacity=".5" stroke-width="1.2"><circle cx="176" cy="1207" r="6"/><circle cx="758" cy="1077" r="6"/><circle cx="363" cy="1122" r="6"/><circle cx="841" cy="1300" r="6"/><circle cx="898" cy="1310" r="6"/><circle cx="418" cy="1356" r="6"/><circle cx="324" cy="1126" r="6"/><circle cx="933" cy="1338" r="6"/><circle cx="209" cy="1176" r="6"/><circle cx="820" cy="1191" r="6"/><circle cx="421" cy="1293" r="6"/><circle cx="476" cy="1301" r="6"/><circle cx="340" cy="1245" r="6"/><circle cx="194" cy="1223" r="6"/><circle cx="370" cy="1262" r="6"/><circle cx="330" cy="1257" r="6"/><circle cx="310" cy="1147" r="6"/><circle cx="328" cy="871" r="6"/><circle cx="407" cy="1381" r="6"/><circle cx="249" cy="1195" r="6"/><circle cx="244" cy="1224" r="6"/><circle cx="376" cy="1292" r="6"/><circle cx="755" cy="1010" r="6"/><circle cx="380" cy="1286" r="6"/><circle cx="931" cy="1282" r="6"/><circle cx="173" cy="1212" r="6"/><circle cx="900" cy="1298" r="6"/><circle cx="829" cy="1312" r="6"/><circle cx="423" cy="1449" r="6"/><circle cx="190" cy="1220" r="6"/><circle cx="425" cy="1434" r="6"/><circle cx="301" cy="1244" r="6"/><circle cx="317" cy="1255" r="6"/><circle cx="891" cy="1330" r="6"/><circle cx="400" cy="1332" r="6"/><circle cx="870" cy="1270" r="6"/><circle cx="928" cy="1287" r="6"/><circle cx="216" cy="1210" r="6"/><circle cx="271" cy="1252" r="6"/><circle cx="282" cy="1179" r="6"/><circle cx="881" cy="1284" r="6"/><circle cx="977" cy="1377" r="6"/><circle cx="651" cy="852" r="6"/><circle cx="826" cy="1232" r="6"/><circle cx="877" cy="1004" r="6"/><circle cx="294" cy="1141" r="6"/><circle cx="407" cy="1338" r="6"/><circle cx="826" cy="1184" r="6"/><circle cx="304" cy="1147" r="6"/><circle cx="248" cy="1204" r="6"/><circle cx="885" cy="1206" r="6"/><circle cx="960" cy="1308" r="6"/><circle cx="941" cy="1345" r="6"/><circle cx="149" cy="1173" r="6"/><circle cx="412" cy="1381" r="6"/><circle cx="859" cy="1281" r="6"/><circle cx="659" cy="879" r="6"/><circle cx="487" cy="1448" r="6"/><circle cx="239" cy="1233" r="6"/><circle cx="421" cy="1295" r="6"/><circle cx="425" cy="1328" r="6"/><circle cx="798" cy="1142" r="6"/><circle cx="367" cy="1281" r="6"/></g>
<g fill="#ea5f56" fill-opacity=".72" stroke="#ea5f56" stroke-opacity=".5" stroke-width="1.2"><circle cx="977" cy="1371" r="6"/><circle cx="854" cy="1210" r="6"/><circle cx="666" cy="864" r="6"/><circle cx="350" cy="906" r="6"/><circle cx="179" cy="1180" r="6"/><circle cx="333" cy="1228" r="6"/><circle cx="433" cy="1382" r="6"/><circle cx="959" cy="1333" r="6"/><circle cx="824" cy="1219" r="6"/><circle cx="903" cy="1018" r="6"/><circle cx="873" cy="1328" r="6"/><circle cx="860" cy="1246" r="6"/><circle cx="872" cy="950" r="6"/><circle cx="327" cy="1207" r="6"/><circle cx="228" cy="1137" r="6"/><circle cx="435" cy="1341" r="6"/><circle cx="865" cy="1195" r="6"/><circle cx="430" cy="1450" r="6"/><circle cx="351" cy="1123" r="6"/><circle cx="380" cy="892" r="6"/><circle cx="903" cy="1323" r="6"/><circle cx="282" cy="1190" r="6"/><circle cx="397" cy="1290" r="6"/><circle cx="269" cy="1193" r="6"/><circle cx="842" cy="1259" r="6"/><circle cx="934" cy="1232" r="6"/><circle cx="635" cy="1142" r="6"/><circle cx="342" cy="1210" r="6"/><circle cx="791" cy="1144" r="6"/><circle cx="839" cy="1183" r="6"/><circle cx="849" cy="938" r="6"/><circle cx="231" cy="1215" r="6"/><circle cx="474" cy="1344" r="6"/><circle cx="941" cy="1283" r="6"/><circle cx="923" cy="1194" r="6"/><circle cx="473" cy="1307" r="6"/><circle cx="872" cy="1261" r="6"/><circle cx="847" cy="1267" r="6"/><circle cx="962" cy="1323" r="6"/><circle cx="373" cy="1226" r="6"/><circle cx="910" cy="1271" r="6"/><circle cx="397" cy="889" r="6"/><circle cx="392" cy="886" r="6"/><circle cx="865" cy="1005" r="6"/><circle cx="826" cy="1186" r="6"/><circle cx="951" cy="1287" r="6"/><circle cx="919" cy="1214" r="6"/><circle cx="885" cy="1260" r="6"/><circle cx="399" cy="877" r="6"/><circle cx="205" cy="1194" r="6"/><circle cx="221" cy="1172" r="6"/><circle cx="206" cy="1207" r="6"/><circle cx="832" cy="1195" r="6"/><circle cx="924" cy="1180" r="6"/><circle cx="936" cy="1199" r="6"/><circle cx="921" cy="1310" r="6"/><circle cx="322" cy="1236" r="6"/><circle cx="274" cy="982" r="6"/><circle cx="291" cy="1183" r="6"/></g>
<g fill="#fb9c45" fill-opacity=".72" stroke="#fb9c45" stroke-opacity=".5" stroke-width="1.2"><circle cx="733" cy="880" r="6"/><circle cx="866" cy="1020" r="6"/><circle cx="964" cy="1356" r="6"/><circle cx="449" cy="1311" r="6"/><circle cx="398" cy="893" r="6"/><circle cx="963" cy="1319" r="6"/><circle cx="349" cy="910" r="6"/><circle cx="736" cy="1094" r="6"/><circle cx="273" cy="1155" r="6"/><circle cx="940" cy="1296" r="6"/><circle cx="349" cy="1245" r="6"/><circle cx="647" cy="860" r="6"/><circle cx="895" cy="1208" r="6"/><circle cx="422" cy="889" r="6"/><circle cx="800" cy="1102" r="6"/><circle cx="411" cy="1350" r="6"/><circle cx="457" cy="1407" r="6"/><circle cx="469" cy="1474" r="6"/><circle cx="855" cy="1303" r="6"/><circle cx="457" cy="1467" r="6"/><circle cx="388" cy="1270" r="6"/><circle cx="355" cy="893" r="6"/><circle cx="345" cy="872" r="6"/><circle cx="436" cy="1389" r="6"/><circle cx="905" cy="1206" r="6"/><circle cx="442" cy="895" r="6"/><circle cx="392" cy="1313" r="6"/><circle cx="943" cy="1217" r="6"/><circle cx="408" cy="1388" r="6"/><circle cx="968" cy="1330" r="6"/><circle cx="894" cy="1193" r="6"/><circle cx="405" cy="1386" r="6"/><circle cx="469" cy="1495" r="6"/><circle cx="401" cy="1236" r="6"/><circle cx="732" cy="920" r="6"/><circle cx="850" cy="1228" r="6"/><circle cx="797" cy="1162" r="6"/><circle cx="260" cy="1145" r="6"/><circle cx="826" cy="1195" r="6"/><circle cx="454" cy="1472" r="6"/><circle cx="439" cy="1459" r="6"/><circle cx="363" cy="1214" r="6"/><circle cx="337" cy="1262" r="6"/><circle cx="427" cy="1469" r="6"/><circle cx="332" cy="864" r="6"/><circle cx="881" cy="1020" r="6"/><circle cx="350" cy="883" r="6"/><circle cx="257" cy="1180" r="6"/><circle cx="337" cy="1236" r="6"/><circle cx="461" cy="1465" r="6"/><circle cx="892" cy="1257" r="6"/><circle cx="795" cy="1135" r="6"/><circle cx="470" cy="1488" r="6"/><circle cx="211" cy="1189" r="6"/><circle cx="779" cy="1094" r="6"/><circle cx="463" cy="902" r="6"/><circle cx="256" cy="1231" r="6"/><circle cx="321" cy="1207" r="6"/></g>
<g fill="#a98bd0" fill-opacity=".72" stroke="#a98bd0" stroke-opacity=".5" stroke-width="1.2"><circle cx="223" cy="1181" r="6"/><circle cx="946" cy="1198" r="6"/><circle cx="766" cy="990" r="6"/><circle cx="897" cy="1307" r="6"/><circle cx="900" cy="973" r="6"/><circle cx="441" cy="1394" r="6"/><circle cx="968" cy="1321" r="6"/><circle cx="798" cy="1074" r="6"/><circle cx="860" cy="1299" r="6"/><circle cx="482" cy="900" r="6"/><circle cx="357" cy="1254" r="6"/><circle cx="355" cy="883" r="6"/><circle cx="462" cy="1368" r="6"/><circle cx="898" cy="1272" r="6"/><circle cx="439" cy="1369" r="6"/><circle cx="785" cy="1135" r="6"/><circle cx="246" cy="1201" r="6"/><circle cx="560" cy="1056" r="6"/><circle cx="873" cy="1208" r="6"/><circle cx="880" cy="1264" r="6"/><circle cx="399" cy="1313" r="6"/><circle cx="346" cy="1229" r="6"/><circle cx="760" cy="1094" r="6"/><circle cx="756" cy="1100" r="6"/><circle cx="746" cy="902" r="6"/><circle cx="438" cy="1380" r="6"/><circle cx="971" cy="1327" r="6"/><circle cx="414" cy="871" r="6"/><circle cx="355" cy="900" r="6"/><circle cx="437" cy="1488" r="6"/><circle cx="785" cy="984" r="6"/><circle cx="457" cy="1309" r="6"/><circle cx="835" cy="1267" r="6"/><circle cx="427" cy="909" r="6"/><circle cx="761" cy="1103" r="6"/><circle cx="841" cy="1227" r="6"/><circle cx="176" cy="1187" r="6"/><circle cx="763" cy="1111" r="6"/><circle cx="443" cy="1306" r="6"/><circle cx="908" cy="1300" r="6"/><circle cx="258" cy="1177" r="6"/><circle cx="931" cy="1272" r="6"/><circle cx="157" cy="1178" r="6"/><circle cx="919" cy="1197" r="6"/><circle cx="398" cy="1230" r="6"/><circle cx="853" cy="1321" r="6"/><circle cx="767" cy="1092" r="6"/><circle cx="418" cy="1329" r="6"/><circle cx="962" cy="1332" r="6"/><circle cx="428" cy="890" r="6"/><circle cx="394" cy="893" r="6"/><circle cx="901" cy="1215" r="6"/><circle cx="334" cy="1117" r="6"/><circle cx="207" cy="1189" r="6"/></g>
<g fill="#a8a8a8" fill-opacity=".72" stroke="#a8a8a8" stroke-opacity=".5" stroke-width="1.2"><circle cx="755" cy="1110" r="6"/><circle cx="404" cy="900" r="6"/><circle cx="833" cy="1302" r="6"/><circle cx="968" cy="1212" r="6"/><circle cx="463" cy="1363" r="6"/><circle cx="326" cy="1138" r="6"/><circle cx="752" cy="1093" r="6"/><circle cx="753" cy="1026" r="6"/><circle cx="482" cy="1469" r="6"/><circle cx="968" cy="1327" r="6"/><circle cx="882" cy="1272" r="6"/><circle cx="931" cy="1223" r="6"/><circle cx="957" cy="1359" r="6"/><circle cx="895" cy="959" r="6"/><circle cx="564" cy="1041" r="6"/><circle cx="580" cy="1026" r="6"/><circle cx="879" cy="1186" r="6"/><circle cx="364" cy="1215" r="6"/><circle cx="243" cy="1210" r="6"/><circle cx="849" cy="939" r="6"/><circle cx="200" cy="1161" r="6"/><circle cx="369" cy="1278" r="6"/><circle cx="880" cy="1294" r="6"/><circle cx="514" cy="1026" r="6"/><circle cx="220" cy="1214" r="6"/><circle cx="877" cy="1319" r="6"/><circle cx="240" cy="1158" r="6"/><circle cx="214" cy="1145" r="6"/><circle cx="234" cy="1195" r="6"/><circle cx="310" cy="1118" r="6"/><circle cx="170" cy="1165" r="6"/><circle cx="360" cy="1271" r="6"/><circle cx="890" cy="1245" r="6"/><circle cx="191" cy="1211" r="6"/><circle cx="430" cy="1362" r="6"/><circle cx="217" cy="1214" r="6"/><circle cx="160" cy="1151" r="6"/><circle cx="461" cy="1353" r="6"/><circle cx="461" cy="876" r="6"/><circle cx="798" cy="998" r="6"/><circle cx="404" cy="1342" r="6"/><circle cx="243" cy="1217" r="6"/><circle cx="482" cy="1459" r="6"/><circle cx="375" cy="1241" r="6"/><circle cx="332" cy="1126" r="6"/><circle cx="374" cy="1228" r="6"/><circle cx="433" cy="874" r="6"/><circle cx="369" cy="1264" r="6"/><circle cx="808" cy="1063" r="6"/><circle cx="397" cy="1296" r="6"/><circle cx="165" cy="1177" r="6"/><circle cx="564" cy="1038" r="6"/><circle cx="274" cy="1168" r="6"/></g>
<g fill="#6e9fd0" fill-opacity=".72" stroke="#6e9fd0" stroke-opacity=".5" stroke-width="1.2"><circle cx="763" cy="906" r="6"/><circle cx="818" cy="1159" r="6"/><circle cx="873" cy="1217" r="6"/><circle cx="387" cy="1255" r="6"/><circle cx="414" cy="1220" r="6"/><circle cx="344" cy="888" r="6"/><circle cx="326" cy="1202" r="6"/><circle cx="260" cy="1198" r="6"/><circle cx="342" cy="1128" r="6"/><circle cx="815" cy="1300" r="6"/><circle cx="954" cy="1300" r="6"/><circle cx="922" cy="1298" r="6"/><circle cx="559" cy="1054" r="6"/><circle cx="767" cy="1098" r="6"/><circle cx="443" cy="886" r="6"/><circle cx="355" cy="908" r="6"/><circle cx="939" cy="1270" r="6"/><circle cx="401" cy="1280" r="6"/><circle cx="932" cy="1181" r="6"/><circle cx="439" cy="910" r="6"/><circle cx="870" cy="1308" r="6"/><circle cx="305" cy="1197" r="6"/><circle cx="450" cy="1327" r="6"/><circle cx="472" cy="1439" r="6"/><circle cx="722" cy="888" r="6"/><circle cx="260" cy="1223" r="6"/><circle cx="747" cy="901" r="6"/><circle cx="323" cy="1207" r="6"/><circle cx="275" cy="1200" r="6"/><circle cx="270" cy="1220" r="6"/><circle cx="737" cy="880" r="6"/><circle cx="360" cy="1277" r="6"/><circle cx="202" cy="1170" r="6"/><circle cx="385" cy="1273" r="6"/><circle cx="765" cy="1086" r="6"/><circle cx="328" cy="896" r="6"/></g>
<g fill="#e992cc" fill-opacity=".72" stroke="#e992cc" stroke-opacity=".5" stroke-width="1.2"><circle cx="465" cy="903" r="6"/><circle cx="914" cy="1009" r="6"/><circle cx="274" cy="1151" r="6"/><circle cx="761" cy="900" r="6"/><circle cx="926" cy="1318" r="6"/><circle cx="929" cy="1266" r="6"/><circle cx="421" cy="1392" r="6"/><circle cx="696" cy="930" r="6"/><circle cx="776" cy="1106" r="6"/><circle cx="856" cy="1012" r="6"/><circle cx="419" cy="903" r="6"/><circle cx="400" cy="1268" r="6"/><circle cx="401" cy="1304" r="6"/><circle cx="898" cy="1006" r="6"/><circle cx="421" cy="888" r="6"/><circle cx="860" cy="1322" r="6"/><circle cx="752" cy="995" r="6"/><circle cx="365" cy="1256" r="6"/><circle cx="873" cy="1212" r="6"/><circle cx="389" cy="1223" r="6"/><circle cx="882" cy="954" r="6"/><circle cx="216" cy="1199" r="6"/><circle cx="714" cy="891" r="6"/><circle cx="864" cy="1196" r="6"/><circle cx="937" cy="1337" r="6"/><circle cx="466" cy="1386" r="6"/><circle cx="286" cy="1213" r="6"/><circle cx="368" cy="869" r="6"/><circle cx="381" cy="1256" r="6"/><circle cx="419" cy="1333" r="6"/><circle cx="414" cy="883" r="6"/><circle cx="404" cy="864" r="6"/><circle cx="811" cy="1155" r="6"/><circle cx="762" cy="999" r="6"/><circle cx="387" cy="883" r="6"/><circle cx="892" cy="1025" r="6"/><circle cx="426" cy="892" r="6"/><circle cx="783" cy="1077" r="6"/><circle cx="850" cy="1210" r="6"/><circle cx="912" cy="1308" r="6"/><circle cx="444" cy="1328" r="6"/></g>
<g fill="#a0706a" fill-opacity=".72" stroke="#a0706a" stroke-opacity=".5" stroke-width="1.2"><circle cx="342" cy="868" r="6"/><circle cx="327" cy="1259" r="6"/><circle cx="890" cy="1096" r="6"/><circle cx="406" cy="1315" r="6"/><circle cx="920" cy="1289" r="6"/><circle cx="303" cy="1121" r="6"/><circle cx="200" cy="1217" r="6"/><circle cx="370" cy="1276" r="6"/><circle cx="429" cy="1393" r="6"/><circle cx="298" cy="1125" r="6"/><circle cx="399" cy="1305" r="6"/><circle cx="478" cy="1322" r="6"/><circle cx="200" cy="1193" r="6"/><circle cx="385" cy="1312" r="6"/><circle cx="451" cy="915" r="6"/><circle cx="917" cy="1229" r="6"/><circle cx="408" cy="901" r="6"/><circle cx="454" cy="1315" r="6"/><circle cx="902" cy="1243" r="6"/><circle cx="647" cy="877" r="6"/><circle cx="904" cy="1012" r="6"/><circle cx="917" cy="1256" r="6"/><circle cx="242" cy="1191" r="6"/><circle cx="777" cy="1082" r="6"/><circle cx="381" cy="1271" r="6"/><circle cx="860" cy="1185" r="6"/><circle cx="882" cy="1015" r="6"/><circle cx="743" cy="907" r="6"/><circle cx="270" cy="1175" r="6"/><circle cx="931" cy="1213" r="6"/><circle cx="469" cy="1382" r="6"/><circle cx="782" cy="1055" r="6"/><circle cx="906" cy="1195" r="6"/><circle cx="739" cy="991" r="6"/><circle cx="392" cy="1237" r="6"/><circle cx="381" cy="1259" r="6"/><circle cx="847" cy="1185" r="6"/><circle cx="920" cy="1259" r="6"/><circle cx="351" cy="862" r="6"/><circle cx="412" cy="875" r="6"/><circle cx="709" cy="877" r="6"/><circle cx="225" cy="1157" r="6"/><circle cx="434" cy="1311" r="6"/><circle cx="742" cy="1092" r="6"/></g>
<g fill="#68bf5a" fill-opacity=".72" stroke="#68bf5a" stroke-opacity=".5" stroke-width="1.2"><circle cx="410" cy="1218" r="6"/><circle cx="892" cy="1320" r="6"/><circle cx="143" cy="1165" r="6"/><circle cx="826" cy="1308" r="6"/><circle cx="887" cy="1017" r="6"/><circle cx="175" cy="1194" r="6"/><circle cx="770" cy="997" r="6"/><circle cx="649" cy="854" r="6"/><circle cx="889" cy="1330" r="6"/><circle cx="831" cy="1174" r="6"/><circle cx="230" cy="1166" r="6"/><circle cx="824" cy="1164" r="6"/><circle cx="165" cy="1191" r="6"/><circle cx="201" cy="1217" r="6"/><circle cx="821" cy="1166" r="6"/><circle cx="221" cy="1228" r="6"/><circle cx="333" cy="1258" r="6"/><circle cx="272" cy="1247" r="6"/><circle cx="345" cy="1262" r="6"/><circle cx="399" cy="1357" r="6"/><circle cx="265" cy="1228" r="6"/><circle cx="308" cy="1252" r="6"/><circle cx="186" cy="1199" r="6"/><circle cx="841" cy="1384" r="6"/><circle cx="915" cy="1222" r="6"/><circle cx="921" cy="1273" r="6"/><circle cx="236" cy="1226" r="6"/><circle cx="410" cy="1362" r="6"/><circle cx="856" cy="1036" r="6"/><circle cx="917" cy="974" r="6"/><circle cx="481" cy="1355" r="6"/><circle cx="847" cy="1296" r="6"/><circle cx="835" cy="1217" r="6"/><circle cx="228" cy="1222" r="6"/><circle cx="875" cy="1245" r="6"/><circle cx="632" cy="867" r="6"/><circle cx="908" cy="1014" r="6"/><circle cx="398" cy="865" r="6"/><circle cx="203" cy="1212" r="6"/><circle cx="403" cy="1220" r="6"/><circle cx="751" cy="911" r="6"/><circle cx="283" cy="1142" r="6"/><circle cx="404" cy="1379" r="6"/><circle cx="866" cy="1278" r="6"/><circle cx="487" cy="1331" r="6"/><circle cx="244" cy="1239" r="6"/><circle cx="374" cy="1289" r="6"/><circle cx="928" cy="1248" r="6"/><circle cx="290" cy="1144" r="6"/><circle cx="265" cy="1232" r="6"/><circle cx="474" cy="1335" r="6"/><circle cx="840" cy="1218" r="6"/><circle cx="967" cy="1331" r="6"/><circle cx="388" cy="1241" r="6"/><circle cx="431" cy="1302" r="6"/><circle cx="970" cy="1213" r="6"/><circle cx="282" cy="1152" r="6"/><circle cx="465" cy="1438" r="6"/><circle cx="488" cy="1337" r="6"/><circle cx="369" cy="1286" r="6"/><circle cx="217" cy="1151" r="6"/></g>
<g fill="#fb9c45" fill-opacity=".72" stroke="#fb9c45" stroke-opacity=".5" stroke-width="1.2"><circle cx="831" cy="1248" r="6"/><circle cx="447" cy="861" r="6"/><circle cx="481" cy="1495" r="6"/><circle cx="848" cy="1167" r="6"/><circle cx="761" cy="1115" r="6"/><circle cx="458" cy="900" r="6"/><circle cx="933" cy="1286" r="6"/><circle cx="757" cy="1013" r="6"/><circle cx="441" cy="1485" r="6"/><circle cx="455" cy="1476" r="6"/><circle cx="849" cy="1240" r="6"/><circle cx="862" cy="1240" r="6"/><circle cx="429" cy="1459" r="6"/><circle cx="318" cy="1213" r="6"/><circle cx="276" cy="1137" r="6"/><circle cx="408" cy="1318" r="6"/><circle cx="245" cy="1140" r="6"/><circle cx="965" cy="1353" r="6"/><circle cx="408" cy="875" r="6"/><circle cx="373" cy="879" r="6"/><circle cx="431" cy="875" r="6"/><circle cx="373" cy="883" r="6"/><circle cx="768" cy="1106" r="6"/><circle cx="248" cy="1178" r="6"/><circle cx="371" cy="904" r="6"/><circle cx="861" cy="1219" r="6"/><circle cx="184" cy="1183" r="6"/><circle cx="839" cy="1250" r="6"/><circle cx="221" cy="1174" r="6"/><circle cx="447" cy="1496" r="6"/><circle cx="886" cy="1003" r="6"/><circle cx="922" cy="1228" r="6"/><circle cx="302" cy="1228" r="6"/><circle cx="325" cy="881" r="6"/><circle cx="345" cy="880" r="6"/><circle cx="824" cy="1154" r="6"/><circle cx="312" cy="1211" r="6"/><circle cx="889" cy="1026" r="6"/><circle cx="431" cy="1316" r="6"/><circle cx="765" cy="998" r="6"/><circle cx="898" cy="1179" r="6"/><circle cx="955" cy="1360" r="6"/><circle cx="370" cy="1217" r="6"/><circle cx="970" cy="1347" r="6"/><circle cx="346" cy="905" r="6"/><circle cx="383" cy="891" r="6"/><circle cx="436" cy="876" r="6"/><circle cx="394" cy="1239" r="6"/><circle cx="310" cy="1196" r="6"/><circle cx="405" cy="1323" r="6"/></g>
<g fill="#ea5f56" fill-opacity=".72" stroke="#ea5f56" stroke-opacity=".5" stroke-width="1.2"><circle cx="446" cy="1219" r="6"/><circle cx="275" cy="1191" r="6"/><circle cx="199" cy="1158" r="6"/><circle cx="470" cy="1331" r="6"/><circle cx="805" cy="1063" r="6"/><circle cx="929" cy="1330" r="6"/><circle cx="300" cy="1217" r="6"/><circle cx="253" cy="1127" r="6"/><circle cx="455" cy="1335" r="6"/><circle cx="927" cy="1181" r="6"/><circle cx="900" cy="1222" r="6"/><circle cx="259" cy="1167" r="6"/><circle cx="255" cy="1154" r="6"/><circle cx="876" cy="1194" r="6"/><circle cx="427" cy="1388" r="6"/><circle cx="923" cy="1294" r="6"/><circle cx="943" cy="1198" r="6"/><circle cx="877" cy="1310" r="6"/><circle cx="351" cy="1264" r="6"/><circle cx="266" cy="975" r="6"/><circle cx="203" cy="1145" r="6"/><circle cx="889" cy="963" r="6"/><circle cx="308" cy="1204" r="6"/><circle cx="801" cy="1157" r="6"/><circle cx="925" cy="1283" r="6"/><circle cx="946" cy="1317" r="6"/><circle cx="278" cy="1151" r="6"/><circle cx="818" cy="1269" r="6"/><circle cx="163" cy="1181" r="6"/><circle cx="899" cy="1179" r="6"/><circle cx="775" cy="1114" r="6"/><circle cx="891" cy="1288" r="6"/><circle cx="884" cy="1007" r="6"/><circle cx="932" cy="1246" r="6"/><circle cx="632" cy="869" r="6"/><circle cx="784" cy="1059" r="6"/><circle cx="828" cy="1159" r="6"/><circle cx="800" cy="994" r="6"/><circle cx="874" cy="1210" r="6"/><circle cx="446" cy="897" r="6"/><circle cx="882" cy="1299" r="6"/><circle cx="935" cy="1187" r="6"/><circle cx="803" cy="1133" r="6"/><circle cx="465" cy="1349" r="6"/><circle cx="369" cy="1228" r="6"/><circle cx="932" cy="1300" r="6"/><circle cx="875" cy="1313" r="6"/><circle cx="435" cy="877" r="6"/><circle cx="421" cy="1345" r="6"/><circle cx="199" cy="1148" r="6"/><circle cx="749" cy="1091" r="6"/><circle cx="862" cy="1278" r="6"/><circle cx="820" cy="1262" r="6"/><circle cx="488" cy="1309" r="6"/><circle cx="644" cy="873" r="6"/><circle cx="188" cy="1152" r="6"/><circle cx="917" cy="1328" r="6"/><circle cx="476" cy="1439" r="6"/><circle cx="279" cy="1236" r="6"/><circle cx="410" cy="1227" r="6"/><circle cx="745" cy="992" r="6"/><circle cx="552" cy="1045" r="6"/><circle cx="978" cy="1287" r="6"/></g>
<g fill="#a98bd0" fill-opacity=".72" stroke="#a98bd0" stroke-opacity=".5" stroke-width="1.2"><circle cx="833" cy="1182" r="6"/><circle cx="451" cy="1345" r="6"/><circle cx="865" cy="1236" r="6"/><circle cx="327" cy="1250" r="6"/><circle cx="866" cy="1268" r="6"/><circle cx="899" cy="1281" r="6"/><circle cx="480" cy="901" r="6"/><circle cx="860" cy="1205" r="6"/><circle cx="399" cy="1239" r="6"/><circle cx="708" cy="1002" r="6"/><circle cx="449" cy="923" r="6"/><circle cx="916" cy="1311" r="6"/><circle cx="167" cy="1163" r="6"/><circle cx="446" cy="1399" r="6"/><circle cx="821" cy="1057" r="6"/><circle cx="247" cy="1199" r="6"/><circle cx="208" cy="1153" r="6"/><circle cx="842" cy="1179" r="6"/><circle cx="362" cy="1219" r="6"/><circle cx="416" cy="1321" r="6"/><circle cx="369" cy="1250" r="6"/><circle cx="297" cy="1118" r="6"/><circle cx="470" cy="897" r="6"/><circle cx="922" cy="1192" r="6"/><circle cx="417" cy="1310" r="6"/><circle cx="821" cy="1108" r="6"/><circle cx="446" cy="1301" r="6"/><circle cx="833" cy="1156" r="6"/><circle cx="426" cy="901" r="6"/><circle cx="963" cy="1283" r="6"/><circle cx="438" cy="1316" r="6"/><circle cx="660" cy="882" r="6"/><circle cx="351" cy="892" r="6"/><circle cx="378" cy="1294" r="6"/><circle cx="923" cy="1188" r="6"/><circle cx="435" cy="1336" r="6"/><circle cx="865" cy="1255" r="6"/><circle cx="879" cy="1008" r="6"/><circle cx="552" cy="1041" r="6"/><circle cx="934" cy="1325" r="6"/><circle cx="462" cy="892" r="6"/><circle cx="964" cy="1342" r="6"/><circle cx="286" cy="1203" r="6"/><circle cx="857" cy="1308" r="6"/><circle cx="951" cy="1220" r="6"/><circle cx="353" cy="896" r="6"/></g>
<g fill="#e992cc" fill-opacity=".72" stroke="#e992cc" stroke-opacity=".5" stroke-width="1.2"><circle cx="152" cy="1170" r="6"/><circle cx="404" cy="1254" r="6"/><circle cx="943" cy="1206" r="6"/><circle cx="311" cy="1255" r="6"/><circle cx="965" cy="1344" r="6"/><circle cx="895" cy="1091" r="6"/><circle cx="487" cy="1356" r="6"/><circle cx="836" cy="1164" r="6"/><circle cx="374" cy="1281" r="6"/><circle cx="477" cy="1497" r="6"/><circle cx="800" cy="1155" r="6"/><circle cx="845" cy="1379" r="6"/><circle cx="339" cy="863" r="6"/><circle cx="361" cy="1120" r="6"/><circle cx="284" cy="1173" r="6"/><circle cx="472" cy="1362" r="6"/><circle cx="412" cy="1324" r="6"/><circle cx="777" cy="1075" r="6"/><circle cx="675" cy="860" r="6"/><circle cx="651" cy="875" r="6"/><circle cx="934" cy="1318" r="6"/><circle cx="851" cy="1205" r="6"/><circle cx="362" cy="1266" r="6"/><circle cx="856" cy="1235" r="6"/><circle cx="485" cy="1464" r="6"/><circle cx="959" cy="1304" r="6"/><circle cx="783" cy="1120" r="6"/><circle cx="163" cy="1157" r="6"/><circle cx="154" cy="1173" r="6"/><circle cx="816" cy="1200" r="6"/><circle cx="438" cy="902" r="6"/><circle cx="917" cy="1298" r="6"/><circle cx="902" cy="1226" r="6"/><circle cx="846" cy="1209" r="6"/><circle cx="911" cy="1317" r="6"/></g>
<g fill="#68bf5a" fill-opacity=".72" stroke="#68bf5a" stroke-opacity=".5" stroke-width="1.2"><circle cx="864" cy="1385" r="6"/><circle cx="826" cy="1163" r="6"/><circle cx="433" cy="1449" r="6"/><circle cx="884" cy="1280" r="6"/><circle cx="400" cy="1337" r="6"/><circle cx="786" cy="1058" r="6"/><circle cx="425" cy="1450" r="6"/><circle cx="853" cy="1039" r="6"/><circle cx="445" cy="1315" r="6"/><circle cx="856" cy="1370" r="6"/><circle cx="903" cy="961" r="6"/><circle cx="266" cy="1244" r="6"/><circle cx="402" cy="1217" r="6"/><circle cx="245" cy="1160" r="6"/><circle cx="481" cy="1454" r="6"/><circle cx="320" cy="1256" r="6"/><circle cx="280" cy="1127" r="6"/><circle cx="319" cy="1128" r="6"/><circle cx="445" cy="1438" r="6"/><circle cx="758" cy="1085" r="6"/><circle cx="404" cy="1218" r="6"/><circle cx="192" cy="1199" r="6"/><circle cx="412" cy="1368" r="6"/><circle cx="857" cy="1223" r="6"/><circle cx="898" cy="1301" r="6"/><circle cx="421" cy="1342" r="6"/><circle cx="196" cy="1189" r="6"/><circle cx="889" cy="1000" r="6"/><circle cx="931" cy="1197" r="6"/><circle cx="457" cy="1332" r="6"/><circle cx="850" cy="1114" r="6"/><circle cx="214" cy="1177" r="6"/><circle cx="795" cy="1154" r="6"/><circle cx="157" cy="1159" r="6"/><circle cx="339" cy="1258" r="6"/><circle cx="952" cy="1201" r="6"/><circle cx="662" cy="855" r="6"/><circle cx="245" cy="1223" r="6"/><circle cx="203" cy="1208" r="6"/><circle cx="274" cy="1238" r="6"/><circle cx="892" cy="1283" r="6"/><circle cx="328" cy="1130" r="6"/><circle cx="363" cy="1271" r="6"/><circle cx="342" cy="1265" r="6"/><circle cx="452" cy="1354" r="6"/><circle cx="334" cy="1263" r="6"/><circle cx="186" cy="1208" r="6"/><circle cx="905" cy="1242" r="6"/><circle cx="217" cy="1217" r="6"/><circle cx="213" cy="1226" r="6"/><circle cx="401" cy="1357" r="6"/><circle cx="408" cy="1327" r="6"/><circle cx="435" cy="1361" r="6"/><circle cx="286" cy="1238" r="6"/><circle cx="378" cy="1251" r="6"/><circle cx="441" cy="1364" r="6"/><circle cx="372" cy="1238" r="6"/><circle cx="358" cy="1248" r="6"/><circle cx="751" cy="1016" r="6"/><circle cx="303" cy="1123" r="6"/><circle cx="833" cy="1167" r="6"/><circle cx="352" cy="1268" r="6"/><circle cx="962" cy="1206" r="6"/><circle cx="187" cy="1219" r="6"/><circle cx="943" cy="1301" r="6"/></g>
<g fill="#ea5f56" fill-opacity=".72" stroke="#ea5f56" stroke-opacity=".5" stroke-width="1.2"><circle cx="146" cy="1162" r="6"/><circle cx="705" cy="878" r="6"/><circle cx="408" cy="884" r="6"/><circle cx="171" cy="1159" r="6"/><circle cx="388" cy="1251" r="6"/><circle cx="145" cy="1160" r="6"/><circle cx="488" cy="1453" r="6"/><circle cx="869" cy="1312" r="6"/><circle cx="328" cy="1243" r="6"/><circle cx="464" cy="1322" r="6"/><circle cx="351" cy="1259" r="6"/><circle cx="814" cy="1111" r="6"/><circle cx="845" cy="1202" r="6"/><circle cx="282" cy="1173" r="6"/><circle cx="777" cy="1116" r="6"/><circle cx="872" cy="1015" r="6"/><circle cx="895" cy="1184" r="6"/><circle cx="424" cy="1287" r="6"/><circle cx="335" cy="1210" r="6"/><circle cx="313" cy="1212" r="6"/><circle cx="333" cy="1261" r="6"/><circle cx="800" cy="1147" r="6"/><circle cx="254" cy="979" r="6"/><circle cx="464" cy="1471" r="6"/><circle cx="850" cy="1177" r="6"/><circle cx="838" cy="1210" r="6"/><circle cx="357" cy="1264" r="6"/><circle cx="220" cy="1140" r="6"/><circle cx="511" cy="1024" r="6"/><circle cx="864" cy="948" r="6"/><circle cx="929" cy="1180" r="6"/><circle cx="387" cy="1288" r="6"/><circle cx="385" cy="1329" r="6"/><circle cx="150" cy="1156" r="6"/><circle cx="368" cy="886" r="6"/><circle cx="494" cy="1218" r="6"/><circle cx="832" cy="1270" r="6"/><circle cx="827" cy="1285" r="6"/><circle cx="474" cy="1330" r="6"/><circle cx="861" cy="1192" r="6"/><circle cx="344" cy="909" r="6"/><circle cx="847" cy="1179" r="6"/><circle cx="428" cy="1456" r="6"/><circle cx="939" cy="1279" r="6"/><circle cx="909" cy="1250" r="6"/><circle cx="895" cy="1102" r="6"/><circle cx="823" cy="1227" r="6"/><circle cx="954" cy="1382" r="6"/><circle cx="349" cy="1241" r="6"/><circle cx="326" cy="1119" r="6"/><circle cx="918" cy="1236" r="6"/><circle cx="263" cy="1123" r="6"/><circle cx="833" cy="1112" r="6"/><circle cx="395" cy="1224" r="6"/><circle cx="926" cy="1203" r="6"/><circle cx="757" cy="997" r="6"/><circle cx="186" cy="1149" r="6"/><circle cx="970" cy="1348" r="6"/><circle cx="495" cy="1449" r="6"/><circle cx="491" cy="1220" r="6"/><circle cx="907" cy="1286" r="6"/><circle cx="428" cy="1351" r="6"/><circle cx="934" cy="1252" r="6"/><circle cx="859" cy="1218" r="6"/><circle cx="823" cy="1285" r="6"/><circle cx="826" cy="1228" r="6"/><circle cx="457" cy="1497" r="6"/></g>
<g fill="#fb9c45" fill-opacity=".72" stroke="#fb9c45" stroke-opacity=".5" stroke-width="1.2"><circle cx="469" cy="908" r="6"/><circle cx="329" cy="1123" r="6"/><circle cx="791" cy="1104" r="6"/><circle cx="908" cy="999" r="6"/><circle cx="840" cy="1194" r="6"/><circle cx="390" cy="1221" r="6"/><circle cx="392" cy="883" r="6"/><circle cx="448" cy="899" r="6"/><circle cx="884" cy="1009" r="6"/><circle cx="881" cy="1289" r="6"/><circle cx="460" cy="1444" r="6"/><circle cx="823" cy="1312" r="6"/><circle cx="277" cy="1224" r="6"/><circle cx="167" cy="1155" r="6"/><circle cx="444" cy="911" r="6"/><circle cx="279" cy="1156" r="6"/><circle cx="438" cy="1335" r="6"/><circle cx="445" cy="1395" r="6"/><circle cx="444" cy="1442" r="6"/><circle cx="427" cy="1393" r="6"/><circle cx="843" cy="1301" r="6"/><circle cx="433" cy="1479" r="6"/><circle cx="744" cy="893" r="6"/><circle cx="414" cy="881" r="6"/><circle cx="437" cy="1495" r="6"/><circle cx="912" cy="1299" r="6"/><circle cx="333" cy="1207" r="6"/><circle cx="816" cy="1280" r="6"/><circle cx="261" cy="1190" r="6"/><circle cx="167" cy="1196" r="6"/><circle cx="358" cy="1124" r="6"/><circle cx="972" cy="1363" r="6"/><circle cx="882" cy="1215" r="6"/><circle cx="886" cy="1213" r="6"/><circle cx="808" cy="1161" r="6"/><circle cx="836" cy="1206" r="6"/><circle cx="719" cy="879" r="6"/><circle cx="336" cy="911" r="6"/><circle cx="465" cy="1338" r="6"/><circle cx="369" cy="897" r="6"/><circle cx="378" cy="1273" r="6"/><circle cx="470" cy="1463" r="6"/></g>
<g fill="#6e9fd0" fill-opacity=".72" stroke="#6e9fd0" stroke-opacity=".5" stroke-width="1.2"><circle cx="867" cy="1244" r="6"/><circle cx="346" cy="884" r="6"/><circle cx="422" cy="1293" r="6"/><circle cx="759" cy="978" r="6"/><circle cx="871" cy="1311" r="6"/><circle cx="452" cy="1377" r="6"/><circle cx="180" cy="1207" r="6"/><circle cx="349" cy="902" r="6"/><circle cx="691" cy="869" r="6"/><circle cx="817" cy="1167" r="6"/><circle cx="313" cy="1205" r="6"/><circle cx="162" cy="1197" r="6"/><circle cx="420" cy="1353" r="6"/><circle cx="445" cy="926" r="6"/><circle cx="476" cy="1341" r="6"/><circle cx="817" cy="1057" r="6"/><circle cx="935" cy="1217" r="6"/><circle cx="790" cy="1123" r="6"/><circle cx="932" cy="1208" r="6"/><circle cx="916" cy="1318" r="6"/><circle cx="400" cy="883" r="6"/><circle cx="914" cy="1243" r="6"/><circle cx="861" cy="1221" r="6"/><circle cx="365" cy="869" r="6"/><circle cx="182" cy="1154" r="6"/><circle cx="491" cy="1449" r="6"/><circle cx="389" cy="865" r="6"/><circle cx="488" cy="1493" r="6"/><circle cx="246" cy="1181" r="6"/><circle cx="941" cy="1224" r="6"/><circle cx="917" cy="1004" r="6"/><circle cx="188" cy="1190" r="6"/><circle cx="302" cy="1205" r="6"/><circle cx="943" cy="1302" r="6"/><circle cx="814" cy="1193" r="6"/><circle cx="820" cy="1289" r="6"/><circle cx="933" cy="1194" r="6"/><circle cx="880" cy="1011" r="6"/><circle cx="457" cy="1334" r="6"/><circle cx="973" cy="1372" r="6"/><circle cx="833" cy="1162" r="6"/><circle cx="186" cy="1180" r="6"/><circle cx="839" cy="926" r="6"/><circle cx="855" cy="1299" r="6"/><circle cx="328" cy="1125" r="6"/><circle cx="664" cy="860" r="6"/><circle cx="218" cy="1157" r="6"/><circle cx="186" cy="1159" r="6"/><circle cx="353" cy="908" r="6"/><circle cx="211" cy="1211" r="6"/></g>
<g fill="#a0706a" fill-opacity=".72" stroke="#a0706a" stroke-opacity=".5" stroke-width="1.2"><circle cx="338" cy="899" r="6"/><circle cx="885" cy="1194" r="6"/><circle cx="909" cy="1234" r="6"/><circle cx="902" cy="967" r="6"/><circle cx="384" cy="896" r="6"/><circle cx="185" cy="1156" r="6"/><circle cx="371" cy="1215" r="6"/><circle cx="439" cy="1358" r="6"/><circle cx="160" cy="1172" r="6"/><circle cx="820" cy="1209" r="6"/><circle cx="883" cy="1325" r="6"/><circle cx="741" cy="908" r="6"/><circle cx="909" cy="1201" r="6"/><circle cx="217" cy="1200" r="6"/><circle cx="778" cy="1089" r="6"/><circle cx="326" cy="911" r="6"/><circle cx="796" cy="1152" r="6"/><circle cx="929" cy="1217" r="6"/><circle cx="898" cy="1014" r="6"/><circle cx="899" cy="1264" r="6"/><circle cx="289" cy="1140" r="6"/><circle cx="868" cy="1009" r="6"/><circle cx="258" cy="1192" r="6"/><circle cx="442" cy="1313" r="6"/><circle cx="215" cy="1165" r="6"/><circle cx="238" cy="1149" r="6"/><circle cx="472" cy="1383" r="6"/><circle cx="445" cy="914" r="6"/><circle cx="437" cy="1310" r="6"/><circle cx="752" cy="1071" r="6"/><circle cx="905" cy="1318" r="6"/><circle cx="430" cy="897" r="6"/><circle cx="839" cy="1317" r="6"/><circle cx="199" cy="1211" r="6"/><circle cx="247" cy="1215" r="6"/><circle cx="843" cy="1183" r="6"/><circle cx="463" cy="1319" r="6"/><circle cx="910" cy="984" r="6"/><circle cx="849" cy="1301" r="6"/><circle cx="748" cy="1103" r="6"/><circle cx="204" cy="1223" r="6"/></g>
<g fill="#a98bd0" fill-opacity=".72" stroke="#a98bd0" stroke-opacity=".5" stroke-width="1.2"><circle cx="848" cy="1274" r="6"/><circle cx="913" cy="1284" r="6"/><circle cx="727" cy="1110" r="6"/><circle cx="462" cy="884" r="6"/><circle cx="826" cy="1276" r="6"/><circle cx="455" cy="1304" r="6"/><circle cx="923" cy="1233" r="6"/><circle cx="788" cy="1131" r="6"/><circle cx="796" cy="1106" r="6"/><circle cx="433" cy="1473" r="6"/><circle cx="432" cy="904" r="6"/><circle cx="919" cy="1252" r="6"/><circle cx="908" cy="1006" r="6"/><circle cx="734" cy="918" r="6"/><circle cx="418" cy="1319" r="6"/><circle cx="884" cy="1276" r="6"/><circle cx="335" cy="913" r="6"/><circle cx="451" cy="1219" r="6"/><circle cx="807" cy="1168" r="6"/><circle cx="330" cy="873" r="6"/><circle cx="464" cy="1366" r="6"/><circle cx="246" cy="1192" r="6"/><circle cx="435" cy="1301" r="6"/><circle cx="460" cy="877" r="6"/><circle cx="236" cy="1207" r="6"/><circle cx="804" cy="1155" r="6"/><circle cx="902" cy="1329" r="6"/><circle cx="380" cy="1228" r="6"/><circle cx="447" cy="927" r="6"/><circle cx="953" cy="1312" r="6"/><circle cx="758" cy="1107" r="6"/><circle cx="959" cy="1209" r="6"/><circle cx="414" cy="867" r="6"/><circle cx="474" cy="1340" r="6"/><circle cx="454" cy="1297" r="6"/><circle cx="897" cy="1328" r="6"/><circle cx="277" cy="1165" r="6"/><circle cx="402" cy="1299" r="6"/><circle cx="861" cy="1251" r="6"/><circle cx="771" cy="1102" r="6"/><circle cx="239" cy="1217" r="6"/><circle cx="956" cy="1207" r="6"/><circle cx="344" cy="868" r="6"/><circle cx="898" cy="966" r="6"/><circle cx="911" cy="1195" r="6"/><circle cx="952" cy="1303" r="6"/><circle cx="251" cy="1174" r="6"/><circle cx="414" cy="1376" r="6"/></g>
<g fill="#a8a8a8" fill-opacity=".72" stroke="#a8a8a8" stroke-opacity=".5" stroke-width="1.2"><circle cx="869" cy="1292" r="6"/><circle cx="642" cy="855" r="6"/><circle cx="248" cy="1143" r="6"/><circle cx="789" cy="1129" r="6"/><circle cx="756" cy="1088" r="6"/><circle cx="822" cy="1113" r="6"/><circle cx="841" cy="1311" r="6"/><circle cx="821" cy="1271" r="6"/><circle cx="890" cy="1213" r="6"/><circle cx="917" cy="1228" r="6"/><circle cx="272" cy="1180" r="6"/><circle cx="847" cy="1204" r="6"/><circle cx="464" cy="1351" r="6"/><circle cx="565" cy="1057" r="6"/><circle cx="944" cy="1337" r="6"/><circle cx="380" cy="1242" r="6"/><circle cx="424" cy="1381" r="6"/><circle cx="831" cy="1300" r="6"/><circle cx="410" cy="1293" r="6"/><circle cx="364" cy="1247" r="6"/><circle cx="808" cy="1183" r="6"/><circle cx="931" cy="1320" r="6"/><circle cx="940" cy="1258" r="6"/><circle cx="838" cy="1264" r="6"/><circle cx="383" cy="884" r="6"/><circle cx="757" cy="1032" r="6"/><circle cx="864" cy="1219" r="6"/><circle cx="342" cy="902" r="6"/><circle cx="168" cy="1208" r="6"/><circle cx="745" cy="914" r="6"/><circle cx="410" cy="1310" r="6"/><circle cx="953" cy="1297" r="6"/><circle cx="968" cy="1291" r="6"/><circle cx="824" cy="1279" r="6"/><circle cx="834" cy="1245" r="6"/><circle cx="756" cy="1008" r="6"/><circle cx="271" cy="1163" r="6"/><circle cx="430" cy="903" r="6"/><circle cx="256" cy="1199" r="6"/><circle cx="845" cy="932" r="6"/><circle cx="765" cy="984" r="6"/><circle cx="917" cy="981" r="6"/><circle cx="479" cy="1356" r="6"/><circle cx="930" cy="1327" r="6"/><circle cx="367" cy="1268" r="6"/><circle cx="192" cy="1203" r="6"/></g>
<g fill="#a8a8a8" fill-opacity=".72" stroke="#a8a8a8" stroke-opacity=".5" stroke-width="1.2"><circle cx="272" cy="1183" r="6"/><circle cx="278" cy="1214" r="6"/><circle cx="184" cy="1180" r="6"/><circle cx="791" cy="1062" r="6"/><circle cx="904" cy="1005" r="6"/><circle cx="390" cy="1254" r="6"/><circle cx="598" cy="1026" r="6"/><circle cx="413" cy="1359" r="6"/><circle cx="864" cy="1013" r="6"/><circle cx="360" cy="867" r="6"/><circle cx="881" cy="1246" r="6"/><circle cx="242" cy="1225" r="6"/><circle cx="937" cy="1257" r="6"/><circle cx="266" cy="1123" r="6"/><circle cx="885" cy="960" r="6"/><circle cx="955" cy="1313" r="6"/><circle cx="755" cy="1083" r="6"/><circle cx="855" cy="1220" r="6"/><circle cx="459" cy="1218" r="6"/><circle cx="371" cy="1252" r="6"/><circle cx="418" cy="869" r="6"/><circle cx="665" cy="867" r="6"/><circle cx="422" cy="1296" r="6"/><circle cx="360" cy="878" r="6"/><circle cx="901" cy="1201" r="6"/><circle cx="431" cy="1462" r="6"/><circle cx="345" cy="1117" r="6"/><circle cx="772" cy="981" r="6"/><circle cx="428" cy="1220" r="6"/><circle cx="673" cy="888" r="6"/><circle cx="824" cy="1304" r="6"/><circle cx="447" cy="1376" r="6"/><circle cx="348" cy="1269" r="6"/><circle cx="956" cy="1336" r="6"/><circle cx="955" cy="1212" r="6"/><circle cx="856" cy="1197" r="6"/><circle cx="205" cy="1198" r="6"/><circle cx="250" cy="1190" r="6"/><circle cx="441" cy="1463" r="6"/><circle cx="935" cy="1237" r="6"/><circle cx="807" cy="1177" r="6"/><circle cx="398" cy="864" r="6"/><circle cx="972" cy="1288" r="6"/><circle cx="877" cy="1234" r="6"/><circle cx="866" cy="1317" r="6"/><circle cx="393" cy="1273" r="6"/><circle cx="845" cy="1115" r="6"/><circle cx="430" cy="1358" r="6"/><circle cx="442" cy="1379" r="6"/></g>
<g fill="#68bf5a" fill-opacity=".72" stroke="#68bf5a" stroke-opacity=".5" stroke-width="1.2"><circle cx="415" cy="1356" r="6"/><circle cx="227" cy="1145" r="6"/><circle cx="839" cy="1175" r="6"/><circle cx="387" cy="1285" r="6"/><circle cx="194" cy="1206" r="6"/><circle cx="418" cy="1320" r="6"/><circle cx="262" cy="1239" r="6"/><circle cx="489" cy="1303" r="6"/><circle cx="179" cy="1211" r="6"/><circle cx="170" cy="1207" r="6"/><circle cx="805" cy="1143" r="6"/><circle cx="408" cy="1295" r="6"/><circle cx="872" cy="1231" r="6"/><circle cx="304" cy="1204" r="6"/><circle cx="393" cy="1289" r="6"/><circle cx="298" cy="1250" r="6"/><circle cx="450" cy="1399" r="6"/><circle cx="904" cy="1255" r="6"/><circle cx="374" cy="892" r="6"/><circle cx="974" cy="1209" r="6"/><circle cx="856" cy="1322" r="6"/><circle cx="455" cy="1453" r="6"/><circle cx="846" cy="1235" r="6"/><circle cx="349" cy="1271" r="6"/><circle cx="783" cy="1066" r="6"/><circle cx="878" cy="1281" r="6"/><circle cx="297" cy="1146" r="6"/><circle cx="369" cy="1284" r="6"/><circle cx="298" cy="1150" r="6"/><circle cx="390" cy="1332" r="6"/><circle cx="440" cy="1337" r="6"/><circle cx="314" cy="1255" r="6"/><circle cx="430" cy="1447" r="6"/><circle cx="691" cy="868" r="6"/><circle cx="259" cy="1244" r="6"/><circle cx="379" cy="1294" r="6"/><circle cx="258" cy="1239" r="6"/><circle cx="410" cy="1279" r="6"/><circle cx="408" cy="1375" r="6"/><circle cx="848" cy="1181" r="6"/><circle cx="926" cy="1332" r="6"/><circle cx="825" cy="1252" r="6"/><circle cx="169" cy="1202" r="6"/><circle cx="899" cy="1002" r="6"/><circle cx="438" cy="1356" r="6"/><circle cx="810" cy="1185" r="6"/><circle cx="881" cy="1261" r="6"/><circle cx="421" cy="1455" r="6"/><circle cx="833" cy="1316" r="6"/><circle cx="242" cy="1234" r="6"/><circle cx="253" cy="1236" r="6"/><circle cx="838" cy="1306" r="6"/><circle cx="768" cy="1107" r="6"/><circle cx="918" cy="1305" r="6"/><circle cx="818" cy="1179" r="6"/><circle cx="824" cy="1309" r="6"/><circle cx="445" cy="1466" r="6"/><circle cx="870" cy="1327" r="6"/><circle cx="964" cy="1318" r="6"/><circle cx="940" cy="1307" r="6"/><circle cx="238" cy="1235" r="6"/><circle cx="891" cy="1090" r="6"/><circle cx="251" cy="1241" r="6"/><circle cx="255" cy="1207" r="6"/><circle cx="150" cy="1172" r="6"/><circle cx="368" cy="1270" r="6"/><circle cx="433" cy="1461" r="6"/></g>
<g fill="#ea5f56" fill-opacity=".72" stroke="#ea5f56" stroke-opacity=".5" stroke-width="1.2"><circle cx="964" cy="1322" r="6"/><circle cx="938" cy="1320" r="6"/><circle cx="260" cy="981" r="6"/><circle cx="811" cy="1306" r="6"/><circle cx="812" cy="1292" r="6"/><circle cx="235" cy="1137" r="6"/><circle cx="350" cy="1218" r="6"/><circle cx="407" cy="1282" r="6"/><circle cx="865" cy="1187" r="6"/><circle cx="791" cy="1113" r="6"/><circle cx="401" cy="1293" r="6"/><circle cx="638" cy="859" r="6"/><circle cx="451" cy="1403" r="6"/><circle cx="251" cy="1199" r="6"/><circle cx="897" cy="972" r="6"/><circle cx="348" cy="1232" r="6"/><circle cx="445" cy="1362" r="6"/><circle cx="827" cy="1264" r="6"/><circle cx="514" cy="1023" r="6"/><circle cx="919" cy="985" r="6"/><circle cx="851" cy="1198" r="6"/><circle cx="457" cy="1389" r="6"/><circle cx="319" cy="1232" r="6"/><circle cx="322" cy="1255" r="6"/><circle cx="878" cy="962" r="6"/><circle cx="373" cy="1245" r="6"/><circle cx="247" cy="1173" r="6"/><circle cx="766" cy="987" r="6"/><circle cx="415" cy="1333" r="6"/><circle cx="328" cy="880" r="6"/><circle cx="781" cy="1085" r="6"/><circle cx="481" cy="1302" r="6"/><circle cx="479" cy="1441" r="6"/><circle cx="445" cy="920" r="6"/><circle cx="342" cy="1262" r="6"/><circle cx="815" cy="1187" r="6"/><circle cx="425" cy="1320" r="6"/><circle cx="761" cy="1101" r="6"/><circle cx="305" cy="1131" r="6"/><circle cx="356" cy="1121" r="6"/><circle cx="351" cy="1223" r="6"/><circle cx="842" cy="930" r="6"/><circle cx="884" cy="1302" r="6"/><circle cx="837" cy="1169" r="6"/><circle cx="265" cy="983" r="6"/><circle cx="292" cy="1140" r="6"/><circle cx="210" cy="1161" r="6"/><circle cx="752" cy="991" r="6"/><circle cx="471" cy="1327" r="6"/><circle cx="445" cy="1322" r="6"/><circle cx="784" cy="1122" r="6"/><circle cx="801" cy="1064" r="6"/><circle cx="300" cy="1212" r="6"/><circle cx="842" cy="1150" r="6"/><circle cx="430" cy="1307" r="6"/><circle cx="452" cy="1451" r="6"/><circle cx="838" cy="926" r="6"/><circle cx="383" cy="1261" r="6"/><circle cx="890" cy="1315" r="6"/><circle cx="287" cy="1218" r="6"/><circle cx="813" cy="1296" r="6"/><circle cx="399" cy="1328" r="6"/><circle cx="650" cy="884" r="6"/><circle cx="323" cy="1223" r="6"/><circle cx="813" cy="1151" r="6"/><circle cx="679" cy="929" r="6"/><circle cx="327" cy="1233" r="6"/><circle cx="525" cy="1028" r="6"/></g>
<g fill="#a0706a" fill-opacity=".72" stroke="#a0706a" stroke-opacity=".5" stroke-width="1.2"><circle cx="945" cy="1291" r="6"/><circle cx="910" cy="1310" r="6"/><circle cx="328" cy="1253" r="6"/><circle cx="311" cy="1227" r="6"/><circle cx="911" cy="990" r="6"/><circle cx="554" cy="1053" r="6"/><circle cx="839" cy="1268" r="6"/><circle cx="349" cy="1218" r="6"/><circle cx="166" cy="1194" r="6"/><circle cx="430" cy="1345" r="6"/><circle cx="238" cy="1156" r="6"/><circle cx="363" cy="1282" r="6"/><circle cx="941" cy="1217" r="6"/><circle cx="303" cy="1200" r="6"/><circle cx="440" cy="883" r="6"/><circle cx="872" cy="953" r="6"/><circle cx="233" cy="1184" r="6"/><circle cx="272" cy="973" r="6"/><circle cx="831" cy="1225" r="6"/><circle cx="154" cy="1161" r="6"/><circle cx="959" cy="1347" r="6"/><circle cx="375" cy="1275" r="6"/><circle cx="402" cy="1256" r="6"/><circle cx="437" cy="919" r="6"/><circle cx="163" cy="1171" r="6"/><circle cx="288" cy="1224" r="6"/><circle cx="862" cy="1036" r="6"/><circle cx="313" cy="1238" r="6"/><circle cx="321" cy="1132" r="6"/><circle cx="844" cy="1204" r="6"/><circle cx="751" cy="1085" r="6"/><circle cx="891" cy="1267" r="6"/><circle cx="954" cy="1317" r="6"/><circle cx="252" cy="1226" r="6"/></g>
<g fill="#fb9c45" fill-opacity=".72" stroke="#fb9c45" stroke-opacity=".5" stroke-width="1.2"><circle cx="358" cy="1241" r="6"/><circle cx="475" cy="902" r="6"/><circle cx="759" cy="1115" r="6"/><circle cx="793" cy="1104" r="6"/><circle cx="345" cy="1129" r="6"/><circle cx="912" cy="975" r="6"/><circle cx="827" cy="1167" r="6"/><circle cx="473" cy="1497" r="6"/><circle cx="242" cy="1239" r="6"/><circle cx="829" cy="1189" r="6"/><circle cx="379" cy="882" r="6"/><circle cx="438" cy="909" r="6"/><circle cx="183" cy="1187" r="6"/><circle cx="327" cy="1127" r="6"/><circle cx="849" cy="1259" r="6"/><circle cx="968" cy="1351" r="6"/><circle cx="596" cy="1026" r="6"/><circle cx="803" cy="1069" r="6"/><circle cx="867" cy="1213" r="6"/><circle cx="904" cy="1316" r="6"/><circle cx="932" cy="1191" r="6"/><circle cx="463" cy="1497" r="6"/><circle cx="365" cy="863" r="6"/><circle cx="360" cy="1222" r="6"/><circle cx="337" cy="891" r="6"/><circle cx="242" cy="1134" r="6"/><circle cx="363" cy="906" r="6"/><circle cx="664" cy="869" r="6"/><circle cx="300" cy="1187" r="6"/><circle cx="869" cy="1283" r="6"/><circle cx="840" cy="1291" r="6"/><circle cx="187" cy="1193" r="6"/><circle cx="244" cy="1188" r="6"/><circle cx="834" cy="1260" r="6"/><circle cx="876" cy="1029" r="6"/><circle cx="292" cy="1131" r="6"/></g>
<g fill="#6e9fd0" fill-opacity=".72" stroke="#6e9fd0" stroke-opacity=".5" stroke-width="1.2"><circle cx="777" cy="999" r="6"/><circle cx="424" cy="876" r="6"/><circle cx="393" cy="1303" r="6"/><circle cx="220" cy="1207" r="6"/><circle cx="347" cy="874" r="6"/><circle cx="387" cy="1306" r="6"/><circle cx="472" cy="1395" r="6"/><circle cx="789" cy="1101" r="6"/><circle cx="201" cy="1198" r="6"/><circle cx="968" cy="1204" r="6"/><circle cx="403" cy="891" r="6"/><circle cx="478" cy="896" r="6"/><circle cx="881" cy="1196" r="6"/><circle cx="933" cy="1309" r="6"/><circle cx="372" cy="866" r="6"/><circle cx="157" cy="1169" r="6"/><circle cx="437" cy="1325" r="6"/><circle cx="856" cy="1029" r="6"/><circle cx="827" cy="1246" r="6"/><circle cx="889" cy="967" r="6"/><circle cx="421" cy="883" r="6"/><circle cx="282" cy="1149" r="6"/><circle cx="731" cy="892" r="6"/><circle cx="445" cy="1369" r="6"/><circle cx="390" cy="1296" r="6"/><circle cx="407" cy="1303" r="6"/><circle cx="896" cy="1006" r="6"/><circle cx="399" cy="1343" r="6"/><circle cx="371" cy="1220" r="6"/><circle cx="735" cy="882" r="6"/><circle cx="664" cy="858" r="6"/><circle cx="839" cy="1305" r="6"/><circle cx="822" cy="1262" r="6"/><circle cx="921" cy="981" r="6"/><circle cx="220" cy="1179" r="6"/><circle cx="372" cy="1233" r="6"/><circle cx="670" cy="923" r="6"/><circle cx="393" cy="1277" r="6"/><circle cx="517" cy="1033" r="6"/><circle cx="437" cy="915" r="6"/><circle cx="953" cy="1199" r="6"/><circle cx="913" cy="1263" r="6"/><circle cx="397" cy="1253" r="6"/><circle cx="447" cy="1468" r="6"/></g>
<g fill="#e992cc" fill-opacity=".72" stroke="#e992cc" stroke-opacity=".5" stroke-width="1.2"><circle cx="271" cy="979" r="6"/><circle cx="778" cy="1093" r="6"/><circle cx="916" cy="1213" r="6"/><circle cx="753" cy="914" r="6"/><circle cx="884" cy="1226" r="6"/><circle cx="837" cy="1165" r="6"/><circle cx="472" cy="1355" r="6"/><circle cx="856" cy="1174" r="6"/><circle cx="198" cy="1153" r="6"/><circle cx="755" cy="1015" r="6"/><circle cx="855" cy="1115" r="6"/><circle cx="189" cy="1200" r="6"/><circle cx="330" cy="1227" r="6"/><circle cx="925" cy="1294" r="6"/><circle cx="799" cy="1141" r="6"/><circle cx="736" cy="993" r="6"/><circle cx="471" cy="1393" r="6"/><circle cx="284" cy="1184" r="6"/><circle cx="466" cy="1455" r="6"/><circle cx="939" cy="1276" r="6"/><circle cx="775" cy="1086" r="6"/><circle cx="479" cy="1311" r="6"/><circle cx="268" cy="1182" r="6"/><circle cx="755" cy="1028" r="6"/><circle cx="915" cy="1236" r="6"/><circle cx="249" cy="1228" r="6"/><circle cx="862" cy="1325" r="6"/><circle cx="359" cy="1244" r="6"/><circle cx="411" cy="895" r="6"/><circle cx="466" cy="1310" r="6"/><circle cx="466" cy="1395" r="6"/><circle cx="461" cy="876" r="6"/><circle cx="787" cy="1065" r="6"/><circle cx="266" cy="1131" r="6"/><circle cx="790" cy="1136" r="6"/><circle cx="491" cy="1497" r="6"/><circle cx="501" cy="1318" r="6"/><circle cx="733" cy="1107" r="6"/><circle cx="328" cy="1214" r="6"/><circle cx="795" cy="1167" r="6"/><circle cx="494" cy="1497" r="6"/></g>
<g fill="#a98bd0" fill-opacity=".72" stroke="#a98bd0" stroke-opacity=".5" stroke-width="1.2"><circle cx="933" cy="1258" r="6"/><circle cx="237" cy="1142" r="6"/><circle cx="807" cy="1174" r="6"/><circle cx="889" cy="1211" r="6"/><circle cx="427" cy="1301" r="6"/><circle cx="398" cy="1312" r="6"/><circle cx="756" cy="1002" r="6"/><circle cx="357" cy="1262" r="6"/><circle cx="434" cy="1373" r="6"/><circle cx="947" cy="1289" r="6"/><circle cx="924" cy="1256" r="6"/><circle cx="860" cy="1025" r="6"/><circle cx="363" cy="896" r="6"/><circle cx="293" cy="1180" r="6"/><circle cx="720" cy="882" r="6"/><circle cx="413" cy="868" r="6"/><circle cx="857" cy="1040" r="6"/><circle cx="788" cy="1000" r="6"/><circle cx="912" cy="1333" r="6"/><circle cx="255" cy="1191" r="6"/><circle cx="483" cy="1312" r="6"/><circle cx="435" cy="911" r="6"/><circle cx="367" cy="903" r="6"/><circle cx="852" cy="1374" r="6"/><circle cx="309" cy="1227" r="6"/><circle cx="274" cy="1212" r="6"/><circle cx="171" cy="1195" r="6"/><circle cx="917" cy="1322" r="6"/><circle cx="393" cy="1303" r="6"/><circle cx="827" cy="1209" r="6"/><circle cx="424" cy="1360" r="6"/><circle cx="209" cy="1228" r="6"/><circle cx="271" cy="1144" r="6"/><circle cx="844" cy="1043" r="6"/><circle cx="456" cy="1359" r="6"/><circle cx="193" cy="1170" r="6"/><circle cx="472" cy="891" r="6"/><circle cx="935" cy="1319" r="6"/><circle cx="948" cy="1299" r="6"/><circle cx="381" cy="1325" r="6"/><circle cx="896" cy="1259" r="6"/><circle cx="478" cy="1316" r="6"/><circle cx="848" cy="1176" r="6"/><circle cx="967" cy="1325" r="6"/><circle cx="448" cy="1490" r="6"/><circle cx="362" cy="1276" r="6"/><circle cx="930" cy="1181" r="6"/><circle cx="758" cy="998" r="6"/><circle cx="405" cy="1290" r="6"/><circle cx="270" cy="1167" r="6"/><circle cx="300" cy="1194" r="6"/><circle cx="454" cy="1381" r="6"/><circle cx="469" cy="1358" r="6"/><circle cx="310" cy="1236" r="6"/><circle cx="780" cy="1111" r="6"/></g>
<g fill="#fb9c45" fill-opacity=".72" stroke="#fb9c45" stroke-opacity=".5" stroke-width="1.2"><circle cx="819" cy="1156" r="6"/><circle cx="483" cy="1445" r="6"/><circle cx="987" cy="1384" r="6"/><circle cx="661" cy="863" r="6"/><circle cx="820" cy="1199" r="6"/><circle cx="470" cy="891" r="6"/><circle cx="316" cy="1211" r="6"/><circle cx="339" cy="1131" r="6"/><circle cx="738" cy="915" r="6"/><circle cx="858" cy="1229" r="6"/><circle cx="964" cy="1376" r="6"/><circle cx="456" cy="1317" r="6"/><circle cx="434" cy="1326" r="6"/><circle cx="428" cy="1296" r="6"/><circle cx="868" cy="1237" r="6"/><circle cx="363" cy="1211" r="6"/><circle cx="480" cy="1464" r="6"/><circle cx="464" cy="1486" r="6"/><circle cx="897" cy="1225" r="6"/><circle cx="388" cy="891" r="6"/><circle cx="848" cy="1311" r="6"/><circle cx="334" cy="1223" r="6"/><circle cx="351" cy="1126" r="6"/><circle cx="866" cy="1208" r="6"/><circle cx="498" cy="1308" r="6"/><circle cx="287" cy="1154" r="6"/><circle cx="422" cy="884" r="6"/><circle cx="494" cy="1494" r="6"/><circle cx="439" cy="1481" r="6"/><circle cx="258" cy="1214" r="6"/><circle cx="809" cy="1171" r="6"/><circle cx="209" cy="1148" r="6"/><circle cx="429" cy="885" r="6"/><circle cx="472" cy="906" r="6"/><circle cx="438" cy="884" r="6"/></g>
<g fill="#ea5f56" fill-opacity=".72" stroke="#ea5f56" stroke-opacity=".5" stroke-width="1.2"><circle cx="845" cy="1279" r="6"/><circle cx="355" cy="885" r="6"/><circle cx="882" cy="1107" r="6"/><circle cx="887" cy="1296" r="6"/><circle cx="425" cy="908" r="6"/><circle cx="868" cy="1277" r="6"/><circle cx="922" cy="1269" r="6"/><circle cx="770" cy="1002" r="6"/><circle cx="824" cy="1209" r="6"/><circle cx="828" cy="1185" r="6"/><circle cx="781" cy="1056" r="6"/><circle cx="924" cy="1235" r="6"/><circle cx="451" cy="1335" r="6"/><circle cx="936" cy="1311" r="6"/><circle cx="177" cy="1149" r="6"/><circle cx="433" cy="1388" r="6"/><circle cx="286" cy="1153" r="6"/><circle cx="823" cy="1199" r="6"/><circle cx="858" cy="1029" r="6"/><circle cx="190" cy="1166" r="6"/><circle cx="293" cy="1130" r="6"/><circle cx="1087" cy="1035" r="6"/><circle cx="834" cy="1215" r="6"/><circle cx="873" cy="1242" r="6"/><circle cx="747" cy="919" r="6"/><circle cx="384" cy="1227" r="6"/><circle cx="434" cy="1313" r="6"/><circle cx="418" cy="1385" r="6"/><circle cx="817" cy="1197" r="6"/><circle cx="314" cy="1131" r="6"/><circle cx="289" cy="1252" r="6"/><circle cx="720" cy="886" r="6"/><circle cx="419" cy="1367" r="6"/><circle cx="150" cy="1153" r="6"/><circle cx="284" cy="1129" r="6"/><circle cx="879" cy="1248" r="6"/><circle cx="882" cy="1020" r="6"/><circle cx="829" cy="1155" r="6"/><circle cx="369" cy="876" r="6"/><circle cx="875" cy="1196" r="6"/><circle cx="887" cy="1263" r="6"/><circle cx="885" cy="1253" r="6"/><circle cx="450" cy="922" r="6"/><circle cx="424" cy="1466" r="6"/><circle cx="278" cy="1120" r="6"/><circle cx="223" cy="1140" r="6"/></g>
<g fill="#6e9fd0" fill-opacity=".72" stroke="#6e9fd0" stroke-opacity=".5" stroke-width="1.2"><circle cx="420" cy="1395" r="6"/><circle cx="417" cy="1309" r="6"/><circle cx="792" cy="1125" r="6"/><circle cx="825" cy="1175" r="6"/><circle cx="224" cy="1179" r="6"/><circle cx="909" cy="1333" r="6"/><circle cx="931" cy="1194" r="6"/><circle cx="853" cy="1173" r="6"/><circle cx="418" cy="894" r="6"/><circle cx="187" cy="1214" r="6"/><circle cx="325" cy="1215" r="6"/><circle cx="560" cy="1039" r="6"/><circle cx="263" cy="1129" r="6"/><circle cx="965" cy="1214" r="6"/><circle cx="446" cy="1302" r="6"/><circle cx="873" cy="1033" r="6"/><circle cx="344" cy="881" r="6"/><circle cx="896" cy="1188" r="6"/><circle cx="336" cy="1221" r="6"/><circle cx="888" cy="1179" r="6"/><circle cx="352" cy="1232" r="6"/><circle cx="388" cy="1226" r="6"/><circle cx="272" cy="1204" r="6"/><circle cx="455" cy="1311" r="6"/><circle cx="264" cy="1168" r="6"/><circle cx="439" cy="1464" r="6"/><circle cx="416" cy="897" r="6"/><circle cx="799" cy="1063" r="6"/><circle cx="269" cy="1155" r="6"/><circle cx="945" cy="1238" r="6"/><circle cx="853" cy="1020" r="6"/><circle cx="887" cy="1273" r="6"/><circle cx="386" cy="866" r="6"/><circle cx="842" cy="1247" r="6"/><circle cx="356" cy="1238" r="6"/><circle cx="343" cy="1130" r="6"/><circle cx="758" cy="1092" r="6"/><circle cx="939" cy="1203" r="6"/><circle cx="911" cy="1221" r="6"/><circle cx="875" cy="1258" r="6"/><circle cx="884" cy="1247" r="6"/><circle cx="347" cy="884" r="6"/><circle cx="817" cy="1156" r="6"/></g>
<g fill="#e992cc" fill-opacity=".72" stroke="#e992cc" stroke-opacity=".5" stroke-width="1.2"><circle cx="157" cy="1147" r="6"/><circle cx="327" cy="892" r="6"/><circle cx="422" cy="896" r="6"/><circle cx="740" cy="880" r="6"/><circle cx="876" cy="1236" r="6"/><circle cx="845" cy="1222" r="6"/><circle cx="743" cy="899" r="6"/><circle cx="943" cy="1248" r="6"/><circle cx="459" cy="906" r="6"/><circle cx="667" cy="916" r="6"/><circle cx="427" cy="1378" r="6"/><circle cx="434" cy="1344" r="6"/><circle cx="893" cy="1107" r="6"/><circle cx="929" cy="1293" r="6"/><circle cx="290" cy="1224" r="6"/><circle cx="824" cy="1160" r="6"/><circle cx="839" cy="1156" r="6"/><circle cx="888" cy="1232" r="6"/><circle cx="252" cy="1157" r="6"/><circle cx="908" cy="1324" r="6"/><circle cx="255" cy="1216" r="6"/><circle cx="844" cy="1266" r="6"/><circle cx="795" cy="1169" r="6"/><circle cx="308" cy="1128" r="6"/><circle cx="726" cy="894" r="6"/><circle cx="326" cy="1133" r="6"/><circle cx="143" cy="1158" r="6"/><circle cx="459" cy="892" r="6"/><circle cx="434" cy="1363" r="6"/><circle cx="364" cy="890" r="6"/><circle cx="736" cy="1103" r="6"/><circle cx="380" cy="1268" r="6"/><circle cx="805" cy="1172" r="6"/><circle cx="257" cy="1193" r="6"/><circle cx="346" cy="1251" r="6"/><circle cx="443" cy="1380" r="6"/><circle cx="642" cy="863" r="6"/><circle cx="172" cy="1152" r="6"/><circle cx="958" cy="1314" r="6"/><circle cx="267" cy="1199" r="6"/><circle cx="492" cy="1450" r="6"/><circle cx="313" cy="1136" r="6"/><circle cx="902" cy="995" r="6"/><circle cx="894" cy="1250" r="6"/><circle cx="952" cy="1224" r="6"/><circle cx="799" cy="1131" r="6"/><circle cx="757" cy="1096" r="6"/></g>
<g fill="#a0706a" fill-opacity=".72" stroke="#a0706a" stroke-opacity=".5" stroke-width="1.2"><circle cx="897" cy="1090" r="6"/><circle cx="387" cy="1305" r="6"/><circle cx="755" cy="1029" r="6"/><circle cx="933" cy="1321" r="6"/><circle cx="412" cy="1289" r="6"/><circle cx="749" cy="983" r="6"/><circle cx="808" cy="1143" r="6"/><circle cx="361" cy="895" r="6"/><circle cx="952" cy="1295" r="6"/><circle cx="430" cy="1457" r="6"/><circle cx="310" cy="1145" r="6"/><circle cx="916" cy="1209" r="6"/><circle cx="890" cy="1092" r="6"/><circle cx="231" cy="1177" r="6"/><circle cx="784" cy="1068" r="6"/><circle cx="769" cy="1005" r="6"/><circle cx="788" cy="1124" r="6"/><circle cx="238" cy="1215" r="6"/><circle cx="273" cy="1173" r="6"/><circle cx="442" cy="1321" r="6"/><circle cx="882" cy="1223" r="6"/><circle cx="484" cy="1326" r="6"/><circle cx="288" cy="1128" r="6"/><circle cx="894" cy="1023" r="6"/><circle cx="381" cy="878" r="6"/><circle cx="428" cy="1361" r="6"/><circle cx="382" cy="1270" r="6"/><circle cx="901" cy="1232" r="6"/><circle cx="857" cy="1273" r="6"/><circle cx="713" cy="879" r="6"/><circle cx="452" cy="1464" r="6"/><circle cx="825" cy="1313" r="6"/><circle cx="232" cy="1170" r="6"/><circle cx="841" cy="1264" r="6"/><circle cx="806" cy="1175" r="6"/><circle cx="794" cy="1145" r="6"/><circle cx="438" cy="894" r="6"/><circle cx="846" cy="1255" r="6"/><circle cx="299" cy="1219" r="6"/><circle cx="256" cy="1136" r="6"/><circle cx="714" cy="925" r="6"/><circle cx="894" cy="1240" r="6"/><circle cx="252" cy="1219" r="6"/><circle cx="853" cy="1308" r="6"/><circle cx="816" cy="1195" r="6"/><circle cx="526" cy="1033" r="6"/><circle cx="721" cy="885" r="6"/><circle cx="400" cy="1227" r="6"/><circle cx="422" cy="1219" r="6"/></g>
<g fill="#a8a8a8" fill-opacity=".72" stroke="#a8a8a8" stroke-opacity=".5" stroke-width="1.2"><circle cx="386" cy="1317" r="6"/><circle cx="203" cy="1206" r="6"/><circle cx="909" cy="1259" r="6"/><circle cx="361" cy="1212" r="6"/><circle cx="898" cy="978" r="6"/><circle cx="680" cy="932" r="6"/><circle cx="339" cy="1118" r="6"/><circle cx="734" cy="888" r="6"/><circle cx="906" cy="1004" r="6"/><circle cx="343" cy="1233" r="6"/><circle cx="840" cy="1188" r="6"/><circle cx="465" cy="1305" r="6"/><circle cx="831" cy="1111" r="6"/><circle cx="347" cy="892" r="6"/><circle cx="867" cy="1199" r="6"/><circle cx="918" cy="1264" r="6"/><circle cx="744" cy="1103" r="6"/><circle cx="233" cy="1141" r="6"/><circle cx="322" cy="1216" r="6"/><circle cx="774" cy="984" r="6"/><circle cx="767" cy="1105" r="6"/><circle cx="246" cy="1152" r="6"/><circle cx="935" cy="1202" r="6"/><circle cx="811" cy="1165" r="6"/><circle cx="377" cy="1221" r="6"/><circle cx="401" cy="1246" r="6"/><circle cx="755" cy="992" r="6"/><circle cx="934" cy="1303" r="6"/><circle cx="589" cy="1025" r="6"/><circle cx="412" cy="1363" r="6"/><circle cx="466" cy="1462" r="6"/><circle cx="362" cy="1261" r="6"/><circle cx="878" cy="1182" r="6"/><circle cx="227" cy="1199" r="6"/><circle cx="873" cy="1108" r="6"/><circle cx="492" cy="1307" r="6"/><circle cx="700" cy="927" r="6"/><circle cx="940" cy="1232" r="6"/><circle cx="563" cy="1057" r="6"/><circle cx="400" cy="1297" r="6"/><circle cx="213" cy="1188" r="6"/><circle cx="279" cy="1239" r="6"/><circle cx="939" cy="1300" r="6"/><circle cx="335" cy="1250" r="6"/><circle cx="504" cy="1313" r="6"/><circle cx="843" cy="1194" r="6"/><circle cx="955" cy="1308" r="6"/><circle cx="223" cy="1229" r="6"/><circle cx="169" cy="1162" r="6"/></g>
<g fill="#a98bd0" fill-opacity=".72" stroke="#a98bd0" stroke-opacity=".5" stroke-width="1.2"><circle cx="325" cy="1133" r="6"/><circle cx="362" cy="1254" r="6"/><circle cx="810" cy="1180" r="6"/><circle cx="329" cy="913" r="6"/><circle cx="467" cy="1334" r="6"/><circle cx="441" cy="916" r="6"/><circle cx="863" cy="1220" r="6"/><circle cx="754" cy="913" r="6"/><circle cx="270" cy="1138" r="6"/><circle cx="429" cy="1307" r="6"/><circle cx="268" cy="1240" r="6"/><circle cx="430" cy="1296" r="6"/><circle cx="916" cy="977" r="6"/><circle cx="905" cy="1243" r="6"/><circle cx="443" cy="1333" r="6"/><circle cx="846" cy="1307" r="6"/><circle cx="234" cy="1169" r="6"/><circle cx="862" cy="1255" r="6"/><circle cx="263" cy="1151" r="6"/><circle cx="450" cy="1456" r="6"/><circle cx="816" cy="1181" r="6"/><circle cx="753" cy="901" r="6"/><circle cx="967" cy="1285" r="6"/><circle cx="785" cy="1075" r="6"/><circle cx="417" cy="1215" r="6"/><circle cx="808" cy="1154" r="6"/><circle cx="829" cy="1183" r="6"/><circle cx="461" cy="1307" r="6"/><circle cx="174" cy="1200" r="6"/><circle cx="898" cy="1241" r="6"/><circle cx="936" cy="1204" r="6"/><circle cx="169" cy="1172" r="6"/><circle cx="646" cy="881" r="6"/><circle cx="456" cy="1442" r="6"/><circle cx="483" cy="1345" r="6"/><circle cx="499" cy="1315" r="6"/><circle cx="163" cy="1153" r="6"/><circle cx="929" cy="1257" r="6"/><circle cx="297" cy="1199" r="6"/><circle cx="842" cy="1149" r="6"/><circle cx="473" cy="1323" r="6"/><circle cx="968" cy="1320" r="6"/><circle cx="898" cy="1318" r="6"/><circle cx="965" cy="1204" r="6"/><circle cx="531" cy="1033" r="6"/><circle cx="939" cy="1315" r="6"/><circle cx="265" cy="1224" r="6"/><circle cx="289" cy="1214" r="6"/><circle cx="478" cy="1344" r="6"/><circle cx="945" cy="1334" r="6"/><circle cx="914" cy="987" r="6"/><circle cx="850" cy="1043" r="6"/><circle cx="212" cy="1150" r="6"/><circle cx="435" cy="894" r="6"/><circle cx="867" cy="1011" r="6"/><circle cx="956" cy="1200" r="6"/><circle cx="919" cy="1205" r="6"/><circle cx="829" cy="1206" r="6"/><circle cx="689" cy="931" r="6"/><circle cx="346" cy="1268" r="6"/><circle cx="847" cy="1278" r="6"/><circle cx="273" cy="1227" r="6"/><circle cx="822" cy="1295" r="6"/><circle cx="757" cy="1105" r="6"/><circle cx="446" cy="1378" r="6"/><circle cx="930" cy="1208" r="6"/><circle cx="711" cy="1002" r="6"/><circle cx="729" cy="1091" r="6"/><circle cx="448" cy="1400" r="6"/></g>
<g fill="#68bf5a" fill-opacity=".72" stroke="#68bf5a" stroke-opacity=".5" stroke-width="1.2"><circle cx="854" cy="1380" r="6"/><circle cx="294" cy="1250" r="6"/><circle cx="462" cy="1328" r="6"/><circle cx="928" cy="1313" r="6"/><circle cx="433" cy="1294" r="6"/><circle cx="898" cy="1269" r="6"/><circle cx="383" cy="1325" r="6"/><circle cx="461" cy="1332" r="6"/><circle cx="303" cy="1147" r="6"/><circle cx="906" cy="998" r="6"/><circle cx="254" cy="1182" r="6"/><circle cx="668" cy="860" r="6"/><circle cx="520" cy="1037" r="6"/><circle cx="178" cy="1196" r="6"/><circle cx="440" cy="1304" r="6"/><circle cx="952" cy="1320" r="6"/><circle cx="261" cy="1235" r="6"/><circle cx="301" cy="1191" r="6"/><circle cx="497" cy="1324" r="6"/><circle cx="222" cy="1225" r="6"/><circle cx="846" cy="1380" r="6"/><circle cx="777" cy="995" r="6"/><circle cx="523" cy="1028" r="6"/><circle cx="448" cy="1362" r="6"/><circle cx="475" cy="1312" r="6"/><circle cx="958" cy="1202" r="6"/><circle cx="823" cy="1187" r="6"/><circle cx="332" cy="1243" r="6"/><circle cx="387" cy="1247" r="6"/><circle cx="452" cy="1361" r="6"/><circle cx="842" cy="1314" r="6"/><circle cx="405" cy="1271" r="6"/><circle cx="479" cy="1461" r="6"/><circle cx="461" cy="1449" r="6"/><circle cx="435" cy="1356" r="6"/><circle cx="164" cy="1204" r="6"/><circle cx="319" cy="1251" r="6"/><circle cx="466" cy="1492" r="6"/><circle cx="238" cy="1136" r="6"/><circle cx="919" cy="1211" r="6"/><circle cx="270" cy="1247" r="6"/><circle cx="440" cy="1444" r="6"/><circle cx="899" cy="1240" r="6"/><circle cx="831" cy="1233" r="6"/><circle cx="177" cy="1156" r="6"/><circle cx="408" cy="1365" r="6"/><circle cx="488" cy="1318" r="6"/><circle cx="296" cy="1254" r="6"/><circle cx="461" cy="1334" r="6"/><circle cx="197" cy="1185" r="6"/><circle cx="819" cy="1310" r="6"/><circle cx="249" cy="1222" r="6"/><circle cx="820" cy="1172" r="6"/><circle cx="322" cy="1251" r="6"/><circle cx="894" cy="978" r="6"/><circle cx="307" cy="1242" r="6"/></g>
<g fill="#ea5f56" fill-opacity=".72" stroke="#ea5f56" stroke-opacity=".5" stroke-width="1.2"><circle cx="254" cy="1187" r="6"/><circle cx="457" cy="1301" r="6"/><circle cx="305" cy="1120" r="6"/><circle cx="881" cy="956" r="6"/><circle cx="471" cy="1301" r="6"/><circle cx="417" cy="1366" r="6"/><circle cx="896" cy="1238" r="6"/><circle cx="257" cy="1125" r="6"/><circle cx="672" cy="922" r="6"/><circle cx="235" cy="1133" r="6"/><circle cx="319" cy="1199" r="6"/><circle cx="970" cy="1342" r="6"/><circle cx="924" cy="1227" r="6"/><circle cx="412" cy="1219" r="6"/><circle cx="961" cy="1334" r="6"/><circle cx="861" cy="946" r="6"/><circle cx="810" cy="1306" r="6"/><circle cx="474" cy="1453" r="6"/><circle cx="848" cy="934" r="6"/><circle cx="312" cy="1201" r="6"/><circle cx="792" cy="1072" r="6"/><circle cx="176" cy="1169" r="6"/><circle cx="339" cy="1225" r="6"/><circle cx="891" cy="1015" r="6"/><circle cx="477" cy="1462" r="6"/><circle cx="878" cy="1258" r="6"/><circle cx="887" cy="964" r="6"/><circle cx="252" cy="1172" r="6"/><circle cx="893" cy="1271" r="6"/><circle cx="519" cy="1023" r="6"/><circle cx="246" cy="1196" r="6"/><circle cx="842" cy="1383" r="6"/><circle cx="272" cy="1120" r="6"/><circle cx="287" cy="1233" r="6"/><circle cx="859" cy="1305" r="6"/><circle cx="943" cy="1224" r="6"/><circle cx="338" cy="1126" r="6"/><circle cx="852" cy="1021" r="6"/><circle cx="902" cy="1002" r="6"/><circle cx="453" cy="1321" r="6"/><circle cx="861" cy="1196" r="6"/><circle cx="744" cy="1109" r="6"/><circle cx="194" cy="1183" r="6"/><circle cx="267" cy="979" r="6"/><circle cx="822" cy="1277" r="6"/><circle cx="827" cy="1222" r="6"/><circle cx="894" cy="1281" r="6"/><circle cx="481" cy="1445" r="6"/><circle cx="861" cy="1024" r="6"/></g>
<g fill="#a0706a" fill-opacity=".72" stroke="#a0706a" stroke-opacity=".5" stroke-width="1.2"><circle cx="439" cy="906" r="6"/><circle cx="936" cy="1333" r="6"/><circle cx="927" cy="1223" r="6"/><circle cx="321" cy="1238" r="6"/><circle cx="420" cy="1328" r="6"/><circle cx="927" cy="1286" r="6"/><circle cx="947" cy="1235" r="6"/><circle cx="833" cy="1264" r="6"/><circle cx="733" cy="900" r="6"/><circle cx="766" cy="981" r="6"/><circle cx="227" cy="1182" r="6"/><circle cx="288" cy="1187" r="6"/><circle cx="872" cy="1028" r="6"/><circle cx="252" cy="1149" r="6"/><circle cx="816" cy="1060" r="6"/><circle cx="742" cy="885" r="6"/><circle cx="432" cy="1468" r="6"/><circle cx="447" cy="1315" r="6"/><circle cx="227" cy="1191" r="6"/><circle cx="731" cy="921" r="6"/><circle cx="962" cy="1221" r="6"/><circle cx="418" cy="1332" r="6"/><circle cx="435" cy="1485" r="6"/><circle cx="862" cy="1271" r="6"/><circle cx="235" cy="1207" r="6"/><circle cx="877" cy="961" r="6"/><circle cx="292" cy="1219" r="6"/><circle cx="384" cy="1295" r="6"/><circle cx="463" cy="1400" r="6"/><circle cx="248" cy="1155" r="6"/><circle cx="848" cy="1371" r="6"/><circle cx="260" cy="1218" r="6"/><circle cx="213" cy="1195" r="6"/><circle cx="461" cy="1404" r="6"/><circle cx="175" cy="1179" r="6"/><circle cx="399" cy="1360" r="6"/><circle cx="425" cy="1381" r="6"/></g>
<g fill="#a8a8a8" fill-opacity=".72" stroke="#a8a8a8" stroke-opacity=".5" stroke-width="1.2"><circle cx="871" cy="1315" r="6"/><circle cx="386" cy="1271" r="6"/><circle cx="911" cy="1184" r="6"/><circle cx="874" cy="1233" r="6"/><circle cx="861" cy="1263" r="6"/><circle cx="477" cy="1346" r="6"/><circle cx="664" cy="856" r="6"/><circle cx="859" cy="1205" r="6"/><circle cx="392" cy="1224" r="6"/><circle cx="738" cy="996" r="6"/><circle cx="241" cy="1174" r="6"/><circle cx="783" cy="1093" r="6"/><circle cx="806" cy="1065" r="6"/><circle cx="210" cy="1156" r="6"/><circle cx="395" cy="1308" r="6"/><circle cx="376" cy="1115" r="6"/><circle cx="277" cy="1125" r="6"/><circle cx="836" cy="1175" r="6"/><circle cx="408" cy="1266" r="6"/><circle cx="911" cy="1226" r="6"/><circle cx="278" cy="1140" r="6"/><circle cx="236" cy="1175" r="6"/><circle cx="937" cy="1272" r="6"/><circle cx="403" cy="1239" r="6"/><circle cx="230" cy="1188" r="6"/><circle cx="328" cy="1212" r="6"/><circle cx="844" cy="1185" r="6"/><circle cx="670" cy="919" r="6"/><circle cx="352" cy="1246" r="6"/><circle cx="854" cy="1253" r="6"/><circle cx="845" cy="1385" r="6"/><circle cx="267" cy="1209" r="6"/><circle cx="371" cy="1271" r="6"/><circle cx="850" cy="1300" r="6"/><circle cx="900" cy="977" r="6"/><circle cx="334" cy="1252" r="6"/><circle cx="473" cy="1313" r="6"/><circle cx="307" cy="1192" r="6"/><circle cx="340" cy="1235" r="6"/><circle cx="790" cy="985" r="6"/><circle cx="192" cy="1152" r="6"/><circle cx="914" cy="1191" r="6"/><circle cx="916" cy="1194" r="6"/><circle cx="924" cy="1309" r="6"/><circle cx="386" cy="1314" r="6"/><circle cx="740" cy="1097" r="6"/><circle cx="927" cy="1244" r="6"/><circle cx="337" cy="1229" r="6"/></g>
<g fill="#68bf5a" fill-opacity=".72" stroke="#68bf5a" stroke-opacity=".5" stroke-width="1.2"><circle cx="939" cy="1324" r="6"/><circle cx="488" cy="1346" r="6"/><circle cx="498" cy="1218" r="6"/><circle cx="842" cy="1309" r="6"/><circle cx="748" cy="892" r="6"/><circle cx="196" cy="1219" r="6"/><circle cx="936" cy="1190" r="6"/><circle cx="208" cy="1209" r="6"/><circle cx="726" cy="1092" r="6"/><circle cx="429" cy="1382" r="6"/><circle cx="451" cy="1455" r="6"/><circle cx="412" cy="1277" r="6"/><circle cx="157" cy="1189" r="6"/><circle cx="451" cy="1296" r="6"/><circle cx="884" cy="1255" r="6"/><circle cx="347" cy="1215" r="6"/><circle cx="814" cy="1288" r="6"/><circle cx="165" cy="1149" r="6"/><circle cx="975" cy="1286" r="6"/><circle cx="234" cy="1228" r="6"/><circle cx="210" cy="1157" r="6"/><circle cx="642" cy="872" r="6"/><circle cx="812" cy="1061" r="6"/><circle cx="441" cy="1441" r="6"/><circle cx="229" cy="1232" r="6"/><circle cx="887" cy="1026" r="6"/><circle cx="747" cy="1109" r="6"/><circle cx="353" cy="1251" r="6"/><circle cx="408" cy="1270" r="6"/><circle cx="770" cy="1078" r="6"/><circle cx="871" cy="1273" r="6"/><circle cx="906" cy="1328" r="6"/><circle cx="829" cy="1282" r="6"/><circle cx="683" cy="866" r="6"/><circle cx="411" cy="1354" r="6"/><circle cx="330" cy="1259" r="6"/><circle cx="318" cy="1247" r="6"/><circle cx="903" cy="1097" r="6"/><circle cx="759" cy="982" r="6"/><circle cx="760" cy="1002" r="6"/><circle cx="174" cy="1210" r="6"/><circle cx="298" cy="1186" r="6"/><circle cx="313" cy="1250" r="6"/><circle cx="916" cy="1331" r="6"/><circle cx="427" cy="1467" r="6"/><circle cx="470" cy="1379" r="6"/><circle cx="446" cy="1319" r="6"/><circle cx="894" cy="1014" r="6"/><circle cx="870" cy="1034" r="6"/><circle cx="444" cy="1497" r="6"/><circle cx="911" cy="1203" r="6"/><circle cx="863" cy="1384" r="6"/><circle cx="219" cy="1183" r="6"/><circle cx="168" cy="1202" r="6"/><circle cx="340" cy="1254" r="6"/><circle cx="299" cy="1143" r="6"/><circle cx="332" cy="1125" r="6"/><circle cx="169" cy="1192" r="6"/><circle cx="860" cy="1210" r="6"/><circle cx="408" cy="1334" r="6"/><circle cx="223" cy="1215" r="6"/><circle cx="475" cy="1446" r="6"/><circle cx="844" cy="1302" r="6"/><circle cx="462" cy="1480" r="6"/><circle cx="834" cy="1248" r="6"/><circle cx="915" cy="1260" r="6"/><circle cx="295" cy="1234" r="6"/><circle cx="403" cy="1356" r="6"/><circle cx="382" cy="1246" r="6"/><circle cx="473" cy="1348" r="6"/></g>
<g fill="#e992cc" fill-opacity=".72" stroke="#e992cc" stroke-opacity=".5" stroke-width="1.2"><circle cx="916" cy="1216" r="6"/><circle cx="865" cy="1260" r="6"/><circle cx="873" cy="1248" r="6"/><circle cx="327" cy="1231" r="6"/><circle cx="433" cy="1469" r="6"/><circle cx="357" cy="877" r="6"/><circle cx="418" cy="1327" r="6"/><circle cx="782" cy="1105" r="6"/><circle cx="915" cy="1288" r="6"/><circle cx="820" cy="1055" r="6"/><circle cx="939" cy="1266" r="6"/><circle cx="843" cy="1168" r="6"/><circle cx="433" cy="1369" r="6"/><circle cx="900" cy="1269" r="6"/><circle cx="809" cy="1160" r="6"/><circle cx="840" cy="1214" r="6"/><circle cx="848" cy="1194" r="6"/><circle cx="747" cy="995" r="6"/><circle cx="359" cy="1225" r="6"/><circle cx="940" cy="1325" r="6"/><circle cx="932" cy="1332" r="6"/><circle cx="371" cy="1261" r="6"/><circle cx="848" cy="1319" r="6"/><circle cx="655" cy="863" r="6"/><circle cx="724" cy="1090" r="6"/><circle cx="447" cy="1381" r="6"/><circle cx="262" cy="1145" r="6"/><circle cx="966" cy="1287" r="6"/><circle cx="848" cy="1170" r="6"/><circle cx="886" cy="1302" r="6"/><circle cx="934" cy="1248" r="6"/><circle cx="349" cy="1230" r="6"/><circle cx="181" cy="1171" r="6"/><circle cx="778" cy="999" r="6"/><circle cx="214" cy="1214" r="6"/><circle cx="421" cy="1324" r="6"/><circle cx="810" cy="1110" r="6"/><circle cx="796" cy="989" r="6"/><circle cx="889" cy="1000" r="6"/><circle cx="330" cy="893" r="6"/><circle cx="173" cy="1181" r="6"/><circle cx="157" cy="1154" r="6"/><circle cx="874" cy="1179" r="6"/><circle cx="777" cy="1099" r="6"/><circle cx="900" cy="1311" r="6"/><circle cx="791" cy="1070" r="6"/><circle cx="894" cy="1002" r="6"/><circle cx="925" cy="1336" r="6"/><circle cx="840" cy="1201" r="6"/></g>
<g fill="#a98bd0" fill-opacity=".72" stroke="#a98bd0" stroke-opacity=".5" stroke-width="1.2"><circle cx="386" cy="879" r="6"/><circle cx="478" cy="1220" r="6"/><circle cx="780" cy="1120" r="6"/><circle cx="287" cy="1120" r="6"/><circle cx="401" cy="876" r="6"/><circle cx="149" cy="1167" r="6"/><circle cx="783" cy="1061" r="6"/><circle cx="903" cy="1261" r="6"/><circle cx="865" cy="1293" r="6"/><circle cx="359" cy="1210" r="6"/><circle cx="327" cy="886" r="6"/><circle cx="936" cy="1211" r="6"/><circle cx="342" cy="871" r="6"/><circle cx="395" cy="1228" r="6"/><circle cx="875" cy="1273" r="6"/><circle cx="949" cy="1251" r="6"/><circle cx="521" cy="1031" r="6"/><circle cx="928" cy="1273" r="6"/><circle cx="448" cy="1219" r="6"/><circle cx="357" cy="882" r="6"/><circle cx="453" cy="1494" r="6"/><circle cx="468" cy="1376" r="6"/><circle cx="269" cy="1150" r="6"/><circle cx="348" cy="865" r="6"/><circle cx="457" cy="1367" r="6"/><circle cx="425" cy="1220" r="6"/><circle cx="905" cy="973" r="6"/><circle cx="684" cy="931" r="6"/><circle cx="378" cy="884" r="6"/><circle cx="906" cy="1184" r="6"/><circle cx="386" cy="1215" r="6"/><circle cx="845" cy="1285" r="6"/><circle cx="206" cy="1148" r="6"/><circle cx="455" cy="1396" r="6"/><circle cx="844" cy="1231" r="6"/><circle cx="230" cy="1145" r="6"/><circle cx="291" cy="1207" r="6"/><circle cx="261" cy="1184" r="6"/><circle cx="741" cy="1102" r="6"/><circle cx="819" cy="1203" r="6"/><circle cx="786" cy="986" r="6"/><circle cx="909" cy="1229" r="6"/><circle cx="386" cy="893" r="6"/><circle cx="413" cy="1303" r="6"/><circle cx="337" cy="1233" r="6"/></g>
<g fill="#fb9c45" fill-opacity=".72" stroke="#fb9c45" stroke-opacity=".5" stroke-width="1.2"><circle cx="659" cy="885" r="6"/><circle cx="888" cy="1099" r="6"/><circle cx="814" cy="1303" r="6"/><circle cx="218" cy="1174" r="6"/><circle cx="392" cy="890" r="6"/><circle cx="967" cy="1288" r="6"/><circle cx="331" cy="1220" r="6"/><circle cx="335" cy="1121" r="6"/><circle cx="369" cy="1245" r="6"/><circle cx="353" cy="1240" r="6"/><circle cx="408" cy="1221" r="6"/><circle cx="420" cy="1258" r="6"/><circle cx="307" cy="1234" r="6"/><circle cx="852" cy="1278" r="6"/><circle cx="828" cy="1219" r="6"/><circle cx="956" cy="1305" r="6"/><circle cx="403" cy="899" r="6"/><circle cx="460" cy="1380" r="6"/><circle cx="754" cy="998" r="6"/><circle cx="796" cy="1137" r="6"/><circle cx="456" cy="1490" r="6"/><circle cx="645" cy="855" r="6"/><circle cx="777" cy="1096" r="6"/><circle cx="271" cy="1130" r="6"/><circle cx="399" cy="1336" r="6"/><circle cx="473" cy="1474" r="6"/><circle cx="449" cy="1478" r="6"/><circle cx="324" cy="1231" r="6"/><circle cx="910" cy="1190" r="6"/><circle cx="438" cy="921" r="6"/><circle cx="389" cy="864" r="6"/><circle cx="250" cy="1137" r="6"/><circle cx="470" cy="1491" r="6"/><circle cx="902" cy="964" r="6"/><circle cx="853" cy="1283" r="6"/><circle cx="420" cy="1388" r="6"/><circle cx="982" cy="1371" r="6"/><circle cx="298" cy="1127" r="6"/><circle cx="957" cy="1338" r="6"/><circle cx="216" cy="1144" r="6"/><circle cx="421" cy="870" r="6"/><circle cx="336" cy="1245" r="6"/><circle cx="870" cy="1247" r="6"/><circle cx="309" cy="1209" r="6"/><circle cx="331" cy="877" r="6"/><circle cx="410" cy="1306" r="6"/><circle cx="858" cy="1180" r="6"/><circle cx="243" cy="1236" r="6"/></g>
<g fill="#6e9fd0" fill-opacity=".72" stroke="#6e9fd0" stroke-opacity=".5" stroke-width="1.2"><circle cx="222" cy="1163" r="6"/><circle cx="449" cy="1370" r="6"/><circle cx="839" cy="1257" r="6"/><circle cx="423" cy="1375" r="6"/><circle cx="441" cy="1343" r="6"/><circle cx="445" cy="1365" r="6"/><circle cx="399" cy="1270" r="6"/><circle cx="261" cy="1170" r="6"/><circle cx="280" cy="1230" r="6"/><circle cx="433" cy="881" r="6"/><circle cx="224" cy="1189" r="6"/><circle cx="360" cy="885" r="6"/><circle cx="912" cy="1188" r="6"/><circle cx="309" cy="1229" r="6"/><circle cx="929" cy="1192" r="6"/><circle cx="351" cy="1117" r="6"/><circle cx="932" cy="1259" r="6"/><circle cx="884" cy="1181" r="6"/><circle cx="584" cy="1026" r="6"/><circle cx="934" cy="1273" r="6"/><circle cx="382" cy="1318" r="6"/><circle cx="415" cy="1224" r="6"/><circle cx="208" cy="1198" r="6"/><circle cx="950" cy="1215" r="6"/><circle cx="661" cy="885" r="6"/><circle cx="604" cy="1026" r="6"/><circle cx="275" cy="1217" r="6"/><circle cx="792" cy="1062" r="6"/><circle cx="350" cy="1211" r="6"/><circle cx="893" cy="1312" r="6"/><circle cx="849" cy="1225" r="6"/><circle cx="423" cy="1316" r="6"/><circle cx="926" cy="1235" r="6"/><circle cx="423" cy="1458" r="6"/><circle cx="883" cy="1317" r="6"/><circle cx="315" cy="1135" r="6"/><circle cx="1088" cy="1034" r="6"/><circle cx="654" cy="877" r="6"/><circle cx="269" cy="1129" r="6"/><circle cx="410" cy="1288" r="6"/><circle cx="328" cy="906" r="6"/><circle cx="920" cy="1294" r="6"/><circle cx="850" cy="1213" r="6"/><circle cx="853" cy="1382" r="6"/><circle cx="431" cy="1472" r="6"/><circle cx="445" cy="1465" r="6"/><circle cx="244" cy="1176" r="6"/><circle cx="656" cy="860" r="6"/></g>
<line x1="92.4" y1="11.9" x2="92.4" y2="726.8" stroke="#000" stroke-width="2.6"/>
<line x1="91.1" y1="725.5" x2="1237" y2="725.5" stroke="#000" stroke-width="2.6"/>
<line x1="101.6" y1="725.5" x2="101.6" y2="732" stroke="#000" stroke-width="2.6"/>
<text x="101.6" y="755" font-size="22.5" text-anchor="middle">-10</text>
<line x1="323.5" y1="725.5" x2="323.5" y2="732" stroke="#000" stroke-width="2.6"/>
<text x="323.5" y="755" font-size="22.5" text-anchor="middle">-5</text>
<line x1="545.4" y1="725.5" x2="545.4" y2="732" stroke="#000" stroke-width="2.6"/>
<text x="545.4" y="755" font-size="22.5" text-anchor="middle">0</text>
<line x1="767.2" y1="725.5" x2="767.2" y2="732" stroke="#000" stroke-width="2.6"/>
<text x="767.2" y="755" font-size="22.5" text-anchor="middle">5</text>
<line x1="989.1" y1="725.5" x2="989.1" y2="732" stroke="#000" stroke-width="2.6"/>
<text x="989.1" y="755" font-size="22.5" text-anchor="middle">10</text>
<line x1="1211" y1="725.5" x2="1211" y2="732" stroke="#000" stroke-width="2.6"/>
<text x="1211" y="755" font-size="22.5" text-anchor="middle">15</text>
<line x1="85.9" y1="110.2" x2="92.4" y2="110.2" stroke="#000" stroke-width="2.6"/>
<text x="80.4" y="117.7" font-size="22.5" text-anchor="end">10</text>
<line x1="85.9" y1="244.1" x2="92.4" y2="244.1" stroke="#000" stroke-width="2.6"/>
<text x="80.4" y="251.6" font-size="22.5" text-anchor="end">5</text>
<line x1="85.9" y1="378.1" x2="92.4" y2="378.1" stroke="#000" stroke-width="2.6"/>
<text x="80.4" y="385.6" font-size="22.5" text-anchor="end">0</text>
<line x1="85.9" y1="512" x2="92.4" y2="512" stroke="#000" stroke-width="2.6"/>
<text x="80.4" y="519.5" font-size="22.5" text-anchor="end">-5</text>
<line x1="85.9" y1="645.9" x2="92.4" y2="645.9" stroke="#000" stroke-width="2.6"/>
<text x="80.4" y="653.4" font-size="22.5" text-anchor="end">-10</text>
<text x="662.6" y="786.6" font-size="27" text-anchor="middle">UMAP 1</text>
<text transform="translate(33,368.5) rotate(-90)" font-size="27" text-anchor="middle">UMAP 2</text>
<line x1="92.4" y1="817.9" x2="92.4" y2="1532.8" stroke="#000" stroke-width="2.6"/>
<line x1="91.1" y1="1531.5" x2="1139" y2="1531.5" stroke="#000" stroke-width="2.6"/>
<line x1="100.6" y1="1531.5" x2="100.6" y2="1538" stroke="#000" stroke-width="2.6"/>
<text x="100.6" y="1561" font-size="22.5" text-anchor="middle">-10</text>
<line x1="303.5" y1="1531.5" x2="303.5" y2="1538" stroke="#000" stroke-width="2.6"/>
<text x="303.5" y="1561" font-size="22.5" text-anchor="middle">-5</text>
<line x1="506.4" y1="1531.5" x2="506.4" y2="1538" stroke="#000" stroke-width="2.6"/>
<text x="506.4" y="1561" font-size="22.5" text-anchor="middle">0</text>
<line x1="709.3" y1="1531.5" x2="709.3" y2="1538" stroke="#000" stroke-width="2.6"/>
<text x="709.3" y="1561" font-size="22.5" text-anchor="middle">5</text>
<line x1="912.1" y1="1531.5" x2="912.1" y2="1538" stroke="#000" stroke-width="2.6"/>
<text x="912.1" y="1561" font-size="22.5" text-anchor="middle">10</text>
<line x1="1115" y1="1531.5" x2="1115" y2="1538" stroke="#000" stroke-width="2.6"/>
<text x="1115" y="1561" font-size="22.5" text-anchor="middle">15</text>
<line x1="85.9" y1="916.2" x2="92.4" y2="916.2" stroke="#000" stroke-width="2.6"/>
<text x="80.4" y="923.7" font-size="22.5" text-anchor="end">10</text>
<line x1="85.9" y1="1050.1" x2="92.4" y2="1050.1" stroke="#000" stroke-width="2.6"/>
<text x="80.4" y="1057.6" font-size="22.5" text-anchor="end">5</text>
<line x1="85.9" y1="1184.1" x2="92.4" y2="1184.1" stroke="#000" stroke-width="2.6"/>
<text x="80.4" y="1191.6" font-size="22.5" text-anchor="end">0</text>
<line x1="85.9" y1="1318" x2="92.4" y2="1318" stroke="#000" stroke-width="2.6"/>
<text x="80.4" y="1325.5" font-size="22.5" text-anchor="end">-5</text>
<line x1="85.9" y1="1451.9" x2="92.4" y2="1451.9" stroke="#000" stroke-width="2.6"/>
<text x="80.4" y="1459.4" font-size="22.5" text-anchor="end">-10</text>
<text x="613.5" y="1592.5" font-size="27" text-anchor="middle">UMAP 1</text>
<text transform="translate(33,1174.5) rotate(-90)" font-size="27" text-anchor="middle">UMAP 2</text>
<text x="1262.4" y="153.5" font-size="27">label</text>
<circle cx="1276.6" cy="184.6" r="5.2" fill="#1f77b4" fill-opacity="0.6" stroke="#1f77b4" stroke-opacity="0.6" stroke-width="1.4"/>
<text x="1305.5" y="192.1" font-size="22.5">1</text>
<circle cx="1276.6" cy="213.8" r="5.2" fill="#aec7e8" fill-opacity="0.6" stroke="#aec7e8" stroke-opacity="0.6" stroke-width="1.4"/>
<text x="1305.5" y="221.3" font-size="22.5">2</text>
<circle cx="1276.6" cy="243.1" r="5.2" fill="#ff7f0e" fill-opacity="0.6" stroke="#ff7f0e" stroke-opacity="0.6" stroke-width="1.4"/>
<text x="1305.5" y="250.6" font-size="22.5">3</text>
<circle cx="1276.6" cy="272.3" r="5.2" fill="#ffbb78" fill-opacity="0.6" stroke="#ffbb78" stroke-opacity="0.6" stroke-width="1.4"/>
<text x="1305.5" y="279.8" font-size="22.5">4</text>
<circle cx="1276.6" cy="301.6" r="5.2" fill="#2ca02c" fill-opacity="0.6" stroke="#2ca02c" stroke-opacity="0.6" stroke-width="1.4"/>
<text x="1305.5" y="309.1" font-size="22.5">5</text>
<circle cx="1276.6" cy="330.8" r="5.2" fill="#98df8a" fill-opacity="0.6" stroke="#98df8a" stroke-opacity="0.6" stroke-width="1.4"/>
<text x="1305.5" y="338.3" font-size="22.5">6</text>
<circle cx="1276.6" cy="360.0" r="5.2" fill="#d62728" fill-opacity="0.6" stroke="#d62728" stroke-opacity="0.6" stroke-width="1.4"/>
<text x="1305.5" y="367.5" font-size="22.5">7</text>
<circle cx="1276.6" cy="389.3" r="5.2" fill="#ff9896" fill-opacity="0.6" stroke="#ff9896" stroke-opacity="0.6" stroke-width="1.4"/>
<text x="1305.5" y="396.8" font-size="22.5">8</text>
<circle cx="1276.6" cy="418.5" r="5.2" fill="#9467bd" fill-opacity="0.6" stroke="#9467bd" stroke-opacity="0.6" stroke-width="1.4"/>
<text x="1305.5" y="426.0" font-size="22.5">9</text>
<circle cx="1276.6" cy="447.8" r="5.2" fill="#c5b0d5" fill-opacity="0.6" stroke="#c5b0d5" stroke-opacity="0.6" stroke-width="1.4"/>
<text x="1305.5" y="455.3" font-size="22.5">10</text>
<circle cx="1276.6" cy="477.0" r="5.2" fill="#8c564b" fill-opacity="0.6" stroke="#8c564b" stroke-opacity="0.6" stroke-width="1.4"/>
<text x="1305.5" y="484.5" font-size="22.5">11</text>
<circle cx="1276.6" cy="506.2" r="5.2" fill="#c49c94" fill-opacity="0.6" stroke="#c49c94" stroke-opacity="0.6" stroke-width="1.4"/>
<text x="1305.5" y="513.7" font-size="22.5">12</text>
<circle cx="1276.6" cy="535.5" r="5.2" fill="#e377c2" fill-opacity="0.6" stroke="#e377c2" stroke-opacity="0.6" stroke-width="1.4"/>
<text x="1305.5" y="543.0" font-size="22.5">13</text>
<circle cx="1276.6" cy="564.7" r="5.2" fill="#f7b6d2" fill-opacity="0.6" stroke="#f7b6d2" stroke-opacity="0.6" stroke-width="1.4"/>
<text x="1305.5" y="572.2" font-size="22.5">14</text>
<circle cx="1276.6" cy="594.0" r="5.2" fill="#7f7f7f" fill-opacity="0.6" stroke="#7f7f7f" stroke-opacity="0.6" stroke-width="1.4"/>
<text x="1305.5" y="601.5" font-size="22.5">15</text>
<text x="1164.5" y="1062" font-size="27">Donor</text>
<circle cx="1178.4" cy="1092.6" r="5.2" fill="#1f77b4" fill-opacity="0.45" stroke="#1f77b4" stroke-opacity="0.45" stroke-width="1.4"/>
<text x="1207" y="1100.1" font-size="22.5">MantonBM1</text>
<circle cx="1178.4" cy="1121.9" r="5.2" fill="#ff7f0e" fill-opacity="0.45" stroke="#ff7f0e" stroke-opacity="0.45" stroke-width="1.4"/>
<text x="1207" y="1129.4" font-size="22.5">MantonBM2</text>
<circle cx="1178.4" cy="1151.2" r="5.2" fill="#2ca02c" fill-opacity="0.45" stroke="#2ca02c" stroke-opacity="0.45" stroke-width="1.4"/>
<text x="1207" y="1158.7" font-size="22.5">MantonBM3</text>
<circle cx="1178.4" cy="1180.5" r="5.2" fill="#d62728" fill-opacity="0.45" stroke="#d62728" stroke-opacity="0.45" stroke-width="1.4"/>
<text x="1207" y="1188.0" font-size="22.5">MantonBM4</text>
<circle cx="1178.4" cy="1209.8" r="5.2" fill="#9467bd" fill-opacity="0.45" stroke="#9467bd" stroke-opacity="0.45" stroke-width="1.4"/>
<text x="1207" y="1217.3" font-size="22.5">MantonBM5</text>
<circle cx="1178.4" cy="1239.1" r="5.2" fill="#8c564b" fill-opacity="0.45" stroke="#8c564b" stroke-opacity="0.45" stroke-width="1.4"/>
<text x="1207" y="1246.6" font-size="22.5">MantonBM6</text>
<circle cx="1178.4" cy="1268.4" r="5.2" fill="#e377c2" fill-opacity="0.45" stroke="#e377c2" stroke-opacity="0.45" stroke-width="1.4"/>
<text x="1207" y="1275.9" font-size="22.5">MantonBM7</text>
<circle cx="1178.4" cy="1297.7" r="5.2" fill="#7f7f7f" fill-opacity="0.45" stroke="#7f7f7f" stroke-opacity="0.45" stroke-width="1.4"/>
<text x="1207" y="1305.2" font-size="22.5">MantonBM8</text>
</svg></body></html>
